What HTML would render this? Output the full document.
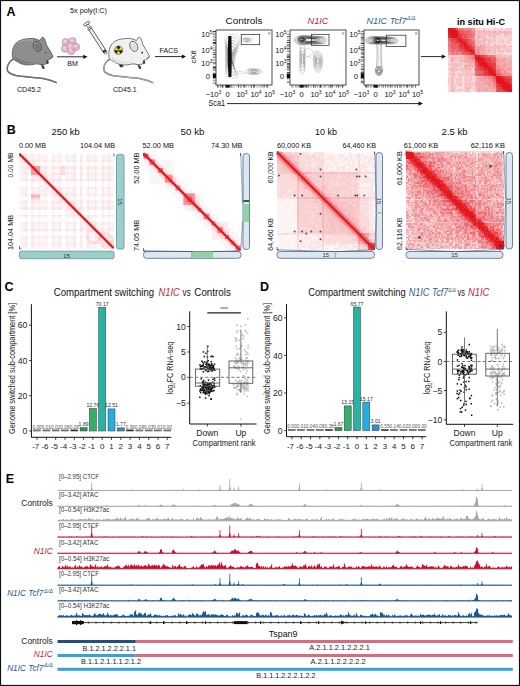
<!DOCTYPE html><html><head><meta charset="utf-8"><style>html,body{margin:0;padding:0;background:#fff;overflow:hidden;}svg{display:block;}text{font-family:"Liberation Sans", sans-serif;}</style></head><body>
<svg width="520" height="686" viewBox="0 0 520 686">
<rect x="0" y="0" width="520" height="686" fill="#fff"/>
<text x="6.5" y="15.8" font-size="12.5" text-anchor="start" fill="#000" font-weight="bold" >A</text>
<g transform="translate(0,0)"><path d="M13.5 59 C9 61 6.8 66 7.3 70 C8 73 11 74.3 16 75.6 C24 77.2 36 77.4 44 78.8 C50 80 54 81.5 56.8 82.9" fill="none" stroke="#505050" stroke-width="1.5"/><path d="M13.5 59 C9 61 6.8 66 7.3 70 C8 73 11 74.3 16 75.6 C24 77.2 36 77.4 44 78.8 C50 80 54 81.5 56.8 82.9" fill="none" stroke="#8e8e8e" stroke-width="0.6"/><path d="M12.9 58.6 C11.5 54 12.5 46 16.6 42.7 C19.5 40 24 38.8 30 38.5 C34 38.3 37 39 39.9 40.6 L42 37.4 C43 37.2 44 37.8 44.5 38.8 C45.5 41 46 43.5 46.5 45 C48.5 48.5 51 52 52.6 55.4 C52.4 57 51.5 58 50.5 58.6 C49.5 59.5 48.3 60 47.3 60.7 L46.2 63.8 C45 64.5 43.5 64.5 42 64.9 C40 64.5 38.5 64 36.7 63.8 C33 64.6 29 65.2 26.2 64.9 C22.5 64.4 19.5 63.4 17.7 61.7 C15.5 61 14 60 12.9 58.6 Z" fill="#8e8e8e" stroke="#505050" stroke-width="0.8"/><path d="M15 56 C20 61 28 62.5 36 61.5 C32 64 24 64.5 18 62.5 C16 61.5 15 59 15 56 Z" fill="#6e6e6e" opacity="0.55"/><path d="M18 43 C22 40 28 39.5 33 40" fill="none" stroke="#fff" stroke-width="0.8" opacity="0.35"/><ellipse cx="37.3" cy="46.4" rx="3.7" ry="5.3" transform="rotate(-25 37.3 46.4)" fill="#8e8e8e" stroke="#505050" stroke-width="0.8"/><ellipse cx="37.6" cy="46.8" rx="2.3" ry="3.7" transform="rotate(-25 37.6 46.8)" fill="#6e6e6e" opacity="0.7"/><circle cx="45.7" cy="52.7" r="0.6" fill="#333"/><path d="M41 64 L42.3 68.6 L44.6 69.2 L44.2 66.2 Z" fill="#333"/><path d="M46.6 60.2 L46.8 64.2 L48.8 63.2 L48.2 60.5 Z" fill="#333"/><path d="M50.5 58.6 L52.6 57.5 L53.3 56.2" fill="none" stroke="#333" stroke-width="0.6"/></g>
<g transform="translate(96.5,0)"><path d="M13.5 59 C9 61 6.8 66 7.3 70 C8 73 11 74.3 16 75.6 C24 77.2 36 77.4 44 78.8 C50 80 54 81.5 56.8 82.9" fill="none" stroke="#555" stroke-width="1.5"/><path d="M13.5 59 C9 61 6.8 66 7.3 70 C8 73 11 74.3 16 75.6 C24 77.2 36 77.4 44 78.8 C50 80 54 81.5 56.8 82.9" fill="none" stroke="#f0f0f0" stroke-width="0.6"/><path d="M12.9 58.6 C11.5 54 12.5 46 16.6 42.7 C19.5 40 24 38.8 30 38.5 C34 38.3 37 39 39.9 40.6 L42 37.4 C43 37.2 44 37.8 44.5 38.8 C45.5 41 46 43.5 46.5 45 C48.5 48.5 51 52 52.6 55.4 C52.4 57 51.5 58 50.5 58.6 C49.5 59.5 48.3 60 47.3 60.7 L46.2 63.8 C45 64.5 43.5 64.5 42 64.9 C40 64.5 38.5 64 36.7 63.8 C33 64.6 29 65.2 26.2 64.9 C22.5 64.4 19.5 63.4 17.7 61.7 C15.5 61 14 60 12.9 58.6 Z" fill="#f0f0f0" stroke="#555" stroke-width="0.8"/><path d="M15 56 C20 61 28 62.5 36 61.5 C32 64 24 64.5 18 62.5 C16 61.5 15 59 15 56 Z" fill="#d4d4d4" opacity="0.55"/><path d="M18 43 C22 40 28 39.5 33 40" fill="none" stroke="#fff" stroke-width="0.8" opacity="0.35"/><ellipse cx="37.3" cy="46.4" rx="3.7" ry="5.3" transform="rotate(-25 37.3 46.4)" fill="#f0f0f0" stroke="#555" stroke-width="0.8"/><ellipse cx="37.6" cy="46.8" rx="2.3" ry="3.7" transform="rotate(-25 37.6 46.8)" fill="#d4d4d4" opacity="0.7"/><circle cx="45.7" cy="52.7" r="0.9" fill="#222"/><path d="M41 64 L42.3 68.6 L44.6 69.2 L44.2 66.2 Z" fill="#333"/><path d="M46.6 60.2 L46.8 64.2 L48.8 63.2 L48.2 60.5 Z" fill="#333"/><path d="M50.5 58.6 L52.6 57.5 L53.3 56.2" fill="none" stroke="#333" stroke-width="0.6"/></g>
<path d="M119 64.5 L120 67.3 L123.5 67 L122.5 64.8 Z" fill="#333"/>
<circle cx="118.5" cy="50.2" r="4.3" fill="#e4d442" stroke="#222" stroke-width="0.4"/>
<path d="M118.5 50.2 L116.46 46.66 A4.085 4.085 0 0 1 120.54 46.66 Z" fill="#222"/>
<path d="M118.5 50.2 L122.58 50.20 A4.085 4.085 0 0 1 120.54 53.74 Z" fill="#222"/>
<path d="M118.5 50.2 L116.46 53.74 A4.085 4.085 0 0 1 114.42 50.20 Z" fill="#222"/>
<circle cx="118.5" cy="50.2" r="0.9" fill="#e8d000"/><circle cx="118.5" cy="50.2" r="0.55" fill="#222"/>
<circle cx="65.8" cy="42.3" r="3.8" fill="#e9b3cb" stroke="#8a8a8a" stroke-width="0.45"/>
<circle cx="72.5" cy="41.2" r="3.8" fill="#e9b3cb" stroke="#8a8a8a" stroke-width="0.45"/>
<circle cx="76" cy="47" r="3.8" fill="#e9b3cb" stroke="#8a8a8a" stroke-width="0.45"/>
<circle cx="71.3" cy="51" r="3.8" fill="#e9b3cb" stroke="#8a8a8a" stroke-width="0.45"/>
<circle cx="65.2" cy="48.6" r="3.8" fill="#e9b3cb" stroke="#8a8a8a" stroke-width="0.45"/>
<circle cx="70.6" cy="46.4" r="3.8" fill="#e9b3cb" stroke="#8a8a8a" stroke-width="0.45"/>
<circle cx="65.0" cy="41.5" r="1.4" fill="#f5d8e6" opacity="0.8"/>
<circle cx="71.7" cy="40.400000000000006" r="1.4" fill="#f5d8e6" opacity="0.8"/>
<circle cx="75.2" cy="46.2" r="1.4" fill="#f5d8e6" opacity="0.8"/>
<circle cx="70.5" cy="50.2" r="1.4" fill="#f5d8e6" opacity="0.8"/>
<circle cx="64.4" cy="47.800000000000004" r="1.4" fill="#f5d8e6" opacity="0.8"/>
<circle cx="69.8" cy="45.6" r="1.4" fill="#f5d8e6" opacity="0.8"/>
<g transform="translate(86.4,23.2) rotate(-33)"><rect x="-3.3" y="-0.6" width="6.6" height="2.3" rx="1.1" fill="#fff" stroke="#333" stroke-width="0.7"/><rect x="-1.1" y="1.7" width="2.2" height="3.8" fill="#fff" stroke="#333" stroke-width="0.6"/><rect x="-2.3" y="5.3" width="4.6" height="1.7" rx="0.8" fill="#fff" stroke="#333" stroke-width="0.6"/><rect x="-1.6" y="7" width="3.2" height="28" fill="#fff" stroke="#333" stroke-width="0.75"/><line x1="-1.5" y1="9.0" x2="1.5" y2="10.2" stroke="#bbb" stroke-width="0.4"/><line x1="-1.5" y1="11.4" x2="1.5" y2="12.6" stroke="#bbb" stroke-width="0.4"/><line x1="-1.5" y1="13.8" x2="1.5" y2="15.0" stroke="#bbb" stroke-width="0.4"/><line x1="-1.5" y1="16.2" x2="1.5" y2="17.4" stroke="#bbb" stroke-width="0.4"/><line x1="-1.5" y1="18.6" x2="1.5" y2="19.8" stroke="#bbb" stroke-width="0.4"/><line x1="-1.5" y1="21.0" x2="1.5" y2="22.2" stroke="#bbb" stroke-width="0.4"/><line x1="-1.5" y1="23.4" x2="1.5" y2="24.6" stroke="#bbb" stroke-width="0.4"/><line x1="-1.5" y1="25.8" x2="1.5" y2="27.0" stroke="#bbb" stroke-width="0.4"/><line x1="-1.5" y1="28.2" x2="1.5" y2="29.4" stroke="#bbb" stroke-width="0.4"/><rect x="-1.6" y="32" width="3.2" height="2.4" fill="#333"/><rect x="-1.3" y="34.4" width="2.6" height="2" rx="0.8" fill="#fff" stroke="#333" stroke-width="0.6"/></g>
<line x1="57" y1="56.8" x2="84.5" y2="56.8" stroke="#111" stroke-width="0.9"/>
<path d="M87.5 56.8 L83.3 54.699999999999996 L83.3 58.9 Z" fill="#111"/>
<line x1="155" y1="56.6" x2="183" y2="56.6" stroke="#111" stroke-width="0.9"/>
<path d="M186 56.6 L181.8 54.5 L181.8 58.7 Z" fill="#111"/>
<line x1="421" y1="56.6" x2="443" y2="56.6" stroke="#111" stroke-width="0.9"/>
<path d="M446 56.6 L441.8 54.5 L441.8 58.7 Z" fill="#111"/>
<text x="88.5" y="13" font-size="7" text-anchor="middle" fill="#111" textLength="37" lengthAdjust="spacingAndGlyphs" >5x poly(I:C)</text>
<text x="72.5" y="65.8" font-size="7" text-anchor="middle" fill="#111" >BM</text>
<text x="29" y="92.3" font-size="7.6" text-anchor="middle" fill="#111" textLength="24" lengthAdjust="spacingAndGlyphs" >CD45.2</text>
<text x="124.8" y="92.2" font-size="7.6" text-anchor="middle" fill="#111" textLength="23.5" lengthAdjust="spacingAndGlyphs" >CD45.1</text>
<text x="168.8" y="53.2" font-size="7" text-anchor="middle" fill="#111" textLength="18.5" lengthAdjust="spacingAndGlyphs" >FACS</text>
<rect x="216" y="30" width="56" height="55" fill="none" stroke="#222" stroke-width="0.8"/>
<text x="212.6" y="37.2" font-size="7.6" text-anchor="end" fill="#111">10<tspan font-size="5" dy="-2.8">5</tspan></text>
<text x="212.6" y="52.6" font-size="7.6" text-anchor="end" fill="#111">10<tspan font-size="5" dy="-2.8">4</tspan></text>
<text x="212.6" y="65.8" font-size="7.6" text-anchor="end" fill="#111">10<tspan font-size="5" dy="-2.8">3</tspan></text>
<text x="210" y="78.6" font-size="7.6" text-anchor="end" fill="#111">0</text>
<rect x="212.8" y="31.0" width="3.2" height="1.0" fill="#333"/>
<rect x="212.8" y="32.6" width="3.2" height="0.7" fill="#888"/>
<rect x="212.8" y="33.6" width="3.2" height="0.5" fill="#888"/>
<rect x="212.8" y="34.4" width="3.2" height="0.7" fill="#555"/>
<rect x="212.8" y="36.6" width="3.2" height="0.7" fill="#333"/>
<rect x="212.8" y="38.8" width="3.2" height="0.7" fill="#555"/>
<rect x="212.8" y="40.1" width="3.2" height="0.5" fill="#111"/>
<rect x="212.8" y="42.1" width="3.2" height="1.0" fill="#111"/>
<rect x="212.8" y="43.4" width="3.2" height="0.7" fill="#111"/>
<rect x="212.8" y="45.1" width="3.2" height="0.7" fill="#aaa"/>
<rect x="212.8" y="47.3" width="3.2" height="0.5" fill="#888"/>
<rect x="212.8" y="48.8" width="3.2" height="0.5" fill="#555"/>
<rect x="212.8" y="49.9" width="3.2" height="0.7" fill="#555"/>
<rect x="212.8" y="52.1" width="3.2" height="1.0" fill="#555"/>
<rect x="212.8" y="54.1" width="3.2" height="1.0" fill="#333"/>
<rect x="212.8" y="56.6" width="3.2" height="1.0" fill="#555"/>
<rect x="212.8" y="59.1" width="3.2" height="0.5" fill="#555"/>
<rect x="212.8" y="60.2" width="3.2" height="0.7" fill="#aaa"/>
<rect x="212.8" y="61.9" width="3.2" height="0.5" fill="#111"/>
<rect x="212.8" y="63.0" width="3.2" height="0.7" fill="#555"/>
<rect x="212.8" y="64.0" width="3.2" height="0.5" fill="#aaa"/>
<rect x="212.8" y="66.0" width="3.2" height="0.7" fill="#555"/>
<rect x="212.8" y="67.3" width="3.2" height="0.7" fill="#111"/>
<rect x="212.8" y="68.3" width="3.2" height="0.7" fill="#555"/>
<rect x="212.8" y="69.6" width="3.2" height="1.0" fill="#555"/>
<rect x="212.8" y="72.1" width="3.2" height="0.5" fill="#aaa"/>
<rect x="212.8" y="73.6" width="3.2" height="0.7" fill="#888"/>
<rect x="212.8" y="75.8" width="3.2" height="1.0" fill="#888"/>
<rect x="212.8" y="78.3" width="3.2" height="1.0" fill="#888"/>
<rect x="212.8" y="80.3" width="3.2" height="1.0" fill="#888"/>
<rect x="212.8" y="82.8" width="3.2" height="0.7" fill="#333"/>
<rect x="212.8" y="73.5" width="3.2" height="4.5" fill="#111"/>
<rect x="217.0" y="85" width="0.7" height="2.6" fill="#333"/>
<rect x="218.3" y="85" width="1.0" height="2.6" fill="#888"/>
<rect x="220.3" y="85" width="0.5" height="2.6" fill="#333"/>
<rect x="221.8" y="85" width="1.0" height="2.6" fill="#111"/>
<rect x="223.4" y="85" width="0.7" height="2.6" fill="#888"/>
<rect x="225.6" y="85" width="0.7" height="2.6" fill="#555"/>
<rect x="227.8" y="85" width="1.0" height="2.6" fill="#111"/>
<rect x="229.4" y="85" width="0.5" height="2.6" fill="#333"/>
<rect x="230.2" y="85" width="0.7" height="2.6" fill="#555"/>
<rect x="231.2" y="85" width="0.5" height="2.6" fill="#333"/>
<rect x="232.3" y="85" width="1.0" height="2.6" fill="#aaa"/>
<rect x="233.6" y="85" width="1.0" height="2.6" fill="#aaa"/>
<rect x="236.1" y="85" width="0.5" height="2.6" fill="#aaa"/>
<rect x="238.1" y="85" width="1.0" height="2.6" fill="#333"/>
<rect x="240.1" y="85" width="1.0" height="2.6" fill="#888"/>
<rect x="241.4" y="85" width="0.5" height="2.6" fill="#555"/>
<rect x="243.4" y="85" width="0.5" height="2.6" fill="#333"/>
<rect x="244.2" y="85" width="1.0" height="2.6" fill="#333"/>
<rect x="246.2" y="85" width="0.7" height="2.6" fill="#aaa"/>
<rect x="247.9" y="85" width="0.5" height="2.6" fill="#888"/>
<rect x="249.4" y="85" width="1.0" height="2.6" fill="#aaa"/>
<rect x="251.0" y="85" width="1.0" height="2.6" fill="#555"/>
<rect x="253.0" y="85" width="0.5" height="2.6" fill="#111"/>
<rect x="253.8" y="85" width="1.0" height="2.6" fill="#333"/>
<rect x="256.3" y="85" width="1.0" height="2.6" fill="#aaa"/>
<rect x="258.3" y="85" width="1.0" height="2.6" fill="#aaa"/>
<rect x="259.9" y="85" width="0.5" height="2.6" fill="#aaa"/>
<rect x="260.7" y="85" width="0.5" height="2.6" fill="#888"/>
<rect x="261.8" y="85" width="0.5" height="2.6" fill="#888"/>
<rect x="262.6" y="85" width="0.7" height="2.6" fill="#555"/>
<rect x="263.9" y="85" width="0.7" height="2.6" fill="#333"/>
<rect x="266.1" y="85" width="0.5" height="2.6" fill="#111"/>
<rect x="267.2" y="85" width="0.5" height="2.6" fill="#111"/>
<rect x="268.3" y="85" width="0.7" height="2.6" fill="#aaa"/>
<rect x="225.5" y="85" width="4" height="2.6" fill="#111"/>
<text x="213.5" y="97.2" font-size="7.6" text-anchor="middle" fill="#111">&#8722;10<tspan font-size="5" dy="-2.8">3</tspan></text>
<text x="227.5" y="97.2" font-size="7.6" text-anchor="middle" fill="#111">0</text>
<text x="242" y="97.2" font-size="7.6" text-anchor="middle" fill="#111">10<tspan font-size="5" dy="-2.8">3</tspan></text>
<text x="256" y="97.2" font-size="7.6" text-anchor="middle" fill="#111">10<tspan font-size="5" dy="-2.8">4</tspan></text>
<text x="269.5" y="97.2" font-size="7.6" text-anchor="middle" fill="#111">10<tspan font-size="5" dy="-2.8">5</tspan></text>
<text x="269" y="35" font-size="4" text-anchor="middle" fill="#333">9</text>
<rect x="290" y="30" width="56" height="55" fill="none" stroke="#222" stroke-width="0.8"/>
<text x="286.6" y="37.2" font-size="7.6" text-anchor="end" fill="#111">10<tspan font-size="5" dy="-2.8">5</tspan></text>
<text x="286.6" y="52.6" font-size="7.6" text-anchor="end" fill="#111">10<tspan font-size="5" dy="-2.8">4</tspan></text>
<text x="286.6" y="65.8" font-size="7.6" text-anchor="end" fill="#111">10<tspan font-size="5" dy="-2.8">3</tspan></text>
<text x="284" y="78.6" font-size="7.6" text-anchor="end" fill="#111">0</text>
<rect x="286.8" y="31.0" width="3.2" height="0.7" fill="#aaa"/>
<rect x="286.8" y="33.2" width="3.2" height="0.5" fill="#aaa"/>
<rect x="286.8" y="34.3" width="3.2" height="0.5" fill="#333"/>
<rect x="286.8" y="36.3" width="3.2" height="0.5" fill="#111"/>
<rect x="286.8" y="37.1" width="3.2" height="0.7" fill="#aaa"/>
<rect x="286.8" y="38.8" width="3.2" height="0.5" fill="#888"/>
<rect x="286.8" y="40.3" width="3.2" height="0.7" fill="#333"/>
<rect x="286.8" y="42.0" width="3.2" height="1.0" fill="#333"/>
<rect x="286.8" y="44.5" width="3.2" height="1.0" fill="#333"/>
<rect x="286.8" y="46.5" width="3.2" height="0.7" fill="#555"/>
<rect x="286.8" y="48.2" width="3.2" height="0.7" fill="#333"/>
<rect x="286.8" y="49.2" width="3.2" height="0.7" fill="#aaa"/>
<rect x="286.8" y="50.5" width="3.2" height="0.7" fill="#aaa"/>
<rect x="286.8" y="51.5" width="3.2" height="0.5" fill="#333"/>
<rect x="286.8" y="53.5" width="3.2" height="0.5" fill="#aaa"/>
<rect x="286.8" y="54.3" width="3.2" height="0.7" fill="#888"/>
<rect x="286.8" y="55.6" width="3.2" height="1.0" fill="#111"/>
<rect x="286.8" y="56.9" width="3.2" height="1.0" fill="#555"/>
<rect x="286.8" y="58.9" width="3.2" height="0.7" fill="#111"/>
<rect x="286.8" y="60.2" width="3.2" height="0.5" fill="#555"/>
<rect x="286.8" y="61.7" width="3.2" height="0.5" fill="#555"/>
<rect x="286.8" y="63.2" width="3.2" height="1.0" fill="#333"/>
<rect x="286.8" y="64.5" width="3.2" height="0.7" fill="#111"/>
<rect x="286.8" y="65.8" width="3.2" height="1.0" fill="#555"/>
<rect x="286.8" y="67.4" width="3.2" height="1.0" fill="#333"/>
<rect x="286.8" y="69.0" width="3.2" height="0.5" fill="#333"/>
<rect x="286.8" y="70.1" width="3.2" height="0.7" fill="#888"/>
<rect x="286.8" y="72.3" width="3.2" height="0.7" fill="#111"/>
<rect x="286.8" y="74.5" width="3.2" height="0.7" fill="#111"/>
<rect x="286.8" y="76.2" width="3.2" height="0.7" fill="#333"/>
<rect x="286.8" y="77.2" width="3.2" height="0.5" fill="#111"/>
<rect x="286.8" y="78.0" width="3.2" height="1.0" fill="#888"/>
<rect x="286.8" y="79.6" width="3.2" height="0.5" fill="#aaa"/>
<rect x="286.8" y="81.6" width="3.2" height="1.0" fill="#555"/>
<rect x="286.8" y="73.5" width="3.2" height="4.5" fill="#111"/>
<rect x="291.0" y="85" width="0.5" height="2.6" fill="#555"/>
<rect x="292.5" y="85" width="1.0" height="2.6" fill="#888"/>
<rect x="295.0" y="85" width="0.7" height="2.6" fill="#888"/>
<rect x="296.7" y="85" width="0.7" height="2.6" fill="#555"/>
<rect x="298.4" y="85" width="0.7" height="2.6" fill="#888"/>
<rect x="300.6" y="85" width="0.7" height="2.6" fill="#555"/>
<rect x="302.3" y="85" width="0.5" height="2.6" fill="#aaa"/>
<rect x="303.1" y="85" width="0.5" height="2.6" fill="#111"/>
<rect x="304.6" y="85" width="1.0" height="2.6" fill="#111"/>
<rect x="306.2" y="85" width="0.7" height="2.6" fill="#111"/>
<rect x="307.2" y="85" width="0.5" height="2.6" fill="#555"/>
<rect x="308.3" y="85" width="0.7" height="2.6" fill="#333"/>
<rect x="310.5" y="85" width="1.0" height="2.6" fill="#888"/>
<rect x="313.0" y="85" width="0.7" height="2.6" fill="#111"/>
<rect x="314.3" y="85" width="0.5" height="2.6" fill="#888"/>
<rect x="315.1" y="85" width="0.7" height="2.6" fill="#555"/>
<rect x="316.8" y="85" width="1.0" height="2.6" fill="#888"/>
<rect x="318.8" y="85" width="1.0" height="2.6" fill="#888"/>
<rect x="320.1" y="85" width="1.0" height="2.6" fill="#111"/>
<rect x="321.4" y="85" width="1.0" height="2.6" fill="#aaa"/>
<rect x="323.0" y="85" width="0.5" height="2.6" fill="#aaa"/>
<rect x="324.5" y="85" width="0.7" height="2.6" fill="#555"/>
<rect x="325.8" y="85" width="0.5" height="2.6" fill="#888"/>
<rect x="327.8" y="85" width="0.5" height="2.6" fill="#888"/>
<rect x="328.6" y="85" width="1.0" height="2.6" fill="#888"/>
<rect x="330.2" y="85" width="0.7" height="2.6" fill="#333"/>
<rect x="331.5" y="85" width="1.0" height="2.6" fill="#111"/>
<rect x="334.0" y="85" width="0.7" height="2.6" fill="#aaa"/>
<rect x="336.2" y="85" width="0.5" height="2.6" fill="#333"/>
<rect x="337.7" y="85" width="1.0" height="2.6" fill="#333"/>
<rect x="339.7" y="85" width="0.7" height="2.6" fill="#555"/>
<rect x="340.7" y="85" width="0.5" height="2.6" fill="#aaa"/>
<rect x="342.2" y="85" width="1.0" height="2.6" fill="#111"/>
<rect x="299.5" y="85" width="4" height="2.6" fill="#111"/>
<text x="287.5" y="97.2" font-size="7.6" text-anchor="middle" fill="#111">&#8722;10<tspan font-size="5" dy="-2.8">3</tspan></text>
<text x="301.5" y="97.2" font-size="7.6" text-anchor="middle" fill="#111">0</text>
<text x="316" y="97.2" font-size="7.6" text-anchor="middle" fill="#111">10<tspan font-size="5" dy="-2.8">3</tspan></text>
<text x="330" y="97.2" font-size="7.6" text-anchor="middle" fill="#111">10<tspan font-size="5" dy="-2.8">4</tspan></text>
<text x="343.5" y="97.2" font-size="7.6" text-anchor="middle" fill="#111">10<tspan font-size="5" dy="-2.8">5</tspan></text>
<text x="343" y="35" font-size="4" text-anchor="middle" fill="#333">9</text>
<rect x="364" y="30" width="55" height="55" fill="none" stroke="#222" stroke-width="0.8"/>
<text x="360.6" y="37.2" font-size="7.6" text-anchor="end" fill="#111">10<tspan font-size="5" dy="-2.8">5</tspan></text>
<text x="360.6" y="52.6" font-size="7.6" text-anchor="end" fill="#111">10<tspan font-size="5" dy="-2.8">4</tspan></text>
<text x="360.6" y="65.8" font-size="7.6" text-anchor="end" fill="#111">10<tspan font-size="5" dy="-2.8">3</tspan></text>
<text x="358" y="78.6" font-size="7.6" text-anchor="end" fill="#111">0</text>
<rect x="360.8" y="31.0" width="3.2" height="0.5" fill="#111"/>
<rect x="360.8" y="33.0" width="3.2" height="0.5" fill="#111"/>
<rect x="360.8" y="34.1" width="3.2" height="0.5" fill="#555"/>
<rect x="360.8" y="35.2" width="3.2" height="1.0" fill="#aaa"/>
<rect x="360.8" y="36.8" width="3.2" height="1.0" fill="#333"/>
<rect x="360.8" y="38.1" width="3.2" height="0.5" fill="#555"/>
<rect x="360.8" y="38.9" width="3.2" height="0.5" fill="#333"/>
<rect x="360.8" y="40.0" width="3.2" height="0.7" fill="#888"/>
<rect x="360.8" y="41.7" width="3.2" height="0.5" fill="#888"/>
<rect x="360.8" y="42.8" width="3.2" height="1.0" fill="#111"/>
<rect x="360.8" y="44.8" width="3.2" height="1.0" fill="#888"/>
<rect x="360.8" y="47.3" width="3.2" height="1.0" fill="#333"/>
<rect x="360.8" y="49.3" width="3.2" height="1.0" fill="#111"/>
<rect x="360.8" y="50.9" width="3.2" height="0.7" fill="#aaa"/>
<rect x="360.8" y="52.6" width="3.2" height="1.0" fill="#333"/>
<rect x="360.8" y="54.2" width="3.2" height="0.5" fill="#333"/>
<rect x="360.8" y="56.2" width="3.2" height="0.5" fill="#333"/>
<rect x="360.8" y="57.0" width="3.2" height="1.0" fill="#555"/>
<rect x="360.8" y="59.0" width="3.2" height="0.5" fill="#555"/>
<rect x="360.8" y="60.5" width="3.2" height="0.7" fill="#555"/>
<rect x="360.8" y="61.5" width="3.2" height="0.5" fill="#888"/>
<rect x="360.8" y="63.0" width="3.2" height="0.5" fill="#aaa"/>
<rect x="360.8" y="64.5" width="3.2" height="0.7" fill="#333"/>
<rect x="360.8" y="66.2" width="3.2" height="0.5" fill="#333"/>
<rect x="360.8" y="67.7" width="3.2" height="0.7" fill="#888"/>
<rect x="360.8" y="68.7" width="3.2" height="1.0" fill="#333"/>
<rect x="360.8" y="70.7" width="3.2" height="0.5" fill="#888"/>
<rect x="360.8" y="71.8" width="3.2" height="1.0" fill="#333"/>
<rect x="360.8" y="73.1" width="3.2" height="1.0" fill="#555"/>
<rect x="360.8" y="75.1" width="3.2" height="0.5" fill="#333"/>
<rect x="360.8" y="77.1" width="3.2" height="1.0" fill="#333"/>
<rect x="360.8" y="78.4" width="3.2" height="0.7" fill="#333"/>
<rect x="360.8" y="80.1" width="3.2" height="0.7" fill="#aaa"/>
<rect x="360.8" y="81.1" width="3.2" height="0.5" fill="#111"/>
<rect x="360.8" y="81.9" width="3.2" height="0.5" fill="#333"/>
<rect x="360.8" y="82.7" width="3.2" height="0.5" fill="#333"/>
<rect x="360.8" y="73.5" width="3.2" height="4.5" fill="#111"/>
<rect x="365.0" y="85" width="0.5" height="2.6" fill="#111"/>
<rect x="366.1" y="85" width="1.0" height="2.6" fill="#555"/>
<rect x="367.7" y="85" width="0.7" height="2.6" fill="#333"/>
<rect x="369.9" y="85" width="1.0" height="2.6" fill="#888"/>
<rect x="371.2" y="85" width="1.0" height="2.6" fill="#aaa"/>
<rect x="373.2" y="85" width="1.0" height="2.6" fill="#aaa"/>
<rect x="375.7" y="85" width="1.0" height="2.6" fill="#111"/>
<rect x="377.0" y="85" width="1.0" height="2.6" fill="#555"/>
<rect x="378.3" y="85" width="0.7" height="2.6" fill="#aaa"/>
<rect x="379.3" y="85" width="0.5" height="2.6" fill="#555"/>
<rect x="381.3" y="85" width="1.0" height="2.6" fill="#888"/>
<rect x="382.9" y="85" width="0.7" height="2.6" fill="#333"/>
<rect x="385.1" y="85" width="0.7" height="2.6" fill="#333"/>
<rect x="386.8" y="85" width="0.7" height="2.6" fill="#888"/>
<rect x="387.8" y="85" width="0.5" height="2.6" fill="#111"/>
<rect x="389.3" y="85" width="0.5" height="2.6" fill="#888"/>
<rect x="390.4" y="85" width="0.5" height="2.6" fill="#111"/>
<rect x="391.5" y="85" width="1.0" height="2.6" fill="#555"/>
<rect x="394.0" y="85" width="0.7" height="2.6" fill="#888"/>
<rect x="395.3" y="85" width="0.7" height="2.6" fill="#555"/>
<rect x="397.0" y="85" width="1.0" height="2.6" fill="#555"/>
<rect x="399.5" y="85" width="1.0" height="2.6" fill="#333"/>
<rect x="401.1" y="85" width="1.0" height="2.6" fill="#888"/>
<rect x="403.6" y="85" width="0.7" height="2.6" fill="#555"/>
<rect x="405.8" y="85" width="0.7" height="2.6" fill="#555"/>
<rect x="406.8" y="85" width="1.0" height="2.6" fill="#333"/>
<rect x="408.8" y="85" width="0.7" height="2.6" fill="#555"/>
<rect x="411.0" y="85" width="0.5" height="2.6" fill="#333"/>
<rect x="411.8" y="85" width="0.7" height="2.6" fill="#333"/>
<rect x="412.8" y="85" width="1.0" height="2.6" fill="#aaa"/>
<rect x="415.3" y="85" width="0.7" height="2.6" fill="#333"/>
<rect x="373.5" y="85" width="4" height="2.6" fill="#111"/>
<text x="361.5" y="97.2" font-size="7.6" text-anchor="middle" fill="#111">&#8722;10<tspan font-size="5" dy="-2.8">3</tspan></text>
<text x="375.5" y="97.2" font-size="7.6" text-anchor="middle" fill="#111">0</text>
<text x="390" y="97.2" font-size="7.6" text-anchor="middle" fill="#111">10<tspan font-size="5" dy="-2.8">3</tspan></text>
<text x="404" y="97.2" font-size="7.6" text-anchor="middle" fill="#111">10<tspan font-size="5" dy="-2.8">4</tspan></text>
<text x="417.5" y="97.2" font-size="7.6" text-anchor="middle" fill="#111">10<tspan font-size="5" dy="-2.8">5</tspan></text>
<text x="416" y="35" font-size="4" text-anchor="middle" fill="#333">9</text>
<text x="244" y="24.2" font-size="9.6" text-anchor="middle" fill="#111" textLength="37" lengthAdjust="spacingAndGlyphs" >Controls</text>
<text x="318" y="24.2" font-size="9.6" text-anchor="middle" fill="#c41e3a" font-style="italic" textLength="21" lengthAdjust="spacingAndGlyphs" >N1IC</text>
<text x="366.5" y="24.2" font-size="9.6" fill="#2b5e8c" font-style="italic" textLength="40" lengthAdjust="spacingAndGlyphs">N1IC Tcf7</text>
<text x="407" y="20.3" font-size="5.4" fill="#2b5e8c" font-style="italic">&#916;/&#916;</text>
<text transform="translate(196.3,57) rotate(-90)" font-size="7.8" text-anchor="middle" fill="#111">cKit</text>
<text x="208.5" y="105.8" font-size="8.2" text-anchor="start" fill="#111" textLength="16.5" lengthAdjust="spacingAndGlyphs" >Sca1</text>
<line x1="227" y1="103.6" x2="419" y2="103.6" stroke="#111" stroke-width="0.9"/>
<path d="M423 103.6 L418.5 101.5 L418.5 105.7 Z" fill="#111"/>
<path d="M-2 -21 C2 -23 10 -20 10 -15 C9 -8 5 0 4 10 C4 16 9 19 8 21 C4 23 -3 22 -4 20 C-5 10 -4 -10 -5 -16 C-5 -19 -4 -20 -2 -21 Z" transform="translate(229.9,56) scale(1.000)" fill="none" stroke="#b0b0b0" stroke-width="0.45"/>
<path d="M-2 -21 C2 -23 10 -20 10 -15 C9 -8 5 0 4 10 C4 16 9 19 8 21 C4 23 -3 22 -4 20 C-5 10 -4 -10 -5 -16 C-5 -19 -4 -20 -2 -21 Z" transform="translate(229.9,56) scale(0.867)" fill="none" stroke="#999" stroke-width="0.52"/>
<path d="M-2 -21 C2 -23 10 -20 10 -15 C9 -8 5 0 4 10 C4 16 9 19 8 21 C4 23 -3 22 -4 20 C-5 10 -4 -10 -5 -16 C-5 -19 -4 -20 -2 -21 Z" transform="translate(229.9,56) scale(0.733)" fill="none" stroke="#808080" stroke-width="0.61"/>
<path d="M-2 -21 C2 -23 10 -20 10 -15 C9 -8 5 0 4 10 C4 16 9 19 8 21 C4 23 -3 22 -4 20 C-5 10 -4 -10 -5 -16 C-5 -19 -4 -20 -2 -21 Z" transform="translate(229.9,56) scale(0.600)" fill="none" stroke="#666" stroke-width="0.75"/>
<path d="M-2 -21 C2 -23 10 -20 10 -15 C9 -8 5 0 4 10 C4 16 9 19 8 21 C4 23 -3 22 -4 20 C-5 10 -4 -10 -5 -16 C-5 -19 -4 -20 -2 -21 Z" transform="translate(229.9,56) scale(0.467)" fill="none" stroke="#4a4a4a" stroke-width="0.96"/>
<path d="M-2 -21 C2 -23 10 -20 10 -15 C9 -8 5 0 4 10 C4 16 9 19 8 21 C4 23 -3 22 -4 20 C-5 10 -4 -10 -5 -16 C-5 -19 -4 -20 -2 -21 Z" transform="translate(229.9,56) scale(0.333)" fill="none" stroke="#333" stroke-width="1.35"/>
<path d="M-2 -21 C2 -23 10 -20 10 -15 C9 -8 5 0 4 10 C4 16 9 19 8 21 C4 23 -3 22 -4 20 C-5 10 -4 -10 -5 -16 C-5 -19 -4 -20 -2 -21 Z" transform="translate(229.9,56) scale(0.200)" fill="none" stroke="#222" stroke-width="2.25"/>
<path d="M228.3 36 C227.6 50 227.8 66 228.5 77 L231.4 77 C231.8 66 231.8 50 231.4 36 Z" fill="#111"/>
<path d="M-7 -2.5 C-3 -3.5 5 -3.5 7.5 -1.5 C8.5 0 7 2.5 3 2.8 C-2 3 -6 2.5 -7.5 1 Z" transform="translate(254,71.8) scale(1.000)" fill="none" stroke="#999" stroke-width="0.45"/>
<path d="M-7 -2.5 C-3 -3.5 5 -3.5 7.5 -1.5 C8.5 0 7 2.5 3 2.8 C-2 3 -6 2.5 -7.5 1 Z" transform="translate(254,71.8) scale(0.767)" fill="none" stroke="#777" stroke-width="0.59"/>
<path d="M-7 -2.5 C-3 -3.5 5 -3.5 7.5 -1.5 C8.5 0 7 2.5 3 2.8 C-2 3 -6 2.5 -7.5 1 Z" transform="translate(254,71.8) scale(0.533)" fill="none" stroke="#555" stroke-width="0.84"/>
<path d="M-7 -2.5 C-3 -3.5 5 -3.5 7.5 -1.5 C8.5 0 7 2.5 3 2.8 C-2 3 -6 2.5 -7.5 1 Z" transform="translate(254,71.8) scale(0.300)" fill="none" stroke="#444" stroke-width="1.50"/>
<path d="M234 74 C238 70 242 72 246.5 72.5" fill="none" stroke="#aaa" stroke-width="0.4"/>
<path d="M233 76 C238 73 243 74 246.5 73.5" fill="none" stroke="#bbb" stroke-width="0.4"/>
<path d="M-5.5 -1.6 C-2 -2.6 4 -2.4 5.5 -0.5 C6 1 3 2.2 0 2.2 C-3 2.2 -6 1.2 -5.5 -1.6 Z" transform="translate(247,40) scale(1.000)" fill="none" stroke="#999" stroke-width="0.45"/>
<path d="M-5.5 -1.6 C-2 -2.6 4 -2.4 5.5 -0.5 C6 1 3 2.2 0 2.2 C-3 2.2 -6 1.2 -5.5 -1.6 Z" transform="translate(247,40) scale(0.675)" fill="none" stroke="#777" stroke-width="0.67"/>
<path d="M-5.5 -1.6 C-2 -2.6 4 -2.4 5.5 -0.5 C6 1 3 2.2 0 2.2 C-3 2.2 -6 1.2 -5.5 -1.6 Z" transform="translate(247,40) scale(0.350)" fill="none" stroke="#555" stroke-width="1.29"/>
<rect x="241.2" y="34.6" width="18.5" height="10.1" fill="none" stroke="#222" stroke-width="0.7"/>
<path d="M-16 0 C-15 -3.5 -10 -5 -6 -4.6 C0 -4 8 -4 14 -3 C17 -2 17 2.5 14 3.5 C8 4.5 0 4 -6 4.6 C-11 5 -16 3.5 -16 0 Z" transform="translate(310,40) scale(1.000)" fill="none" stroke="#888" stroke-width="0.50"/>
<path d="M-16 0 C-15 -3.5 -10 -5 -6 -4.6 C0 -4 8 -4 14 -3 C17 -2 17 2.5 14 3.5 C8 4.5 0 4 -6 4.6 C-11 5 -16 3.5 -16 0 Z" transform="translate(310,40) scale(0.900)" fill="none" stroke="#666" stroke-width="0.56"/>
<path d="M-16 0 C-15 -3.5 -10 -5 -6 -4.6 C0 -4 8 -4 14 -3 C17 -2 17 2.5 14 3.5 C8 4.5 0 4 -6 4.6 C-11 5 -16 3.5 -16 0 Z" transform="translate(310,40) scale(0.800)" fill="none" stroke="#555" stroke-width="0.62"/>
<path d="M-16 0 C-15 -3.5 -10 -5 -6 -4.6 C0 -4 8 -4 14 -3 C17 -2 17 2.5 14 3.5 C8 4.5 0 4 -6 4.6 C-11 5 -16 3.5 -16 0 Z" transform="translate(310,40) scale(0.700)" fill="none" stroke="#444" stroke-width="0.71"/>
<path d="M-16 0 C-15 -3.5 -10 -5 -6 -4.6 C0 -4 8 -4 14 -3 C17 -2 17 2.5 14 3.5 C8 4.5 0 4 -6 4.6 C-11 5 -16 3.5 -16 0 Z" transform="translate(310,40) scale(0.600)" fill="none" stroke="#333" stroke-width="0.83"/>
<path d="M-16 0 C-15 -3.5 -10 -5 -6 -4.6 C0 -4 8 -4 14 -3 C17 -2 17 2.5 14 3.5 C8 4.5 0 4 -6 4.6 C-11 5 -16 3.5 -16 0 Z" transform="translate(310,40) scale(0.500)" fill="none" stroke="#222" stroke-width="1.00"/>
<path d="M-16 0 C-15 -3.5 -10 -5 -6 -4.6 C0 -4 8 -4 14 -3 C17 -2 17 2.5 14 3.5 C8 4.5 0 4 -6 4.6 C-11 5 -16 3.5 -16 0 Z" transform="translate(310,40) scale(0.400)" fill="none" stroke="#222" stroke-width="1.25"/>
<path d="M-16 0 C-15 -3.5 -10 -5 -6 -4.6 C0 -4 8 -4 14 -3 C17 -2 17 2.5 14 3.5 C8 4.5 0 4 -6 4.6 C-11 5 -16 3.5 -16 0 Z" transform="translate(310,40) scale(0.300)" fill="none" stroke="#111" stroke-width="1.67"/>
<path d="M-3 -2.5 C0 -3 3 -2 3 0 C3 2 0 2.8 -3 2.4 C-4.5 2 -4.5 -2 -3 -2.5 Z" transform="translate(302.4,39.6) scale(1.000)" fill="none" stroke="#222" stroke-width="0.70"/>
<path d="M-3 -2.5 C0 -3 3 -2 3 0 C3 2 0 2.8 -3 2.4 C-4.5 2 -4.5 -2 -3 -2.5 Z" transform="translate(302.4,39.6) scale(0.700)" fill="none" stroke="#111" stroke-width="1.00"/>
<path d="M-3 -2.5 C0 -3 3 -2 3 0 C3 2 0 2.8 -3 2.4 C-4.5 2 -4.5 -2 -3 -2.5 Z" transform="translate(302.4,39.6) scale(0.400)" fill="none" stroke="#000" stroke-width="1.75"/>
<path d="M-2.5 -14 C1 -15 3 -14 2.5 -8 C2 0 3 8 2 13 C1 15 -2 15 -2.6 12 C-3.2 6 -3 -4 -2.5 -14 Z" transform="translate(302.6,59) scale(1.000)" fill="none" stroke="#999" stroke-width="0.45"/>
<path d="M-2.5 -14 C1 -15 3 -14 2.5 -8 C2 0 3 8 2 13 C1 15 -2 15 -2.6 12 C-3.2 6 -3 -4 -2.5 -14 Z" transform="translate(302.6,59) scale(0.783)" fill="none" stroke="#888" stroke-width="0.57"/>
<path d="M-2.5 -14 C1 -15 3 -14 2.5 -8 C2 0 3 8 2 13 C1 15 -2 15 -2.6 12 C-3.2 6 -3 -4 -2.5 -14 Z" transform="translate(302.6,59) scale(0.567)" fill="none" stroke="#777" stroke-width="0.79"/>
<path d="M-2.5 -14 C1 -15 3 -14 2.5 -8 C2 0 3 8 2 13 C1 15 -2 15 -2.6 12 C-3.2 6 -3 -4 -2.5 -14 Z" transform="translate(302.6,59) scale(0.350)" fill="none" stroke="#666" stroke-width="1.29"/>
<path d="M-3.5 -10 C0 -12 4.5 -9 4.8 -2 C5 5 3 10.5 0 11 C-3 11 -4.8 6 -4.6 -1 C-4.5 -5 -4.5 -8.5 -3.5 -10 Z" transform="translate(318,61.5) scale(1.000)" fill="none" stroke="#aaa" stroke-width="0.45"/>
<path d="M-3.5 -10 C0 -12 4.5 -9 4.8 -2 C5 5 3 10.5 0 11 C-3 11 -4.8 6 -4.6 -1 C-4.5 -5 -4.5 -8.5 -3.5 -10 Z" transform="translate(318,61.5) scale(0.850)" fill="none" stroke="#999" stroke-width="0.53"/>
<path d="M-3.5 -10 C0 -12 4.5 -9 4.8 -2 C5 5 3 10.5 0 11 C-3 11 -4.8 6 -4.6 -1 C-4.5 -5 -4.5 -8.5 -3.5 -10 Z" transform="translate(318,61.5) scale(0.700)" fill="none" stroke="#888" stroke-width="0.64"/>
<path d="M-3.5 -10 C0 -12 4.5 -9 4.8 -2 C5 5 3 10.5 0 11 C-3 11 -4.8 6 -4.6 -1 C-4.5 -5 -4.5 -8.5 -3.5 -10 Z" transform="translate(318,61.5) scale(0.550)" fill="none" stroke="#777" stroke-width="0.82"/>
<path d="M-3.5 -10 C0 -12 4.5 -9 4.8 -2 C5 5 3 10.5 0 11 C-3 11 -4.8 6 -4.6 -1 C-4.5 -5 -4.5 -8.5 -3.5 -10 Z" transform="translate(318,61.5) scale(0.400)" fill="none" stroke="#666" stroke-width="1.12"/>
<path d="M-3.5 -10 C0 -12 4.5 -9 4.8 -2 C5 5 3 10.5 0 11 C-3 11 -4.8 6 -4.6 -1 C-4.5 -5 -4.5 -8.5 -3.5 -10 Z" transform="translate(318,61.5) scale(0.250)" fill="none" stroke="#555" stroke-width="1.80"/>
<path d="M305 50 C308 47 312 49 313 52 C311 56 307 58 305 55" fill="none" stroke="#aaa" stroke-width="0.4"/>
<path d="M305 58 C308 55 311 57 313.5 60" fill="none" stroke="#aaa" stroke-width="0.4"/>
<rect x="311.6" y="34.3" width="17.4" height="11" fill="none" stroke="#222" stroke-width="0.7"/>
<path d="M-16 0 C-15 -3 -10 -4 -5 -3.8 C2 -3.5 10 -3.5 15 -2.2 C18 -1 18 2 15 3 C9 4 2 3.6 -5 3.9 C-11 4.2 -16 3 -16 0 Z" transform="translate(381,40.2) scale(1.000)" fill="none" stroke="#888" stroke-width="0.50"/>
<path d="M-16 0 C-15 -3 -10 -4 -5 -3.8 C2 -3.5 10 -3.5 15 -2.2 C18 -1 18 2 15 3 C9 4 2 3.6 -5 3.9 C-11 4.2 -16 3 -16 0 Z" transform="translate(381,40.2) scale(0.900)" fill="none" stroke="#666" stroke-width="0.56"/>
<path d="M-16 0 C-15 -3 -10 -4 -5 -3.8 C2 -3.5 10 -3.5 15 -2.2 C18 -1 18 2 15 3 C9 4 2 3.6 -5 3.9 C-11 4.2 -16 3 -16 0 Z" transform="translate(381,40.2) scale(0.800)" fill="none" stroke="#555" stroke-width="0.62"/>
<path d="M-16 0 C-15 -3 -10 -4 -5 -3.8 C2 -3.5 10 -3.5 15 -2.2 C18 -1 18 2 15 3 C9 4 2 3.6 -5 3.9 C-11 4.2 -16 3 -16 0 Z" transform="translate(381,40.2) scale(0.700)" fill="none" stroke="#444" stroke-width="0.71"/>
<path d="M-16 0 C-15 -3 -10 -4 -5 -3.8 C2 -3.5 10 -3.5 15 -2.2 C18 -1 18 2 15 3 C9 4 2 3.6 -5 3.9 C-11 4.2 -16 3 -16 0 Z" transform="translate(381,40.2) scale(0.600)" fill="none" stroke="#333" stroke-width="0.83"/>
<path d="M-16 0 C-15 -3 -10 -4 -5 -3.8 C2 -3.5 10 -3.5 15 -2.2 C18 -1 18 2 15 3 C9 4 2 3.6 -5 3.9 C-11 4.2 -16 3 -16 0 Z" transform="translate(381,40.2) scale(0.500)" fill="none" stroke="#222" stroke-width="1.00"/>
<path d="M-16 0 C-15 -3 -10 -4 -5 -3.8 C2 -3.5 10 -3.5 15 -2.2 C18 -1 18 2 15 3 C9 4 2 3.6 -5 3.9 C-11 4.2 -16 3 -16 0 Z" transform="translate(381,40.2) scale(0.400)" fill="none" stroke="#222" stroke-width="1.25"/>
<path d="M-16 0 C-15 -3 -10 -4 -5 -3.8 C2 -3.5 10 -3.5 15 -2.2 C18 -1 18 2 15 3 C9 4 2 3.6 -5 3.9 C-11 4.2 -16 3 -16 0 Z" transform="translate(381,40.2) scale(0.300)" fill="none" stroke="#111" stroke-width="1.67"/>
<path d="M-3 -2.6 C0 -3.2 3 -2 3 0 C3 2 0 2.8 -3 2.4 C-4.5 2 -4.5 -2 -3 -2.6 Z" transform="translate(378,40.5) scale(1.000)" fill="none" stroke="#222" stroke-width="0.70"/>
<path d="M-3 -2.6 C0 -3.2 3 -2 3 0 C3 2 0 2.8 -3 2.4 C-4.5 2 -4.5 -2 -3 -2.6 Z" transform="translate(378,40.5) scale(0.700)" fill="none" stroke="#111" stroke-width="1.00"/>
<path d="M-3 -2.6 C0 -3.2 3 -2 3 0 C3 2 0 2.8 -3 2.4 C-4.5 2 -4.5 -2 -3 -2.6 Z" transform="translate(378,40.5) scale(0.400)" fill="none" stroke="#000" stroke-width="1.75"/>
<path d="M376.8 44 C377.3 52 377.2 60 376.5 67 L382 67 C381.2 60 381 52 381.5 44 Z" fill="none" stroke="#666" stroke-width="0.45"/>
<path d="M378 45 C378.3 52 378.3 60 378 67 M380.3 45 C380 52 380 60 380.5 67" fill="none" stroke="#999" stroke-width="0.4"/>
<path d="M-3.5 -3 C-2 -5 2 -5 3.5 -3 C4 0 3 4 0 4.3 C-3 4.3 -4 1 -3.5 -3 Z" transform="translate(379,71.3) scale(1.000)" fill="none" stroke="#555" stroke-width="0.50"/>
<path d="M-3.5 -3 C-2 -5 2 -5 3.5 -3 C4 0 3 4 0 4.3 C-3 4.3 -4 1 -3.5 -3 Z" transform="translate(379,71.3) scale(0.783)" fill="none" stroke="#444" stroke-width="0.64"/>
<path d="M-3.5 -3 C-2 -5 2 -5 3.5 -3 C4 0 3 4 0 4.3 C-3 4.3 -4 1 -3.5 -3 Z" transform="translate(379,71.3) scale(0.567)" fill="none" stroke="#333" stroke-width="0.88"/>
<path d="M-3.5 -3 C-2 -5 2 -5 3.5 -3 C4 0 3 4 0 4.3 C-3 4.3 -4 1 -3.5 -3 Z" transform="translate(379,71.3) scale(0.350)" fill="none" stroke="#222" stroke-width="1.43"/>
<rect x="386.2" y="35.2" width="19.7" height="11.3" fill="none" stroke="#222" stroke-width="0.7"/>
<text x="481" y="24.6" font-size="9.6" text-anchor="middle" fill="#000" font-weight="bold" textLength="48" lengthAdjust="spacingAndGlyphs" >in situ Hi-C</text>
<rect x="448" y="28" width="64" height="64" fill="rgb(248,204,206)"/>
<g shape-rendering="crispEdges">
<path fill="rgb(250,221,222)" d="M480.0 28.0h3.2v1.7h-3.2zM484.8 28.0h9.7v1.7h-9.7zM496.0 28.0h1.7v1.7h-1.7zM499.2 28.0h1.7v1.7h-1.7zM502.4 28.0h3.2v1.7h-3.2zM481.6 29.6h1.7v1.7h-1.7zM486.4 29.6h1.7v1.7h-1.7zM491.2 29.6h1.7v1.7h-1.7zM502.4 29.6h1.7v1.7h-1.7zM505.6 29.6h1.7v1.7h-1.7zM510.4 29.6h1.7v1.7h-1.7zM486.4 34.4h1.7v1.7h-1.7zM502.4 34.4h1.7v1.7h-1.7zM505.6 34.4h1.7v1.7h-1.7zM510.4 34.4h1.7v1.7h-1.7zM486.4 36.0h1.7v1.7h-1.7zM496.0 36.0h1.7v1.7h-1.7zM500.8 36.0h1.7v1.7h-1.7zM475.2 37.6h1.7v1.7h-1.7zM488.0 37.6h1.7v1.7h-1.7zM491.2 37.6h4.9v1.7h-4.9zM497.6 37.6h4.9v1.7h-4.9zM504.0 37.6h1.7v1.7h-1.7zM508.8 37.6h1.7v1.7h-1.7zM496.0 39.2h1.7v1.7h-1.7zM504.0 39.2h1.7v1.7h-1.7zM507.2 39.2h1.7v1.7h-1.7zM510.4 39.2h1.7v1.7h-1.7zM486.4 40.8h1.7v1.7h-1.7zM500.8 40.8h1.7v1.7h-1.7zM505.6 40.8h1.7v1.7h-1.7zM510.4 40.8h1.7v1.7h-1.7zM489.6 42.4h1.7v1.7h-1.7zM492.8 42.4h1.7v1.7h-1.7zM496.0 42.4h3.2v1.7h-3.2zM500.8 42.4h4.9v1.7h-4.9zM507.2 42.4h3.2v1.7h-3.2zM491.2 44.0h1.7v1.7h-1.7zM505.6 44.0h6.5v1.7h-6.5zM508.8 47.2h1.7v1.7h-1.7zM496.0 48.8h1.7v1.7h-1.7zM500.8 48.8h1.7v1.7h-1.7zM505.6 48.8h1.7v1.7h-1.7zM505.6 50.4h1.7v1.7h-1.7zM496.0 52.0h3.2v1.7h-3.2zM504.0 52.0h4.9v1.7h-4.9zM510.4 52.0h1.7v1.7h-1.7zM494.4 53.6h1.7v1.7h-1.7zM504.0 53.6h8.1v1.7h-8.1zM448.0 58.4h1.7v1.7h-1.7zM448.0 60.0h1.7v1.7h-1.7zM448.0 61.6h3.2v1.7h-3.2zM457.6 63.2h1.7v1.7h-1.7zM448.0 66.4h1.7v1.7h-1.7zM456.0 66.4h1.7v1.7h-1.7zM459.2 66.4h4.9v1.7h-4.9zM448.0 69.6h1.7v1.7h-1.7zM457.6 69.6h1.7v1.7h-1.7zM448.0 71.2h1.7v1.7h-1.7zM454.4 71.2h3.2v1.7h-3.2zM459.2 71.2h1.7v1.7h-1.7zM473.6 71.2h1.7v1.7h-1.7zM448.0 74.4h1.7v1.7h-1.7zM456.0 74.4h1.7v1.7h-1.7zM448.0 76.0h3.2v1.7h-3.2zM456.0 76.0h1.7v1.7h-1.7zM462.4 76.0h1.7v1.7h-1.7zM468.8 76.0h1.7v1.7h-1.7zM472.0 76.0h3.2v1.7h-3.2zM457.6 77.6h1.7v1.7h-1.7zM462.4 77.6h1.7v1.7h-1.7zM449.6 79.2h1.7v1.7h-1.7zM454.4 79.2h1.7v1.7h-1.7zM457.6 79.2h1.7v1.7h-1.7zM462.4 79.2h1.7v1.7h-1.7zM472.0 79.2h3.2v1.7h-3.2zM449.6 80.8h1.7v1.7h-1.7zM454.4 80.8h1.7v1.7h-1.7zM462.4 80.8h1.7v1.7h-1.7zM468.8 80.8h3.2v1.7h-3.2zM473.6 80.8h1.7v1.7h-1.7zM454.4 82.4h1.7v1.7h-1.7zM448.0 84.0h1.7v1.7h-1.7zM462.4 84.0h1.7v1.7h-1.7zM448.0 85.6h1.7v1.7h-1.7zM454.4 85.6h3.2v1.7h-3.2zM459.2 85.6h1.7v1.7h-1.7zM462.4 85.6h1.7v1.7h-1.7zM473.6 85.6h1.7v1.7h-1.7zM448.0 87.2h3.2v1.7h-3.2zM456.0 87.2h4.9v1.7h-4.9zM462.4 87.2h1.7v1.7h-1.7zM472.0 87.2h1.7v1.7h-1.7zM448.0 88.8h3.2v1.7h-3.2zM454.4 88.8h1.7v1.7h-1.7zM457.6 88.8h1.7v1.7h-1.7zM470.4 88.8h1.7v1.7h-1.7zM459.2 90.4h1.7v1.7h-1.7zM462.4 90.4h1.7v1.7h-1.7zM468.8 90.4h1.7v1.7h-1.7zM472.0 90.4h3.2v1.7h-3.2z"/>
<path fill="rgb(246,187,190)" d="M483.2 29.6h3.2v1.7h-3.2zM492.8 29.6h1.7v1.7h-1.7zM475.2 31.2h1.7v1.7h-1.7zM480.0 31.2h3.2v1.7h-3.2zM484.8 31.2h3.2v1.7h-3.2zM489.6 31.2h1.7v1.7h-1.7zM497.6 31.2h1.7v1.7h-1.7zM500.8 31.2h3.2v1.7h-3.2zM505.6 31.2h4.9v1.7h-4.9zM478.4 32.8h3.2v1.7h-3.2zM486.4 32.8h1.7v1.7h-1.7zM491.2 32.8h8.1v1.7h-8.1zM504.0 32.8h4.9v1.7h-4.9zM510.4 32.8h1.7v1.7h-1.7zM475.2 34.4h6.5v1.7h-6.5zM483.2 34.4h3.2v1.7h-3.2zM488.0 34.4h3.2v1.7h-3.2zM492.8 34.4h1.7v1.7h-1.7zM504.0 34.4h1.7v1.7h-1.7zM476.8 36.0h1.7v1.7h-1.7zM480.0 36.0h1.7v1.7h-1.7zM483.2 36.0h1.7v1.7h-1.7zM489.6 36.0h1.7v1.7h-1.7zM492.8 36.0h3.2v1.7h-3.2zM476.8 37.6h1.7v1.7h-1.7zM484.8 37.6h1.7v1.7h-1.7zM475.2 39.2h4.9v1.7h-4.9zM481.6 39.2h1.7v1.7h-1.7zM484.8 39.2h1.7v1.7h-1.7zM488.0 39.2h1.7v1.7h-1.7zM492.8 39.2h1.7v1.7h-1.7zM508.8 39.2h1.7v1.7h-1.7zM475.2 40.8h6.5v1.7h-6.5zM483.2 40.8h3.2v1.7h-3.2zM488.0 40.8h3.2v1.7h-3.2zM502.4 40.8h1.7v1.7h-1.7zM507.2 40.8h1.7v1.7h-1.7zM483.2 42.4h1.7v1.7h-1.7zM476.8 44.0h3.2v1.7h-3.2zM488.0 44.0h1.7v1.7h-1.7zM492.8 44.0h3.2v1.7h-3.2zM504.0 44.0h1.7v1.7h-1.7zM483.2 45.6h1.7v1.7h-1.7zM486.4 45.6h4.9v1.7h-4.9zM492.8 45.6h1.7v1.7h-1.7zM496.0 45.6h1.7v1.7h-1.7zM499.2 45.6h6.5v1.7h-6.5zM507.2 45.6h1.7v1.7h-1.7zM510.4 45.6h1.7v1.7h-1.7zM484.8 47.2h16.1v1.7h-16.1zM504.0 47.2h1.7v1.7h-1.7zM481.6 48.8h1.7v1.7h-1.7zM484.8 48.8h6.5v1.7h-6.5zM492.8 48.8h3.2v1.7h-3.2zM497.6 48.8h1.7v1.7h-1.7zM507.2 48.8h1.7v1.7h-1.7zM481.6 50.4h1.7v1.7h-1.7zM484.8 50.4h3.2v1.7h-3.2zM489.6 50.4h1.7v1.7h-1.7zM492.8 50.4h3.2v1.7h-3.2zM497.6 50.4h3.2v1.7h-3.2zM502.4 50.4h1.7v1.7h-1.7zM507.2 50.4h3.2v1.7h-3.2zM486.4 52.0h3.2v1.7h-3.2zM492.8 52.0h3.2v1.7h-3.2zM459.2 55.2h1.7v1.7h-1.7zM462.4 55.2h1.7v1.7h-1.7zM496.0 55.2h1.7v1.7h-1.7zM499.2 55.2h3.2v1.7h-3.2zM504.0 55.2h3.2v1.7h-3.2zM510.4 55.2h1.7v1.7h-1.7zM451.2 56.8h6.5v1.7h-6.5zM459.2 56.8h4.9v1.7h-4.9zM496.0 56.8h1.7v1.7h-1.7zM499.2 56.8h1.7v1.7h-1.7zM502.4 56.8h6.5v1.7h-6.5zM459.2 58.4h4.9v1.7h-4.9zM505.6 58.4h6.5v1.7h-6.5zM449.6 60.0h1.7v1.7h-1.7zM452.8 60.0h1.7v1.7h-1.7zM459.2 60.0h1.7v1.7h-1.7zM462.4 60.0h1.7v1.7h-1.7zM500.8 60.0h1.7v1.7h-1.7zM505.6 60.0h1.7v1.7h-1.7zM508.8 60.0h1.7v1.7h-1.7zM464.0 61.6h1.7v1.7h-1.7zM470.4 61.6h1.7v1.7h-1.7zM500.8 61.6h1.7v1.7h-1.7zM504.0 61.6h1.7v1.7h-1.7zM507.2 61.6h1.7v1.7h-1.7zM510.4 61.6h1.7v1.7h-1.7zM451.2 63.2h1.7v1.7h-1.7zM454.4 63.2h3.2v1.7h-3.2zM459.2 63.2h3.2v1.7h-3.2zM467.2 63.2h3.2v1.7h-3.2zM472.0 63.2h1.7v1.7h-1.7zM505.6 63.2h1.7v1.7h-1.7zM451.2 64.8h6.5v1.7h-6.5zM459.2 64.8h1.7v1.7h-1.7zM470.4 64.8h1.7v1.7h-1.7zM508.8 64.8h1.7v1.7h-1.7zM452.8 66.4h1.7v1.7h-1.7zM464.0 66.4h1.7v1.7h-1.7zM467.2 66.4h1.7v1.7h-1.7zM470.4 66.4h3.2v1.7h-3.2zM449.6 68.0h8.1v1.7h-8.1zM460.8 68.0h4.9v1.7h-4.9zM467.2 68.0h1.7v1.7h-1.7zM470.4 68.0h1.7v1.7h-1.7zM473.6 68.0h1.7v1.7h-1.7zM449.6 69.6h4.9v1.7h-4.9zM456.0 69.6h1.7v1.7h-1.7zM459.2 69.6h1.7v1.7h-1.7zM464.0 69.6h3.2v1.7h-3.2zM468.8 69.6h3.2v1.7h-3.2zM473.6 69.6h1.7v1.7h-1.7zM452.8 71.2h1.7v1.7h-1.7zM467.2 71.2h3.2v1.7h-3.2zM510.4 71.2h1.7v1.7h-1.7zM451.2 72.8h3.2v1.7h-3.2zM467.2 72.8h1.7v1.7h-1.7zM470.4 72.8h3.2v1.7h-3.2zM451.2 74.4h3.2v1.7h-3.2zM459.2 74.4h1.7v1.7h-1.7zM465.6 74.4h1.7v1.7h-1.7zM468.8 74.4h3.2v1.7h-3.2zM465.6 76.0h1.7v1.7h-1.7zM470.4 76.0h1.7v1.7h-1.7zM478.4 76.0h3.2v1.7h-3.2zM456.0 77.6h1.7v1.7h-1.7zM459.2 77.6h1.7v1.7h-1.7zM465.6 77.6h1.7v1.7h-1.7zM475.2 77.6h1.7v1.7h-1.7zM451.2 79.2h1.7v1.7h-1.7zM456.0 79.2h1.7v1.7h-1.7zM459.2 79.2h1.7v1.7h-1.7zM465.6 79.2h1.7v1.7h-1.7zM470.4 79.2h1.7v1.7h-1.7zM475.2 79.2h1.7v1.7h-1.7zM451.2 80.8h3.2v1.7h-3.2zM476.8 80.8h4.9v1.7h-4.9zM483.2 80.8h1.7v1.7h-1.7zM451.2 82.4h1.7v1.7h-1.7zM465.6 82.4h1.7v1.7h-1.7zM468.8 82.4h1.7v1.7h-1.7zM451.2 84.0h3.2v1.7h-3.2zM459.2 84.0h3.2v1.7h-3.2zM468.8 84.0h3.2v1.7h-3.2zM476.8 84.0h1.7v1.7h-1.7zM451.2 85.6h1.7v1.7h-1.7zM478.4 85.6h1.7v1.7h-1.7zM483.2 85.6h3.2v1.7h-3.2zM451.2 87.2h4.9v1.7h-4.9zM465.6 87.2h4.9v1.7h-4.9zM475.2 87.2h1.7v1.7h-1.7zM481.6 87.2h1.7v1.7h-1.7zM486.4 87.2h1.7v1.7h-1.7zM459.2 88.8h1.7v1.7h-1.7zM465.6 88.8h3.2v1.7h-3.2zM475.2 88.8h3.2v1.7h-3.2zM491.2 88.8h1.7v1.7h-1.7zM452.8 90.4h1.7v1.7h-1.7zM467.2 90.4h1.7v1.7h-1.7zM476.8 90.4h1.7v1.7h-1.7zM480.0 90.4h6.5v1.7h-6.5zM488.0 90.4h3.2v1.7h-3.2z"/>
<path fill="rgb(244,171,173)" d="M478.4 31.2h1.7v1.7h-1.7zM483.2 31.2h1.7v1.7h-1.7zM488.0 31.2h1.7v1.7h-1.7zM492.8 31.2h3.2v1.7h-3.2zM499.2 31.2h1.7v1.7h-1.7zM504.0 31.2h1.7v1.7h-1.7zM478.4 36.0h1.7v1.7h-1.7zM483.2 39.2h1.7v1.7h-1.7zM476.8 42.4h1.7v1.7h-1.7zM475.2 44.0h1.7v1.7h-1.7zM480.0 44.0h1.7v1.7h-1.7zM483.2 44.0h1.7v1.7h-1.7zM478.4 45.6h1.7v1.7h-1.7zM481.6 45.6h1.7v1.7h-1.7zM484.8 45.6h1.7v1.7h-1.7zM497.6 45.6h1.7v1.7h-1.7zM508.8 45.6h1.7v1.7h-1.7zM475.2 47.2h1.7v1.7h-1.7zM480.0 47.2h1.7v1.7h-1.7zM483.2 47.2h1.7v1.7h-1.7zM476.8 48.8h1.7v1.7h-1.7zM480.0 50.4h1.7v1.7h-1.7zM483.2 50.4h1.7v1.7h-1.7zM488.0 50.4h1.7v1.7h-1.7zM480.0 52.0h1.7v1.7h-1.7zM483.2 52.0h3.2v1.7h-3.2zM480.0 53.6h6.5v1.7h-6.5zM464.0 55.2h1.7v1.7h-1.7zM497.6 55.2h1.7v1.7h-1.7zM464.0 56.8h3.2v1.7h-3.2zM497.6 56.8h1.7v1.7h-1.7zM500.8 56.8h1.7v1.7h-1.7zM508.8 56.8h1.7v1.7h-1.7zM451.2 58.4h3.2v1.7h-3.2zM464.0 58.4h4.9v1.7h-4.9zM497.6 58.4h6.5v1.7h-6.5zM451.2 60.0h1.7v1.7h-1.7zM460.8 60.0h1.7v1.7h-1.7zM464.0 60.0h1.7v1.7h-1.7zM467.2 60.0h1.7v1.7h-1.7zM470.4 60.0h1.7v1.7h-1.7zM473.6 60.0h1.7v1.7h-1.7zM504.0 60.0h1.7v1.7h-1.7zM507.2 60.0h1.7v1.7h-1.7zM510.4 60.0h1.7v1.7h-1.7zM465.6 61.6h4.9v1.7h-4.9zM472.0 61.6h3.2v1.7h-3.2zM496.0 61.6h1.7v1.7h-1.7zM499.2 61.6h1.7v1.7h-1.7zM502.4 61.6h1.7v1.7h-1.7zM505.6 61.6h1.7v1.7h-1.7zM508.8 61.6h1.7v1.7h-1.7zM465.6 63.2h1.7v1.7h-1.7zM470.4 63.2h1.7v1.7h-1.7zM499.2 63.2h4.9v1.7h-4.9zM507.2 63.2h4.9v1.7h-4.9zM464.0 64.8h6.5v1.7h-6.5zM472.0 64.8h3.2v1.7h-3.2zM500.8 64.8h1.7v1.7h-1.7zM505.6 64.8h3.2v1.7h-3.2zM510.4 64.8h1.7v1.7h-1.7zM465.6 66.4h1.7v1.7h-1.7zM497.6 66.4h1.7v1.7h-1.7zM500.8 66.4h1.7v1.7h-1.7zM504.0 66.4h8.1v1.7h-8.1zM465.6 68.0h1.7v1.7h-1.7zM468.8 68.0h1.7v1.7h-1.7zM504.0 68.0h1.7v1.7h-1.7zM510.4 68.0h1.7v1.7h-1.7zM505.6 69.6h3.2v1.7h-3.2zM510.4 69.6h1.7v1.7h-1.7zM502.4 71.2h1.7v1.7h-1.7zM505.6 71.2h4.9v1.7h-4.9zM465.6 72.8h1.7v1.7h-1.7zM476.8 76.0h1.7v1.7h-1.7zM451.2 77.6h1.7v1.7h-1.7zM476.8 77.6h1.7v1.7h-1.7zM481.6 77.6h1.7v1.7h-1.7zM476.8 79.2h3.2v1.7h-3.2zM481.6 79.2h1.7v1.7h-1.7zM486.4 79.2h1.7v1.7h-1.7zM481.6 80.8h1.7v1.7h-1.7zM486.4 80.8h3.2v1.7h-3.2zM475.2 82.4h9.7v1.7h-9.7zM491.2 82.4h1.7v1.7h-1.7zM465.6 84.0h1.7v1.7h-1.7zM475.2 84.0h1.7v1.7h-1.7zM478.4 84.0h9.7v1.7h-9.7zM491.2 84.0h1.7v1.7h-1.7zM476.8 85.6h1.7v1.7h-1.7zM480.0 85.6h3.2v1.7h-3.2zM486.4 85.6h6.5v1.7h-6.5zM476.8 87.2h4.9v1.7h-4.9zM484.8 87.2h1.7v1.7h-1.7zM488.0 87.2h1.7v1.7h-1.7zM491.2 87.2h1.7v1.7h-1.7zM451.2 88.8h1.7v1.7h-1.7zM480.0 88.8h4.9v1.7h-4.9zM486.4 88.8h4.9v1.7h-4.9zM492.8 88.8h3.2v1.7h-3.2zM478.4 90.4h1.7v1.7h-1.7zM486.4 90.4h1.7v1.7h-1.7zM491.2 90.4h4.9v1.7h-4.9z"/>
<path fill="rgb(242,154,157)" d="M472.0 28.0h3.2v1.7h-3.2zM472.0 29.6h3.2v1.7h-3.2zM473.6 36.0h1.7v1.7h-1.7zM473.6 37.6h1.7v1.7h-1.7zM475.2 45.6h3.2v1.7h-3.2zM480.0 45.6h1.7v1.7h-1.7zM476.8 47.2h3.2v1.7h-3.2zM481.6 47.2h1.7v1.7h-1.7zM475.2 48.8h1.7v1.7h-1.7zM478.4 48.8h3.2v1.7h-3.2zM483.2 48.8h1.7v1.7h-1.7zM475.2 50.4h1.7v1.7h-1.7zM478.4 50.4h1.7v1.7h-1.7zM448.0 52.0h3.2v1.7h-3.2zM475.2 52.0h1.7v1.7h-1.7zM478.4 52.0h1.7v1.7h-1.7zM481.6 52.0h1.7v1.7h-1.7zM448.0 53.6h1.7v1.7h-1.7zM457.6 53.6h1.7v1.7h-1.7zM465.6 55.2h6.5v1.7h-6.5zM467.2 56.8h3.2v1.7h-3.2zM468.8 58.4h3.2v1.7h-3.2zM496.0 58.4h1.7v1.7h-1.7zM504.0 58.4h1.7v1.7h-1.7zM465.6 60.0h1.7v1.7h-1.7zM468.8 60.0h1.7v1.7h-1.7zM472.0 60.0h1.7v1.7h-1.7zM496.0 60.0h4.9v1.7h-4.9zM502.4 60.0h1.7v1.7h-1.7zM497.6 61.6h1.7v1.7h-1.7zM473.6 63.2h1.7v1.7h-1.7zM496.0 63.2h3.2v1.7h-3.2zM504.0 63.2h1.7v1.7h-1.7zM496.0 64.8h1.7v1.7h-1.7zM499.2 64.8h1.7v1.7h-1.7zM502.4 64.8h3.2v1.7h-3.2zM499.2 66.4h1.7v1.7h-1.7zM502.4 66.4h1.7v1.7h-1.7zM500.8 68.0h3.2v1.7h-3.2zM505.6 68.0h4.9v1.7h-4.9zM500.8 69.6h1.7v1.7h-1.7zM504.0 69.6h1.7v1.7h-1.7zM508.8 69.6h1.7v1.7h-1.7zM504.0 72.8h3.2v1.7h-3.2zM508.8 72.8h3.2v1.7h-3.2zM505.6 74.4h1.7v1.7h-1.7zM510.4 74.4h1.7v1.7h-1.7zM481.6 76.0h3.2v1.7h-3.2zM486.4 76.0h1.7v1.7h-1.7zM478.4 77.6h3.2v1.7h-3.2zM483.2 77.6h4.9v1.7h-4.9zM480.0 79.2h1.7v1.7h-1.7zM483.2 79.2h3.2v1.7h-3.2zM488.0 79.2h1.7v1.7h-1.7zM484.8 80.8h1.7v1.7h-1.7zM489.6 80.8h3.2v1.7h-3.2zM484.8 82.4h4.9v1.7h-4.9zM488.0 84.0h3.2v1.7h-3.2zM492.8 85.6h1.7v1.7h-1.7zM483.2 87.2h1.7v1.7h-1.7zM489.6 87.2h1.7v1.7h-1.7zM492.8 87.2h3.2v1.7h-3.2zM478.4 88.8h1.7v1.7h-1.7zM484.8 88.8h1.7v1.7h-1.7z"/>
<path fill="rgb(240,137,141)" d="M464.0 28.0h8.1v1.7h-8.1zM464.0 29.6h1.7v1.7h-1.7zM472.0 31.2h3.2v1.7h-3.2zM473.6 34.4h1.7v1.7h-1.7zM468.8 37.6h1.7v1.7h-1.7zM472.0 37.6h1.7v1.7h-1.7zM472.0 39.2h1.7v1.7h-1.7zM449.6 42.4h1.7v1.7h-1.7zM448.0 47.2h1.7v1.7h-1.7zM448.0 48.8h3.2v1.7h-3.2zM448.0 50.4h3.2v1.7h-3.2zM454.4 50.4h1.7v1.7h-1.7zM476.8 50.4h1.7v1.7h-1.7zM454.4 52.0h1.7v1.7h-1.7zM459.2 52.0h1.7v1.7h-1.7zM476.8 52.0h1.7v1.7h-1.7zM449.6 53.6h6.5v1.7h-6.5zM459.2 53.6h3.2v1.7h-3.2zM476.8 53.6h3.2v1.7h-3.2zM472.0 55.2h1.7v1.7h-1.7zM494.4 55.2h1.7v1.7h-1.7zM470.4 56.8h1.7v1.7h-1.7zM472.0 58.4h3.2v1.7h-3.2zM497.6 64.8h1.7v1.7h-1.7zM496.0 66.4h1.7v1.7h-1.7zM496.0 68.0h4.9v1.7h-4.9zM496.0 69.6h1.7v1.7h-1.7zM502.4 69.6h1.7v1.7h-1.7zM499.2 71.2h3.2v1.7h-3.2zM504.0 71.2h1.7v1.7h-1.7zM500.8 72.8h3.2v1.7h-3.2zM507.2 72.8h1.7v1.7h-1.7zM502.4 74.4h3.2v1.7h-3.2zM507.2 74.4h3.2v1.7h-3.2zM484.8 76.0h1.7v1.7h-1.7zM488.0 76.0h1.7v1.7h-1.7zM488.0 77.6h4.9v1.7h-4.9zM489.6 79.2h3.2v1.7h-3.2zM492.8 80.8h1.7v1.7h-1.7zM489.6 82.4h1.7v1.7h-1.7zM492.8 82.4h1.7v1.7h-1.7zM492.8 84.0h3.2v1.7h-3.2zM494.4 85.6h1.7v1.7h-1.7z"/>
<path fill="rgb(238,120,125)" d="M457.6 28.0h6.5v1.7h-6.5zM462.4 29.6h1.7v1.7h-1.7zM465.6 29.6h1.7v1.7h-1.7zM468.8 29.6h3.2v1.7h-3.2zM470.4 31.2h1.7v1.7h-1.7zM470.4 32.8h4.9v1.7h-4.9zM467.2 34.4h1.7v1.7h-1.7zM472.0 34.4h1.7v1.7h-1.7zM470.4 36.0h3.2v1.7h-3.2zM470.4 37.6h1.7v1.7h-1.7zM473.6 39.2h1.7v1.7h-1.7zM448.0 40.8h1.7v1.7h-1.7zM473.6 40.8h1.7v1.7h-1.7zM448.0 42.4h1.7v1.7h-1.7zM473.6 42.4h1.7v1.7h-1.7zM448.0 44.0h3.2v1.7h-3.2zM473.6 44.0h1.7v1.7h-1.7zM448.0 45.6h1.7v1.7h-1.7zM451.2 48.8h1.7v1.7h-1.7zM454.4 48.8h1.7v1.7h-1.7zM457.6 50.4h1.7v1.7h-1.7zM451.2 52.0h3.2v1.7h-3.2zM456.0 52.0h3.2v1.7h-3.2zM460.8 52.0h1.7v1.7h-1.7zM456.0 53.6h1.7v1.7h-1.7zM462.4 53.6h3.2v1.7h-3.2zM475.2 53.6h1.7v1.7h-1.7zM488.0 55.2h1.7v1.7h-1.7zM491.2 55.2h3.2v1.7h-3.2zM472.0 56.8h3.2v1.7h-3.2zM494.4 56.8h1.7v1.7h-1.7zM499.2 69.6h1.7v1.7h-1.7zM475.2 71.2h1.7v1.7h-1.7zM497.6 71.2h1.7v1.7h-1.7zM476.8 74.4h1.7v1.7h-1.7zM499.2 74.4h3.2v1.7h-3.2zM489.6 76.0h3.2v1.7h-3.2zM492.8 79.2h1.7v1.7h-1.7zM494.4 80.8h1.7v1.7h-1.7zM494.4 82.4h1.7v1.7h-1.7z"/>
<path fill="rgb(236,103,109)" d="M459.2 29.6h1.7v1.7h-1.7zM467.2 29.6h1.7v1.7h-1.7zM464.0 31.2h1.7v1.7h-1.7zM467.2 31.2h3.2v1.7h-3.2zM464.0 32.8h6.5v1.7h-6.5zM468.8 34.4h3.2v1.7h-3.2zM462.4 36.0h1.7v1.7h-1.7zM467.2 36.0h3.2v1.7h-3.2zM449.6 37.6h1.7v1.7h-1.7zM464.0 37.6h4.9v1.7h-4.9zM448.0 39.2h3.2v1.7h-3.2zM468.8 39.2h3.2v1.7h-3.2zM449.6 40.8h1.7v1.7h-1.7zM470.4 40.8h3.2v1.7h-3.2zM451.2 42.4h1.7v1.7h-1.7zM470.4 42.4h3.2v1.7h-3.2zM452.8 44.0h1.7v1.7h-1.7zM456.0 44.0h1.7v1.7h-1.7zM472.0 44.0h1.7v1.7h-1.7zM449.6 45.6h1.7v1.7h-1.7zM452.8 45.6h3.2v1.7h-3.2zM449.6 47.2h3.2v1.7h-3.2zM454.4 47.2h3.2v1.7h-3.2zM473.6 47.2h1.7v1.7h-1.7zM452.8 48.8h1.7v1.7h-1.7zM456.0 48.8h3.2v1.7h-3.2zM451.2 50.4h3.2v1.7h-3.2zM456.0 50.4h1.7v1.7h-1.7zM459.2 50.4h1.7v1.7h-1.7zM462.4 50.4h1.7v1.7h-1.7zM465.6 53.6h1.7v1.7h-1.7zM473.6 55.2h1.7v1.7h-1.7zM486.4 55.2h1.7v1.7h-1.7zM489.6 55.2h1.7v1.7h-1.7zM488.0 56.8h1.7v1.7h-1.7zM492.8 56.8h1.7v1.7h-1.7zM491.2 58.4h3.2v1.7h-3.2zM494.4 60.0h1.7v1.7h-1.7zM492.8 61.6h3.2v1.7h-3.2zM475.2 64.8h1.7v1.7h-1.7zM475.2 66.4h1.7v1.7h-1.7zM475.2 69.6h3.2v1.7h-3.2zM497.6 69.6h1.7v1.7h-1.7zM476.8 71.2h4.9v1.7h-4.9zM496.0 71.2h1.7v1.7h-1.7zM475.2 72.8h4.9v1.7h-4.9zM497.6 72.8h3.2v1.7h-3.2zM475.2 74.4h1.7v1.7h-1.7zM481.6 74.4h1.7v1.7h-1.7zM492.8 76.0h1.7v1.7h-1.7zM492.8 77.6h1.7v1.7h-1.7zM494.4 79.2h1.7v1.7h-1.7z"/>
<path fill="rgb(234,87,92)" d="M457.6 29.6h1.7v1.7h-1.7zM460.8 29.6h1.7v1.7h-1.7zM460.8 31.2h3.2v1.7h-3.2zM465.6 31.2h1.7v1.7h-1.7zM459.2 32.8h4.9v1.7h-4.9zM462.4 34.4h4.9v1.7h-4.9zM465.6 36.0h1.7v1.7h-1.7zM448.0 37.6h1.7v1.7h-1.7zM451.2 37.6h1.7v1.7h-1.7zM451.2 40.8h3.2v1.7h-3.2zM467.2 40.8h3.2v1.7h-3.2zM452.8 42.4h3.2v1.7h-3.2zM457.6 42.4h1.7v1.7h-1.7zM468.8 42.4h1.7v1.7h-1.7zM451.2 44.0h1.7v1.7h-1.7zM454.4 44.0h1.7v1.7h-1.7zM457.6 44.0h1.7v1.7h-1.7zM451.2 45.6h1.7v1.7h-1.7zM456.0 45.6h3.2v1.7h-3.2zM472.0 45.6h3.2v1.7h-3.2zM452.8 47.2h1.7v1.7h-1.7zM457.6 47.2h1.7v1.7h-1.7zM459.2 48.8h1.7v1.7h-1.7zM462.4 48.8h1.7v1.7h-1.7zM473.6 48.8h1.7v1.7h-1.7zM460.8 50.4h1.7v1.7h-1.7zM462.4 52.0h3.2v1.7h-3.2zM467.2 52.0h1.7v1.7h-1.7zM467.2 53.6h3.2v1.7h-3.2zM484.8 55.2h1.7v1.7h-1.7zM484.8 56.8h3.2v1.7h-3.2zM489.6 56.8h3.2v1.7h-3.2zM489.6 58.4h1.7v1.7h-1.7zM494.4 58.4h1.7v1.7h-1.7zM491.2 60.0h1.7v1.7h-1.7zM475.2 61.6h1.7v1.7h-1.7zM489.6 61.6h3.2v1.7h-3.2zM475.2 63.2h1.7v1.7h-1.7zM476.8 64.8h1.7v1.7h-1.7zM478.4 66.4h1.7v1.7h-1.7zM494.4 66.4h1.7v1.7h-1.7zM475.2 68.0h3.2v1.7h-3.2zM478.4 69.6h1.7v1.7h-1.7zM481.6 69.6h1.7v1.7h-1.7zM481.6 71.2h1.7v1.7h-1.7zM480.0 72.8h3.2v1.7h-3.2zM496.0 72.8h1.7v1.7h-1.7zM478.4 74.4h3.2v1.7h-3.2zM484.8 74.4h3.2v1.7h-3.2zM496.0 74.4h3.2v1.7h-3.2zM507.2 76.0h4.9v1.7h-4.9zM494.4 77.6h1.7v1.7h-1.7zM510.4 77.6h1.7v1.7h-1.7zM496.0 87.2h1.7v1.7h-1.7zM496.0 88.8h1.7v1.7h-1.7zM496.0 90.4h3.2v1.7h-3.2zM500.8 90.4h1.7v1.7h-1.7z"/>
<path fill="rgb(232,70,76)" d="M456.0 28.0h1.7v1.7h-1.7zM457.6 31.2h3.2v1.7h-3.2zM460.8 34.4h1.7v1.7h-1.7zM460.8 36.0h1.7v1.7h-1.7zM464.0 36.0h1.7v1.7h-1.7zM452.8 37.6h1.7v1.7h-1.7zM460.8 37.6h3.2v1.7h-3.2zM452.8 39.2h3.2v1.7h-3.2zM467.2 39.2h1.7v1.7h-1.7zM454.4 40.8h1.7v1.7h-1.7zM465.6 40.8h1.7v1.7h-1.7zM456.0 42.4h1.7v1.7h-1.7zM459.2 42.4h1.7v1.7h-1.7zM467.2 42.4h1.7v1.7h-1.7zM470.4 44.0h1.7v1.7h-1.7zM462.4 45.6h1.7v1.7h-1.7zM459.2 47.2h3.2v1.7h-3.2zM472.0 47.2h1.7v1.7h-1.7zM460.8 48.8h1.7v1.7h-1.7zM464.0 50.4h1.7v1.7h-1.7zM473.6 50.4h1.7v1.7h-1.7zM465.6 52.0h1.7v1.7h-1.7zM468.8 52.0h1.7v1.7h-1.7zM472.0 53.6h1.7v1.7h-1.7zM481.6 55.2h3.2v1.7h-3.2zM486.4 58.4h1.7v1.7h-1.7zM486.4 60.0h3.2v1.7h-3.2zM492.8 60.0h1.7v1.7h-1.7zM488.0 61.6h1.7v1.7h-1.7zM476.8 63.2h1.7v1.7h-1.7zM491.2 63.2h1.7v1.7h-1.7zM494.4 63.2h1.7v1.7h-1.7zM492.8 64.8h3.2v1.7h-3.2zM476.8 66.4h1.7v1.7h-1.7zM480.0 66.4h1.7v1.7h-1.7zM492.8 66.4h1.7v1.7h-1.7zM478.4 68.0h1.7v1.7h-1.7zM481.6 68.0h1.7v1.7h-1.7zM480.0 69.6h1.7v1.7h-1.7zM483.2 69.6h1.7v1.7h-1.7zM483.2 71.2h1.7v1.7h-1.7zM483.2 72.8h1.7v1.7h-1.7zM483.2 74.4h1.7v1.7h-1.7zM494.4 76.0h1.7v1.7h-1.7zM502.4 76.0h4.9v1.7h-4.9zM507.2 77.6h1.7v1.7h-1.7zM505.6 79.2h1.7v1.7h-1.7zM510.4 79.2h1.7v1.7h-1.7zM508.8 80.8h3.2v1.7h-3.2zM510.4 82.4h1.7v1.7h-1.7zM496.0 84.0h1.7v1.7h-1.7zM497.6 85.6h1.7v1.7h-1.7zM497.6 87.2h1.7v1.7h-1.7zM500.8 87.2h1.7v1.7h-1.7zM499.2 88.8h3.2v1.7h-3.2zM499.2 90.4h1.7v1.7h-1.7zM502.4 90.4h3.2v1.7h-3.2z"/>
<path fill="rgb(230,53,60)" d="M454.4 28.0h1.7v1.7h-1.7zM456.0 29.6h1.7v1.7h-1.7zM457.6 32.8h1.7v1.7h-1.7zM448.0 34.4h1.7v1.7h-1.7zM457.6 34.4h3.2v1.7h-3.2zM448.0 36.0h1.7v1.7h-1.7zM457.6 36.0h3.2v1.7h-3.2zM454.4 37.6h3.2v1.7h-3.2zM451.2 39.2h1.7v1.7h-1.7zM456.0 39.2h1.7v1.7h-1.7zM462.4 39.2h4.9v1.7h-4.9zM456.0 40.8h3.2v1.7h-3.2zM462.4 40.8h1.7v1.7h-1.7zM460.8 42.4h1.7v1.7h-1.7zM459.2 44.0h1.7v1.7h-1.7zM462.4 44.0h1.7v1.7h-1.7zM467.2 44.0h3.2v1.7h-3.2zM459.2 45.6h1.7v1.7h-1.7zM470.4 45.6h1.7v1.7h-1.7zM462.4 47.2h1.7v1.7h-1.7zM468.8 47.2h3.2v1.7h-3.2zM464.0 48.8h3.2v1.7h-3.2zM470.4 48.8h3.2v1.7h-3.2zM467.2 50.4h1.7v1.7h-1.7zM470.4 52.0h1.7v1.7h-1.7zM473.6 52.0h1.7v1.7h-1.7zM470.4 53.6h1.7v1.7h-1.7zM476.8 55.2h1.7v1.7h-1.7zM480.0 55.2h1.7v1.7h-1.7zM481.6 56.8h3.2v1.7h-3.2zM484.8 58.4h1.7v1.7h-1.7zM488.0 58.4h1.7v1.7h-1.7zM475.2 60.0h1.7v1.7h-1.7zM484.8 60.0h1.7v1.7h-1.7zM489.6 60.0h1.7v1.7h-1.7zM476.8 61.6h1.7v1.7h-1.7zM484.8 61.6h3.2v1.7h-3.2zM488.0 63.2h3.2v1.7h-3.2zM492.8 63.2h1.7v1.7h-1.7zM478.4 64.8h1.7v1.7h-1.7zM489.6 64.8h3.2v1.7h-3.2zM481.6 66.4h3.2v1.7h-3.2zM491.2 66.4h1.7v1.7h-1.7zM480.0 68.0h1.7v1.7h-1.7zM492.8 68.0h3.2v1.7h-3.2zM486.4 69.6h1.7v1.7h-1.7zM494.4 69.6h1.7v1.7h-1.7zM484.8 71.2h3.2v1.7h-3.2zM494.4 71.2h1.7v1.7h-1.7zM484.8 72.8h3.2v1.7h-3.2zM488.0 74.4h4.9v1.7h-4.9zM504.0 77.6h3.2v1.7h-3.2zM508.8 77.6h1.7v1.7h-1.7zM507.2 79.2h3.2v1.7h-3.2zM505.6 80.8h3.2v1.7h-3.2zM496.0 82.4h1.7v1.7h-1.7zM508.8 82.4h1.7v1.7h-1.7zM497.6 84.0h1.7v1.7h-1.7zM510.4 84.0h1.7v1.7h-1.7zM496.0 85.6h1.7v1.7h-1.7zM499.2 85.6h1.7v1.7h-1.7zM499.2 87.2h1.7v1.7h-1.7zM497.6 88.8h1.7v1.7h-1.7zM502.4 88.8h1.7v1.7h-1.7zM505.6 90.4h1.7v1.7h-1.7z"/>
<path fill="rgb(228,36,44)" d="M448.0 32.8h1.7v1.7h-1.7zM449.6 36.0h1.7v1.7h-1.7zM459.2 37.6h1.7v1.7h-1.7zM457.6 39.2h1.7v1.7h-1.7zM460.8 39.2h1.7v1.7h-1.7zM459.2 40.8h1.7v1.7h-1.7zM464.0 40.8h1.7v1.7h-1.7zM462.4 42.4h4.9v1.7h-4.9zM460.8 44.0h1.7v1.7h-1.7zM460.8 45.6h1.7v1.7h-1.7zM464.0 45.6h1.7v1.7h-1.7zM467.2 45.6h3.2v1.7h-3.2zM464.0 47.2h3.2v1.7h-3.2zM467.2 48.8h1.7v1.7h-1.7zM465.6 50.4h1.7v1.7h-1.7zM468.8 50.4h1.7v1.7h-1.7zM472.0 50.4h1.7v1.7h-1.7zM472.0 52.0h1.7v1.7h-1.7zM478.4 55.2h1.7v1.7h-1.7zM480.0 56.8h1.7v1.7h-1.7zM475.2 58.4h1.7v1.7h-1.7zM481.6 58.4h3.2v1.7h-3.2zM476.8 60.0h1.7v1.7h-1.7zM481.6 60.0h1.7v1.7h-1.7zM478.4 61.6h3.2v1.7h-3.2zM478.4 63.2h1.7v1.7h-1.7zM486.4 63.2h1.7v1.7h-1.7zM480.0 64.8h3.2v1.7h-3.2zM488.0 64.8h1.7v1.7h-1.7zM488.0 66.4h3.2v1.7h-3.2zM483.2 68.0h4.9v1.7h-4.9zM491.2 68.0h1.7v1.7h-1.7zM484.8 69.6h1.7v1.7h-1.7zM492.8 69.6h1.7v1.7h-1.7zM488.0 71.2h1.7v1.7h-1.7zM492.8 71.2h1.7v1.7h-1.7zM488.0 72.8h1.7v1.7h-1.7zM500.8 76.0h1.7v1.7h-1.7zM500.8 77.6h3.2v1.7h-3.2zM504.0 79.2h1.7v1.7h-1.7zM496.0 80.8h1.7v1.7h-1.7zM504.0 80.8h1.7v1.7h-1.7zM497.6 82.4h1.7v1.7h-1.7zM507.2 82.4h1.7v1.7h-1.7zM499.2 84.0h3.2v1.7h-3.2zM500.8 85.6h1.7v1.7h-1.7zM508.8 85.6h3.2v1.7h-3.2zM510.4 87.2h1.7v1.7h-1.7zM504.0 88.8h1.7v1.7h-1.7zM507.2 90.4h1.7v1.7h-1.7z"/>
<path fill="rgb(226,20,28)" d="M448.0 28.0h6.5v1.7h-6.5zM448.0 29.6h8.1v1.7h-8.1zM448.0 31.2h9.7v1.7h-9.7zM449.6 32.8h8.1v1.7h-8.1zM449.6 34.4h8.1v1.7h-8.1zM451.2 36.0h6.5v1.7h-6.5zM457.6 37.6h1.7v1.7h-1.7zM459.2 39.2h1.7v1.7h-1.7zM460.8 40.8h1.7v1.7h-1.7zM464.0 44.0h3.2v1.7h-3.2zM465.6 45.6h1.7v1.7h-1.7zM467.2 47.2h1.7v1.7h-1.7zM468.8 48.8h1.7v1.7h-1.7zM470.4 50.4h1.7v1.7h-1.7zM473.6 53.6h1.7v1.7h-1.7zM475.2 55.2h1.7v1.7h-1.7zM475.2 56.8h4.9v1.7h-4.9zM476.8 58.4h4.9v1.7h-4.9zM478.4 60.0h3.2v1.7h-3.2zM483.2 60.0h1.7v1.7h-1.7zM481.6 61.6h3.2v1.7h-3.2zM480.0 63.2h6.5v1.7h-6.5zM483.2 64.8h4.9v1.7h-4.9zM484.8 66.4h3.2v1.7h-3.2zM488.0 68.0h3.2v1.7h-3.2zM488.0 69.6h4.9v1.7h-4.9zM489.6 71.2h3.2v1.7h-3.2zM489.6 72.8h6.5v1.7h-6.5zM492.8 74.4h3.2v1.7h-3.2zM496.0 76.0h4.9v1.7h-4.9zM496.0 77.6h4.9v1.7h-4.9zM496.0 79.2h8.1v1.7h-8.1zM497.6 80.8h6.5v1.7h-6.5zM499.2 82.4h8.1v1.7h-8.1zM502.4 84.0h8.1v1.7h-8.1zM502.4 85.6h6.5v1.7h-6.5zM502.4 87.2h8.1v1.7h-8.1zM505.6 88.8h6.5v1.7h-6.5zM508.8 90.4h3.2v1.7h-3.2z"/>
</g>
<text x="6.8" y="134.3" font-size="12.5" text-anchor="start" fill="#000" font-weight="bold" >B</text>
<text x="65.65" y="134.7" font-size="9.4" text-anchor="middle" fill="#111" textLength="28.3" lengthAdjust="spacingAndGlyphs" >250 kb</text>
<text x="192.5" y="134.7" font-size="9.4" text-anchor="middle" fill="#111" textLength="24" lengthAdjust="spacingAndGlyphs" >50 kb</text>
<text x="326" y="134.7" font-size="9.4" text-anchor="middle" fill="#111" textLength="22" lengthAdjust="spacingAndGlyphs" >10 kb</text>
<text x="454.6" y="134.7" font-size="9.4" text-anchor="middle" fill="#111" textLength="26" lengthAdjust="spacingAndGlyphs" >2.5 kb</text>
<text x="19" y="147.5" font-size="7" text-anchor="start" fill="#111" textLength="27" lengthAdjust="spacingAndGlyphs" >0.00 MB</text>
<text x="80" y="147.5" font-size="7" text-anchor="start" fill="#111" textLength="35" lengthAdjust="spacingAndGlyphs" >104.04 MB</text>
<text transform="translate(12.8,177.5) rotate(-90)" font-size="7" fill="#111" textLength="25.0" lengthAdjust="spacingAndGlyphs">0.00 MB</text>
<text transform="translate(12.8,250) rotate(-90)" font-size="7" fill="#111" textLength="35" lengthAdjust="spacingAndGlyphs">104.04 MB</text>
<text x="142.5" y="147.5" font-size="7" text-anchor="start" fill="#111" textLength="31.5" lengthAdjust="spacingAndGlyphs" >52.00 MB</text>
<text x="211" y="147.5" font-size="7" text-anchor="start" fill="#111" textLength="31.5" lengthAdjust="spacingAndGlyphs" >74.30 MB</text>
<text transform="translate(138.8,183.8) rotate(-90)" font-size="7" fill="#111" textLength="31.30000000000001" lengthAdjust="spacingAndGlyphs">52.00 MB</text>
<text transform="translate(138.8,251) rotate(-90)" font-size="7" fill="#111" textLength="31" lengthAdjust="spacingAndGlyphs">74.05 MB</text>
<text x="277" y="147.5" font-size="7" text-anchor="start" fill="#111" textLength="34" lengthAdjust="spacingAndGlyphs" >60,000 KB</text>
<text x="342.5" y="147.5" font-size="7" text-anchor="start" fill="#111" textLength="33.5" lengthAdjust="spacingAndGlyphs" >64,460 KB</text>
<text transform="translate(273.3,183.3) rotate(-90)" font-size="7" fill="#111" textLength="32.0" lengthAdjust="spacingAndGlyphs">60,000 KB</text>
<text transform="translate(273.3,250.7) rotate(-90)" font-size="7" fill="#111" textLength="32.69999999999999" lengthAdjust="spacingAndGlyphs">64,460 KB</text>
<text x="403.7" y="147.5" font-size="7" text-anchor="start" fill="#111" textLength="34.5" lengthAdjust="spacingAndGlyphs" >61,000 KB</text>
<text x="470.7" y="147.5" font-size="7" text-anchor="start" fill="#111" textLength="34.3" lengthAdjust="spacingAndGlyphs" >62,116 KB</text>
<text transform="translate(401.8,185) rotate(-90)" font-size="7" fill="#111" textLength="33.69999999999999" lengthAdjust="spacingAndGlyphs">61,000 KB</text>
<text transform="translate(401.8,250) rotate(-90)" font-size="7" fill="#111" textLength="32.5" lengthAdjust="spacingAndGlyphs">62,116 KB</text>
<rect x="19.5" y="154" width="94.5" height="94.5" fill="rgb(253,245,245)"/>
<g shape-rendering="crispEdges">
<path fill="rgb(255,255,255)" d="M47.6 154.0h4.5v1.5h-4.5zM62.3 154.0h3.0v1.5h-3.0zM75.6 154.0h4.5v1.5h-4.5zM83.0 154.0h4.5v1.5h-4.5zM97.8 154.0h3.0v1.5h-3.0zM47.6 155.5h4.5v1.5h-4.5zM62.3 155.5h3.0v1.5h-3.0zM75.6 155.5h4.5v1.5h-4.5zM83.0 155.5h4.5v1.5h-4.5zM97.8 155.5h3.0v1.5h-3.0zM47.6 157.0h4.5v1.5h-4.5zM62.3 157.0h3.0v1.5h-3.0zM75.6 157.0h4.5v1.5h-4.5zM83.0 157.0h4.5v1.5h-4.5zM97.8 157.0h3.0v1.5h-3.0zM47.6 158.4h4.5v1.5h-4.5zM62.3 158.4h3.0v1.5h-3.0zM75.6 158.4h4.5v1.5h-4.5zM83.0 158.4h4.5v1.5h-4.5zM97.8 158.4h3.0v1.5h-3.0zM47.6 161.4h4.5v1.5h-4.5zM62.3 161.4h3.0v1.5h-3.0zM75.6 161.4h4.5v1.5h-4.5zM83.0 161.4h4.5v1.5h-4.5zM97.8 161.4h3.0v1.5h-3.0zM40.2 162.9h4.5v1.5h-4.5zM46.1 162.9h6.0v1.5h-6.0zM53.5 162.9h6.0v1.5h-6.0zM60.8 162.9h6.0v1.5h-6.0zM68.2 162.9h4.5v1.5h-4.5zM75.6 162.9h4.5v1.5h-4.5zM81.5 162.9h6.0v1.5h-6.0zM88.9 162.9h6.0v1.5h-6.0zM96.3 162.9h6.0v1.5h-6.0zM103.7 162.9h4.5v1.5h-4.5zM109.6 162.9h4.5v1.5h-4.5zM41.6 164.3h3.0v1.5h-3.0zM46.1 164.3h6.0v1.5h-6.0zM53.5 164.3h6.0v1.5h-6.0zM60.8 164.3h6.0v1.5h-6.0zM68.2 164.3h4.5v1.5h-4.5zM75.6 164.3h4.5v1.5h-4.5zM81.5 164.3h6.0v1.5h-6.0zM88.9 164.3h6.0v1.5h-6.0zM96.3 164.3h6.0v1.5h-6.0zM103.7 164.3h4.5v1.5h-4.5zM109.6 164.3h4.5v1.5h-4.5zM47.6 168.8h4.5v1.5h-4.5zM75.6 168.8h4.5v1.5h-4.5zM83.0 168.8h4.5v1.5h-4.5zM97.8 168.8h3.0v1.5h-3.0zM47.6 170.2h4.5v1.5h-4.5zM75.6 170.2h4.5v1.5h-4.5zM83.0 170.2h4.5v1.5h-4.5zM97.8 170.2h3.0v1.5h-3.0zM49.0 171.7h3.0v1.5h-3.0zM75.6 171.7h4.5v1.5h-4.5zM83.0 171.7h4.5v1.5h-4.5zM97.8 171.7h3.0v1.5h-3.0zM28.4 174.7h1.5v1.5h-1.5zM62.3 174.7h3.0v1.5h-3.0zM75.6 174.7h4.5v1.5h-4.5zM83.0 174.7h4.5v1.5h-4.5zM97.8 174.7h3.0v1.5h-3.0zM28.4 176.1h3.0v1.5h-3.0zM62.3 176.1h3.0v1.5h-3.0zM75.6 176.1h4.5v1.5h-4.5zM83.0 176.1h4.5v1.5h-4.5zM97.8 176.1h3.0v1.5h-3.0zM28.4 177.6h3.0v1.5h-3.0zM62.3 177.6h3.0v1.5h-3.0zM75.6 177.6h4.5v1.5h-4.5zM83.0 177.6h4.5v1.5h-4.5zM97.8 177.6h3.0v1.5h-3.0zM28.4 180.6h3.0v1.5h-3.0zM62.3 180.6h3.0v1.5h-3.0zM75.6 180.6h4.5v1.5h-4.5zM83.0 180.6h4.5v1.5h-4.5zM97.8 180.6h3.0v1.5h-3.0zM19.5 182.1h6.0v1.5h-6.0zM26.9 182.1h4.5v1.5h-4.5zM34.3 182.1h3.0v1.5h-3.0zM60.8 182.1h6.0v1.5h-6.0zM68.2 182.1h4.5v1.5h-4.5zM75.6 182.1h4.5v1.5h-4.5zM81.5 182.1h6.0v1.5h-6.0zM88.9 182.1h6.0v1.5h-6.0zM96.3 182.1h6.0v1.5h-6.0zM103.7 182.1h4.5v1.5h-4.5zM109.6 182.1h4.5v1.5h-4.5zM19.5 183.5h6.0v1.5h-6.0zM26.9 183.5h4.5v1.5h-4.5zM34.3 183.5h4.5v1.5h-4.5zM60.8 183.5h6.0v1.5h-6.0zM68.2 183.5h4.5v1.5h-4.5zM75.6 183.5h4.5v1.5h-4.5zM81.5 183.5h6.0v1.5h-6.0zM88.9 183.5h6.0v1.5h-6.0zM96.3 183.5h6.0v1.5h-6.0zM103.7 183.5h4.5v1.5h-4.5zM109.6 183.5h4.5v1.5h-4.5zM19.5 185.0h6.0v1.5h-6.0zM26.9 185.0h4.5v1.5h-4.5zM34.3 185.0h4.5v1.5h-4.5zM62.3 185.0h4.5v1.5h-4.5zM68.2 185.0h4.5v1.5h-4.5zM75.6 185.0h4.5v1.5h-4.5zM81.5 185.0h6.0v1.5h-6.0zM88.9 185.0h6.0v1.5h-6.0zM96.3 185.0h6.0v1.5h-6.0zM103.7 185.0h4.5v1.5h-4.5zM109.6 185.0h4.5v1.5h-4.5zM28.4 188.0h3.0v1.5h-3.0zM75.6 188.0h4.5v1.5h-4.5zM83.0 188.0h4.5v1.5h-4.5zM97.8 188.0h3.0v1.5h-3.0zM28.4 189.4h3.0v1.5h-3.0zM75.6 189.4h4.5v1.5h-4.5zM83.0 189.4h4.5v1.5h-4.5zM97.8 189.4h3.0v1.5h-3.0zM28.4 190.9h3.0v1.5h-3.0zM75.6 190.9h4.5v1.5h-4.5zM83.0 190.9h4.5v1.5h-4.5zM97.8 190.9h3.0v1.5h-3.0zM28.4 192.4h3.0v1.5h-3.0zM75.6 192.4h4.5v1.5h-4.5zM83.0 192.4h4.5v1.5h-4.5zM97.8 192.4h3.0v1.5h-3.0zM28.4 195.3h3.0v1.5h-3.0zM47.6 195.3h3.0v1.5h-3.0zM75.6 195.3h4.5v1.5h-4.5zM83.0 195.3h4.5v1.5h-4.5zM97.8 195.3h3.0v1.5h-3.0zM19.5 196.8h6.0v1.5h-6.0zM26.9 196.8h4.5v1.5h-4.5zM40.2 196.8h4.5v1.5h-4.5zM46.1 196.8h6.0v1.5h-6.0zM75.6 196.8h4.5v1.5h-4.5zM81.5 196.8h6.0v1.5h-6.0zM88.9 196.8h6.0v1.5h-6.0zM96.3 196.8h6.0v1.5h-6.0zM103.7 196.8h4.5v1.5h-4.5zM109.6 196.8h4.5v1.5h-4.5zM19.5 198.3h6.0v1.5h-6.0zM26.9 198.3h4.5v1.5h-4.5zM40.2 198.3h4.5v1.5h-4.5zM46.1 198.3h6.0v1.5h-6.0zM75.6 198.3h4.5v1.5h-4.5zM81.5 198.3h6.0v1.5h-6.0zM88.9 198.3h6.0v1.5h-6.0zM96.3 198.3h6.0v1.5h-6.0zM103.7 198.3h4.5v1.5h-4.5zM109.6 198.3h4.5v1.5h-4.5zM28.4 199.8h3.0v1.5h-3.0zM47.6 199.8h4.5v1.5h-4.5zM77.1 199.8h3.0v1.5h-3.0zM83.0 199.8h4.5v1.5h-4.5zM97.8 199.8h3.0v1.5h-3.0zM28.4 202.7h3.0v1.5h-3.0zM47.6 202.7h4.5v1.5h-4.5zM83.0 202.7h4.5v1.5h-4.5zM97.8 202.7h3.0v1.5h-3.0zM28.4 204.2h3.0v1.5h-3.0zM47.6 204.2h4.5v1.5h-4.5zM83.0 204.2h4.5v1.5h-4.5zM97.8 204.2h3.0v1.5h-3.0zM28.4 205.7h3.0v1.5h-3.0zM47.6 205.7h4.5v1.5h-4.5zM83.0 205.7h4.5v1.5h-4.5zM97.8 205.7h3.0v1.5h-3.0zM19.5 210.1h6.0v1.5h-6.0zM26.9 210.1h4.5v1.5h-4.5zM34.3 210.1h4.5v1.5h-4.5zM40.2 210.1h4.5v1.5h-4.5zM46.1 210.1h6.0v1.5h-6.0zM53.5 210.1h6.0v1.5h-6.0zM60.8 210.1h4.5v1.5h-4.5zM83.0 210.1h4.5v1.5h-4.5zM88.9 210.1h6.0v1.5h-6.0zM96.3 210.1h6.0v1.5h-6.0zM103.7 210.1h4.5v1.5h-4.5zM109.6 210.1h4.5v1.5h-4.5zM19.5 211.6h6.0v1.5h-6.0zM26.9 211.6h4.5v1.5h-4.5zM34.3 211.6h4.5v1.5h-4.5zM40.2 211.6h4.5v1.5h-4.5zM46.1 211.6h6.0v1.5h-6.0zM53.5 211.6h6.0v1.5h-6.0zM60.8 211.6h6.0v1.5h-6.0zM83.0 211.6h4.5v1.5h-4.5zM88.9 211.6h6.0v1.5h-6.0zM96.3 211.6h6.0v1.5h-6.0zM103.7 211.6h4.5v1.5h-4.5zM109.6 211.6h4.5v1.5h-4.5zM19.5 213.1h6.0v1.5h-6.0zM26.9 213.1h4.5v1.5h-4.5zM34.3 213.1h4.5v1.5h-4.5zM40.2 213.1h4.5v1.5h-4.5zM46.1 213.1h6.0v1.5h-6.0zM53.5 213.1h6.0v1.5h-6.0zM60.8 213.1h6.0v1.5h-6.0zM83.0 213.1h4.5v1.5h-4.5zM90.4 213.1h4.5v1.5h-4.5zM96.3 213.1h6.0v1.5h-6.0zM103.7 213.1h4.5v1.5h-4.5zM109.6 213.1h4.5v1.5h-4.5zM28.4 216.0h3.0v1.5h-3.0zM47.6 216.0h4.5v1.5h-4.5zM62.3 216.0h3.0v1.5h-3.0zM97.8 216.0h3.0v1.5h-3.0zM19.5 217.5h6.0v1.5h-6.0zM26.9 217.5h4.5v1.5h-4.5zM34.3 217.5h4.5v1.5h-4.5zM40.2 217.5h4.5v1.5h-4.5zM46.1 217.5h6.0v1.5h-6.0zM53.5 217.5h6.0v1.5h-6.0zM60.8 217.5h6.0v1.5h-6.0zM68.2 217.5h4.5v1.5h-4.5zM75.6 217.5h4.5v1.5h-4.5zM96.3 217.5h6.0v1.5h-6.0zM103.7 217.5h4.5v1.5h-4.5zM109.6 217.5h4.5v1.5h-4.5zM19.5 219.0h6.0v1.5h-6.0zM26.9 219.0h4.5v1.5h-4.5zM34.3 219.0h4.5v1.5h-4.5zM40.2 219.0h4.5v1.5h-4.5zM46.1 219.0h6.0v1.5h-6.0zM53.5 219.0h6.0v1.5h-6.0zM60.8 219.0h6.0v1.5h-6.0zM68.2 219.0h4.5v1.5h-4.5zM75.6 219.0h4.5v1.5h-4.5zM96.3 219.0h6.0v1.5h-6.0zM103.7 219.0h4.5v1.5h-4.5zM109.6 219.0h4.5v1.5h-4.5zM19.5 220.4h6.0v1.5h-6.0zM26.9 220.4h4.5v1.5h-4.5zM34.3 220.4h4.5v1.5h-4.5zM40.2 220.4h4.5v1.5h-4.5zM46.1 220.4h6.0v1.5h-6.0zM53.5 220.4h6.0v1.5h-6.0zM60.8 220.4h6.0v1.5h-6.0zM68.2 220.4h4.5v1.5h-4.5zM75.6 220.4h4.5v1.5h-4.5zM97.8 220.4h4.5v1.5h-4.5zM103.7 220.4h4.5v1.5h-4.5zM109.6 220.4h4.5v1.5h-4.5zM28.4 223.4h3.0v1.5h-3.0zM47.6 223.4h4.5v1.5h-4.5zM62.3 223.4h3.0v1.5h-3.0zM75.6 223.4h3.0v1.5h-3.0zM28.4 224.9h3.0v1.5h-3.0zM47.6 224.9h4.5v1.5h-4.5zM62.3 224.9h3.0v1.5h-3.0zM75.6 224.9h4.5v1.5h-4.5zM28.4 226.4h3.0v1.5h-3.0zM47.6 226.4h4.5v1.5h-4.5zM62.3 226.4h3.0v1.5h-3.0zM75.6 226.4h4.5v1.5h-4.5zM28.4 227.8h3.0v1.5h-3.0zM47.6 227.8h4.5v1.5h-4.5zM62.3 227.8h3.0v1.5h-3.0zM75.6 227.8h4.5v1.5h-4.5zM28.4 230.8h3.0v1.5h-3.0zM47.6 230.8h4.5v1.5h-4.5zM62.3 230.8h3.0v1.5h-3.0zM75.6 230.8h4.5v1.5h-4.5zM83.0 230.8h3.0v1.5h-3.0zM19.5 232.3h6.0v1.5h-6.0zM26.9 232.3h4.5v1.5h-4.5zM34.3 232.3h4.5v1.5h-4.5zM40.2 232.3h4.5v1.5h-4.5zM46.1 232.3h6.0v1.5h-6.0zM53.5 232.3h6.0v1.5h-6.0zM60.8 232.3h6.0v1.5h-6.0zM68.2 232.3h4.5v1.5h-4.5zM75.6 232.3h4.5v1.5h-4.5zM81.5 232.3h4.5v1.5h-4.5zM109.6 232.3h4.5v1.5h-4.5zM19.5 233.7h6.0v1.5h-6.0zM26.9 233.7h4.5v1.5h-4.5zM34.3 233.7h4.5v1.5h-4.5zM40.2 233.7h4.5v1.5h-4.5zM46.1 233.7h6.0v1.5h-6.0zM53.5 233.7h6.0v1.5h-6.0zM60.8 233.7h6.0v1.5h-6.0zM68.2 233.7h4.5v1.5h-4.5zM75.6 233.7h4.5v1.5h-4.5zM81.5 233.7h4.5v1.5h-4.5zM111.0 233.7h3.0v1.5h-3.0zM28.4 235.2h3.0v1.5h-3.0zM47.6 235.2h4.5v1.5h-4.5zM62.3 235.2h3.0v1.5h-3.0zM75.6 235.2h4.5v1.5h-4.5zM83.0 235.2h3.0v1.5h-3.0zM28.4 238.2h3.0v1.5h-3.0zM47.6 238.2h4.5v1.5h-4.5zM62.3 238.2h3.0v1.5h-3.0zM75.6 238.2h4.5v1.5h-4.5zM83.0 238.2h3.0v1.5h-3.0zM28.4 239.6h3.0v1.5h-3.0zM47.6 239.6h4.5v1.5h-4.5zM62.3 239.6h3.0v1.5h-3.0zM75.6 239.6h4.5v1.5h-4.5zM83.0 239.6h4.5v1.5h-4.5zM28.4 241.1h3.0v1.5h-3.0zM47.6 241.1h4.5v1.5h-4.5zM62.3 241.1h3.0v1.5h-3.0zM75.6 241.1h4.5v1.5h-4.5zM83.0 241.1h4.5v1.5h-4.5zM28.4 244.1h3.0v1.5h-3.0zM47.6 244.1h4.5v1.5h-4.5zM62.3 244.1h3.0v1.5h-3.0zM75.6 244.1h4.5v1.5h-4.5zM83.0 244.1h4.5v1.5h-4.5zM97.8 244.1h1.5v1.5h-1.5zM28.4 245.5h3.0v1.5h-3.0zM47.6 245.5h4.5v1.5h-4.5zM62.3 245.5h3.0v1.5h-3.0zM75.6 245.5h4.5v1.5h-4.5zM83.0 245.5h4.5v1.5h-4.5zM97.8 245.5h3.0v1.5h-3.0zM28.4 247.0h3.0v1.5h-3.0zM47.6 247.0h4.5v1.5h-4.5zM62.3 247.0h3.0v1.5h-3.0zM75.6 247.0h4.5v1.5h-4.5zM83.0 247.0h4.5v1.5h-4.5zM97.8 247.0h3.0v1.5h-3.0z"/>
<path fill="rgb(252,235,236)" d="M23.9 154.0h1.5v1.5h-1.5zM26.9 154.0h1.5v1.5h-1.5zM31.3 154.0h3.0v1.5h-3.0zM38.7 154.0h1.5v1.5h-1.5zM44.6 154.0h1.5v1.5h-1.5zM52.0 154.0h1.5v1.5h-1.5zM59.4 154.0h1.5v1.5h-1.5zM66.8 154.0h1.5v1.5h-1.5zM72.7 154.0h3.0v1.5h-3.0zM80.0 154.0h1.5v1.5h-1.5zM87.4 154.0h1.5v1.5h-1.5zM94.8 154.0h1.5v1.5h-1.5zM102.2 154.0h1.5v1.5h-1.5zM108.1 154.0h1.5v1.5h-1.5zM26.9 155.5h1.5v1.5h-1.5zM31.3 155.5h3.0v1.5h-3.0zM38.7 155.5h1.5v1.5h-1.5zM44.6 155.5h1.5v1.5h-1.5zM52.0 155.5h1.5v1.5h-1.5zM59.4 155.5h1.5v1.5h-1.5zM66.8 155.5h1.5v1.5h-1.5zM72.7 155.5h3.0v1.5h-3.0zM80.0 155.5h1.5v1.5h-1.5zM87.4 155.5h1.5v1.5h-1.5zM94.8 155.5h1.5v1.5h-1.5zM102.2 155.5h1.5v1.5h-1.5zM108.1 155.5h1.5v1.5h-1.5zM26.9 157.0h1.5v1.5h-1.5zM31.3 157.0h3.0v1.5h-3.0zM38.7 157.0h1.5v1.5h-1.5zM44.6 157.0h1.5v1.5h-1.5zM52.0 157.0h1.5v1.5h-1.5zM59.4 157.0h1.5v1.5h-1.5zM66.8 157.0h1.5v1.5h-1.5zM72.7 157.0h3.0v1.5h-3.0zM80.0 157.0h1.5v1.5h-1.5zM87.4 157.0h1.5v1.5h-1.5zM94.8 157.0h1.5v1.5h-1.5zM102.2 157.0h1.5v1.5h-1.5zM108.1 157.0h1.5v1.5h-1.5zM19.5 158.4h1.5v1.5h-1.5zM31.3 158.4h3.0v1.5h-3.0zM38.7 158.4h1.5v1.5h-1.5zM44.6 158.4h1.5v1.5h-1.5zM52.0 158.4h1.5v1.5h-1.5zM59.4 158.4h1.5v1.5h-1.5zM66.8 158.4h1.5v1.5h-1.5zM72.7 158.4h3.0v1.5h-3.0zM80.0 158.4h1.5v1.5h-1.5zM87.4 158.4h1.5v1.5h-1.5zM94.8 158.4h1.5v1.5h-1.5zM102.2 158.4h1.5v1.5h-1.5zM108.1 158.4h1.5v1.5h-1.5zM29.8 159.9h1.5v1.5h-1.5zM34.3 159.9h4.5v1.5h-4.5zM40.2 159.9h4.5v1.5h-4.5zM46.1 159.9h1.5v1.5h-1.5zM53.5 159.9h6.0v1.5h-6.0zM60.8 159.9h1.5v1.5h-1.5zM65.3 159.9h1.5v1.5h-1.5zM68.2 159.9h4.5v1.5h-4.5zM81.5 159.9h1.5v1.5h-1.5zM88.9 159.9h6.0v1.5h-6.0zM96.3 159.9h1.5v1.5h-1.5zM100.7 159.9h1.5v1.5h-1.5zM103.7 159.9h4.5v1.5h-4.5zM109.6 159.9h4.5v1.5h-4.5zM19.5 161.4h4.5v1.5h-4.5zM29.8 161.4h1.5v1.5h-1.5zM34.3 161.4h1.5v1.5h-1.5zM38.7 161.4h1.5v1.5h-1.5zM44.6 161.4h1.5v1.5h-1.5zM52.0 161.4h1.5v1.5h-1.5zM59.4 161.4h1.5v1.5h-1.5zM66.8 161.4h1.5v1.5h-1.5zM72.7 161.4h3.0v1.5h-3.0zM80.0 161.4h1.5v1.5h-1.5zM87.4 161.4h1.5v1.5h-1.5zM94.8 161.4h1.5v1.5h-1.5zM102.2 161.4h1.5v1.5h-1.5zM108.1 161.4h1.5v1.5h-1.5zM32.8 162.9h1.5v1.5h-1.5zM25.4 164.3h3.0v1.5h-3.0zM19.5 165.8h6.0v1.5h-6.0zM40.2 165.8h4.5v1.5h-4.5zM46.1 165.8h1.5v1.5h-1.5zM53.5 165.8h6.0v1.5h-6.0zM65.3 165.8h1.5v1.5h-1.5zM68.2 165.8h4.5v1.5h-4.5zM81.5 165.8h1.5v1.5h-1.5zM88.9 165.8h6.0v1.5h-6.0zM96.3 165.8h1.5v1.5h-1.5zM100.7 165.8h1.5v1.5h-1.5zM103.7 165.8h4.5v1.5h-4.5zM109.6 165.8h4.5v1.5h-4.5zM19.5 167.3h6.0v1.5h-6.0zM28.4 167.3h1.5v1.5h-1.5zM40.2 167.3h4.5v1.5h-4.5zM46.1 167.3h1.5v1.5h-1.5zM53.5 167.3h6.0v1.5h-6.0zM65.3 167.3h1.5v1.5h-1.5zM68.2 167.3h4.5v1.5h-4.5zM81.5 167.3h1.5v1.5h-1.5zM88.9 167.3h6.0v1.5h-6.0zM96.3 167.3h1.5v1.5h-1.5zM100.7 167.3h1.5v1.5h-1.5zM103.7 167.3h4.5v1.5h-4.5zM109.6 167.3h4.5v1.5h-4.5zM25.4 168.8h3.0v1.5h-3.0zM40.2 168.8h3.0v1.5h-3.0zM44.6 168.8h1.5v1.5h-1.5zM52.0 168.8h1.5v1.5h-1.5zM59.4 168.8h1.5v1.5h-1.5zM66.8 168.8h1.5v1.5h-1.5zM72.7 168.8h3.0v1.5h-3.0zM80.0 168.8h1.5v1.5h-1.5zM87.4 168.8h1.5v1.5h-1.5zM94.8 168.8h1.5v1.5h-1.5zM102.2 168.8h1.5v1.5h-1.5zM108.1 168.8h1.5v1.5h-1.5zM25.4 170.2h1.5v1.5h-1.5zM40.2 170.2h6.0v1.5h-6.0zM52.0 170.2h1.5v1.5h-1.5zM59.4 170.2h1.5v1.5h-1.5zM66.8 170.2h1.5v1.5h-1.5zM72.7 170.2h3.0v1.5h-3.0zM80.0 170.2h1.5v1.5h-1.5zM87.4 170.2h1.5v1.5h-1.5zM94.8 170.2h1.5v1.5h-1.5zM102.2 170.2h1.5v1.5h-1.5zM108.1 170.2h1.5v1.5h-1.5zM25.4 171.7h1.5v1.5h-1.5zM41.6 171.7h4.5v1.5h-4.5zM52.0 171.7h1.5v1.5h-1.5zM59.4 171.7h1.5v1.5h-1.5zM66.8 171.7h1.5v1.5h-1.5zM72.7 171.7h3.0v1.5h-3.0zM80.0 171.7h1.5v1.5h-1.5zM87.4 171.7h1.5v1.5h-1.5zM94.8 171.7h1.5v1.5h-1.5zM102.2 171.7h1.5v1.5h-1.5zM108.1 171.7h1.5v1.5h-1.5zM19.5 173.2h6.0v1.5h-6.0zM26.9 173.2h1.5v1.5h-1.5zM46.1 173.2h1.5v1.5h-1.5zM53.5 173.2h6.0v1.5h-6.0zM65.3 173.2h1.5v1.5h-1.5zM68.2 173.2h4.5v1.5h-4.5zM81.5 173.2h1.5v1.5h-1.5zM88.9 173.2h6.0v1.5h-6.0zM96.3 173.2h1.5v1.5h-1.5zM100.7 173.2h1.5v1.5h-1.5zM103.7 173.2h4.5v1.5h-4.5zM109.6 173.2h4.5v1.5h-4.5zM25.4 174.7h1.5v1.5h-1.5zM31.3 174.7h6.0v1.5h-6.0zM46.1 174.7h1.5v1.5h-1.5zM52.0 174.7h1.5v1.5h-1.5zM59.4 174.7h1.5v1.5h-1.5zM66.8 174.7h1.5v1.5h-1.5zM72.7 174.7h3.0v1.5h-3.0zM80.0 174.7h1.5v1.5h-1.5zM87.4 174.7h1.5v1.5h-1.5zM94.8 174.7h1.5v1.5h-1.5zM102.2 174.7h1.5v1.5h-1.5zM108.1 174.7h1.5v1.5h-1.5zM25.4 176.1h1.5v1.5h-1.5zM31.3 176.1h7.4v1.5h-7.4zM46.1 176.1h1.5v1.5h-1.5zM52.0 176.1h1.5v1.5h-1.5zM59.4 176.1h1.5v1.5h-1.5zM66.8 176.1h1.5v1.5h-1.5zM72.7 176.1h3.0v1.5h-3.0zM80.0 176.1h1.5v1.5h-1.5zM87.4 176.1h1.5v1.5h-1.5zM94.8 176.1h1.5v1.5h-1.5zM102.2 176.1h1.5v1.5h-1.5zM108.1 176.1h1.5v1.5h-1.5zM25.4 177.6h1.5v1.5h-1.5zM31.3 177.6h3.0v1.5h-3.0zM35.7 177.6h3.0v1.5h-3.0zM52.0 177.6h1.5v1.5h-1.5zM59.4 177.6h1.5v1.5h-1.5zM66.8 177.6h1.5v1.5h-1.5zM72.7 177.6h3.0v1.5h-3.0zM80.0 177.6h1.5v1.5h-1.5zM87.4 177.6h1.5v1.5h-1.5zM94.8 177.6h1.5v1.5h-1.5zM102.2 177.6h1.5v1.5h-1.5zM108.1 177.6h1.5v1.5h-1.5zM19.5 179.1h6.0v1.5h-6.0zM26.9 179.1h1.5v1.5h-1.5zM34.3 179.1h4.5v1.5h-4.5zM49.0 179.1h3.0v1.5h-3.0zM53.5 179.1h6.0v1.5h-6.0zM60.8 179.1h1.5v1.5h-1.5zM65.3 179.1h1.5v1.5h-1.5zM68.2 179.1h4.5v1.5h-4.5zM81.5 179.1h1.5v1.5h-1.5zM88.9 179.1h6.0v1.5h-6.0zM96.3 179.1h1.5v1.5h-1.5zM100.7 179.1h1.5v1.5h-1.5zM103.7 179.1h4.5v1.5h-4.5zM109.6 179.1h4.5v1.5h-4.5zM25.4 180.6h1.5v1.5h-1.5zM31.3 180.6h3.0v1.5h-3.0zM38.7 180.6h4.5v1.5h-4.5zM49.0 180.6h1.5v1.5h-1.5zM53.5 180.6h1.5v1.5h-1.5zM59.4 180.6h1.5v1.5h-1.5zM66.8 180.6h1.5v1.5h-1.5zM72.7 180.6h3.0v1.5h-3.0zM80.0 180.6h1.5v1.5h-1.5zM87.4 180.6h1.5v1.5h-1.5zM94.8 180.6h1.5v1.5h-1.5zM102.2 180.6h1.5v1.5h-1.5zM108.1 180.6h1.5v1.5h-1.5zM50.5 182.1h3.0v1.5h-3.0zM44.6 183.5h3.0v1.5h-3.0zM44.6 185.0h1.5v1.5h-1.5zM47.6 185.0h1.5v1.5h-1.5zM53.5 185.0h1.5v1.5h-1.5zM19.5 186.5h6.0v1.5h-6.0zM26.9 186.5h1.5v1.5h-1.5zM34.3 186.5h4.5v1.5h-4.5zM40.2 186.5h4.5v1.5h-4.5zM47.6 186.5h1.5v1.5h-1.5zM60.8 186.5h1.5v1.5h-1.5zM65.3 186.5h1.5v1.5h-1.5zM68.2 186.5h4.5v1.5h-4.5zM81.5 186.5h1.5v1.5h-1.5zM88.9 186.5h6.0v1.5h-6.0zM96.3 186.5h1.5v1.5h-1.5zM100.7 186.5h1.5v1.5h-1.5zM103.7 186.5h4.5v1.5h-4.5zM109.6 186.5h4.5v1.5h-4.5zM25.4 188.0h1.5v1.5h-1.5zM31.3 188.0h3.0v1.5h-3.0zM38.7 188.0h1.5v1.5h-1.5zM44.6 188.0h3.0v1.5h-3.0zM50.5 188.0h1.5v1.5h-1.5zM57.9 188.0h1.5v1.5h-1.5zM60.8 188.0h1.5v1.5h-1.5zM66.8 188.0h1.5v1.5h-1.5zM72.7 188.0h3.0v1.5h-3.0zM80.0 188.0h1.5v1.5h-1.5zM87.4 188.0h1.5v1.5h-1.5zM94.8 188.0h1.5v1.5h-1.5zM102.2 188.0h1.5v1.5h-1.5zM108.1 188.0h1.5v1.5h-1.5zM25.4 189.4h1.5v1.5h-1.5zM31.3 189.4h3.0v1.5h-3.0zM38.7 189.4h1.5v1.5h-1.5zM44.6 189.4h1.5v1.5h-1.5zM60.8 189.4h1.5v1.5h-1.5zM66.8 189.4h1.5v1.5h-1.5zM72.7 189.4h3.0v1.5h-3.0zM80.0 189.4h1.5v1.5h-1.5zM87.4 189.4h1.5v1.5h-1.5zM94.8 189.4h1.5v1.5h-1.5zM102.2 189.4h1.5v1.5h-1.5zM108.1 189.4h1.5v1.5h-1.5zM25.4 190.9h1.5v1.5h-1.5zM31.3 190.9h3.0v1.5h-3.0zM38.7 190.9h1.5v1.5h-1.5zM44.6 190.9h1.5v1.5h-1.5zM60.8 190.9h1.5v1.5h-1.5zM66.8 190.9h1.5v1.5h-1.5zM72.7 190.9h3.0v1.5h-3.0zM80.0 190.9h1.5v1.5h-1.5zM87.4 190.9h1.5v1.5h-1.5zM94.8 190.9h1.5v1.5h-1.5zM102.2 190.9h1.5v1.5h-1.5zM108.1 190.9h1.5v1.5h-1.5zM25.4 192.4h1.5v1.5h-1.5zM31.3 192.4h3.0v1.5h-3.0zM38.7 192.4h1.5v1.5h-1.5zM44.6 192.4h1.5v1.5h-1.5zM53.5 192.4h1.5v1.5h-1.5zM65.3 192.4h3.0v1.5h-3.0zM72.7 192.4h3.0v1.5h-3.0zM80.0 192.4h1.5v1.5h-1.5zM87.4 192.4h1.5v1.5h-1.5zM94.8 192.4h1.5v1.5h-1.5zM102.2 192.4h1.5v1.5h-1.5zM108.1 192.4h1.5v1.5h-1.5zM19.5 193.9h6.0v1.5h-6.0zM26.9 193.9h1.5v1.5h-1.5zM40.2 193.9h4.5v1.5h-4.5zM46.1 193.9h1.5v1.5h-1.5zM63.8 193.9h1.5v1.5h-1.5zM68.2 193.9h4.5v1.5h-4.5zM81.5 193.9h1.5v1.5h-1.5zM88.9 193.9h6.0v1.5h-6.0zM96.3 193.9h1.5v1.5h-1.5zM100.7 193.9h1.5v1.5h-1.5zM103.7 193.9h4.5v1.5h-4.5zM109.6 193.9h4.5v1.5h-4.5zM25.4 195.3h1.5v1.5h-1.5zM44.6 195.3h1.5v1.5h-1.5zM52.0 195.3h6.0v1.5h-6.0zM63.8 195.3h3.0v1.5h-3.0zM68.2 195.3h1.5v1.5h-1.5zM72.7 195.3h3.0v1.5h-3.0zM80.0 195.3h1.5v1.5h-1.5zM87.4 195.3h1.5v1.5h-1.5zM94.8 195.3h1.5v1.5h-1.5zM102.2 195.3h1.5v1.5h-1.5zM108.1 195.3h1.5v1.5h-1.5zM65.3 196.8h3.0v1.5h-3.0zM59.4 198.3h3.0v1.5h-3.0zM25.4 199.8h1.5v1.5h-1.5zM31.3 199.8h3.0v1.5h-3.0zM38.7 199.8h1.5v1.5h-1.5zM44.6 199.8h1.5v1.5h-1.5zM52.0 199.8h1.5v1.5h-1.5zM57.9 199.8h1.5v1.5h-1.5zM60.8 199.8h3.0v1.5h-3.0zM69.7 199.8h6.0v1.5h-6.0zM80.0 199.8h1.5v1.5h-1.5zM87.4 199.8h1.5v1.5h-1.5zM94.8 199.8h1.5v1.5h-1.5zM102.2 199.8h1.5v1.5h-1.5zM108.1 199.8h1.5v1.5h-1.5zM19.5 201.2h6.0v1.5h-6.0zM26.9 201.2h1.5v1.5h-1.5zM34.3 201.2h4.5v1.5h-4.5zM40.2 201.2h4.5v1.5h-4.5zM46.1 201.2h1.5v1.5h-1.5zM53.5 201.2h6.0v1.5h-6.0zM62.3 201.2h1.5v1.5h-1.5zM81.5 201.2h1.5v1.5h-1.5zM88.9 201.2h6.0v1.5h-6.0zM96.3 201.2h1.5v1.5h-1.5zM100.7 201.2h1.5v1.5h-1.5zM103.7 201.2h4.5v1.5h-4.5zM109.6 201.2h4.5v1.5h-4.5zM25.4 202.7h1.5v1.5h-1.5zM31.3 202.7h3.0v1.5h-3.0zM38.7 202.7h1.5v1.5h-1.5zM44.6 202.7h1.5v1.5h-1.5zM52.0 202.7h1.5v1.5h-1.5zM59.4 202.7h3.0v1.5h-3.0zM80.0 202.7h1.5v1.5h-1.5zM87.4 202.7h1.5v1.5h-1.5zM94.8 202.7h1.5v1.5h-1.5zM102.2 202.7h1.5v1.5h-1.5zM108.1 202.7h1.5v1.5h-1.5zM25.4 204.2h1.5v1.5h-1.5zM31.3 204.2h3.0v1.5h-3.0zM38.7 204.2h1.5v1.5h-1.5zM44.6 204.2h1.5v1.5h-1.5zM52.0 204.2h1.5v1.5h-1.5zM59.4 204.2h1.5v1.5h-1.5zM65.3 204.2h1.5v1.5h-1.5zM80.0 204.2h1.5v1.5h-1.5zM87.4 204.2h1.5v1.5h-1.5zM94.8 204.2h1.5v1.5h-1.5zM102.2 204.2h1.5v1.5h-1.5zM108.1 204.2h1.5v1.5h-1.5zM25.4 205.7h1.5v1.5h-1.5zM31.3 205.7h3.0v1.5h-3.0zM38.7 205.7h1.5v1.5h-1.5zM44.6 205.7h1.5v1.5h-1.5zM52.0 205.7h1.5v1.5h-1.5zM59.4 205.7h1.5v1.5h-1.5zM65.3 205.7h1.5v1.5h-1.5zM80.0 205.7h1.5v1.5h-1.5zM87.4 205.7h1.5v1.5h-1.5zM94.8 205.7h1.5v1.5h-1.5zM102.2 205.7h1.5v1.5h-1.5zM108.1 205.7h1.5v1.5h-1.5zM19.5 207.2h6.0v1.5h-6.0zM26.9 207.2h1.5v1.5h-1.5zM34.3 207.2h4.5v1.5h-4.5zM40.2 207.2h4.5v1.5h-4.5zM46.1 207.2h1.5v1.5h-1.5zM53.5 207.2h6.0v1.5h-6.0zM60.8 207.2h1.5v1.5h-1.5zM65.3 207.2h1.5v1.5h-1.5zM77.1 207.2h3.0v1.5h-3.0zM81.5 207.2h1.5v1.5h-1.5zM88.9 207.2h6.0v1.5h-6.0zM96.3 207.2h1.5v1.5h-1.5zM100.7 207.2h1.5v1.5h-1.5zM103.7 207.2h4.5v1.5h-4.5zM109.6 207.2h4.5v1.5h-4.5zM19.5 208.6h6.0v1.5h-6.0zM26.9 208.6h1.5v1.5h-1.5zM34.3 208.6h4.5v1.5h-4.5zM40.2 208.6h4.5v1.5h-4.5zM46.1 208.6h1.5v1.5h-1.5zM53.5 208.6h6.0v1.5h-6.0zM60.8 208.6h1.5v1.5h-1.5zM65.3 208.6h1.5v1.5h-1.5zM78.6 208.6h1.5v1.5h-1.5zM81.5 208.6h1.5v1.5h-1.5zM88.9 208.6h6.0v1.5h-6.0zM96.3 208.6h1.5v1.5h-1.5zM100.7 208.6h1.5v1.5h-1.5zM103.7 208.6h4.5v1.5h-4.5zM109.6 208.6h4.5v1.5h-4.5zM78.6 210.1h3.0v1.5h-3.0zM72.7 211.6h1.5v1.5h-1.5zM72.7 213.1h4.5v1.5h-4.5zM81.5 213.1h1.5v1.5h-1.5zM19.5 214.5h6.0v1.5h-6.0zM26.9 214.5h1.5v1.5h-1.5zM34.3 214.5h4.5v1.5h-4.5zM40.2 214.5h4.5v1.5h-4.5zM46.1 214.5h1.5v1.5h-1.5zM53.5 214.5h6.0v1.5h-6.0zM60.8 214.5h1.5v1.5h-1.5zM65.3 214.5h1.5v1.5h-1.5zM68.2 214.5h4.5v1.5h-4.5zM75.6 214.5h1.5v1.5h-1.5zM84.5 214.5h3.0v1.5h-3.0zM88.9 214.5h6.0v1.5h-6.0zM96.3 214.5h1.5v1.5h-1.5zM100.7 214.5h1.5v1.5h-1.5zM103.7 214.5h4.5v1.5h-4.5zM109.6 214.5h4.5v1.5h-4.5zM25.4 216.0h1.5v1.5h-1.5zM31.3 216.0h3.0v1.5h-3.0zM38.7 216.0h1.5v1.5h-1.5zM44.6 216.0h1.5v1.5h-1.5zM52.0 216.0h1.5v1.5h-1.5zM59.4 216.0h1.5v1.5h-1.5zM66.8 216.0h1.5v1.5h-1.5zM72.7 216.0h3.0v1.5h-3.0zM78.6 216.0h1.5v1.5h-1.5zM84.5 216.0h1.5v1.5h-1.5zM88.9 216.0h1.5v1.5h-1.5zM94.8 216.0h1.5v1.5h-1.5zM102.2 216.0h1.5v1.5h-1.5zM108.1 216.0h1.5v1.5h-1.5zM85.9 217.5h3.0v1.5h-3.0zM80.0 219.0h3.0v1.5h-3.0zM80.0 220.4h1.5v1.5h-1.5zM83.0 220.4h1.5v1.5h-1.5zM88.9 220.4h1.5v1.5h-1.5zM19.5 221.9h6.0v1.5h-6.0zM26.9 221.9h1.5v1.5h-1.5zM34.3 221.9h4.5v1.5h-4.5zM40.2 221.9h4.5v1.5h-4.5zM46.1 221.9h1.5v1.5h-1.5zM53.5 221.9h6.0v1.5h-6.0zM60.8 221.9h1.5v1.5h-1.5zM65.3 221.9h1.5v1.5h-1.5zM68.2 221.9h4.5v1.5h-4.5zM83.0 221.9h1.5v1.5h-1.5zM96.3 221.9h1.5v1.5h-1.5zM100.7 221.9h1.5v1.5h-1.5zM103.7 221.9h4.5v1.5h-4.5zM109.6 221.9h4.5v1.5h-4.5zM25.4 223.4h1.5v1.5h-1.5zM31.3 223.4h3.0v1.5h-3.0zM38.7 223.4h1.5v1.5h-1.5zM44.6 223.4h1.5v1.5h-1.5zM52.0 223.4h1.5v1.5h-1.5zM59.4 223.4h1.5v1.5h-1.5zM66.8 223.4h1.5v1.5h-1.5zM72.7 223.4h3.0v1.5h-3.0zM80.0 223.4h3.0v1.5h-3.0zM85.9 223.4h1.5v1.5h-1.5zM93.3 223.4h1.5v1.5h-1.5zM96.3 223.4h1.5v1.5h-1.5zM102.2 223.4h1.5v1.5h-1.5zM108.1 223.4h1.5v1.5h-1.5zM25.4 224.9h1.5v1.5h-1.5zM31.3 224.9h3.0v1.5h-3.0zM38.7 224.9h1.5v1.5h-1.5zM44.6 224.9h1.5v1.5h-1.5zM52.0 224.9h1.5v1.5h-1.5zM59.4 224.9h1.5v1.5h-1.5zM66.8 224.9h1.5v1.5h-1.5zM72.7 224.9h3.0v1.5h-3.0zM80.0 224.9h1.5v1.5h-1.5zM96.3 224.9h1.5v1.5h-1.5zM102.2 224.9h1.5v1.5h-1.5zM108.1 224.9h1.5v1.5h-1.5zM25.4 226.4h1.5v1.5h-1.5zM31.3 226.4h3.0v1.5h-3.0zM38.7 226.4h1.5v1.5h-1.5zM44.6 226.4h1.5v1.5h-1.5zM52.0 226.4h1.5v1.5h-1.5zM59.4 226.4h1.5v1.5h-1.5zM66.8 226.4h1.5v1.5h-1.5zM72.7 226.4h3.0v1.5h-3.0zM80.0 226.4h1.5v1.5h-1.5zM96.3 226.4h1.5v1.5h-1.5zM102.2 226.4h1.5v1.5h-1.5zM108.1 226.4h1.5v1.5h-1.5zM25.4 227.8h1.5v1.5h-1.5zM31.3 227.8h3.0v1.5h-3.0zM38.7 227.8h1.5v1.5h-1.5zM44.6 227.8h1.5v1.5h-1.5zM52.0 227.8h1.5v1.5h-1.5zM59.4 227.8h1.5v1.5h-1.5zM66.8 227.8h1.5v1.5h-1.5zM72.7 227.8h3.0v1.5h-3.0zM80.0 227.8h1.5v1.5h-1.5zM88.9 227.8h1.5v1.5h-1.5zM102.2 227.8h1.5v1.5h-1.5zM108.1 227.8h1.5v1.5h-1.5zM19.5 229.3h6.0v1.5h-6.0zM26.9 229.3h1.5v1.5h-1.5zM34.3 229.3h4.5v1.5h-4.5zM40.2 229.3h4.5v1.5h-4.5zM46.1 229.3h1.5v1.5h-1.5zM53.5 229.3h6.0v1.5h-6.0zM60.8 229.3h1.5v1.5h-1.5zM65.3 229.3h1.5v1.5h-1.5zM68.2 229.3h4.5v1.5h-4.5zM81.5 229.3h1.5v1.5h-1.5zM99.2 229.3h3.0v1.5h-3.0zM103.7 229.3h4.5v1.5h-4.5zM109.6 229.3h4.5v1.5h-4.5zM25.4 230.8h1.5v1.5h-1.5zM31.3 230.8h3.0v1.5h-3.0zM38.7 230.8h1.5v1.5h-1.5zM44.6 230.8h1.5v1.5h-1.5zM52.0 230.8h1.5v1.5h-1.5zM59.4 230.8h1.5v1.5h-1.5zM66.8 230.8h1.5v1.5h-1.5zM72.7 230.8h3.0v1.5h-3.0zM80.0 230.8h1.5v1.5h-1.5zM91.9 230.8h1.5v1.5h-1.5zM100.7 230.8h1.5v1.5h-1.5zM103.7 230.8h1.5v1.5h-1.5zM108.1 230.8h1.5v1.5h-1.5zM88.9 232.3h1.5v1.5h-1.5zM106.6 232.3h1.5v1.5h-1.5zM94.8 233.7h3.0v1.5h-3.0zM109.6 233.7h1.5v1.5h-1.5zM25.4 235.2h1.5v1.5h-1.5zM31.3 235.2h3.0v1.5h-3.0zM38.7 235.2h1.5v1.5h-1.5zM44.6 235.2h1.5v1.5h-1.5zM52.0 235.2h1.5v1.5h-1.5zM59.4 235.2h1.5v1.5h-1.5zM66.8 235.2h1.5v1.5h-1.5zM72.7 235.2h3.0v1.5h-3.0zM80.0 235.2h1.5v1.5h-1.5zM85.9 235.2h1.5v1.5h-1.5zM94.8 235.2h3.0v1.5h-3.0zM105.1 235.2h3.0v1.5h-3.0zM19.5 236.7h6.0v1.5h-6.0zM26.9 236.7h1.5v1.5h-1.5zM34.3 236.7h4.5v1.5h-4.5zM40.2 236.7h4.5v1.5h-4.5zM46.1 236.7h1.5v1.5h-1.5zM53.5 236.7h6.0v1.5h-6.0zM60.8 236.7h1.5v1.5h-1.5zM65.3 236.7h1.5v1.5h-1.5zM68.2 236.7h4.5v1.5h-4.5zM81.5 236.7h1.5v1.5h-1.5zM88.9 236.7h6.0v1.5h-6.0zM112.5 236.7h1.5v1.5h-1.5zM25.4 238.2h1.5v1.5h-1.5zM31.3 238.2h3.0v1.5h-3.0zM38.7 238.2h1.5v1.5h-1.5zM44.6 238.2h1.5v1.5h-1.5zM52.0 238.2h1.5v1.5h-1.5zM59.4 238.2h1.5v1.5h-1.5zM66.8 238.2h1.5v1.5h-1.5zM72.7 238.2h3.0v1.5h-3.0zM80.0 238.2h1.5v1.5h-1.5zM85.9 238.2h1.5v1.5h-1.5zM94.8 238.2h3.0v1.5h-3.0zM109.6 238.2h1.5v1.5h-1.5zM25.4 239.6h1.5v1.5h-1.5zM31.3 239.6h3.0v1.5h-3.0zM38.7 239.6h1.5v1.5h-1.5zM44.6 239.6h1.5v1.5h-1.5zM52.0 239.6h1.5v1.5h-1.5zM59.4 239.6h1.5v1.5h-1.5zM66.8 239.6h1.5v1.5h-1.5zM72.7 239.6h3.0v1.5h-3.0zM80.0 239.6h1.5v1.5h-1.5zM94.8 239.6h1.5v1.5h-1.5zM100.7 239.6h1.5v1.5h-1.5zM109.6 239.6h1.5v1.5h-1.5zM25.4 241.1h1.5v1.5h-1.5zM31.3 241.1h3.0v1.5h-3.0zM38.7 241.1h1.5v1.5h-1.5zM44.6 241.1h1.5v1.5h-1.5zM52.0 241.1h1.5v1.5h-1.5zM59.4 241.1h1.5v1.5h-1.5zM66.8 241.1h1.5v1.5h-1.5zM72.7 241.1h3.0v1.5h-3.0zM80.0 241.1h1.5v1.5h-1.5zM87.4 241.1h1.5v1.5h-1.5zM100.7 241.1h1.5v1.5h-1.5zM112.5 241.1h1.5v1.5h-1.5zM19.5 242.6h6.0v1.5h-6.0zM26.9 242.6h1.5v1.5h-1.5zM34.3 242.6h4.5v1.5h-4.5zM40.2 242.6h4.5v1.5h-4.5zM46.1 242.6h1.5v1.5h-1.5zM53.5 242.6h6.0v1.5h-6.0zM60.8 242.6h1.5v1.5h-1.5zM65.3 242.6h1.5v1.5h-1.5zM68.2 242.6h4.5v1.5h-4.5zM81.5 242.6h1.5v1.5h-1.5zM88.9 242.6h1.5v1.5h-1.5zM25.4 244.1h1.5v1.5h-1.5zM31.3 244.1h3.0v1.5h-3.0zM38.7 244.1h1.5v1.5h-1.5zM44.6 244.1h1.5v1.5h-1.5zM52.0 244.1h1.5v1.5h-1.5zM59.4 244.1h1.5v1.5h-1.5zM66.8 244.1h1.5v1.5h-1.5zM72.7 244.1h3.0v1.5h-3.0zM80.0 244.1h1.5v1.5h-1.5zM87.4 244.1h1.5v1.5h-1.5zM94.8 244.1h1.5v1.5h-1.5zM99.2 244.1h1.5v1.5h-1.5zM103.7 244.1h3.0v1.5h-3.0zM25.4 245.5h1.5v1.5h-1.5zM31.3 245.5h3.0v1.5h-3.0zM38.7 245.5h1.5v1.5h-1.5zM44.6 245.5h1.5v1.5h-1.5zM52.0 245.5h1.5v1.5h-1.5zM59.4 245.5h1.5v1.5h-1.5zM66.8 245.5h1.5v1.5h-1.5zM72.7 245.5h3.0v1.5h-3.0zM80.0 245.5h1.5v1.5h-1.5zM87.4 245.5h1.5v1.5h-1.5zM94.8 245.5h1.5v1.5h-1.5zM25.4 247.0h1.5v1.5h-1.5zM31.3 247.0h3.0v1.5h-3.0zM38.7 247.0h1.5v1.5h-1.5zM44.6 247.0h1.5v1.5h-1.5zM52.0 247.0h1.5v1.5h-1.5zM59.4 247.0h1.5v1.5h-1.5zM66.8 247.0h1.5v1.5h-1.5zM72.7 247.0h3.0v1.5h-3.0zM80.0 247.0h1.5v1.5h-1.5zM87.4 247.0h1.5v1.5h-1.5zM94.8 247.0h1.5v1.5h-1.5zM102.2 247.0h1.5v1.5h-1.5zM106.6 247.0h1.5v1.5h-1.5z"/>
<path fill="rgb(251,225,226)" d="M22.5 154.0h1.5v1.5h-1.5zM25.4 154.0h1.5v1.5h-1.5zM23.9 155.5h3.0v1.5h-3.0zM19.5 157.0h1.5v1.5h-1.5zM21.0 158.4h1.5v1.5h-1.5zM26.9 158.4h1.5v1.5h-1.5zM19.5 159.9h3.0v1.5h-3.0zM28.4 159.9h1.5v1.5h-1.5zM31.3 159.9h3.0v1.5h-3.0zM38.7 159.9h1.5v1.5h-1.5zM44.6 159.9h1.5v1.5h-1.5zM52.0 159.9h1.5v1.5h-1.5zM59.4 159.9h1.5v1.5h-1.5zM66.8 159.9h1.5v1.5h-1.5zM72.7 159.9h3.0v1.5h-3.0zM80.0 159.9h1.5v1.5h-1.5zM87.4 159.9h1.5v1.5h-1.5zM94.8 159.9h1.5v1.5h-1.5zM102.2 159.9h1.5v1.5h-1.5zM108.1 159.9h1.5v1.5h-1.5zM23.9 161.4h1.5v1.5h-1.5zM28.4 161.4h1.5v1.5h-1.5zM31.3 161.4h3.0v1.5h-3.0zM25.4 162.9h3.0v1.5h-3.0zM29.8 162.9h3.0v1.5h-3.0zM28.4 164.3h1.5v1.5h-1.5zM32.8 164.3h1.5v1.5h-1.5zM25.4 165.8h4.5v1.5h-4.5zM44.6 165.8h1.5v1.5h-1.5zM52.0 165.8h1.5v1.5h-1.5zM59.4 165.8h1.5v1.5h-1.5zM66.8 165.8h1.5v1.5h-1.5zM72.7 165.8h3.0v1.5h-3.0zM80.0 165.8h1.5v1.5h-1.5zM87.4 165.8h1.5v1.5h-1.5zM94.8 165.8h1.5v1.5h-1.5zM102.2 165.8h1.5v1.5h-1.5zM108.1 165.8h1.5v1.5h-1.5zM25.4 167.3h3.0v1.5h-3.0zM29.8 167.3h1.5v1.5h-1.5zM44.6 167.3h1.5v1.5h-1.5zM52.0 167.3h1.5v1.5h-1.5zM59.4 167.3h1.5v1.5h-1.5zM66.8 167.3h1.5v1.5h-1.5zM72.7 167.3h3.0v1.5h-3.0zM80.0 167.3h1.5v1.5h-1.5zM87.4 167.3h1.5v1.5h-1.5zM94.8 167.3h1.5v1.5h-1.5zM102.2 167.3h1.5v1.5h-1.5zM108.1 167.3h1.5v1.5h-1.5zM62.3 168.8h3.0v1.5h-3.0zM62.3 170.2h3.0v1.5h-3.0zM40.2 171.7h1.5v1.5h-1.5zM62.3 171.7h3.0v1.5h-3.0zM25.4 173.2h1.5v1.5h-1.5zM43.1 173.2h3.0v1.5h-3.0zM52.0 173.2h1.5v1.5h-1.5zM59.4 173.2h1.5v1.5h-1.5zM66.8 173.2h1.5v1.5h-1.5zM72.7 173.2h3.0v1.5h-3.0zM80.0 173.2h1.5v1.5h-1.5zM87.4 173.2h1.5v1.5h-1.5zM94.8 173.2h1.5v1.5h-1.5zM102.2 173.2h1.5v1.5h-1.5zM108.1 173.2h1.5v1.5h-1.5zM37.2 174.7h1.5v1.5h-1.5zM43.1 174.7h3.0v1.5h-3.0zM38.7 177.6h3.0v1.5h-3.0zM46.1 177.6h1.5v1.5h-1.5zM25.4 179.1h1.5v1.5h-1.5zM31.3 179.1h3.0v1.5h-3.0zM38.7 179.1h3.0v1.5h-3.0zM47.6 179.1h1.5v1.5h-1.5zM52.0 179.1h1.5v1.5h-1.5zM59.4 179.1h1.5v1.5h-1.5zM66.8 179.1h1.5v1.5h-1.5zM72.7 179.1h3.0v1.5h-3.0zM80.0 179.1h1.5v1.5h-1.5zM87.4 179.1h1.5v1.5h-1.5zM94.8 179.1h1.5v1.5h-1.5zM102.2 179.1h1.5v1.5h-1.5zM108.1 179.1h1.5v1.5h-1.5zM43.1 180.6h1.5v1.5h-1.5zM47.6 180.6h1.5v1.5h-1.5zM52.0 180.6h1.5v1.5h-1.5zM44.6 182.1h3.0v1.5h-3.0zM49.0 182.1h1.5v1.5h-1.5zM47.6 183.5h1.5v1.5h-1.5zM50.5 183.5h3.0v1.5h-3.0zM49.0 185.0h1.5v1.5h-1.5zM25.4 186.5h1.5v1.5h-1.5zM31.3 186.5h3.0v1.5h-3.0zM38.7 186.5h1.5v1.5h-1.5zM44.6 186.5h3.0v1.5h-3.0zM49.0 186.5h1.5v1.5h-1.5zM56.4 186.5h4.5v1.5h-4.5zM66.8 186.5h1.5v1.5h-1.5zM72.7 186.5h3.0v1.5h-3.0zM80.0 186.5h1.5v1.5h-1.5zM87.4 186.5h1.5v1.5h-1.5zM94.8 186.5h1.5v1.5h-1.5zM102.2 186.5h1.5v1.5h-1.5zM108.1 186.5h1.5v1.5h-1.5zM56.4 188.0h1.5v1.5h-1.5zM59.4 188.0h1.5v1.5h-1.5zM57.9 189.4h3.0v1.5h-3.0zM52.0 190.9h3.0v1.5h-3.0zM52.0 192.4h1.5v1.5h-1.5zM54.9 192.4h1.5v1.5h-1.5zM60.8 192.4h1.5v1.5h-1.5zM25.4 193.9h1.5v1.5h-1.5zM44.6 193.9h1.5v1.5h-1.5zM52.0 193.9h4.5v1.5h-4.5zM62.3 193.9h1.5v1.5h-1.5zM65.3 193.9h3.0v1.5h-3.0zM72.7 193.9h3.0v1.5h-3.0zM80.0 193.9h1.5v1.5h-1.5zM87.4 193.9h1.5v1.5h-1.5zM94.8 193.9h1.5v1.5h-1.5zM102.2 193.9h1.5v1.5h-1.5zM108.1 193.9h1.5v1.5h-1.5zM57.9 195.3h1.5v1.5h-1.5zM62.3 195.3h1.5v1.5h-1.5zM66.8 195.3h1.5v1.5h-1.5zM59.4 196.8h3.0v1.5h-3.0zM63.8 196.8h1.5v1.5h-1.5zM34.3 198.3h4.5v1.5h-4.5zM62.3 198.3h1.5v1.5h-1.5zM65.3 198.3h3.0v1.5h-3.0zM59.4 199.8h1.5v1.5h-1.5zM63.8 199.8h1.5v1.5h-1.5zM68.2 199.8h1.5v1.5h-1.5zM25.4 201.2h1.5v1.5h-1.5zM31.3 201.2h3.0v1.5h-3.0zM38.7 201.2h1.5v1.5h-1.5zM44.6 201.2h1.5v1.5h-1.5zM52.0 201.2h1.5v1.5h-1.5zM59.4 201.2h3.0v1.5h-3.0zM63.8 201.2h1.5v1.5h-1.5zM71.2 201.2h4.5v1.5h-4.5zM80.0 201.2h1.5v1.5h-1.5zM87.4 201.2h1.5v1.5h-1.5zM94.8 201.2h1.5v1.5h-1.5zM102.2 201.2h1.5v1.5h-1.5zM108.1 201.2h1.5v1.5h-1.5zM65.3 202.7h1.5v1.5h-1.5zM71.2 202.7h4.5v1.5h-4.5zM74.1 204.2h1.5v1.5h-1.5zM66.8 205.7h3.0v1.5h-3.0zM25.4 207.2h1.5v1.5h-1.5zM31.3 207.2h3.0v1.5h-3.0zM38.7 207.2h1.5v1.5h-1.5zM44.6 207.2h1.5v1.5h-1.5zM52.0 207.2h1.5v1.5h-1.5zM59.4 207.2h1.5v1.5h-1.5zM66.8 207.2h3.0v1.5h-3.0zM75.6 207.2h1.5v1.5h-1.5zM80.0 207.2h1.5v1.5h-1.5zM87.4 207.2h1.5v1.5h-1.5zM94.8 207.2h1.5v1.5h-1.5zM102.2 207.2h1.5v1.5h-1.5zM108.1 207.2h1.5v1.5h-1.5zM25.4 208.6h1.5v1.5h-1.5zM31.3 208.6h3.0v1.5h-3.0zM38.7 208.6h1.5v1.5h-1.5zM44.6 208.6h1.5v1.5h-1.5zM52.0 208.6h1.5v1.5h-1.5zM59.4 208.6h1.5v1.5h-1.5zM66.8 208.6h4.5v1.5h-4.5zM77.1 208.6h1.5v1.5h-1.5zM80.0 208.6h1.5v1.5h-1.5zM87.4 208.6h1.5v1.5h-1.5zM94.8 208.6h1.5v1.5h-1.5zM102.2 208.6h1.5v1.5h-1.5zM108.1 208.6h1.5v1.5h-1.5zM72.7 210.1h1.5v1.5h-1.5zM77.1 210.1h1.5v1.5h-1.5zM74.1 211.6h3.0v1.5h-3.0zM78.6 211.6h3.0v1.5h-3.0zM77.1 213.1h1.5v1.5h-1.5zM25.4 214.5h1.5v1.5h-1.5zM31.3 214.5h3.0v1.5h-3.0zM38.7 214.5h1.5v1.5h-1.5zM44.6 214.5h1.5v1.5h-1.5zM52.0 214.5h1.5v1.5h-1.5zM59.4 214.5h1.5v1.5h-1.5zM66.8 214.5h1.5v1.5h-1.5zM72.7 214.5h3.0v1.5h-3.0zM77.1 214.5h1.5v1.5h-1.5zM83.0 214.5h1.5v1.5h-1.5zM87.4 214.5h1.5v1.5h-1.5zM94.8 214.5h1.5v1.5h-1.5zM102.2 214.5h1.5v1.5h-1.5zM108.1 214.5h1.5v1.5h-1.5zM83.0 216.0h1.5v1.5h-1.5zM87.4 216.0h1.5v1.5h-1.5zM80.0 217.5h3.0v1.5h-3.0zM84.5 217.5h1.5v1.5h-1.5zM83.0 219.0h1.5v1.5h-1.5zM85.9 219.0h3.0v1.5h-3.0zM84.5 220.4h1.5v1.5h-1.5zM25.4 221.9h1.5v1.5h-1.5zM31.3 221.9h3.0v1.5h-3.0zM38.7 221.9h1.5v1.5h-1.5zM44.6 221.9h1.5v1.5h-1.5zM52.0 221.9h1.5v1.5h-1.5zM59.4 221.9h1.5v1.5h-1.5zM66.8 221.9h1.5v1.5h-1.5zM72.7 221.9h3.0v1.5h-3.0zM80.0 221.9h3.0v1.5h-3.0zM84.5 221.9h1.5v1.5h-1.5zM91.9 221.9h4.5v1.5h-4.5zM102.2 221.9h1.5v1.5h-1.5zM108.1 221.9h1.5v1.5h-1.5zM91.9 223.4h1.5v1.5h-1.5zM94.8 223.4h1.5v1.5h-1.5zM93.3 224.9h3.0v1.5h-3.0zM87.4 226.4h3.0v1.5h-3.0zM87.4 227.8h1.5v1.5h-1.5zM90.4 227.8h1.5v1.5h-1.5zM96.3 227.8h1.5v1.5h-1.5zM25.4 229.3h1.5v1.5h-1.5zM31.3 229.3h3.0v1.5h-3.0zM38.7 229.3h1.5v1.5h-1.5zM44.6 229.3h1.5v1.5h-1.5zM52.0 229.3h1.5v1.5h-1.5zM59.4 229.3h1.5v1.5h-1.5zM66.8 229.3h1.5v1.5h-1.5zM72.7 229.3h3.0v1.5h-3.0zM80.0 229.3h1.5v1.5h-1.5zM87.4 229.3h4.5v1.5h-4.5zM97.8 229.3h1.5v1.5h-1.5zM102.2 229.3h1.5v1.5h-1.5zM108.1 229.3h1.5v1.5h-1.5zM88.9 230.8h1.5v1.5h-1.5zM93.3 230.8h1.5v1.5h-1.5zM102.2 230.8h1.5v1.5h-1.5zM87.4 232.3h1.5v1.5h-1.5zM94.8 232.3h3.0v1.5h-3.0zM103.7 232.3h3.0v1.5h-3.0zM108.1 232.3h1.5v1.5h-1.5zM87.4 233.7h1.5v1.5h-1.5zM97.8 233.7h1.5v1.5h-1.5zM103.7 233.7h6.0v1.5h-6.0zM103.7 235.2h1.5v1.5h-1.5zM109.6 235.2h3.0v1.5h-3.0zM25.4 236.7h1.5v1.5h-1.5zM31.3 236.7h3.0v1.5h-3.0zM38.7 236.7h1.5v1.5h-1.5zM44.6 236.7h1.5v1.5h-1.5zM52.0 236.7h1.5v1.5h-1.5zM59.4 236.7h1.5v1.5h-1.5zM66.8 236.7h1.5v1.5h-1.5zM72.7 236.7h3.0v1.5h-3.0zM80.0 236.7h1.5v1.5h-1.5zM85.9 236.7h1.5v1.5h-1.5zM94.8 236.7h3.0v1.5h-3.0zM106.6 236.7h3.0v1.5h-3.0zM100.7 238.2h1.5v1.5h-1.5zM106.6 238.2h3.0v1.5h-3.0zM111.0 238.2h3.0v1.5h-3.0zM88.9 239.6h3.0v1.5h-3.0zM96.3 239.6h1.5v1.5h-1.5zM112.5 239.6h1.5v1.5h-1.5zM88.9 241.1h6.0v1.5h-6.0zM96.3 241.1h1.5v1.5h-1.5zM99.2 241.1h1.5v1.5h-1.5zM102.2 241.1h3.0v1.5h-3.0zM25.4 242.6h1.5v1.5h-1.5zM31.3 242.6h3.0v1.5h-3.0zM38.7 242.6h1.5v1.5h-1.5zM44.6 242.6h1.5v1.5h-1.5zM52.0 242.6h1.5v1.5h-1.5zM59.4 242.6h1.5v1.5h-1.5zM66.8 242.6h1.5v1.5h-1.5zM72.7 242.6h3.0v1.5h-3.0zM80.0 242.6h1.5v1.5h-1.5zM87.4 242.6h1.5v1.5h-1.5zM97.8 242.6h3.0v1.5h-3.0zM102.2 242.6h3.0v1.5h-3.0zM112.5 242.6h1.5v1.5h-1.5zM100.7 244.1h1.5v1.5h-1.5zM112.5 244.1h1.5v1.5h-1.5zM100.7 245.5h1.5v1.5h-1.5zM103.7 245.5h1.5v1.5h-1.5zM103.7 247.0h3.0v1.5h-3.0zM108.1 247.0h3.0v1.5h-3.0z"/>
<path fill="rgb(250,215,217)" d="M21.0 154.0h1.5v1.5h-1.5zM19.5 155.5h1.5v1.5h-1.5zM22.5 155.5h1.5v1.5h-1.5zM21.0 157.0h1.5v1.5h-1.5zM23.9 157.0h3.0v1.5h-3.0zM22.5 158.4h1.5v1.5h-1.5zM22.5 159.9h1.5v1.5h-1.5zM31.3 164.3h1.5v1.5h-1.5zM29.8 165.8h1.5v1.5h-1.5zM62.3 165.8h3.0v1.5h-3.0zM62.3 167.3h3.0v1.5h-3.0zM60.8 168.8h1.5v1.5h-1.5zM60.8 170.2h1.5v1.5h-1.5zM60.8 171.7h1.5v1.5h-1.5zM41.6 173.2h1.5v1.5h-1.5zM62.3 173.2h3.0v1.5h-3.0zM41.6 174.7h1.5v1.5h-1.5zM38.7 176.1h3.0v1.5h-3.0zM43.1 176.1h3.0v1.5h-3.0zM41.6 177.6h1.5v1.5h-1.5zM41.6 179.1h1.5v1.5h-1.5zM52.0 185.0h1.5v1.5h-1.5zM50.5 186.5h1.5v1.5h-1.5zM54.9 186.5h1.5v1.5h-1.5zM54.9 188.0h1.5v1.5h-1.5zM52.0 189.4h3.0v1.5h-3.0zM56.4 189.4h1.5v1.5h-1.5zM54.9 190.9h1.5v1.5h-1.5zM57.9 190.9h3.0v1.5h-3.0zM56.4 192.4h1.5v1.5h-1.5zM56.4 193.9h1.5v1.5h-1.5zM31.3 198.3h3.0v1.5h-3.0zM38.7 198.3h1.5v1.5h-1.5zM69.7 201.2h1.5v1.5h-1.5zM69.7 202.7h1.5v1.5h-1.5zM66.8 204.2h3.0v1.5h-3.0zM71.2 204.2h3.0v1.5h-3.0zM69.7 205.7h1.5v1.5h-1.5zM74.1 205.7h1.5v1.5h-1.5zM69.7 207.2h1.5v1.5h-1.5zM71.2 208.6h1.5v1.5h-1.5zM75.6 208.6h1.5v1.5h-1.5zM74.1 210.1h1.5v1.5h-1.5zM80.0 213.1h1.5v1.5h-1.5zM78.6 214.5h1.5v1.5h-1.5zM87.4 220.4h1.5v1.5h-1.5zM85.9 221.9h1.5v1.5h-1.5zM90.4 221.9h1.5v1.5h-1.5zM90.4 223.4h1.5v1.5h-1.5zM87.4 224.9h3.0v1.5h-3.0zM91.9 224.9h1.5v1.5h-1.5zM90.4 226.4h1.5v1.5h-1.5zM93.3 226.4h3.0v1.5h-3.0zM91.9 227.8h1.5v1.5h-1.5zM91.9 229.3h1.5v1.5h-1.5zM87.4 230.8h1.5v1.5h-1.5zM90.4 230.8h1.5v1.5h-1.5zM99.2 230.8h1.5v1.5h-1.5zM100.7 232.3h3.0v1.5h-3.0zM102.2 233.7h1.5v1.5h-1.5zM87.4 235.2h1.5v1.5h-1.5zM97.8 235.2h1.5v1.5h-1.5zM102.2 235.2h1.5v1.5h-1.5zM108.1 235.2h1.5v1.5h-1.5zM97.8 236.7h1.5v1.5h-1.5zM105.1 236.7h1.5v1.5h-1.5zM109.6 236.7h3.0v1.5h-3.0zM87.4 238.2h1.5v1.5h-1.5zM105.1 238.2h1.5v1.5h-1.5zM87.4 239.6h1.5v1.5h-1.5zM97.8 239.6h1.5v1.5h-1.5zM102.2 239.6h3.0v1.5h-3.0zM106.6 239.6h3.0v1.5h-3.0zM111.0 239.6h1.5v1.5h-1.5zM94.8 241.1h1.5v1.5h-1.5zM97.8 241.1h1.5v1.5h-1.5zM105.1 241.1h1.5v1.5h-1.5zM111.0 241.1h1.5v1.5h-1.5zM90.4 242.6h4.5v1.5h-4.5zM96.3 242.6h1.5v1.5h-1.5zM100.7 242.6h1.5v1.5h-1.5zM105.1 242.6h1.5v1.5h-1.5zM102.2 244.1h1.5v1.5h-1.5zM111.0 244.1h1.5v1.5h-1.5zM102.2 245.5h1.5v1.5h-1.5zM105.1 245.5h3.0v1.5h-3.0zM109.6 245.5h1.5v1.5h-1.5zM112.5 245.5h1.5v1.5h-1.5zM111.0 247.0h1.5v1.5h-1.5z"/>
<path fill="rgb(248,206,207)" d="M25.4 158.4h1.5v1.5h-1.5zM23.9 159.9h1.5v1.5h-1.5zM26.9 159.9h1.5v1.5h-1.5zM25.4 161.4h1.5v1.5h-1.5zM60.8 165.8h1.5v1.5h-1.5zM60.8 167.3h1.5v1.5h-1.5zM40.2 173.2h1.5v1.5h-1.5zM60.8 173.2h1.5v1.5h-1.5zM38.7 174.7h1.5v1.5h-1.5zM44.6 177.6h1.5v1.5h-1.5zM43.1 179.1h1.5v1.5h-1.5zM46.1 179.1h1.5v1.5h-1.5zM44.6 180.6h1.5v1.5h-1.5zM53.5 186.5h1.5v1.5h-1.5zM52.0 188.0h1.5v1.5h-1.5zM59.4 192.4h1.5v1.5h-1.5zM34.3 193.9h4.5v1.5h-4.5zM57.9 193.9h1.5v1.5h-1.5zM60.8 193.9h1.5v1.5h-1.5zM59.4 195.3h1.5v1.5h-1.5zM66.8 199.8h1.5v1.5h-1.5zM65.3 201.2h1.5v1.5h-1.5zM68.2 201.2h1.5v1.5h-1.5zM66.8 202.7h1.5v1.5h-1.5zM72.7 205.7h1.5v1.5h-1.5zM71.2 207.2h1.5v1.5h-1.5zM74.1 207.2h1.5v1.5h-1.5zM72.7 208.6h1.5v1.5h-1.5zM81.5 214.5h1.5v1.5h-1.5zM80.0 216.0h1.5v1.5h-1.5zM88.9 221.9h1.5v1.5h-1.5zM87.4 223.4h1.5v1.5h-1.5zM94.8 227.8h1.5v1.5h-1.5zM93.3 229.3h1.5v1.5h-1.5zM96.3 229.3h1.5v1.5h-1.5zM94.8 230.8h1.5v1.5h-1.5zM97.8 230.8h1.5v1.5h-1.5zM99.2 232.3h1.5v1.5h-1.5zM87.4 236.7h1.5v1.5h-1.5zM103.7 236.7h1.5v1.5h-1.5zM97.8 238.2h3.0v1.5h-3.0zM102.2 238.2h1.5v1.5h-1.5zM99.2 239.6h1.5v1.5h-1.5zM108.1 241.1h3.0v1.5h-3.0zM94.8 242.6h1.5v1.5h-1.5zM106.6 242.6h1.5v1.5h-1.5zM111.0 242.6h1.5v1.5h-1.5zM106.6 244.1h1.5v1.5h-1.5zM108.1 245.5h1.5v1.5h-1.5z"/>
<path fill="rgb(247,196,198)" d="M28.4 162.9h1.5v1.5h-1.5zM29.8 164.3h1.5v1.5h-1.5zM47.6 182.1h1.5v1.5h-1.5zM49.0 183.5h1.5v1.5h-1.5zM50.5 185.0h1.5v1.5h-1.5zM31.3 193.9h3.0v1.5h-3.0zM38.7 193.9h1.5v1.5h-1.5zM34.3 196.8h4.5v1.5h-4.5zM62.3 196.8h1.5v1.5h-1.5zM63.8 198.3h1.5v1.5h-1.5zM75.6 210.1h1.5v1.5h-1.5zM77.1 211.6h1.5v1.5h-1.5zM78.6 213.1h1.5v1.5h-1.5zM83.0 217.5h1.5v1.5h-1.5zM84.5 219.0h1.5v1.5h-1.5zM85.9 220.4h1.5v1.5h-1.5zM99.2 236.7h3.0v1.5h-3.0z"/>
<path fill="rgb(246,186,188)" d="M19.5 154.0h1.5v1.5h-1.5zM21.0 155.5h1.5v1.5h-1.5zM22.5 157.0h1.5v1.5h-1.5zM23.9 158.4h1.5v1.5h-1.5zM26.9 161.4h1.5v1.5h-1.5zM40.2 174.7h1.5v1.5h-1.5zM41.6 176.1h1.5v1.5h-1.5zM43.1 177.6h1.5v1.5h-1.5zM46.1 180.6h1.5v1.5h-1.5zM53.5 188.0h1.5v1.5h-1.5zM54.9 189.4h1.5v1.5h-1.5zM56.4 190.9h1.5v1.5h-1.5zM57.9 192.4h1.5v1.5h-1.5zM34.3 195.3h4.5v1.5h-4.5zM60.8 195.3h1.5v1.5h-1.5zM31.3 196.8h3.0v1.5h-3.0zM38.7 196.8h1.5v1.5h-1.5zM65.3 199.8h1.5v1.5h-1.5zM68.2 202.7h1.5v1.5h-1.5zM69.7 204.2h1.5v1.5h-1.5zM71.2 205.7h1.5v1.5h-1.5zM81.5 216.0h1.5v1.5h-1.5zM88.9 223.4h1.5v1.5h-1.5zM90.4 224.9h1.5v1.5h-1.5zM91.9 226.4h1.5v1.5h-1.5zM93.3 227.8h1.5v1.5h-1.5zM103.7 238.2h1.5v1.5h-1.5zM105.1 239.6h1.5v1.5h-1.5zM106.6 241.1h1.5v1.5h-1.5zM109.6 242.6h1.5v1.5h-1.5zM108.1 244.1h1.5v1.5h-1.5zM111.0 245.5h1.5v1.5h-1.5zM112.5 247.0h1.5v1.5h-1.5z"/>
<path fill="rgb(245,176,179)" d="M25.4 159.9h1.5v1.5h-1.5zM44.6 179.1h1.5v1.5h-1.5zM52.0 186.5h1.5v1.5h-1.5zM59.4 193.9h1.5v1.5h-1.5zM31.3 195.3h3.0v1.5h-3.0zM38.7 195.3h1.5v1.5h-1.5zM66.8 201.2h1.5v1.5h-1.5zM72.7 207.2h1.5v1.5h-1.5zM74.1 208.6h1.5v1.5h-1.5zM80.0 214.5h1.5v1.5h-1.5zM87.4 221.9h1.5v1.5h-1.5zM94.8 229.3h1.5v1.5h-1.5zM97.8 232.3h1.5v1.5h-1.5zM100.7 233.7h1.5v1.5h-1.5zM99.2 235.2h1.5v1.5h-1.5zM102.2 236.7h1.5v1.5h-1.5zM108.1 242.6h1.5v1.5h-1.5z"/>
<path fill="rgb(244,166,169)" d="M96.3 230.8h1.5v1.5h-1.5zM109.6 244.1h1.5v1.5h-1.5z"/>
<path fill="rgb(242,157,160)" d="M35.7 165.8h4.5v1.5h-4.5zM37.2 167.3h1.5v1.5h-1.5zM37.2 168.8h3.0v1.5h-3.0zM31.3 170.2h1.5v1.5h-1.5zM31.3 171.7h4.5v1.5h-4.5zM31.3 173.2h1.5v1.5h-1.5zM34.3 173.2h1.5v1.5h-1.5zM99.2 233.7h1.5v1.5h-1.5z"/>
<path fill="rgb(241,147,150)" d="M34.3 165.8h1.5v1.5h-1.5zM35.7 167.3h1.5v1.5h-1.5zM38.7 167.3h1.5v1.5h-1.5zM31.3 168.8h1.5v1.5h-1.5zM35.7 168.8h1.5v1.5h-1.5zM32.8 170.2h3.0v1.5h-3.0zM37.2 170.2h3.0v1.5h-3.0zM35.7 171.7h1.5v1.5h-1.5zM32.8 173.2h1.5v1.5h-1.5zM35.7 173.2h1.5v1.5h-1.5zM100.7 235.2h1.5v1.5h-1.5z"/>
<path fill="rgb(240,137,141)" d="M32.8 165.8h1.5v1.5h-1.5zM31.3 167.3h1.5v1.5h-1.5zM34.3 167.3h1.5v1.5h-1.5zM32.8 168.8h1.5v1.5h-1.5zM38.7 171.7h1.5v1.5h-1.5zM37.2 173.2h1.5v1.5h-1.5z"/>
<path fill="rgb(236,108,113)" d="M31.3 165.8h1.5v1.5h-1.5zM32.8 167.3h1.5v1.5h-1.5zM34.3 168.8h1.5v1.5h-1.5zM35.7 170.2h1.5v1.5h-1.5zM37.2 171.7h1.5v1.5h-1.5zM38.7 173.2h1.5v1.5h-1.5z"/>
</g>
<rect x="143.5" y="153.5" width="97" height="97" fill="rgb(255,255,255)"/>
<g shape-rendering="crispEdges">
<path fill="rgb(253,245,245)" d="M149.6 153.5h6.1v2.1h-6.1zM151.6 155.5h6.1v2.1h-6.1zM153.6 157.5h6.1v2.1h-6.1zM143.5 159.6h2.1v2.1h-2.1zM157.6 159.6h16.2v2.1h-16.2zM143.5 161.6h4.1v2.1h-4.1zM159.7 161.6h14.2v2.1h-14.2zM143.5 163.6h6.1v2.1h-6.1zM161.7 163.6h12.2v2.1h-12.2zM145.5 165.6h4.1v2.1h-4.1zM163.7 165.6h10.2v2.1h-10.2zM147.5 167.6h4.1v2.1h-4.1zM165.7 167.6h8.1v2.1h-8.1zM149.6 169.7h4.1v2.1h-4.1zM167.8 169.7h6.1v2.1h-6.1zM149.6 171.7h6.1v2.1h-6.1zM169.8 171.7h4.1v2.1h-4.1zM149.6 173.7h8.1v2.1h-8.1zM171.8 173.7h4.1v2.1h-4.1zM149.6 175.7h10.2v2.1h-10.2zM175.8 175.7h2.1v2.1h-2.1zM149.6 177.8h12.2v2.1h-12.2zM175.8 177.8h4.1v2.1h-4.1zM149.6 179.8h14.2v2.1h-14.2zM175.8 179.8h6.1v2.1h-6.1zM149.6 181.8h16.2v2.1h-16.2zM177.9 181.8h6.1v2.1h-6.1zM163.7 183.8h2.1v2.1h-2.1zM179.9 183.8h6.1v2.1h-6.1zM165.7 185.8h6.1v2.1h-6.1zM181.9 185.8h6.1v2.1h-6.1zM167.8 187.9h6.1v2.1h-6.1zM183.9 187.9h6.1v2.1h-6.1zM169.8 189.9h6.1v2.1h-6.1zM185.9 189.9h6.1v2.1h-6.1zM171.8 191.9h6.1v2.1h-6.1zM188.0 191.9h6.1v2.1h-6.1zM173.8 193.9h6.1v2.1h-6.1zM198.1 193.9h2.1v2.1h-2.1zM175.8 195.9h6.1v2.1h-6.1zM177.9 198.0h6.1v2.1h-6.1zM179.9 200.0h4.1v2.1h-4.1zM200.1 200.0h2.1v2.1h-2.1zM181.9 202.0h2.1v2.1h-2.1zM200.1 202.0h4.1v2.1h-4.1zM200.1 204.0h6.1v2.1h-6.1zM202.1 206.0h6.1v2.1h-6.1zM183.9 208.1h2.1v2.1h-2.1zM204.1 208.1h6.1v2.1h-6.1zM190.0 210.1h6.1v2.1h-6.1zM206.1 210.1h6.1v2.1h-6.1zM192.0 212.1h6.1v2.1h-6.1zM208.2 212.1h6.1v2.1h-6.1zM194.0 214.1h6.1v2.1h-6.1zM210.2 214.1h6.1v2.1h-6.1zM196.0 216.1h6.1v2.1h-6.1zM212.2 216.1h6.1v2.1h-6.1zM198.1 218.2h6.1v2.1h-6.1zM214.2 218.2h6.1v2.1h-6.1zM200.1 220.2h6.1v2.1h-6.1zM216.2 220.2h6.1v2.1h-6.1zM202.1 222.2h6.1v2.1h-6.1zM204.1 224.2h6.1v2.1h-6.1zM206.1 226.2h6.1v2.1h-6.1zM208.2 228.3h4.1v2.1h-4.1zM228.4 228.3h2.1v2.1h-2.1zM210.2 230.3h2.1v2.1h-2.1zM228.4 230.3h4.1v2.1h-4.1zM228.4 232.3h6.1v2.1h-6.1zM230.4 234.3h6.1v2.1h-6.1zM232.4 236.4h6.1v2.1h-6.1zM218.3 238.4h6.1v2.1h-6.1zM234.4 238.4h6.1v2.1h-6.1zM220.3 240.4h6.1v2.1h-6.1zM236.5 240.4h4.1v2.1h-4.1zM222.3 242.4h6.1v2.1h-6.1zM238.5 242.4h2.1v2.1h-2.1zM224.3 244.4h6.1v2.1h-6.1zM226.4 246.5h6.1v2.1h-6.1zM228.4 248.5h6.1v2.1h-6.1z"/>
<path fill="rgb(252,235,236)" d="M147.5 153.5h2.1v2.1h-2.1zM149.6 155.5h2.1v2.1h-2.1zM143.5 157.5h2.1v2.1h-2.1zM151.6 157.5h2.1v2.1h-2.1zM145.5 159.6h2.1v2.1h-2.1zM155.6 159.6h2.1v2.1h-2.1zM147.5 161.6h2.1v2.1h-2.1zM157.6 161.6h2.1v2.1h-2.1zM159.7 163.6h2.1v2.1h-2.1zM149.6 165.6h2.1v2.1h-2.1zM161.7 165.6h2.1v2.1h-2.1zM151.6 167.6h2.1v2.1h-2.1zM163.7 167.6h2.1v2.1h-2.1zM153.6 169.7h2.1v2.1h-2.1zM165.7 169.7h2.1v2.1h-2.1zM155.6 171.7h2.1v2.1h-2.1zM167.8 171.7h2.1v2.1h-2.1zM157.6 173.7h2.1v2.1h-2.1zM169.8 173.7h2.1v2.1h-2.1zM159.7 175.7h2.1v2.1h-2.1zM173.8 175.7h2.1v2.1h-2.1zM161.7 177.8h2.1v2.1h-2.1zM163.7 179.8h2.1v2.1h-2.1zM175.8 181.8h2.1v2.1h-2.1zM165.7 183.8h2.1v2.1h-2.1zM177.9 183.8h2.1v2.1h-2.1zM171.8 185.8h2.1v2.1h-2.1zM179.9 185.8h2.1v2.1h-2.1zM173.8 187.9h2.1v2.1h-2.1zM181.9 187.9h2.1v2.1h-2.1zM175.8 189.9h2.1v2.1h-2.1zM183.9 189.9h2.1v2.1h-2.1zM177.9 191.9h2.1v2.1h-2.1zM185.9 191.9h2.1v2.1h-2.1zM179.9 193.9h2.1v2.1h-2.1zM192.0 193.9h6.1v2.1h-6.1zM181.9 195.9h2.1v2.1h-2.1zM194.0 195.9h6.1v2.1h-6.1zM196.0 198.0h4.1v2.1h-4.1zM198.1 200.0h2.1v2.1h-2.1zM183.9 202.0h2.1v2.1h-2.1zM183.9 204.0h4.1v2.1h-4.1zM183.9 206.0h6.1v2.1h-6.1zM200.1 206.0h2.1v2.1h-2.1zM185.9 208.1h6.1v2.1h-6.1zM202.1 208.1h2.1v2.1h-2.1zM196.0 210.1h2.1v2.1h-2.1zM204.1 210.1h2.1v2.1h-2.1zM198.1 212.1h2.1v2.1h-2.1zM206.1 212.1h2.1v2.1h-2.1zM200.1 214.1h2.1v2.1h-2.1zM208.2 214.1h2.1v2.1h-2.1zM202.1 216.1h2.1v2.1h-2.1zM210.2 216.1h2.1v2.1h-2.1zM204.1 218.2h2.1v2.1h-2.1zM212.2 218.2h2.1v2.1h-2.1zM206.1 220.2h2.1v2.1h-2.1zM214.2 220.2h2.1v2.1h-2.1zM208.2 222.2h2.1v2.1h-2.1zM220.3 222.2h8.1v2.1h-8.1zM210.2 224.2h2.1v2.1h-2.1zM222.3 224.2h6.1v2.1h-6.1zM224.3 226.2h4.1v2.1h-4.1zM226.4 228.3h2.1v2.1h-2.1zM212.2 230.3h2.1v2.1h-2.1zM212.2 232.3h4.1v2.1h-4.1zM212.2 234.3h6.1v2.1h-6.1zM228.4 234.3h2.1v2.1h-2.1zM212.2 236.4h8.1v2.1h-8.1zM230.4 236.4h2.1v2.1h-2.1zM224.3 238.4h2.1v2.1h-2.1zM232.4 238.4h2.1v2.1h-2.1zM226.4 240.4h2.1v2.1h-2.1zM234.4 240.4h2.1v2.1h-2.1zM228.4 242.4h2.1v2.1h-2.1zM236.5 242.4h2.1v2.1h-2.1zM230.4 244.4h2.1v2.1h-2.1zM238.5 244.4h2.1v2.1h-2.1zM232.4 246.5h2.1v2.1h-2.1zM234.4 248.5h2.1v2.1h-2.1z"/>
<path fill="rgb(251,225,226)" d="M153.6 159.6h2.1v2.1h-2.1zM155.6 161.6h2.1v2.1h-2.1zM149.6 163.6h2.1v2.1h-2.1zM157.6 163.6h2.1v2.1h-2.1zM151.6 165.6h2.1v2.1h-2.1zM159.7 165.6h2.1v2.1h-2.1zM153.6 167.6h2.1v2.1h-2.1zM161.7 167.6h2.1v2.1h-2.1zM155.6 169.7h2.1v2.1h-2.1zM163.7 169.7h2.1v2.1h-2.1zM157.6 171.7h2.1v2.1h-2.1zM165.7 171.7h2.1v2.1h-2.1zM159.7 173.7h2.1v2.1h-2.1zM167.8 173.7h2.1v2.1h-2.1zM161.7 175.7h2.1v2.1h-2.1zM171.8 175.7h2.1v2.1h-2.1zM163.7 177.8h2.1v2.1h-2.1zM173.8 177.8h2.1v2.1h-2.1zM165.7 181.8h2.1v2.1h-2.1zM167.8 183.8h2.1v2.1h-2.1zM190.0 193.9h2.1v2.1h-2.1zM192.0 195.9h2.1v2.1h-2.1zM194.0 198.0h2.1v2.1h-2.1zM183.9 200.0h2.1v2.1h-2.1zM196.0 200.0h2.1v2.1h-2.1zM185.9 202.0h2.1v2.1h-2.1zM198.1 202.0h2.1v2.1h-2.1zM188.0 204.0h2.1v2.1h-2.1zM190.0 206.0h2.1v2.1h-2.1zM192.0 208.1h2.1v2.1h-2.1zM218.3 222.2h2.1v2.1h-2.1zM220.3 224.2h2.1v2.1h-2.1zM222.3 226.2h2.1v2.1h-2.1zM212.2 228.3h2.1v2.1h-2.1zM224.3 228.3h2.1v2.1h-2.1zM214.2 230.3h2.1v2.1h-2.1zM226.4 230.3h2.1v2.1h-2.1zM216.2 232.3h2.1v2.1h-2.1zM218.3 234.3h2.1v2.1h-2.1zM220.3 236.4h2.1v2.1h-2.1z"/>
<path fill="rgb(250,215,217)" d="M145.5 153.5h2.1v2.1h-2.1zM143.5 155.5h2.1v2.1h-2.1zM147.5 155.5h2.1v2.1h-2.1zM145.5 157.5h2.1v2.1h-2.1zM149.6 157.5h2.1v2.1h-2.1zM147.5 159.6h2.1v2.1h-2.1zM169.8 175.7h2.1v2.1h-2.1zM171.8 177.8h2.1v2.1h-2.1zM165.7 179.8h2.1v2.1h-2.1zM173.8 179.8h2.1v2.1h-2.1zM167.8 181.8h2.1v2.1h-2.1zM169.8 183.8h2.1v2.1h-2.1zM175.8 183.8h2.1v2.1h-2.1zM173.8 185.8h2.1v2.1h-2.1zM177.9 185.8h2.1v2.1h-2.1zM175.8 187.9h2.1v2.1h-2.1zM179.9 187.9h2.1v2.1h-2.1zM177.9 189.9h2.1v2.1h-2.1zM181.9 189.9h2.1v2.1h-2.1zM179.9 191.9h2.1v2.1h-2.1zM183.9 191.9h2.1v2.1h-2.1zM181.9 193.9h2.1v2.1h-2.1zM200.1 208.1h2.1v2.1h-2.1zM198.1 210.1h2.1v2.1h-2.1zM202.1 210.1h2.1v2.1h-2.1zM200.1 212.1h2.1v2.1h-2.1zM204.1 212.1h2.1v2.1h-2.1zM202.1 214.1h2.1v2.1h-2.1zM206.1 214.1h2.1v2.1h-2.1zM204.1 216.1h2.1v2.1h-2.1zM208.2 216.1h2.1v2.1h-2.1zM206.1 218.2h2.1v2.1h-2.1zM210.2 218.2h2.1v2.1h-2.1zM208.2 220.2h2.1v2.1h-2.1zM212.2 220.2h2.1v2.1h-2.1zM210.2 222.2h2.1v2.1h-2.1zM216.2 222.2h2.1v2.1h-2.1zM218.3 224.2h2.1v2.1h-2.1zM212.2 226.2h2.1v2.1h-2.1zM220.3 226.2h2.1v2.1h-2.1zM214.2 228.3h2.1v2.1h-2.1zM222.3 228.3h2.1v2.1h-2.1zM216.2 230.3h2.1v2.1h-2.1zM224.3 230.3h2.1v2.1h-2.1zM218.3 232.3h2.1v2.1h-2.1zM226.4 232.3h2.1v2.1h-2.1zM220.3 234.3h2.1v2.1h-2.1zM222.3 236.4h2.1v2.1h-2.1zM228.4 236.4h2.1v2.1h-2.1zM226.4 238.4h2.1v2.1h-2.1zM230.4 238.4h2.1v2.1h-2.1zM228.4 240.4h2.1v2.1h-2.1zM232.4 240.4h2.1v2.1h-2.1zM230.4 242.4h2.1v2.1h-2.1zM234.4 242.4h2.1v2.1h-2.1zM232.4 244.4h2.1v2.1h-2.1zM236.5 244.4h2.1v2.1h-2.1zM234.4 246.5h2.1v2.1h-2.1zM238.5 246.5h2.1v2.1h-2.1zM236.5 248.5h2.1v2.1h-2.1z"/>
<path fill="rgb(248,206,207)" d="M151.6 159.6h2.1v2.1h-2.1zM149.6 161.6h2.1v2.1h-2.1zM153.6 161.6h2.1v2.1h-2.1zM151.6 163.6h2.1v2.1h-2.1zM155.6 163.6h2.1v2.1h-2.1zM153.6 165.6h2.1v2.1h-2.1zM157.6 165.6h2.1v2.1h-2.1zM155.6 167.6h2.1v2.1h-2.1zM159.7 167.6h2.1v2.1h-2.1zM157.6 169.7h2.1v2.1h-2.1zM161.7 169.7h2.1v2.1h-2.1zM159.7 171.7h2.1v2.1h-2.1zM163.7 171.7h2.1v2.1h-2.1zM161.7 173.7h2.1v2.1h-2.1zM165.7 173.7h2.1v2.1h-2.1zM163.7 175.7h2.1v2.1h-2.1zM173.8 181.8h2.1v2.1h-2.1zM171.8 183.8h2.1v2.1h-2.1zM188.0 193.9h2.1v2.1h-2.1zM190.0 195.9h2.1v2.1h-2.1zM183.9 198.0h2.1v2.1h-2.1zM192.0 198.0h2.1v2.1h-2.1zM185.9 200.0h2.1v2.1h-2.1zM194.0 200.0h2.1v2.1h-2.1zM188.0 202.0h2.1v2.1h-2.1zM196.0 202.0h2.1v2.1h-2.1zM190.0 204.0h2.1v2.1h-2.1zM198.1 204.0h2.1v2.1h-2.1zM192.0 206.0h2.1v2.1h-2.1zM194.0 208.1h2.1v2.1h-2.1zM214.2 222.2h2.1v2.1h-2.1zM212.2 224.2h2.1v2.1h-2.1zM216.2 224.2h2.1v2.1h-2.1zM214.2 226.2h2.1v2.1h-2.1zM218.3 226.2h2.1v2.1h-2.1zM216.2 228.3h2.1v2.1h-2.1zM220.3 228.3h2.1v2.1h-2.1zM218.3 230.3h2.1v2.1h-2.1zM222.3 230.3h2.1v2.1h-2.1zM220.3 232.3h2.1v2.1h-2.1zM224.3 232.3h2.1v2.1h-2.1zM222.3 234.3h2.1v2.1h-2.1zM226.4 234.3h2.1v2.1h-2.1zM224.3 236.4h2.1v2.1h-2.1z"/>
<path fill="rgb(247,196,198)" d="M167.8 175.7h2.1v2.1h-2.1zM165.7 177.8h2.1v2.1h-2.1zM169.8 177.8h2.1v2.1h-2.1zM167.8 179.8h2.1v2.1h-2.1zM171.8 179.8h2.1v2.1h-2.1zM169.8 181.8h2.1v2.1h-2.1z"/>
<path fill="rgb(246,186,188)" d="M143.5 153.5h2.1v2.1h-2.1zM145.5 155.5h2.1v2.1h-2.1zM147.5 157.5h2.1v2.1h-2.1zM175.8 185.8h2.1v2.1h-2.1zM177.9 187.9h2.1v2.1h-2.1zM179.9 189.9h2.1v2.1h-2.1zM181.9 191.9h2.1v2.1h-2.1zM185.9 193.9h2.1v2.1h-2.1zM183.9 195.9h2.1v2.1h-2.1zM188.0 195.9h2.1v2.1h-2.1zM185.9 198.0h2.1v2.1h-2.1zM190.0 198.0h2.1v2.1h-2.1zM188.0 200.0h2.1v2.1h-2.1zM192.0 200.0h2.1v2.1h-2.1zM190.0 202.0h2.1v2.1h-2.1zM194.0 202.0h2.1v2.1h-2.1zM192.0 204.0h2.1v2.1h-2.1zM196.0 204.0h2.1v2.1h-2.1zM194.0 206.0h2.1v2.1h-2.1zM198.1 206.0h2.1v2.1h-2.1zM196.0 208.1h2.1v2.1h-2.1zM200.1 210.1h2.1v2.1h-2.1zM202.1 212.1h2.1v2.1h-2.1zM204.1 214.1h2.1v2.1h-2.1zM206.1 216.1h2.1v2.1h-2.1zM208.2 218.2h2.1v2.1h-2.1zM210.2 220.2h2.1v2.1h-2.1zM228.4 238.4h2.1v2.1h-2.1zM230.4 240.4h2.1v2.1h-2.1zM232.4 242.4h2.1v2.1h-2.1zM234.4 244.4h2.1v2.1h-2.1zM236.5 246.5h2.1v2.1h-2.1zM238.5 248.5h2.1v2.1h-2.1z"/>
<path fill="rgb(245,176,179)" d="M149.6 159.6h2.1v2.1h-2.1zM151.6 161.6h2.1v2.1h-2.1zM153.6 163.6h2.1v2.1h-2.1zM155.6 165.6h2.1v2.1h-2.1zM157.6 167.6h2.1v2.1h-2.1zM159.7 169.7h2.1v2.1h-2.1zM161.7 171.7h2.1v2.1h-2.1zM163.7 173.7h2.1v2.1h-2.1z"/>
<path fill="rgb(244,166,169)" d="M165.7 175.7h2.1v2.1h-2.1zM167.8 177.8h2.1v2.1h-2.1zM169.8 179.8h2.1v2.1h-2.1zM171.8 181.8h2.1v2.1h-2.1zM173.8 183.8h2.1v2.1h-2.1zM212.2 222.2h2.1v2.1h-2.1zM214.2 224.2h2.1v2.1h-2.1zM216.2 226.2h2.1v2.1h-2.1zM218.3 228.3h2.1v2.1h-2.1zM220.3 230.3h2.1v2.1h-2.1zM222.3 232.3h2.1v2.1h-2.1zM224.3 234.3h2.1v2.1h-2.1zM226.4 236.4h2.1v2.1h-2.1z"/>
<path fill="rgb(242,157,160)" d="M183.9 193.9h2.1v2.1h-2.1zM185.9 195.9h2.1v2.1h-2.1zM188.0 198.0h2.1v2.1h-2.1zM190.0 200.0h2.1v2.1h-2.1zM192.0 202.0h2.1v2.1h-2.1zM194.0 204.0h2.1v2.1h-2.1zM196.0 206.0h2.1v2.1h-2.1zM198.1 208.1h2.1v2.1h-2.1z"/>
</g>
<rect x="277" y="152" width="97.5" height="97.5" fill="rgb(253,243,243)"/>
<g shape-rendering="crispEdges">
<path fill="rgb(255,255,255)" d="M325.8 152.0h4.1v2.1h-4.1zM333.9 152.0h10.2v2.1h-10.2zM346.1 152.0h2.1v2.1h-2.1zM352.2 152.0h6.1v2.1h-6.1zM360.3 152.0h2.1v2.1h-2.1zM364.3 152.0h2.1v2.1h-2.1zM368.4 152.0h2.1v2.1h-2.1zM287.2 198.7h2.1v2.1h-2.1zM283.1 200.8h2.1v2.1h-2.1zM287.2 200.8h2.1v2.1h-2.1zM291.2 202.8h2.1v2.1h-2.1zM281.1 204.8h2.1v2.1h-2.1zM287.2 208.9h4.1v2.1h-4.1zM281.1 210.9h2.1v2.1h-2.1zM291.2 212.9h2.1v2.1h-2.1zM287.2 217.0h2.1v2.1h-2.1zM293.2 217.0h2.1v2.1h-2.1zM277.0 221.1h2.1v2.1h-2.1zM295.3 221.1h2.1v2.1h-2.1zM279.0 223.1h2.1v2.1h-2.1zM285.1 223.1h2.1v2.1h-2.1zM279.0 225.1h2.1v2.1h-2.1zM295.3 225.1h2.1v2.1h-2.1zM283.1 227.2h2.1v2.1h-2.1zM279.0 229.2h2.1v2.1h-2.1zM295.3 229.2h2.1v2.1h-2.1zM287.2 235.3h2.1v2.1h-2.1zM293.2 235.3h2.1v2.1h-2.1zM285.1 237.3h4.1v2.1h-4.1zM285.1 239.3h2.1v2.1h-2.1zM277.0 241.4h2.1v2.1h-2.1zM283.1 241.4h2.1v2.1h-2.1zM291.2 243.4h2.1v2.1h-2.1zM285.1 247.5h2.1v2.1h-2.1z"/>
<path fill="rgb(252,231,232)" d="M299.3 152.0h8.2v2.1h-8.2zM313.6 152.0h10.2v2.1h-10.2zM299.3 154.0h2.1v2.1h-2.1zM303.4 154.0h2.1v2.1h-2.1zM309.5 154.0h2.1v2.1h-2.1zM315.6 154.0h4.1v2.1h-4.1zM325.8 154.0h4.1v2.1h-4.1zM331.8 154.0h2.1v2.1h-2.1zM337.9 154.0h6.1v2.1h-6.1zM348.1 154.0h4.1v2.1h-4.1zM356.2 154.0h2.1v2.1h-2.1zM362.3 154.0h2.1v2.1h-2.1zM315.6 156.1h2.1v2.1h-2.1zM319.7 156.1h6.1v2.1h-6.1zM327.8 156.1h6.1v2.1h-6.1zM342.0 156.1h4.1v2.1h-4.1zM350.1 156.1h2.1v2.1h-2.1zM356.2 156.1h2.1v2.1h-2.1zM364.3 156.1h4.1v2.1h-4.1zM370.4 156.1h2.1v2.1h-2.1zM301.4 158.1h4.1v2.1h-4.1zM311.5 158.1h2.1v2.1h-2.1zM321.7 158.1h14.3v2.1h-14.3zM337.9 158.1h4.1v2.1h-4.1zM344.0 158.1h4.1v2.1h-4.1zM350.1 158.1h2.1v2.1h-2.1zM356.2 158.1h6.1v2.1h-6.1zM364.3 158.1h2.1v2.1h-2.1zM368.4 158.1h6.1v2.1h-6.1zM305.4 160.1h2.1v2.1h-2.1zM313.6 160.1h2.1v2.1h-2.1zM323.7 160.1h2.1v2.1h-2.1zM331.8 160.1h2.1v2.1h-2.1zM342.0 160.1h4.1v2.1h-4.1zM348.1 160.1h2.1v2.1h-2.1zM352.2 160.1h2.1v2.1h-2.1zM356.2 160.1h2.1v2.1h-2.1zM362.3 160.1h2.1v2.1h-2.1zM368.4 160.1h2.1v2.1h-2.1zM311.5 162.2h2.1v2.1h-2.1zM315.6 162.2h2.1v2.1h-2.1zM323.7 162.2h2.1v2.1h-2.1zM333.9 162.2h4.1v2.1h-4.1zM348.1 162.2h2.1v2.1h-2.1zM352.2 162.2h4.1v2.1h-4.1zM364.3 162.2h8.2v2.1h-8.2zM305.4 164.2h2.1v2.1h-2.1zM309.5 164.2h8.2v2.1h-8.2zM325.8 164.2h4.1v2.1h-4.1zM331.8 164.2h2.1v2.1h-2.1zM344.0 164.2h6.1v2.1h-6.1zM352.2 164.2h2.1v2.1h-2.1zM360.3 164.2h6.1v2.1h-6.1zM372.5 164.2h2.1v2.1h-2.1zM311.5 166.2h2.1v2.1h-2.1zM323.7 166.2h4.1v2.1h-4.1zM329.8 166.2h2.1v2.1h-2.1zM335.9 166.2h10.2v2.1h-10.2zM350.1 166.2h6.1v2.1h-6.1zM360.3 166.2h8.2v2.1h-8.2zM372.5 166.2h2.1v2.1h-2.1zM325.8 168.2h2.1v2.1h-2.1zM335.9 168.2h4.1v2.1h-4.1zM342.0 168.2h4.1v2.1h-4.1zM348.1 168.2h4.1v2.1h-4.1zM358.2 168.2h4.1v2.1h-4.1zM364.3 168.2h2.1v2.1h-2.1zM317.6 170.3h2.1v2.1h-2.1zM323.7 170.3h2.1v2.1h-2.1zM327.8 170.3h6.1v2.1h-6.1zM335.9 170.3h4.1v2.1h-4.1zM342.0 170.3h4.1v2.1h-4.1zM348.1 170.3h2.1v2.1h-2.1zM356.2 170.3h2.1v2.1h-2.1zM360.3 170.3h2.1v2.1h-2.1zM364.3 170.3h6.1v2.1h-6.1zM277.0 174.3h2.1v2.1h-2.1zM360.3 174.3h6.1v2.1h-6.1zM372.5 174.3h2.1v2.1h-2.1zM279.0 176.4h2.1v2.1h-2.1zM360.3 176.4h4.1v2.1h-4.1zM366.4 176.4h4.1v2.1h-4.1zM283.1 178.4h4.1v2.1h-4.1zM360.3 178.4h8.2v2.1h-8.2zM370.4 178.4h4.1v2.1h-4.1zM358.2 180.4h16.3v2.1h-16.3zM277.0 182.5h2.1v2.1h-2.1zM287.2 182.5h2.1v2.1h-2.1zM370.4 182.5h4.1v2.1h-4.1zM277.0 184.5h2.1v2.1h-2.1zM358.2 184.5h2.1v2.1h-2.1zM370.4 184.5h2.1v2.1h-2.1zM360.3 186.5h8.2v2.1h-8.2zM370.4 186.5h2.1v2.1h-2.1zM277.0 188.6h4.1v2.1h-4.1zM289.2 188.6h2.1v2.1h-2.1zM358.2 188.6h2.1v2.1h-2.1zM362.3 188.6h2.1v2.1h-2.1zM366.4 188.6h2.1v2.1h-2.1zM370.4 188.6h2.1v2.1h-2.1zM287.2 190.6h6.1v2.1h-6.1zM358.2 190.6h6.1v2.1h-6.1zM368.4 190.6h6.1v2.1h-6.1zM277.0 192.6h2.1v2.1h-2.1zM285.1 192.6h2.1v2.1h-2.1zM360.3 192.6h2.1v2.1h-2.1zM364.3 192.6h10.2v2.1h-10.2zM283.1 194.7h2.1v2.1h-2.1zM291.2 194.7h2.1v2.1h-2.1zM360.3 194.7h4.1v2.1h-4.1zM368.4 194.7h2.1v2.1h-2.1zM372.5 194.7h2.1v2.1h-2.1zM277.0 196.7h6.1v2.1h-6.1zM285.1 196.7h4.1v2.1h-4.1zM291.2 196.7h2.1v2.1h-2.1zM295.3 196.7h2.1v2.1h-2.1zM368.4 198.7h6.1v2.1h-6.1zM360.3 200.8h2.1v2.1h-2.1zM368.4 200.8h4.1v2.1h-4.1zM368.4 202.8h4.1v2.1h-4.1zM360.3 204.8h14.3v2.1h-14.3zM362.3 206.8h2.1v2.1h-2.1zM368.4 206.8h2.1v2.1h-2.1zM370.4 208.9h2.1v2.1h-2.1zM362.3 210.9h2.1v2.1h-2.1zM366.4 210.9h2.1v2.1h-2.1zM370.4 210.9h4.1v2.1h-4.1zM366.4 212.9h2.1v2.1h-2.1zM370.4 212.9h2.1v2.1h-2.1zM364.3 215.0h2.1v2.1h-2.1zM370.4 215.0h2.1v2.1h-2.1zM370.4 217.0h4.1v2.1h-4.1zM368.4 219.0h4.1v2.1h-4.1zM368.4 221.1h2.1v2.1h-2.1zM372.5 221.1h2.1v2.1h-2.1zM368.4 223.1h4.1v2.1h-4.1zM368.4 225.1h4.1v2.1h-4.1zM368.4 227.2h4.1v2.1h-4.1zM368.4 229.2h6.1v2.1h-6.1zM368.4 231.2h6.1v2.1h-6.1zM277.0 233.2h2.1v2.1h-2.1zM281.1 233.2h2.1v2.1h-2.1zM289.2 233.2h4.1v2.1h-4.1zM295.3 233.2h2.1v2.1h-2.1zM305.4 235.3h2.1v2.1h-2.1zM315.6 235.3h4.1v2.1h-4.1zM325.8 235.3h4.1v2.1h-4.1zM303.4 237.3h8.2v2.1h-8.2zM317.6 237.3h4.1v2.1h-4.1zM325.8 237.3h2.1v2.1h-2.1zM329.8 237.3h2.1v2.1h-2.1zM333.9 237.3h2.1v2.1h-2.1zM299.3 239.3h4.1v2.1h-4.1zM305.4 239.3h2.1v2.1h-2.1zM313.6 239.3h2.1v2.1h-2.1zM317.6 239.3h4.1v2.1h-4.1zM337.9 239.3h2.1v2.1h-2.1zM346.1 239.3h2.1v2.1h-2.1zM301.4 241.4h2.1v2.1h-2.1zM309.5 241.4h10.2v2.1h-10.2zM323.7 241.4h2.1v2.1h-2.1zM331.8 241.4h2.1v2.1h-2.1zM335.9 241.4h4.1v2.1h-4.1zM301.4 243.4h4.1v2.1h-4.1zM307.5 243.4h4.1v2.1h-4.1zM313.6 243.4h2.1v2.1h-2.1zM317.6 243.4h4.1v2.1h-4.1zM323.7 243.4h6.1v2.1h-6.1zM331.8 243.4h4.1v2.1h-4.1zM337.9 243.4h2.1v2.1h-2.1zM342.0 243.4h4.1v2.1h-4.1zM348.1 243.4h2.1v2.1h-2.1zM352.2 243.4h2.1v2.1h-2.1zM356.2 243.4h2.1v2.1h-2.1zM301.4 245.4h4.1v2.1h-4.1zM307.5 245.4h4.1v2.1h-4.1zM313.6 245.4h6.1v2.1h-6.1zM337.9 245.4h4.1v2.1h-4.1zM344.0 245.4h4.1v2.1h-4.1zM352.2 245.4h6.1v2.1h-6.1zM299.3 247.5h2.1v2.1h-2.1zM309.5 247.5h8.2v2.1h-8.2zM325.8 247.5h2.1v2.1h-2.1zM333.9 247.5h6.1v2.1h-6.1zM346.1 247.5h2.1v2.1h-2.1zM350.1 247.5h4.1v2.1h-4.1zM356.2 247.5h2.1v2.1h-2.1z"/>
<path fill="rgb(250,219,220)" d="M291.2 152.0h8.2v2.1h-8.2zM301.4 154.0h2.1v2.1h-2.1zM305.4 154.0h4.1v2.1h-4.1zM311.5 154.0h4.1v2.1h-4.1zM319.7 154.0h4.1v2.1h-4.1zM358.2 154.0h2.1v2.1h-2.1zM299.3 156.1h16.3v2.1h-16.3zM317.6 156.1h2.1v2.1h-2.1zM358.2 156.1h2.1v2.1h-2.1zM299.3 158.1h2.1v2.1h-2.1zM305.4 158.1h6.1v2.1h-6.1zM313.6 158.1h8.2v2.1h-8.2zM299.3 160.1h6.1v2.1h-6.1zM307.5 160.1h6.1v2.1h-6.1zM315.6 160.1h8.2v2.1h-8.2zM358.2 160.1h2.1v2.1h-2.1zM299.3 162.2h12.2v2.1h-12.2zM313.6 162.2h2.1v2.1h-2.1zM317.6 162.2h6.1v2.1h-6.1zM358.2 162.2h2.1v2.1h-2.1zM299.3 164.2h6.1v2.1h-6.1zM307.5 164.2h2.1v2.1h-2.1zM317.6 164.2h6.1v2.1h-6.1zM358.2 164.2h2.1v2.1h-2.1zM299.3 166.2h12.2v2.1h-12.2zM313.6 166.2h10.2v2.1h-10.2zM358.2 166.2h2.1v2.1h-2.1zM303.4 168.2h20.4v2.1h-20.4zM303.4 170.3h4.1v2.1h-4.1zM309.5 170.3h8.2v2.1h-8.2zM319.7 170.3h4.1v2.1h-4.1zM358.2 170.3h2.1v2.1h-2.1zM360.3 172.3h14.3v2.1h-14.3zM279.0 174.3h10.2v2.1h-10.2zM319.7 174.3h2.1v2.1h-2.1zM337.9 174.3h2.1v2.1h-2.1zM358.2 174.3h2.1v2.1h-2.1zM277.0 176.4h2.1v2.1h-2.1zM281.1 176.4h10.2v2.1h-10.2zM317.6 176.4h2.1v2.1h-2.1zM337.9 176.4h4.1v2.1h-4.1zM344.0 176.4h2.1v2.1h-2.1zM350.1 176.4h4.1v2.1h-4.1zM356.2 176.4h4.1v2.1h-4.1zM277.0 178.4h6.1v2.1h-6.1zM287.2 178.4h8.2v2.1h-8.2zM319.7 178.4h2.1v2.1h-2.1zM323.7 178.4h2.1v2.1h-2.1zM329.8 178.4h4.1v2.1h-4.1zM335.9 178.4h2.1v2.1h-2.1zM348.1 178.4h2.1v2.1h-2.1zM352.2 178.4h2.1v2.1h-2.1zM356.2 178.4h4.1v2.1h-4.1zM277.0 180.4h20.4v2.1h-20.4zM329.8 180.4h8.2v2.1h-8.2zM340.0 180.4h2.1v2.1h-2.1zM344.0 180.4h2.1v2.1h-2.1zM352.2 180.4h2.1v2.1h-2.1zM356.2 180.4h2.1v2.1h-2.1zM279.0 182.5h8.2v2.1h-8.2zM289.2 182.5h8.2v2.1h-8.2zM331.8 182.5h2.1v2.1h-2.1zM335.9 182.5h4.1v2.1h-4.1zM342.0 182.5h4.1v2.1h-4.1zM352.2 182.5h2.1v2.1h-2.1zM358.2 182.5h2.1v2.1h-2.1zM279.0 184.5h18.3v2.1h-18.3zM329.8 184.5h2.1v2.1h-2.1zM333.9 184.5h4.1v2.1h-4.1zM277.0 186.5h20.4v2.1h-20.4zM329.8 186.5h2.1v2.1h-2.1zM348.1 186.5h8.2v2.1h-8.2zM358.2 186.5h2.1v2.1h-2.1zM281.1 188.6h8.2v2.1h-8.2zM291.2 188.6h6.1v2.1h-6.1zM344.0 188.6h2.1v2.1h-2.1zM352.2 188.6h2.1v2.1h-2.1zM356.2 188.6h2.1v2.1h-2.1zM277.0 190.6h10.2v2.1h-10.2zM293.2 190.6h4.1v2.1h-4.1zM299.3 190.6h2.1v2.1h-2.1zM333.9 190.6h2.1v2.1h-2.1zM340.0 190.6h2.1v2.1h-2.1zM346.1 190.6h2.1v2.1h-2.1zM352.2 190.6h2.1v2.1h-2.1zM279.0 192.6h6.1v2.1h-6.1zM287.2 192.6h10.2v2.1h-10.2zM299.3 192.6h2.1v2.1h-2.1zM342.0 192.6h2.1v2.1h-2.1zM348.1 192.6h2.1v2.1h-2.1zM358.2 192.6h2.1v2.1h-2.1zM277.0 194.7h6.1v2.1h-6.1zM285.1 194.7h6.1v2.1h-6.1zM293.2 194.7h4.1v2.1h-4.1zM299.3 194.7h2.1v2.1h-2.1zM340.0 194.7h2.1v2.1h-2.1zM346.1 194.7h2.1v2.1h-2.1zM358.2 194.7h2.1v2.1h-2.1zM283.1 196.7h2.1v2.1h-2.1zM289.2 196.7h2.1v2.1h-2.1zM293.2 196.7h2.1v2.1h-2.1zM368.4 196.7h6.1v2.1h-6.1zM360.3 198.7h8.2v2.1h-8.2zM362.3 200.8h6.1v2.1h-6.1zM303.4 202.8h2.1v2.1h-2.1zM360.3 202.8h8.2v2.1h-8.2zM299.3 204.8h2.1v2.1h-2.1zM303.4 204.8h2.1v2.1h-2.1zM307.5 204.8h4.1v2.1h-4.1zM360.3 206.8h2.1v2.1h-2.1zM364.3 206.8h4.1v2.1h-4.1zM307.5 208.9h2.1v2.1h-2.1zM360.3 208.9h8.2v2.1h-8.2zM303.4 210.9h4.1v2.1h-4.1zM309.5 210.9h4.1v2.1h-4.1zM315.6 210.9h2.1v2.1h-2.1zM360.3 210.9h2.1v2.1h-2.1zM364.3 210.9h2.1v2.1h-2.1zM303.4 212.9h2.1v2.1h-2.1zM311.5 212.9h2.1v2.1h-2.1zM360.3 212.9h6.1v2.1h-6.1zM309.5 215.0h6.1v2.1h-6.1zM360.3 215.0h4.1v2.1h-4.1zM366.4 215.0h2.1v2.1h-2.1zM301.4 217.0h2.1v2.1h-2.1zM311.5 217.0h2.1v2.1h-2.1zM360.3 217.0h8.2v2.1h-8.2zM299.3 219.0h2.1v2.1h-2.1zM307.5 219.0h4.1v2.1h-4.1zM313.6 219.0h2.1v2.1h-2.1zM317.6 219.0h2.1v2.1h-2.1zM360.3 219.0h8.2v2.1h-8.2zM307.5 221.1h2.1v2.1h-2.1zM360.3 221.1h8.2v2.1h-8.2zM301.4 223.1h2.1v2.1h-2.1zM311.5 223.1h2.1v2.1h-2.1zM360.3 223.1h8.2v2.1h-8.2zM315.6 225.1h2.1v2.1h-2.1zM319.7 225.1h2.1v2.1h-2.1zM360.3 225.1h8.2v2.1h-8.2zM299.3 227.2h8.2v2.1h-8.2zM309.5 227.2h2.1v2.1h-2.1zM315.6 227.2h2.1v2.1h-2.1zM366.4 227.2h2.1v2.1h-2.1zM301.4 229.2h2.1v2.1h-2.1zM307.5 229.2h2.1v2.1h-2.1zM311.5 229.2h2.1v2.1h-2.1zM317.6 229.2h4.1v2.1h-4.1zM366.4 229.2h2.1v2.1h-2.1zM366.4 231.2h2.1v2.1h-2.1zM279.0 233.2h2.1v2.1h-2.1zM283.1 233.2h6.1v2.1h-6.1zM293.2 233.2h2.1v2.1h-2.1zM299.3 233.2h22.4v2.1h-22.4zM297.3 235.3h2.1v2.1h-2.1zM323.7 235.3h2.1v2.1h-2.1zM329.8 235.3h20.4v2.1h-20.4zM370.4 235.3h4.1v2.1h-4.1zM297.3 237.3h2.1v2.1h-2.1zM323.7 237.3h2.1v2.1h-2.1zM327.8 237.3h2.1v2.1h-2.1zM331.8 237.3h2.1v2.1h-2.1zM335.9 237.3h20.4v2.1h-20.4zM370.4 237.3h4.1v2.1h-4.1zM297.3 239.3h2.1v2.1h-2.1zM323.7 239.3h14.3v2.1h-14.3zM340.0 239.3h6.1v2.1h-6.1zM348.1 239.3h4.1v2.1h-4.1zM297.3 241.4h2.1v2.1h-2.1zM325.8 241.4h6.1v2.1h-6.1zM333.9 241.4h2.1v2.1h-2.1zM340.0 241.4h18.3v2.1h-18.3zM297.3 243.4h2.1v2.1h-2.1zM321.7 243.4h2.1v2.1h-2.1zM297.3 245.4h2.1v2.1h-2.1zM321.7 245.4h2.1v2.1h-2.1zM360.3 245.4h2.1v2.1h-2.1zM297.3 247.5h2.1v2.1h-2.1zM321.7 247.5h2.1v2.1h-2.1zM360.3 247.5h2.1v2.1h-2.1z"/>
<path fill="rgb(249,208,209)" d="M285.1 152.0h6.1v2.1h-6.1zM293.2 154.0h6.1v2.1h-6.1zM295.3 156.1h2.1v2.1h-2.1zM295.3 158.1h2.1v2.1h-2.1zM295.3 160.1h4.1v2.1h-4.1zM277.0 164.2h2.1v2.1h-2.1zM277.0 166.2h4.1v2.1h-4.1zM277.0 168.2h4.1v2.1h-4.1zM299.3 168.2h4.1v2.1h-4.1zM277.0 170.3h6.1v2.1h-6.1zM301.4 170.3h2.1v2.1h-2.1zM307.5 170.3h2.1v2.1h-2.1zM277.0 172.3h4.1v2.1h-4.1zM283.1 172.3h2.1v2.1h-2.1zM358.2 172.3h2.1v2.1h-2.1zM289.2 174.3h6.1v2.1h-6.1zM307.5 174.3h12.2v2.1h-12.2zM323.7 174.3h14.3v2.1h-14.3zM340.0 174.3h18.3v2.1h-18.3zM291.2 176.4h6.1v2.1h-6.1zM311.5 176.4h6.1v2.1h-6.1zM319.7 176.4h2.1v2.1h-2.1zM323.7 176.4h14.3v2.1h-14.3zM342.0 176.4h2.1v2.1h-2.1zM346.1 176.4h4.1v2.1h-4.1zM354.2 176.4h2.1v2.1h-2.1zM295.3 178.4h2.1v2.1h-2.1zM313.6 178.4h6.1v2.1h-6.1zM325.8 178.4h4.1v2.1h-4.1zM333.9 178.4h2.1v2.1h-2.1zM337.9 178.4h10.2v2.1h-10.2zM350.1 178.4h2.1v2.1h-2.1zM354.2 178.4h2.1v2.1h-2.1zM313.6 180.4h2.1v2.1h-2.1zM317.6 180.4h4.1v2.1h-4.1zM323.7 180.4h6.1v2.1h-6.1zM337.9 180.4h2.1v2.1h-2.1zM342.0 180.4h2.1v2.1h-2.1zM346.1 180.4h6.1v2.1h-6.1zM354.2 180.4h2.1v2.1h-2.1zM299.3 182.5h2.1v2.1h-2.1zM315.6 182.5h6.1v2.1h-6.1zM323.7 182.5h8.2v2.1h-8.2zM333.9 182.5h2.1v2.1h-2.1zM340.0 182.5h2.1v2.1h-2.1zM346.1 182.5h6.1v2.1h-6.1zM354.2 182.5h4.1v2.1h-4.1zM299.3 184.5h4.1v2.1h-4.1zM317.6 184.5h4.1v2.1h-4.1zM323.7 184.5h6.1v2.1h-6.1zM331.8 184.5h2.1v2.1h-2.1zM337.9 184.5h20.4v2.1h-20.4zM299.3 186.5h4.1v2.1h-4.1zM319.7 186.5h2.1v2.1h-2.1zM325.8 186.5h4.1v2.1h-4.1zM331.8 186.5h16.3v2.1h-16.3zM356.2 186.5h2.1v2.1h-2.1zM299.3 188.6h8.2v2.1h-8.2zM323.7 188.6h2.1v2.1h-2.1zM327.8 188.6h16.3v2.1h-16.3zM346.1 188.6h6.1v2.1h-6.1zM354.2 188.6h2.1v2.1h-2.1zM301.4 190.6h8.2v2.1h-8.2zM325.8 190.6h8.2v2.1h-8.2zM335.9 190.6h4.1v2.1h-4.1zM342.0 190.6h4.1v2.1h-4.1zM348.1 190.6h4.1v2.1h-4.1zM354.2 190.6h4.1v2.1h-4.1zM301.4 192.6h6.1v2.1h-6.1zM309.5 192.6h2.1v2.1h-2.1zM329.8 192.6h12.2v2.1h-12.2zM344.0 192.6h4.1v2.1h-4.1zM350.1 192.6h8.2v2.1h-8.2zM301.4 194.7h10.2v2.1h-10.2zM329.8 194.7h10.2v2.1h-10.2zM342.0 194.7h4.1v2.1h-4.1zM348.1 194.7h10.2v2.1h-10.2zM360.3 196.7h8.2v2.1h-8.2zM299.3 198.7h14.3v2.1h-14.3zM340.0 198.7h6.1v2.1h-6.1zM348.1 198.7h2.1v2.1h-2.1zM352.2 198.7h6.1v2.1h-6.1zM299.3 200.8h14.3v2.1h-14.3zM346.1 200.8h6.1v2.1h-6.1zM358.2 200.8h2.1v2.1h-2.1zM299.3 202.8h4.1v2.1h-4.1zM305.4 202.8h14.3v2.1h-14.3zM350.1 202.8h2.1v2.1h-2.1zM354.2 202.8h2.1v2.1h-2.1zM358.2 202.8h2.1v2.1h-2.1zM301.4 204.8h2.1v2.1h-2.1zM305.4 204.8h2.1v2.1h-2.1zM311.5 204.8h6.1v2.1h-6.1zM319.7 204.8h2.1v2.1h-2.1zM344.0 204.8h2.1v2.1h-2.1zM352.2 204.8h4.1v2.1h-4.1zM358.2 204.8h2.1v2.1h-2.1zM299.3 206.8h22.4v2.1h-22.4zM354.2 206.8h2.1v2.1h-2.1zM358.2 206.8h2.1v2.1h-2.1zM299.3 208.9h8.2v2.1h-8.2zM309.5 208.9h12.2v2.1h-12.2zM356.2 208.9h4.1v2.1h-4.1zM299.3 210.9h4.1v2.1h-4.1zM307.5 210.9h2.1v2.1h-2.1zM313.6 210.9h2.1v2.1h-2.1zM317.6 210.9h4.1v2.1h-4.1zM354.2 210.9h2.1v2.1h-2.1zM358.2 210.9h2.1v2.1h-2.1zM299.3 212.9h4.1v2.1h-4.1zM305.4 212.9h6.1v2.1h-6.1zM313.6 212.9h8.2v2.1h-8.2zM354.2 212.9h6.1v2.1h-6.1zM299.3 215.0h10.2v2.1h-10.2zM315.6 215.0h6.1v2.1h-6.1zM323.7 215.0h2.1v2.1h-2.1zM356.2 215.0h4.1v2.1h-4.1zM299.3 217.0h2.1v2.1h-2.1zM303.4 217.0h8.2v2.1h-8.2zM313.6 217.0h8.2v2.1h-8.2zM358.2 217.0h2.1v2.1h-2.1zM301.4 219.0h6.1v2.1h-6.1zM311.5 219.0h2.1v2.1h-2.1zM315.6 219.0h2.1v2.1h-2.1zM319.7 219.0h2.1v2.1h-2.1zM323.7 219.0h4.1v2.1h-4.1zM358.2 219.0h2.1v2.1h-2.1zM299.3 221.1h8.2v2.1h-8.2zM309.5 221.1h12.2v2.1h-12.2zM325.8 221.1h2.1v2.1h-2.1zM299.3 223.1h2.1v2.1h-2.1zM303.4 223.1h8.2v2.1h-8.2zM313.6 223.1h8.2v2.1h-8.2zM323.7 223.1h2.1v2.1h-2.1zM327.8 223.1h2.1v2.1h-2.1zM358.2 223.1h2.1v2.1h-2.1zM299.3 225.1h16.3v2.1h-16.3zM317.6 225.1h2.1v2.1h-2.1zM327.8 225.1h2.1v2.1h-2.1zM307.5 227.2h2.1v2.1h-2.1zM311.5 227.2h4.1v2.1h-4.1zM317.6 227.2h4.1v2.1h-4.1zM323.7 227.2h2.1v2.1h-2.1zM327.8 227.2h2.1v2.1h-2.1zM335.9 227.2h2.1v2.1h-2.1zM360.3 227.2h6.1v2.1h-6.1zM299.3 229.2h2.1v2.1h-2.1zM303.4 229.2h4.1v2.1h-4.1zM309.5 229.2h2.1v2.1h-2.1zM313.6 229.2h4.1v2.1h-4.1zM325.8 229.2h2.1v2.1h-2.1zM329.8 229.2h2.1v2.1h-2.1zM337.9 229.2h2.1v2.1h-2.1zM362.3 229.2h4.1v2.1h-4.1zM299.3 231.2h22.4v2.1h-22.4zM335.9 231.2h2.1v2.1h-2.1zM362.3 231.2h4.1v2.1h-4.1zM297.3 233.2h2.1v2.1h-2.1zM323.7 233.2h24.4v2.1h-24.4zM370.4 233.2h4.1v2.1h-4.1zM321.7 235.3h2.1v2.1h-2.1zM350.1 235.3h4.1v2.1h-4.1zM368.4 235.3h2.1v2.1h-2.1zM321.7 237.3h2.1v2.1h-2.1zM368.4 237.3h2.1v2.1h-2.1zM321.7 239.3h2.1v2.1h-2.1zM352.2 239.3h6.1v2.1h-6.1zM370.4 239.3h4.1v2.1h-4.1zM321.7 241.4h2.1v2.1h-2.1zM372.5 241.4h2.1v2.1h-2.1zM360.3 243.4h2.1v2.1h-2.1zM358.2 245.4h2.1v2.1h-2.1zM362.3 245.4h4.1v2.1h-4.1zM362.3 247.5h6.1v2.1h-6.1z"/>
<path fill="rgb(247,196,198)" d="M283.1 152.0h2.1v2.1h-2.1zM287.2 154.0h6.1v2.1h-6.1zM291.2 156.1h4.1v2.1h-4.1zM297.3 156.1h2.1v2.1h-2.1zM291.2 158.1h4.1v2.1h-4.1zM297.3 158.1h2.1v2.1h-2.1zM293.2 160.1h2.1v2.1h-2.1zM277.0 162.2h4.1v2.1h-4.1zM297.3 162.2h2.1v2.1h-2.1zM279.0 164.2h4.1v2.1h-4.1zM297.3 164.2h2.1v2.1h-2.1zM281.1 166.2h4.1v2.1h-4.1zM281.1 168.2h6.1v2.1h-6.1zM283.1 170.3h6.1v2.1h-6.1zM281.1 172.3h2.1v2.1h-2.1zM285.1 172.3h6.1v2.1h-6.1zM311.5 172.3h10.2v2.1h-10.2zM323.7 172.3h8.2v2.1h-8.2zM333.9 172.3h24.4v2.1h-24.4zM295.3 174.3h2.1v2.1h-2.1zM305.4 174.3h2.1v2.1h-2.1zM321.7 174.3h2.1v2.1h-2.1zM307.5 176.4h4.1v2.1h-4.1zM321.7 176.4h2.1v2.1h-2.1zM309.5 178.4h4.1v2.1h-4.1zM321.7 178.4h2.1v2.1h-2.1zM299.3 180.4h2.1v2.1h-2.1zM311.5 180.4h2.1v2.1h-2.1zM315.6 180.4h2.1v2.1h-2.1zM321.7 180.4h2.1v2.1h-2.1zM301.4 182.5h2.1v2.1h-2.1zM313.6 182.5h2.1v2.1h-2.1zM321.7 182.5h2.1v2.1h-2.1zM297.3 184.5h2.1v2.1h-2.1zM303.4 184.5h2.1v2.1h-2.1zM315.6 184.5h2.1v2.1h-2.1zM297.3 186.5h2.1v2.1h-2.1zM303.4 186.5h2.1v2.1h-2.1zM317.6 186.5h2.1v2.1h-2.1zM323.7 186.5h2.1v2.1h-2.1zM297.3 188.6h2.1v2.1h-2.1zM307.5 188.6h2.1v2.1h-2.1zM319.7 188.6h2.1v2.1h-2.1zM325.8 188.6h2.1v2.1h-2.1zM297.3 190.6h2.1v2.1h-2.1zM309.5 190.6h2.1v2.1h-2.1zM323.7 190.6h2.1v2.1h-2.1zM297.3 192.6h2.1v2.1h-2.1zM307.5 192.6h2.1v2.1h-2.1zM325.8 192.6h4.1v2.1h-4.1zM297.3 194.7h2.1v2.1h-2.1zM311.5 194.7h4.1v2.1h-4.1zM325.8 194.7h4.1v2.1h-4.1zM299.3 196.7h4.1v2.1h-4.1zM307.5 196.7h2.1v2.1h-2.1zM297.3 198.7h2.1v2.1h-2.1zM313.6 198.7h6.1v2.1h-6.1zM333.9 198.7h6.1v2.1h-6.1zM346.1 198.7h2.1v2.1h-2.1zM350.1 198.7h2.1v2.1h-2.1zM358.2 198.7h2.1v2.1h-2.1zM297.3 200.8h2.1v2.1h-2.1zM313.6 200.8h8.2v2.1h-8.2zM335.9 200.8h10.2v2.1h-10.2zM352.2 200.8h6.1v2.1h-6.1zM297.3 202.8h2.1v2.1h-2.1zM319.7 202.8h2.1v2.1h-2.1zM337.9 202.8h12.2v2.1h-12.2zM352.2 202.8h2.1v2.1h-2.1zM356.2 202.8h2.1v2.1h-2.1zM297.3 204.8h2.1v2.1h-2.1zM317.6 204.8h2.1v2.1h-2.1zM337.9 204.8h6.1v2.1h-6.1zM346.1 204.8h6.1v2.1h-6.1zM356.2 204.8h2.1v2.1h-2.1zM342.0 206.8h12.2v2.1h-12.2zM356.2 206.8h2.1v2.1h-2.1zM297.3 208.9h2.1v2.1h-2.1zM323.7 208.9h2.1v2.1h-2.1zM346.1 208.9h10.2v2.1h-10.2zM297.3 210.9h2.1v2.1h-2.1zM323.7 210.9h4.1v2.1h-4.1zM346.1 210.9h8.2v2.1h-8.2zM356.2 210.9h2.1v2.1h-2.1zM297.3 212.9h2.1v2.1h-2.1zM323.7 212.9h6.1v2.1h-6.1zM346.1 212.9h2.1v2.1h-2.1zM350.1 212.9h4.1v2.1h-4.1zM297.3 215.0h2.1v2.1h-2.1zM325.8 215.0h6.1v2.1h-6.1zM350.1 215.0h6.1v2.1h-6.1zM297.3 217.0h2.1v2.1h-2.1zM323.7 217.0h10.2v2.1h-10.2zM350.1 217.0h2.1v2.1h-2.1zM354.2 217.0h4.1v2.1h-4.1zM297.3 219.0h2.1v2.1h-2.1zM327.8 219.0h10.2v2.1h-10.2zM354.2 219.0h4.1v2.1h-4.1zM297.3 221.1h2.1v2.1h-2.1zM323.7 221.1h2.1v2.1h-2.1zM327.8 221.1h10.2v2.1h-10.2zM356.2 221.1h4.1v2.1h-4.1zM297.3 223.1h2.1v2.1h-2.1zM325.8 223.1h2.1v2.1h-2.1zM329.8 223.1h12.2v2.1h-12.2zM297.3 225.1h2.1v2.1h-2.1zM323.7 225.1h4.1v2.1h-4.1zM329.8 225.1h12.2v2.1h-12.2zM358.2 225.1h2.1v2.1h-2.1zM297.3 227.2h2.1v2.1h-2.1zM325.8 227.2h2.1v2.1h-2.1zM329.8 227.2h6.1v2.1h-6.1zM337.9 227.2h8.2v2.1h-8.2zM358.2 227.2h2.1v2.1h-2.1zM297.3 229.2h2.1v2.1h-2.1zM321.7 229.2h4.1v2.1h-4.1zM327.8 229.2h2.1v2.1h-2.1zM331.8 229.2h6.1v2.1h-6.1zM340.0 229.2h8.2v2.1h-8.2zM360.3 229.2h2.1v2.1h-2.1zM297.3 231.2h2.1v2.1h-2.1zM323.7 231.2h12.2v2.1h-12.2zM337.9 231.2h10.2v2.1h-10.2zM360.3 231.2h2.1v2.1h-2.1zM348.1 233.2h4.1v2.1h-4.1zM368.4 233.2h2.1v2.1h-2.1zM354.2 235.3h4.1v2.1h-4.1zM356.2 237.3h2.1v2.1h-2.1zM368.4 239.3h2.1v2.1h-2.1zM370.4 241.4h2.1v2.1h-2.1zM358.2 243.4h2.1v2.1h-2.1zM362.3 243.4h4.1v2.1h-4.1zM366.4 245.4h2.1v2.1h-2.1zM358.2 247.5h2.1v2.1h-2.1z"/>
<path fill="rgb(246,184,186)" d="M281.1 152.0h2.1v2.1h-2.1zM285.1 154.0h2.1v2.1h-2.1zM287.2 156.1h4.1v2.1h-4.1zM277.0 158.1h2.1v2.1h-2.1zM289.2 158.1h2.1v2.1h-2.1zM277.0 160.1h4.1v2.1h-4.1zM291.2 160.1h2.1v2.1h-2.1zM281.1 162.2h2.1v2.1h-2.1zM293.2 162.2h4.1v2.1h-4.1zM283.1 164.2h2.1v2.1h-2.1zM295.3 164.2h2.1v2.1h-2.1zM285.1 166.2h2.1v2.1h-2.1zM297.3 166.2h2.1v2.1h-2.1zM287.2 168.2h2.1v2.1h-2.1zM289.2 170.3h2.1v2.1h-2.1zM299.3 170.3h2.1v2.1h-2.1zM291.2 172.3h2.1v2.1h-2.1zM307.5 172.3h4.1v2.1h-4.1zM331.8 172.3h2.1v2.1h-2.1zM303.4 174.3h2.1v2.1h-2.1zM305.4 176.4h2.1v2.1h-2.1zM307.5 178.4h2.1v2.1h-2.1zM297.3 180.4h2.1v2.1h-2.1zM301.4 180.4h2.1v2.1h-2.1zM309.5 180.4h2.1v2.1h-2.1zM297.3 182.5h2.1v2.1h-2.1zM303.4 182.5h2.1v2.1h-2.1zM311.5 182.5h2.1v2.1h-2.1zM305.4 184.5h2.1v2.1h-2.1zM313.6 184.5h2.1v2.1h-2.1zM321.7 184.5h2.1v2.1h-2.1zM305.4 186.5h4.1v2.1h-4.1zM315.6 186.5h2.1v2.1h-2.1zM321.7 186.5h2.1v2.1h-2.1zM309.5 188.6h2.1v2.1h-2.1zM317.6 188.6h2.1v2.1h-2.1zM321.7 188.6h2.1v2.1h-2.1zM311.5 190.6h2.1v2.1h-2.1zM319.7 190.6h2.1v2.1h-2.1zM311.5 192.6h4.1v2.1h-4.1zM323.7 192.6h2.1v2.1h-2.1zM323.7 194.7h2.1v2.1h-2.1zM303.4 196.7h4.1v2.1h-4.1zM309.5 196.7h6.1v2.1h-6.1zM331.8 196.7h28.5v2.1h-28.5zM319.7 198.7h2.1v2.1h-2.1zM329.8 198.7h4.1v2.1h-4.1zM331.8 200.8h4.1v2.1h-4.1zM333.9 202.8h4.1v2.1h-4.1zM323.7 204.8h2.1v2.1h-2.1zM297.3 206.8h2.1v2.1h-2.1zM323.7 206.8h4.1v2.1h-4.1zM337.9 206.8h4.1v2.1h-4.1zM321.7 208.9h2.1v2.1h-2.1zM325.8 208.9h4.1v2.1h-4.1zM340.0 208.9h6.1v2.1h-6.1zM321.7 210.9h2.1v2.1h-2.1zM327.8 210.9h4.1v2.1h-4.1zM342.0 210.9h4.1v2.1h-4.1zM321.7 212.9h2.1v2.1h-2.1zM329.8 212.9h4.1v2.1h-4.1zM344.0 212.9h2.1v2.1h-2.1zM348.1 212.9h2.1v2.1h-2.1zM321.7 215.0h2.1v2.1h-2.1zM331.8 215.0h2.1v2.1h-2.1zM346.1 215.0h4.1v2.1h-4.1zM321.7 217.0h2.1v2.1h-2.1zM333.9 217.0h4.1v2.1h-4.1zM352.2 217.0h2.1v2.1h-2.1zM321.7 219.0h2.1v2.1h-2.1zM337.9 219.0h2.1v2.1h-2.1zM350.1 219.0h4.1v2.1h-4.1zM321.7 221.1h2.1v2.1h-2.1zM337.9 221.1h4.1v2.1h-4.1zM352.2 221.1h4.1v2.1h-4.1zM321.7 223.1h2.1v2.1h-2.1zM342.0 223.1h2.1v2.1h-2.1zM354.2 223.1h4.1v2.1h-4.1zM321.7 225.1h2.1v2.1h-2.1zM342.0 225.1h4.1v2.1h-4.1zM356.2 225.1h2.1v2.1h-2.1zM321.7 227.2h2.1v2.1h-2.1zM346.1 227.2h2.1v2.1h-2.1zM348.1 229.2h2.1v2.1h-2.1zM321.7 231.2h2.1v2.1h-2.1zM348.1 231.2h4.1v2.1h-4.1zM321.7 233.2h2.1v2.1h-2.1zM352.2 233.2h4.1v2.1h-4.1z"/>
<path fill="rgb(244,172,175)" d="M283.1 154.0h2.1v2.1h-2.1zM277.0 156.1h2.1v2.1h-2.1zM285.1 156.1h2.1v2.1h-2.1zM279.0 158.1h2.1v2.1h-2.1zM287.2 158.1h2.1v2.1h-2.1zM281.1 160.1h2.1v2.1h-2.1zM289.2 160.1h2.1v2.1h-2.1zM291.2 162.2h2.1v2.1h-2.1zM285.1 164.2h2.1v2.1h-2.1zM293.2 164.2h2.1v2.1h-2.1zM287.2 166.2h2.1v2.1h-2.1zM295.3 166.2h2.1v2.1h-2.1zM289.2 168.2h2.1v2.1h-2.1zM297.3 168.2h2.1v2.1h-2.1zM291.2 170.3h2.1v2.1h-2.1zM293.2 172.3h2.1v2.1h-2.1zM301.4 172.3h6.1v2.1h-6.1zM321.7 172.3h2.1v2.1h-2.1zM297.3 176.4h4.1v2.1h-4.1zM297.3 178.4h4.1v2.1h-4.1zM303.4 180.4h2.1v2.1h-2.1zM305.4 182.5h2.1v2.1h-2.1zM307.5 184.5h2.1v2.1h-2.1zM311.5 184.5h2.1v2.1h-2.1zM309.5 186.5h2.1v2.1h-2.1zM311.5 188.6h2.1v2.1h-2.1zM315.6 188.6h2.1v2.1h-2.1zM321.7 190.6h2.1v2.1h-2.1zM315.6 192.6h2.1v2.1h-2.1zM319.7 192.6h4.1v2.1h-4.1zM315.6 194.7h4.1v2.1h-4.1zM297.3 196.7h2.1v2.1h-2.1zM315.6 196.7h2.1v2.1h-2.1zM329.8 196.7h2.1v2.1h-2.1zM327.8 198.7h2.1v2.1h-2.1zM321.7 202.8h4.1v2.1h-4.1zM331.8 202.8h2.1v2.1h-2.1zM321.7 204.8h2.1v2.1h-2.1zM325.8 204.8h2.1v2.1h-2.1zM333.9 204.8h4.1v2.1h-4.1zM321.7 206.8h2.1v2.1h-2.1zM327.8 206.8h2.1v2.1h-2.1zM335.9 206.8h2.1v2.1h-2.1zM329.8 208.9h2.1v2.1h-2.1zM337.9 208.9h2.1v2.1h-2.1zM331.8 210.9h2.1v2.1h-2.1zM340.0 210.9h2.1v2.1h-2.1zM333.9 212.9h2.1v2.1h-2.1zM342.0 212.9h2.1v2.1h-2.1zM333.9 215.0h4.1v2.1h-4.1zM344.0 215.0h2.1v2.1h-2.1zM337.9 217.0h2.1v2.1h-2.1zM346.1 217.0h4.1v2.1h-4.1zM340.0 219.0h2.1v2.1h-2.1zM348.1 219.0h2.1v2.1h-2.1zM342.0 221.1h2.1v2.1h-2.1zM350.1 221.1h2.1v2.1h-2.1zM352.2 223.1h2.1v2.1h-2.1zM346.1 225.1h2.1v2.1h-2.1zM354.2 225.1h2.1v2.1h-2.1zM348.1 227.2h2.1v2.1h-2.1zM356.2 227.2h2.1v2.1h-2.1zM350.1 229.2h2.1v2.1h-2.1zM358.2 229.2h2.1v2.1h-2.1zM352.2 231.2h2.1v2.1h-2.1zM366.4 235.3h2.1v2.1h-2.1zM360.3 241.4h2.1v2.1h-2.1zM368.4 241.4h2.1v2.1h-2.1zM366.4 243.4h2.1v2.1h-2.1z"/>
<path fill="rgb(243,161,164)" d="M279.0 152.0h2.1v2.1h-2.1zM277.0 154.0h2.1v2.1h-2.1zM281.1 154.0h2.1v2.1h-2.1zM285.1 158.1h2.1v2.1h-2.1zM283.1 162.2h2.1v2.1h-2.1zM289.2 162.2h2.1v2.1h-2.1zM293.2 166.2h2.1v2.1h-2.1zM297.3 170.3h2.1v2.1h-2.1zM295.3 172.3h2.1v2.1h-2.1zM301.4 174.3h2.1v2.1h-2.1zM303.4 176.4h2.1v2.1h-2.1zM301.4 178.4h2.1v2.1h-2.1zM305.4 178.4h2.1v2.1h-2.1zM307.5 180.4h2.1v2.1h-2.1zM309.5 182.5h2.1v2.1h-2.1zM313.6 186.5h2.1v2.1h-2.1zM313.6 190.6h2.1v2.1h-2.1zM317.6 190.6h2.1v2.1h-2.1zM317.6 196.7h2.1v2.1h-2.1zM327.8 196.7h2.1v2.1h-2.1zM325.8 198.7h2.1v2.1h-2.1zM321.7 200.8h2.1v2.1h-2.1zM327.8 200.8h4.1v2.1h-4.1zM325.8 202.8h2.1v2.1h-2.1zM333.9 206.8h2.1v2.1h-2.1zM335.9 208.9h2.1v2.1h-2.1zM337.9 210.9h2.1v2.1h-2.1zM335.9 212.9h2.1v2.1h-2.1zM340.0 212.9h2.1v2.1h-2.1zM340.0 217.0h2.1v2.1h-2.1zM344.0 217.0h2.1v2.1h-2.1zM344.0 221.1h2.1v2.1h-2.1zM348.1 221.1h2.1v2.1h-2.1zM344.0 223.1h4.1v2.1h-4.1zM350.1 223.1h2.1v2.1h-2.1zM348.1 225.1h2.1v2.1h-2.1zM350.1 227.2h2.1v2.1h-2.1zM352.2 229.2h2.1v2.1h-2.1zM354.2 231.2h2.1v2.1h-2.1zM358.2 231.2h2.1v2.1h-2.1zM356.2 233.2h2.1v2.1h-2.1zM366.4 233.2h2.1v2.1h-2.1zM364.3 235.3h2.1v2.1h-2.1zM358.2 241.4h2.1v2.1h-2.1zM362.3 241.4h2.1v2.1h-2.1z"/>
<path fill="rgb(241,149,152)" d="M279.0 156.1h2.1v2.1h-2.1zM283.1 156.1h2.1v2.1h-2.1zM281.1 158.1h2.1v2.1h-2.1zM283.1 160.1h2.1v2.1h-2.1zM287.2 160.1h2.1v2.1h-2.1zM285.1 162.2h2.1v2.1h-2.1zM287.2 164.2h2.1v2.1h-2.1zM291.2 164.2h2.1v2.1h-2.1zM289.2 166.2h2.1v2.1h-2.1zM291.2 168.2h2.1v2.1h-2.1zM295.3 168.2h2.1v2.1h-2.1zM293.2 170.3h2.1v2.1h-2.1zM299.3 172.3h2.1v2.1h-2.1zM297.3 174.3h2.1v2.1h-2.1zM301.4 176.4h2.1v2.1h-2.1zM303.4 178.4h2.1v2.1h-2.1zM307.5 182.5h2.1v2.1h-2.1zM311.5 186.5h2.1v2.1h-2.1zM315.6 190.6h2.1v2.1h-2.1zM319.7 194.7h4.1v2.1h-4.1zM319.7 196.7h2.1v2.1h-2.1zM325.8 196.7h2.1v2.1h-2.1zM323.7 200.8h2.1v2.1h-2.1zM329.8 202.8h2.1v2.1h-2.1zM327.8 204.8h2.1v2.1h-2.1zM331.8 204.8h2.1v2.1h-2.1zM329.8 206.8h2.1v2.1h-2.1zM331.8 208.9h2.1v2.1h-2.1zM333.9 210.9h2.1v2.1h-2.1zM337.9 215.0h2.1v2.1h-2.1zM342.0 215.0h2.1v2.1h-2.1zM342.0 219.0h2.1v2.1h-2.1zM346.1 219.0h2.1v2.1h-2.1zM352.2 225.1h2.1v2.1h-2.1zM354.2 227.2h2.1v2.1h-2.1zM356.2 229.2h2.1v2.1h-2.1zM364.3 233.2h2.1v2.1h-2.1zM362.3 235.3h2.1v2.1h-2.1zM358.2 237.3h2.1v2.1h-2.1zM364.3 237.3h4.1v2.1h-4.1zM358.2 239.3h4.1v2.1h-4.1zM366.4 239.3h2.1v2.1h-2.1zM364.3 241.4h2.1v2.1h-2.1z"/>
<path fill="rgb(240,137,141)" d="M277.0 152.0h2.1v2.1h-2.1zM297.3 172.3h2.1v2.1h-2.1zM299.3 174.3h2.1v2.1h-2.1zM305.4 180.4h2.1v2.1h-2.1zM309.5 184.5h2.1v2.1h-2.1zM313.6 188.6h2.1v2.1h-2.1zM317.6 192.6h2.1v2.1h-2.1zM323.7 196.7h2.1v2.1h-2.1zM321.7 198.7h4.1v2.1h-4.1zM325.8 200.8h2.1v2.1h-2.1zM342.0 217.0h2.1v2.1h-2.1zM344.0 219.0h2.1v2.1h-2.1zM346.1 221.1h2.1v2.1h-2.1zM356.2 231.2h2.1v2.1h-2.1zM362.3 233.2h2.1v2.1h-2.1zM360.3 237.3h2.1v2.1h-2.1zM362.3 239.3h2.1v2.1h-2.1z"/>
<path fill="rgb(239,125,130)" d="M279.0 154.0h2.1v2.1h-2.1zM281.1 156.1h2.1v2.1h-2.1zM283.1 158.1h2.1v2.1h-2.1zM285.1 160.1h2.1v2.1h-2.1zM287.2 162.2h2.1v2.1h-2.1zM289.2 164.2h2.1v2.1h-2.1zM291.2 166.2h2.1v2.1h-2.1zM293.2 168.2h2.1v2.1h-2.1zM295.3 170.3h2.1v2.1h-2.1zM327.8 202.8h2.1v2.1h-2.1zM329.8 204.8h2.1v2.1h-2.1zM331.8 206.8h2.1v2.1h-2.1zM333.9 208.9h2.1v2.1h-2.1zM335.9 210.9h2.1v2.1h-2.1zM337.9 212.9h2.1v2.1h-2.1zM340.0 215.0h2.1v2.1h-2.1zM348.1 223.1h2.1v2.1h-2.1zM350.1 225.1h2.1v2.1h-2.1zM352.2 227.2h2.1v2.1h-2.1zM354.2 229.2h2.1v2.1h-2.1zM360.3 233.2h2.1v2.1h-2.1zM358.2 235.3h2.1v2.1h-2.1zM364.3 239.3h2.1v2.1h-2.1z"/>
<path fill="rgb(237,114,118)" d="M321.7 196.7h2.1v2.1h-2.1zM360.3 235.3h2.1v2.1h-2.1zM362.3 237.3h2.1v2.1h-2.1zM366.4 241.4h2.1v2.1h-2.1z"/>
<path fill="rgb(236,102,107)" d="M358.2 233.2h2.1v2.1h-2.1z"/>
<path fill="rgb(234,90,96)" d="M368.4 247.5h2.1v2.1h-2.1z"/>
<path fill="rgb(233,78,84)" d="M370.4 243.4h4.1v2.1h-4.1zM368.4 245.4h2.1v2.1h-2.1zM370.4 247.5h2.1v2.1h-2.1z"/>
<path fill="rgb(231,67,73)" d="M372.5 245.4h2.1v2.1h-2.1z"/>
<path fill="rgb(230,55,62)" d="M370.4 245.4h2.1v2.1h-2.1z"/>
<path fill="rgb(228,43,50)" d="M368.4 243.4h2.1v2.1h-2.1zM372.5 247.5h2.1v2.1h-2.1z"/>
</g>
<rect x="406" y="151.5" width="97.5" height="97.5" fill="rgb(244,171,173)"/>
<g shape-rendering="crispEdges">
<path fill="rgb(255,255,255)" d="M476.1 151.5h1.6v1.6h-1.6zM410.6 198.7h1.6v1.6h-1.6z"/>
<path fill="rgb(252,238,238)" d="M453.2 151.5h1.6v1.6h-1.6zM459.3 151.5h1.6v1.6h-1.6zM470.0 151.5h1.6v1.6h-1.6zM474.6 151.5h1.6v1.6h-1.6zM485.2 151.5h1.6v1.6h-1.6zM491.3 151.5h1.6v1.6h-1.6zM494.4 151.5h1.6v1.6h-1.6zM476.1 156.1h1.6v1.6h-1.6zM476.1 159.1h1.6v1.6h-1.6zM476.1 165.2h1.6v1.6h-1.6zM476.1 169.8h1.6v1.6h-1.6zM406.0 198.7h3.1v1.6h-3.1zM412.1 198.7h1.6v1.6h-1.6zM416.7 198.7h1.6v1.6h-1.6zM488.3 198.7h3.1v1.6h-3.1zM494.4 198.7h1.6v1.6h-1.6zM497.4 198.7h3.1v1.6h-3.1zM406.0 221.6h1.6v1.6h-1.6zM422.8 221.6h1.6v1.6h-1.6zM425.8 221.6h3.1v1.6h-3.1zM412.1 224.6h1.6v1.6h-1.6zM406.0 235.3h1.6v1.6h-1.6zM453.2 241.4h1.6v1.6h-1.6z"/>
<path fill="rgb(250,221,222)" d="M430.4 151.5h1.6v1.6h-1.6zM433.4 151.5h1.6v1.6h-1.6zM445.6 151.5h1.6v1.6h-1.6zM454.8 151.5h1.6v1.6h-1.6zM457.8 151.5h1.6v1.6h-1.6zM479.1 151.5h1.6v1.6h-1.6zM483.7 151.5h1.6v1.6h-1.6zM488.3 151.5h3.1v1.6h-3.1zM492.8 151.5h1.6v1.6h-1.6zM498.9 151.5h1.6v1.6h-1.6zM463.9 153.0h1.6v1.6h-1.6zM476.1 153.0h1.6v1.6h-1.6zM479.1 153.0h1.6v1.6h-1.6zM491.3 153.0h1.6v1.6h-1.6zM466.9 154.5h1.6v1.6h-1.6zM476.1 154.5h1.6v1.6h-1.6zM498.9 156.1h1.6v1.6h-1.6zM502.0 159.1h1.6v1.6h-1.6zM488.3 160.6h1.6v1.6h-1.6zM502.0 160.6h1.6v1.6h-1.6zM465.4 162.2h1.6v1.6h-1.6zM483.7 162.2h1.6v1.6h-1.6zM489.8 162.2h3.1v1.6h-3.1zM489.8 165.2h1.6v1.6h-1.6zM497.4 165.2h1.6v1.6h-1.6zM453.2 166.7h1.6v1.6h-1.6zM453.2 168.3h1.6v1.6h-1.6zM495.9 169.8h1.6v1.6h-1.6zM485.2 172.8h1.6v1.6h-1.6zM495.9 172.8h1.6v1.6h-1.6zM502.0 174.4h1.6v1.6h-1.6zM476.1 175.9h1.6v1.6h-1.6zM476.1 178.9h1.6v1.6h-1.6zM494.4 178.9h1.6v1.6h-1.6zM498.9 182.0h1.6v1.6h-1.6zM476.1 183.5h1.6v1.6h-1.6zM502.0 191.1h1.6v1.6h-1.6zM476.1 192.6h1.6v1.6h-1.6zM406.0 194.2h1.6v1.6h-1.6zM409.0 195.7h1.6v1.6h-1.6zM413.6 195.7h1.6v1.6h-1.6zM418.2 198.7h1.6v1.6h-1.6zM428.9 198.7h1.6v1.6h-1.6zM500.5 198.7h1.6v1.6h-1.6zM410.6 200.2h1.6v1.6h-1.6zM498.9 200.2h1.6v1.6h-1.6zM410.6 201.8h1.6v1.6h-1.6zM406.0 204.8h1.6v1.6h-1.6zM406.0 206.3h3.1v1.6h-3.1zM407.5 207.9h1.6v1.6h-1.6zM410.6 207.9h1.6v1.6h-1.6zM406.0 209.4h1.6v1.6h-1.6zM410.6 209.4h1.6v1.6h-1.6zM409.0 210.9h1.6v1.6h-1.6zM407.5 212.4h1.6v1.6h-1.6zM409.0 214.0h1.6v1.6h-1.6zM421.2 215.5h1.6v1.6h-1.6zM410.6 217.0h3.1v1.6h-3.1zM406.0 218.5h4.6v1.6h-4.6zM413.6 218.5h1.6v1.6h-1.6zM413.6 220.1h1.6v1.6h-1.6zM409.0 221.6h4.6v1.6h-4.6zM415.1 221.6h1.6v1.6h-1.6zM421.2 221.6h1.6v1.6h-1.6zM436.5 221.6h1.6v1.6h-1.6zM500.5 221.6h1.6v1.6h-1.6zM427.3 224.6h3.1v1.6h-3.1zM406.0 226.1h1.6v1.6h-1.6zM415.1 226.1h1.6v1.6h-1.6zM453.2 226.1h1.6v1.6h-1.6zM406.0 227.7h1.6v1.6h-1.6zM409.0 227.7h1.6v1.6h-1.6zM409.0 230.7h1.6v1.6h-1.6zM413.6 230.7h1.6v1.6h-1.6zM421.2 230.7h1.6v1.6h-1.6zM433.4 230.7h1.6v1.6h-1.6zM409.0 232.2h1.6v1.6h-1.6zM413.6 232.2h1.6v1.6h-1.6zM410.6 233.8h1.6v1.6h-1.6zM418.2 233.8h1.6v1.6h-1.6zM453.2 233.8h1.6v1.6h-1.6zM412.1 235.3h1.6v1.6h-1.6zM409.0 236.8h3.1v1.6h-3.1zM424.3 236.8h1.6v1.6h-1.6zM406.0 238.3h1.6v1.6h-1.6zM409.0 238.3h1.6v1.6h-1.6zM425.8 238.3h1.6v1.6h-1.6zM416.7 239.9h1.6v1.6h-1.6zM422.8 239.9h1.6v1.6h-1.6zM438.0 239.9h3.1v1.6h-3.1zM444.1 239.9h1.6v1.6h-1.6zM450.2 239.9h1.6v1.6h-1.6zM407.5 241.4h1.6v1.6h-1.6zM412.1 241.4h1.6v1.6h-1.6zM416.7 241.4h3.1v1.6h-3.1zM427.3 241.4h1.6v1.6h-1.6zM407.5 242.9h1.6v1.6h-1.6zM415.1 242.9h1.6v1.6h-1.6zM421.2 242.9h1.6v1.6h-1.6zM442.6 242.9h3.1v1.6h-3.1zM447.1 242.9h1.6v1.6h-1.6zM453.2 242.9h1.6v1.6h-1.6zM422.8 244.4h1.6v1.6h-1.6zM430.4 244.4h1.6v1.6h-1.6zM453.2 244.4h1.6v1.6h-1.6zM462.4 244.4h1.6v1.6h-1.6zM470.0 244.4h1.6v1.6h-1.6zM476.1 244.4h1.6v1.6h-1.6zM406.0 246.0h1.6v1.6h-1.6zM418.2 246.0h1.6v1.6h-1.6zM424.3 246.0h1.6v1.6h-1.6zM433.4 246.0h1.6v1.6h-1.6zM448.7 246.0h1.6v1.6h-1.6zM462.4 246.0h1.6v1.6h-1.6zM407.5 247.5h1.6v1.6h-1.6zM425.8 247.5h1.6v1.6h-1.6zM439.5 247.5h1.6v1.6h-1.6zM447.1 247.5h1.6v1.6h-1.6zM450.2 247.5h1.6v1.6h-1.6zM456.3 247.5h1.6v1.6h-1.6z"/>
<path fill="rgb(248,204,206)" d="M431.9 151.5h1.6v1.6h-1.6zM448.7 151.5h1.6v1.6h-1.6zM451.7 151.5h1.6v1.6h-1.6zM456.3 151.5h1.6v1.6h-1.6zM466.9 151.5h1.6v1.6h-1.6zM473.0 151.5h1.6v1.6h-1.6zM477.6 151.5h1.6v1.6h-1.6zM480.6 151.5h3.1v1.6h-3.1zM486.7 151.5h1.6v1.6h-1.6zM445.6 153.0h1.6v1.6h-1.6zM448.7 153.0h1.6v1.6h-1.6zM451.7 153.0h1.6v1.6h-1.6zM457.8 153.0h1.6v1.6h-1.6zM462.4 153.0h1.6v1.6h-1.6zM466.9 153.0h1.6v1.6h-1.6zM470.0 153.0h1.6v1.6h-1.6zM473.0 153.0h1.6v1.6h-1.6zM497.4 153.0h1.6v1.6h-1.6zM502.0 153.0h1.6v1.6h-1.6zM445.6 154.5h3.1v1.6h-3.1zM454.8 154.5h1.6v1.6h-1.6zM457.8 154.5h1.6v1.6h-1.6zM465.4 154.5h1.6v1.6h-1.6zM468.5 154.5h1.6v1.6h-1.6zM471.5 154.5h1.6v1.6h-1.6zM479.1 154.5h1.6v1.6h-1.6zM495.9 154.5h3.1v1.6h-3.1zM444.1 156.1h3.1v1.6h-3.1zM468.5 156.1h1.6v1.6h-1.6zM473.0 156.1h1.6v1.6h-1.6zM479.1 156.1h3.1v1.6h-3.1zM491.3 156.1h1.6v1.6h-1.6zM502.0 156.1h1.6v1.6h-1.6zM451.7 157.6h1.6v1.6h-1.6zM456.3 157.6h1.6v1.6h-1.6zM485.2 157.6h1.6v1.6h-1.6zM500.5 157.6h3.1v1.6h-3.1zM448.7 159.1h1.6v1.6h-1.6zM453.2 159.1h1.6v1.6h-1.6zM456.3 159.1h1.6v1.6h-1.6zM473.0 159.1h1.6v1.6h-1.6zM480.6 159.1h1.6v1.6h-1.6zM483.7 159.1h1.6v1.6h-1.6zM486.7 159.1h1.6v1.6h-1.6zM489.8 159.1h1.6v1.6h-1.6zM497.4 159.1h1.6v1.6h-1.6zM451.7 160.6h1.6v1.6h-1.6zM480.6 160.6h3.1v1.6h-3.1zM495.9 160.6h1.6v1.6h-1.6zM451.7 162.2h1.6v1.6h-1.6zM460.8 162.2h1.6v1.6h-1.6zM476.1 162.2h3.1v1.6h-3.1zM480.6 162.2h1.6v1.6h-1.6zM486.7 162.2h1.6v1.6h-1.6zM500.5 162.2h1.6v1.6h-1.6zM451.7 163.7h1.6v1.6h-1.6zM463.9 163.7h1.6v1.6h-1.6zM468.5 163.7h1.6v1.6h-1.6zM471.5 163.7h1.6v1.6h-1.6zM479.1 163.7h1.6v1.6h-1.6zM444.1 165.2h1.6v1.6h-1.6zM447.1 165.2h1.6v1.6h-1.6zM459.3 165.2h1.6v1.6h-1.6zM462.4 165.2h3.1v1.6h-3.1zM474.6 165.2h1.6v1.6h-1.6zM479.1 165.2h3.1v1.6h-3.1zM492.8 165.2h1.6v1.6h-1.6zM500.5 165.2h3.1v1.6h-3.1zM471.5 166.7h3.1v1.6h-3.1zM480.6 166.7h1.6v1.6h-1.6zM483.7 166.7h1.6v1.6h-1.6zM491.3 166.7h1.6v1.6h-1.6zM500.5 166.7h3.1v1.6h-3.1zM450.2 168.3h1.6v1.6h-1.6zM465.4 168.3h1.6v1.6h-1.6zM479.1 168.3h1.6v1.6h-1.6zM454.8 169.8h1.6v1.6h-1.6zM459.3 169.8h3.1v1.6h-3.1zM488.3 169.8h3.1v1.6h-3.1zM498.9 169.8h1.6v1.6h-1.6zM453.2 171.3h1.6v1.6h-1.6zM465.4 171.3h1.6v1.6h-1.6zM468.5 171.3h1.6v1.6h-1.6zM474.6 171.3h3.1v1.6h-3.1zM485.2 171.3h1.6v1.6h-1.6zM492.8 171.3h1.6v1.6h-1.6zM502.0 171.3h1.6v1.6h-1.6zM406.0 172.8h1.6v1.6h-1.6zM465.4 172.8h1.6v1.6h-1.6zM488.3 172.8h1.6v1.6h-1.6zM494.4 172.8h1.6v1.6h-1.6zM407.5 174.4h1.6v1.6h-1.6zM457.8 174.4h1.6v1.6h-1.6zM465.4 174.4h3.1v1.6h-3.1zM470.0 174.4h1.6v1.6h-1.6zM473.0 174.4h1.6v1.6h-1.6zM485.2 174.4h1.6v1.6h-1.6zM407.5 175.9h3.1v1.6h-3.1zM453.2 175.9h1.6v1.6h-1.6zM474.6 175.9h1.6v1.6h-1.6zM479.1 175.9h1.6v1.6h-1.6zM483.7 175.9h1.6v1.6h-1.6zM486.7 175.9h1.6v1.6h-1.6zM492.8 175.9h1.6v1.6h-1.6zM500.5 175.9h3.1v1.6h-3.1zM406.0 177.4h1.6v1.6h-1.6zM466.9 177.4h1.6v1.6h-1.6zM489.8 177.4h1.6v1.6h-1.6zM453.2 178.9h1.6v1.6h-1.6zM465.4 178.9h1.6v1.6h-1.6zM474.6 178.9h1.6v1.6h-1.6zM483.7 178.9h1.6v1.6h-1.6zM497.4 178.9h1.6v1.6h-1.6zM502.0 178.9h1.6v1.6h-1.6zM406.0 180.4h1.6v1.6h-1.6zM453.2 180.4h1.6v1.6h-1.6zM477.6 180.4h1.6v1.6h-1.6zM491.3 180.4h3.1v1.6h-3.1zM409.0 182.0h1.6v1.6h-1.6zM473.0 182.0h1.6v1.6h-1.6zM476.1 182.0h1.6v1.6h-1.6zM480.6 182.0h3.1v1.6h-3.1zM488.3 182.0h1.6v1.6h-1.6zM491.3 182.0h1.6v1.6h-1.6zM497.4 182.0h1.6v1.6h-1.6zM406.0 183.5h3.1v1.6h-3.1zM466.9 183.5h1.6v1.6h-1.6zM479.1 183.5h1.6v1.6h-1.6zM482.2 183.5h1.6v1.6h-1.6zM489.8 183.5h1.6v1.6h-1.6zM494.4 183.5h1.6v1.6h-1.6zM409.0 185.0h1.6v1.6h-1.6zM479.1 185.0h1.6v1.6h-1.6zM497.4 185.0h1.6v1.6h-1.6zM500.5 185.0h1.6v1.6h-1.6zM470.0 186.5h1.6v1.6h-1.6zM476.1 186.5h1.6v1.6h-1.6zM482.2 186.5h1.6v1.6h-1.6zM485.2 186.5h1.6v1.6h-1.6zM492.8 186.5h1.6v1.6h-1.6zM498.9 186.5h1.6v1.6h-1.6zM409.0 188.1h1.6v1.6h-1.6zM479.1 188.1h1.6v1.6h-1.6zM492.8 188.1h1.6v1.6h-1.6zM495.9 188.1h1.6v1.6h-1.6zM406.0 189.6h1.6v1.6h-1.6zM412.1 189.6h3.1v1.6h-3.1zM480.6 189.6h3.1v1.6h-3.1zM495.9 189.6h1.6v1.6h-1.6zM407.5 191.1h1.6v1.6h-1.6zM474.6 191.1h1.6v1.6h-1.6zM488.3 191.1h1.6v1.6h-1.6zM491.3 191.1h3.1v1.6h-3.1zM498.9 191.1h1.6v1.6h-1.6zM406.0 192.6h1.6v1.6h-1.6zM409.0 192.6h1.6v1.6h-1.6zM480.6 192.6h1.6v1.6h-1.6zM489.8 192.6h3.1v1.6h-3.1zM498.9 192.6h1.6v1.6h-1.6zM494.4 194.2h1.6v1.6h-1.6zM500.5 194.2h3.1v1.6h-3.1zM407.5 195.7h1.6v1.6h-1.6zM416.7 195.7h1.6v1.6h-1.6zM476.1 195.7h1.6v1.6h-1.6zM410.6 197.2h1.6v1.6h-1.6zM413.6 197.2h1.6v1.6h-1.6zM422.8 197.2h1.6v1.6h-1.6zM480.6 197.2h1.6v1.6h-1.6zM491.3 197.2h1.6v1.6h-1.6zM500.5 197.2h1.6v1.6h-1.6zM413.6 198.7h1.6v1.6h-1.6zM421.2 198.7h1.6v1.6h-1.6zM424.3 198.7h3.1v1.6h-3.1zM431.9 198.7h1.6v1.6h-1.6zM470.0 198.7h1.6v1.6h-1.6zM473.0 198.7h3.1v1.6h-3.1zM479.1 198.7h1.6v1.6h-1.6zM483.7 198.7h1.6v1.6h-1.6zM409.0 200.2h1.6v1.6h-1.6zM412.1 200.2h3.1v1.6h-3.1zM422.8 200.2h1.6v1.6h-1.6zM485.2 200.2h1.6v1.6h-1.6zM489.8 201.8h1.6v1.6h-1.6zM494.4 201.8h3.1v1.6h-3.1zM502.0 201.8h1.6v1.6h-1.6zM406.0 203.3h1.6v1.6h-1.6zM409.0 203.3h1.6v1.6h-1.6zM413.6 203.3h1.6v1.6h-1.6zM421.2 203.3h1.6v1.6h-1.6zM427.3 203.3h1.6v1.6h-1.6zM488.3 203.3h1.6v1.6h-1.6zM491.3 203.3h1.6v1.6h-1.6zM412.1 204.8h1.6v1.6h-1.6zM430.4 204.8h1.6v1.6h-1.6zM489.8 204.8h1.6v1.6h-1.6zM495.9 204.8h1.6v1.6h-1.6zM409.0 206.3h1.6v1.6h-1.6zM476.1 206.3h1.6v1.6h-1.6zM489.8 206.3h1.6v1.6h-1.6zM502.0 206.3h1.6v1.6h-1.6zM406.0 207.9h1.6v1.6h-1.6zM409.0 207.9h1.6v1.6h-1.6zM413.6 207.9h1.6v1.6h-1.6zM418.2 207.9h1.6v1.6h-1.6zM424.3 207.9h1.6v1.6h-1.6zM497.4 207.9h1.6v1.6h-1.6zM500.5 207.9h1.6v1.6h-1.6zM409.0 209.4h1.6v1.6h-1.6zM416.7 209.4h1.6v1.6h-1.6zM422.8 209.4h3.1v1.6h-3.1zM436.5 209.4h1.6v1.6h-1.6zM495.9 209.4h1.6v1.6h-1.6zM407.5 210.9h1.6v1.6h-1.6zM410.6 210.9h1.6v1.6h-1.6zM416.7 210.9h1.6v1.6h-1.6zM425.8 210.9h1.6v1.6h-1.6zM410.6 212.4h3.1v1.6h-3.1zM419.7 212.4h1.6v1.6h-1.6zM422.8 212.4h6.1v1.6h-6.1zM430.4 212.4h1.6v1.6h-1.6zM428.9 214.0h1.6v1.6h-1.6zM431.9 214.0h1.6v1.6h-1.6zM438.0 214.0h1.6v1.6h-1.6zM498.9 214.0h3.1v1.6h-3.1zM407.5 215.5h1.6v1.6h-1.6zM410.6 215.5h3.1v1.6h-3.1zM419.7 215.5h1.6v1.6h-1.6zM422.8 215.5h1.6v1.6h-1.6zM433.4 215.5h1.6v1.6h-1.6zM436.5 215.5h1.6v1.6h-1.6zM409.0 217.0h1.6v1.6h-1.6zM434.9 217.0h1.6v1.6h-1.6zM416.7 218.5h3.1v1.6h-3.1zM422.8 218.5h1.6v1.6h-1.6zM430.4 218.5h1.6v1.6h-1.6zM434.9 218.5h1.6v1.6h-1.6zM442.6 218.5h1.6v1.6h-1.6zM410.6 220.1h3.1v1.6h-3.1zM419.7 220.1h1.6v1.6h-1.6zM430.4 220.1h4.6v1.6h-4.6zM407.5 221.6h1.6v1.6h-1.6zM424.3 221.6h1.6v1.6h-1.6zM439.5 221.6h3.1v1.6h-3.1zM444.1 221.6h1.6v1.6h-1.6zM450.2 221.6h1.6v1.6h-1.6zM453.2 221.6h1.6v1.6h-1.6zM457.8 221.6h1.6v1.6h-1.6zM495.9 221.6h3.1v1.6h-3.1zM502.0 221.6h1.6v1.6h-1.6zM410.6 223.1h1.6v1.6h-1.6zM418.2 223.1h1.6v1.6h-1.6zM427.3 223.1h1.6v1.6h-1.6zM430.4 223.1h1.6v1.6h-1.6zM433.4 223.1h1.6v1.6h-1.6zM406.0 224.6h1.6v1.6h-1.6zM413.6 224.6h1.6v1.6h-1.6zM422.8 224.6h1.6v1.6h-1.6zM434.9 224.6h1.6v1.6h-1.6zM442.6 224.6h1.6v1.6h-1.6zM453.2 224.6h1.6v1.6h-1.6zM430.4 226.1h3.1v1.6h-3.1zM444.1 226.1h1.6v1.6h-1.6zM407.5 227.7h1.6v1.6h-1.6zM412.1 227.7h1.6v1.6h-1.6zM422.8 227.7h1.6v1.6h-1.6zM428.9 227.7h1.6v1.6h-1.6zM431.9 227.7h3.1v1.6h-3.1zM407.5 229.2h1.6v1.6h-1.6zM413.6 229.2h3.1v1.6h-3.1zM421.2 229.2h1.6v1.6h-1.6zM425.8 229.2h1.6v1.6h-1.6zM433.4 229.2h1.6v1.6h-1.6zM436.5 229.2h3.1v1.6h-3.1zM444.1 229.2h1.6v1.6h-1.6zM410.6 230.7h1.6v1.6h-1.6zM416.7 230.7h1.6v1.6h-1.6zM419.7 230.7h1.6v1.6h-1.6zM422.8 230.7h1.6v1.6h-1.6zM439.5 230.7h4.6v1.6h-4.6zM451.7 230.7h1.6v1.6h-1.6zM430.4 232.2h1.6v1.6h-1.6zM441.0 232.2h1.6v1.6h-1.6zM447.1 232.2h1.6v1.6h-1.6zM451.7 232.2h1.6v1.6h-1.6zM459.3 232.2h1.6v1.6h-1.6zM407.5 233.8h3.1v1.6h-3.1zM436.5 233.8h1.6v1.6h-1.6zM442.6 233.8h1.6v1.6h-1.6zM454.8 233.8h1.6v1.6h-1.6zM410.6 235.3h1.6v1.6h-1.6zM413.6 235.3h3.1v1.6h-3.1zM433.4 235.3h1.6v1.6h-1.6zM436.5 235.3h1.6v1.6h-1.6zM439.5 235.3h1.6v1.6h-1.6zM442.6 235.3h1.6v1.6h-1.6zM445.6 235.3h1.6v1.6h-1.6zM448.7 235.3h1.6v1.6h-1.6zM453.2 235.3h1.6v1.6h-1.6zM418.2 236.8h1.6v1.6h-1.6zM436.5 236.8h1.6v1.6h-1.6zM439.5 236.8h1.6v1.6h-1.6zM447.1 236.8h1.6v1.6h-1.6zM453.2 236.8h1.6v1.6h-1.6zM476.1 236.8h1.6v1.6h-1.6zM410.6 238.3h3.1v1.6h-3.1zM418.2 238.3h1.6v1.6h-1.6zM422.8 238.3h1.6v1.6h-1.6zM438.0 238.3h1.6v1.6h-1.6zM444.1 238.3h1.6v1.6h-1.6zM463.9 238.3h1.6v1.6h-1.6zM406.0 239.9h3.1v1.6h-3.1zM419.7 239.9h1.6v1.6h-1.6zM430.4 239.9h1.6v1.6h-1.6zM448.7 239.9h1.6v1.6h-1.6zM453.2 239.9h1.6v1.6h-1.6zM456.3 239.9h1.6v1.6h-1.6zM462.4 239.9h1.6v1.6h-1.6zM470.0 239.9h3.1v1.6h-3.1zM410.6 241.4h1.6v1.6h-1.6zM422.8 241.4h4.6v1.6h-4.6zM431.9 241.4h1.6v1.6h-1.6zM436.5 241.4h1.6v1.6h-1.6zM439.5 241.4h3.1v1.6h-3.1zM448.7 241.4h1.6v1.6h-1.6zM462.4 241.4h1.6v1.6h-1.6zM470.0 241.4h1.6v1.6h-1.6zM473.0 241.4h1.6v1.6h-1.6zM476.1 241.4h1.6v1.6h-1.6zM410.6 242.9h1.6v1.6h-1.6zM418.2 242.9h3.1v1.6h-3.1zM422.8 242.9h3.1v1.6h-3.1zM428.9 242.9h1.6v1.6h-1.6zM434.9 242.9h1.6v1.6h-1.6zM438.0 242.9h1.6v1.6h-1.6zM454.8 242.9h1.6v1.6h-1.6zM460.8 242.9h1.6v1.6h-1.6zM471.5 242.9h3.1v1.6h-3.1zM476.1 242.9h1.6v1.6h-1.6zM406.0 244.4h1.6v1.6h-1.6zM409.0 244.4h1.6v1.6h-1.6zM413.6 244.4h1.6v1.6h-1.6zM421.2 244.4h1.6v1.6h-1.6zM433.4 244.4h1.6v1.6h-1.6zM441.0 244.4h1.6v1.6h-1.6zM445.6 244.4h3.1v1.6h-3.1zM451.7 244.4h1.6v1.6h-1.6zM457.8 244.4h1.6v1.6h-1.6zM460.8 244.4h1.6v1.6h-1.6zM410.6 246.0h1.6v1.6h-1.6zM413.6 246.0h3.1v1.6h-3.1zM422.8 246.0h1.6v1.6h-1.6zM430.4 246.0h3.1v1.6h-3.1zM438.0 246.0h1.6v1.6h-1.6zM450.2 246.0h1.6v1.6h-1.6zM466.9 246.0h3.1v1.6h-3.1zM471.5 246.0h1.6v1.6h-1.6zM476.1 246.0h1.6v1.6h-1.6zM412.1 247.5h4.6v1.6h-4.6zM422.8 247.5h3.1v1.6h-3.1zM427.3 247.5h3.1v1.6h-3.1zM436.5 247.5h1.6v1.6h-1.6zM442.6 247.5h3.1v1.6h-3.1zM453.2 247.5h1.6v1.6h-1.6zM462.4 247.5h1.6v1.6h-1.6zM466.9 247.5h1.6v1.6h-1.6zM473.0 247.5h1.6v1.6h-1.6zM479.1 247.5h1.6v1.6h-1.6z"/>
<path fill="rgb(246,187,190)" d="M419.7 151.5h1.6v1.6h-1.6zM422.8 151.5h4.6v1.6h-4.6zM450.2 151.5h1.6v1.6h-1.6zM462.4 151.5h1.6v1.6h-1.6zM465.4 151.5h1.6v1.6h-1.6zM468.5 151.5h1.6v1.6h-1.6zM471.5 151.5h1.6v1.6h-1.6zM495.9 151.5h1.6v1.6h-1.6zM500.5 151.5h1.6v1.6h-1.6zM433.4 153.0h1.6v1.6h-1.6zM442.6 153.0h3.1v1.6h-3.1zM450.2 153.0h1.6v1.6h-1.6zM453.2 153.0h1.6v1.6h-1.6zM459.3 153.0h3.1v1.6h-3.1zM468.5 153.0h1.6v1.6h-1.6zM474.6 153.0h1.6v1.6h-1.6zM480.6 153.0h1.6v1.6h-1.6zM486.7 153.0h1.6v1.6h-1.6zM489.8 153.0h1.6v1.6h-1.6zM434.9 154.5h1.6v1.6h-1.6zM438.0 154.5h1.6v1.6h-1.6zM441.0 154.5h3.1v1.6h-3.1zM448.7 154.5h1.6v1.6h-1.6zM460.8 154.5h1.6v1.6h-1.6zM473.0 154.5h3.1v1.6h-3.1zM488.3 154.5h1.6v1.6h-1.6zM433.4 156.1h1.6v1.6h-1.6zM439.5 156.1h1.6v1.6h-1.6zM447.1 156.1h3.1v1.6h-3.1zM451.7 156.1h1.6v1.6h-1.6zM456.3 156.1h1.6v1.6h-1.6zM462.4 156.1h1.6v1.6h-1.6zM470.0 156.1h3.1v1.6h-3.1zM483.7 156.1h1.6v1.6h-1.6zM495.9 156.1h1.6v1.6h-1.6zM428.9 157.6h1.6v1.6h-1.6zM436.5 157.6h1.6v1.6h-1.6zM450.2 157.6h1.6v1.6h-1.6zM453.2 157.6h1.6v1.6h-1.6zM465.4 157.6h1.6v1.6h-1.6zM471.5 157.6h1.6v1.6h-1.6zM474.6 157.6h1.6v1.6h-1.6zM477.6 157.6h1.6v1.6h-1.6zM483.7 157.6h1.6v1.6h-1.6zM486.7 157.6h3.1v1.6h-3.1zM494.4 157.6h3.1v1.6h-3.1zM430.4 159.1h1.6v1.6h-1.6zM433.4 159.1h1.6v1.6h-1.6zM447.1 159.1h1.6v1.6h-1.6zM459.3 159.1h6.1v1.6h-6.1zM470.0 159.1h1.6v1.6h-1.6zM485.2 159.1h1.6v1.6h-1.6zM488.3 159.1h1.6v1.6h-1.6zM494.4 159.1h1.6v1.6h-1.6zM498.9 159.1h3.1v1.6h-3.1zM454.8 160.6h1.6v1.6h-1.6zM457.8 160.6h1.6v1.6h-1.6zM460.8 160.6h1.6v1.6h-1.6zM468.5 160.6h1.6v1.6h-1.6zM483.7 160.6h1.6v1.6h-1.6zM489.8 160.6h1.6v1.6h-1.6zM492.8 160.6h1.6v1.6h-1.6zM498.9 160.6h1.6v1.6h-1.6zM438.0 162.2h1.6v1.6h-1.6zM442.6 162.2h3.1v1.6h-3.1zM454.8 162.2h1.6v1.6h-1.6zM468.5 162.2h1.6v1.6h-1.6zM479.1 162.2h1.6v1.6h-1.6zM444.1 163.7h3.1v1.6h-3.1zM457.8 163.7h1.6v1.6h-1.6zM462.4 163.7h1.6v1.6h-1.6zM466.9 163.7h1.6v1.6h-1.6zM473.0 163.7h1.6v1.6h-1.6zM476.1 163.7h1.6v1.6h-1.6zM483.7 163.7h1.6v1.6h-1.6zM486.7 163.7h1.6v1.6h-1.6zM491.3 163.7h1.6v1.6h-1.6zM494.4 163.7h1.6v1.6h-1.6zM439.5 165.2h1.6v1.6h-1.6zM448.7 165.2h1.6v1.6h-1.6zM470.0 165.2h1.6v1.6h-1.6zM482.2 165.2h1.6v1.6h-1.6zM447.1 166.7h1.6v1.6h-1.6zM454.8 166.7h1.6v1.6h-1.6zM457.8 166.7h1.6v1.6h-1.6zM463.9 166.7h1.6v1.6h-1.6zM466.9 166.7h1.6v1.6h-1.6zM486.7 166.7h1.6v1.6h-1.6zM495.9 166.7h4.6v1.6h-4.6zM441.0 168.3h1.6v1.6h-1.6zM447.1 168.3h1.6v1.6h-1.6zM454.8 168.3h1.6v1.6h-1.6zM460.8 168.3h1.6v1.6h-1.6zM466.9 168.3h1.6v1.6h-1.6zM470.0 168.3h1.6v1.6h-1.6zM473.0 168.3h3.1v1.6h-3.1zM485.2 168.3h1.6v1.6h-1.6zM489.8 168.3h3.1v1.6h-3.1zM500.5 168.3h3.1v1.6h-3.1zM407.5 169.8h1.6v1.6h-1.6zM442.6 169.8h1.6v1.6h-1.6zM451.7 169.8h3.1v1.6h-3.1zM466.9 169.8h3.1v1.6h-3.1zM477.6 169.8h1.6v1.6h-1.6zM492.8 169.8h1.6v1.6h-1.6zM407.5 171.3h1.6v1.6h-1.6zM412.1 171.3h1.6v1.6h-1.6zM444.1 171.3h1.6v1.6h-1.6zM450.2 171.3h1.6v1.6h-1.6zM457.8 171.3h3.1v1.6h-3.1zM470.0 171.3h1.6v1.6h-1.6zM473.0 171.3h1.6v1.6h-1.6zM483.7 171.3h1.6v1.6h-1.6zM491.3 171.3h1.6v1.6h-1.6zM500.5 171.3h1.6v1.6h-1.6zM453.2 172.8h1.6v1.6h-1.6zM456.3 172.8h1.6v1.6h-1.6zM463.9 172.8h1.6v1.6h-1.6zM473.0 172.8h4.6v1.6h-4.6zM498.9 172.8h4.6v1.6h-4.6zM406.0 174.4h1.6v1.6h-1.6zM410.6 174.4h1.6v1.6h-1.6zM448.7 174.4h1.6v1.6h-1.6zM454.8 174.4h1.6v1.6h-1.6zM468.5 174.4h1.6v1.6h-1.6zM482.2 174.4h1.6v1.6h-1.6zM488.3 174.4h1.6v1.6h-1.6zM491.3 174.4h1.6v1.6h-1.6zM410.6 175.9h1.6v1.6h-1.6zM457.8 175.9h1.6v1.6h-1.6zM471.5 175.9h1.6v1.6h-1.6zM489.8 175.9h1.6v1.6h-1.6zM494.4 175.9h1.6v1.6h-1.6zM497.4 175.9h1.6v1.6h-1.6zM456.3 177.4h1.6v1.6h-1.6zM465.4 177.4h1.6v1.6h-1.6zM468.5 177.4h1.6v1.6h-1.6zM479.1 177.4h1.6v1.6h-1.6zM488.3 177.4h1.6v1.6h-1.6zM492.8 177.4h3.1v1.6h-3.1zM500.5 177.4h1.6v1.6h-1.6zM412.1 178.9h1.6v1.6h-1.6zM415.1 178.9h1.6v1.6h-1.6zM460.8 178.9h3.1v1.6h-3.1zM471.5 178.9h1.6v1.6h-1.6zM477.6 178.9h1.6v1.6h-1.6zM489.8 178.9h3.1v1.6h-3.1zM409.0 180.4h1.6v1.6h-1.6zM415.1 180.4h1.6v1.6h-1.6zM456.3 180.4h3.1v1.6h-3.1zM466.9 180.4h1.6v1.6h-1.6zM476.1 180.4h1.6v1.6h-1.6zM482.2 180.4h1.6v1.6h-1.6zM494.4 180.4h1.6v1.6h-1.6zM502.0 180.4h1.6v1.6h-1.6zM462.4 182.0h6.1v1.6h-6.1zM477.6 182.0h1.6v1.6h-1.6zM486.7 182.0h1.6v1.6h-1.6zM492.8 182.0h3.1v1.6h-3.1zM415.1 183.5h3.1v1.6h-3.1zM459.3 183.5h3.1v1.6h-3.1zM463.9 183.5h1.6v1.6h-1.6zM468.5 183.5h1.6v1.6h-1.6zM486.7 183.5h1.6v1.6h-1.6zM497.4 183.5h1.6v1.6h-1.6zM502.0 183.5h1.6v1.6h-1.6zM406.0 185.0h3.1v1.6h-3.1zM466.9 185.0h1.6v1.6h-1.6zM471.5 185.0h1.6v1.6h-1.6zM483.7 185.0h1.6v1.6h-1.6zM488.3 185.0h1.6v1.6h-1.6zM407.5 186.5h1.6v1.6h-1.6zM413.6 186.5h1.6v1.6h-1.6zM473.0 186.5h1.6v1.6h-1.6zM480.6 186.5h1.6v1.6h-1.6zM494.4 186.5h3.1v1.6h-3.1zM502.0 186.5h1.6v1.6h-1.6zM407.5 188.1h1.6v1.6h-1.6zM413.6 188.1h1.6v1.6h-1.6zM416.7 188.1h1.6v1.6h-1.6zM421.2 188.1h1.6v1.6h-1.6zM474.6 188.1h1.6v1.6h-1.6zM498.9 188.1h4.6v1.6h-4.6zM409.0 189.6h1.6v1.6h-1.6zM421.2 189.6h1.6v1.6h-1.6zM463.9 189.6h1.6v1.6h-1.6zM477.6 189.6h1.6v1.6h-1.6zM492.8 189.6h1.6v1.6h-1.6zM500.5 189.6h1.6v1.6h-1.6zM406.0 191.1h1.6v1.6h-1.6zM421.2 191.1h1.6v1.6h-1.6zM476.1 191.1h1.6v1.6h-1.6zM482.2 191.1h1.6v1.6h-1.6zM495.9 191.1h3.1v1.6h-3.1zM413.6 192.6h1.6v1.6h-1.6zM416.7 192.6h1.6v1.6h-1.6zM422.8 192.6h1.6v1.6h-1.6zM425.8 192.6h1.6v1.6h-1.6zM428.9 192.6h1.6v1.6h-1.6zM470.0 192.6h1.6v1.6h-1.6zM477.6 192.6h1.6v1.6h-1.6zM485.2 192.6h4.6v1.6h-4.6zM407.5 194.2h3.1v1.6h-3.1zM413.6 194.2h1.6v1.6h-1.6zM421.2 194.2h1.6v1.6h-1.6zM424.3 194.2h1.6v1.6h-1.6zM476.1 194.2h1.6v1.6h-1.6zM488.3 194.2h1.6v1.6h-1.6zM492.8 194.2h1.6v1.6h-1.6zM406.0 195.7h1.6v1.6h-1.6zM418.2 195.7h3.1v1.6h-3.1zM425.8 195.7h1.6v1.6h-1.6zM477.6 195.7h1.6v1.6h-1.6zM489.8 195.7h1.6v1.6h-1.6zM495.9 195.7h1.6v1.6h-1.6zM502.0 195.7h1.6v1.6h-1.6zM412.1 197.2h1.6v1.6h-1.6zM424.3 197.2h1.6v1.6h-1.6zM434.9 197.2h1.6v1.6h-1.6zM477.6 197.2h3.1v1.6h-3.1zM492.8 197.2h3.1v1.6h-3.1zM497.4 197.2h1.6v1.6h-1.6zM409.0 198.7h1.6v1.6h-1.6zM419.7 198.7h1.6v1.6h-1.6zM439.5 198.7h1.6v1.6h-1.6zM462.4 198.7h1.6v1.6h-1.6zM468.5 198.7h1.6v1.6h-1.6zM476.1 198.7h1.6v1.6h-1.6zM486.7 198.7h1.6v1.6h-1.6zM491.3 198.7h3.1v1.6h-3.1zM502.0 198.7h1.6v1.6h-1.6zM425.8 200.2h3.1v1.6h-3.1zM430.4 200.2h1.6v1.6h-1.6zM474.6 200.2h1.6v1.6h-1.6zM491.3 200.2h4.6v1.6h-4.6zM497.4 200.2h1.6v1.6h-1.6zM502.0 200.2h1.6v1.6h-1.6zM406.0 201.8h3.1v1.6h-3.1zM418.2 201.8h1.6v1.6h-1.6zM425.8 201.8h1.6v1.6h-1.6zM431.9 201.8h1.6v1.6h-1.6zM482.2 201.8h1.6v1.6h-1.6zM491.3 201.8h1.6v1.6h-1.6zM498.9 201.8h1.6v1.6h-1.6zM410.6 203.3h3.1v1.6h-3.1zM419.7 203.3h1.6v1.6h-1.6zM430.4 203.3h1.6v1.6h-1.6zM480.6 203.3h1.6v1.6h-1.6zM407.5 204.8h1.6v1.6h-1.6zM418.2 204.8h3.1v1.6h-3.1zM434.9 204.8h1.6v1.6h-1.6zM480.6 204.8h1.6v1.6h-1.6zM485.2 204.8h1.6v1.6h-1.6zM491.3 204.8h1.6v1.6h-1.6zM498.9 204.8h1.6v1.6h-1.6zM410.6 206.3h4.6v1.6h-4.6zM421.2 206.3h1.6v1.6h-1.6zM428.9 206.3h1.6v1.6h-1.6zM431.9 206.3h3.1v1.6h-3.1zM442.6 206.3h3.1v1.6h-3.1zM480.6 206.3h3.1v1.6h-3.1zM495.9 206.3h1.6v1.6h-1.6zM419.7 207.9h1.6v1.6h-1.6zM434.9 207.9h1.6v1.6h-1.6zM482.2 207.9h1.6v1.6h-1.6zM486.7 207.9h1.6v1.6h-1.6zM494.4 207.9h1.6v1.6h-1.6zM486.7 209.4h1.6v1.6h-1.6zM489.8 209.4h1.6v1.6h-1.6zM500.5 209.4h1.6v1.6h-1.6zM413.6 210.9h1.6v1.6h-1.6zM418.2 210.9h1.6v1.6h-1.6zM422.8 210.9h3.1v1.6h-3.1zM427.3 210.9h1.6v1.6h-1.6zM430.4 210.9h3.1v1.6h-3.1zM436.5 210.9h1.6v1.6h-1.6zM442.6 210.9h1.6v1.6h-1.6zM492.8 210.9h1.6v1.6h-1.6zM409.0 212.4h1.6v1.6h-1.6zM416.7 212.4h1.6v1.6h-1.6zM428.9 212.4h1.6v1.6h-1.6zM433.4 212.4h1.6v1.6h-1.6zM438.0 212.4h1.6v1.6h-1.6zM453.2 212.4h1.6v1.6h-1.6zM486.7 212.4h1.6v1.6h-1.6zM500.5 212.4h1.6v1.6h-1.6zM413.6 214.0h1.6v1.6h-1.6zM427.3 214.0h1.6v1.6h-1.6zM433.4 214.0h1.6v1.6h-1.6zM439.5 214.0h1.6v1.6h-1.6zM445.6 214.0h1.6v1.6h-1.6zM453.2 214.0h1.6v1.6h-1.6zM486.7 214.0h1.6v1.6h-1.6zM495.9 214.0h1.6v1.6h-1.6zM416.7 215.5h1.6v1.6h-1.6zM424.3 215.5h1.6v1.6h-1.6zM445.6 215.5h1.6v1.6h-1.6zM450.2 215.5h1.6v1.6h-1.6zM416.7 217.0h1.6v1.6h-1.6zM419.7 217.0h1.6v1.6h-1.6zM430.4 217.0h4.6v1.6h-4.6zM436.5 217.0h1.6v1.6h-1.6zM439.5 217.0h6.1v1.6h-6.1zM447.1 217.0h3.1v1.6h-3.1zM498.9 217.0h1.6v1.6h-1.6zM412.1 218.5h1.6v1.6h-1.6zM431.9 218.5h3.1v1.6h-3.1zM439.5 218.5h3.1v1.6h-3.1zM447.1 218.5h1.6v1.6h-1.6zM494.4 218.5h1.6v1.6h-1.6zM407.5 220.1h1.6v1.6h-1.6zM424.3 220.1h1.6v1.6h-1.6zM434.9 220.1h1.6v1.6h-1.6zM413.6 221.6h1.6v1.6h-1.6zM418.2 221.6h1.6v1.6h-1.6zM430.4 221.6h1.6v1.6h-1.6zM434.9 221.6h1.6v1.6h-1.6zM442.6 221.6h1.6v1.6h-1.6zM445.6 221.6h3.1v1.6h-3.1zM451.7 221.6h1.6v1.6h-1.6zM454.8 221.6h3.1v1.6h-3.1zM459.3 221.6h3.1v1.6h-3.1zM465.4 221.6h1.6v1.6h-1.6zM486.7 221.6h4.6v1.6h-4.6zM492.8 221.6h1.6v1.6h-1.6zM413.6 223.1h1.6v1.6h-1.6zM424.3 223.1h3.1v1.6h-3.1zM431.9 223.1h1.6v1.6h-1.6zM436.5 223.1h1.6v1.6h-1.6zM415.1 224.6h3.1v1.6h-3.1zM425.8 224.6h1.6v1.6h-1.6zM431.9 224.6h1.6v1.6h-1.6zM438.0 224.6h3.1v1.6h-3.1zM444.1 224.6h3.1v1.6h-3.1zM448.7 224.6h1.6v1.6h-1.6zM451.7 224.6h1.6v1.6h-1.6zM456.3 224.6h3.1v1.6h-3.1zM460.8 224.6h1.6v1.6h-1.6zM418.2 226.1h1.6v1.6h-1.6zM421.2 226.1h1.6v1.6h-1.6zM425.8 226.1h1.6v1.6h-1.6zM428.9 226.1h1.6v1.6h-1.6zM438.0 226.1h1.6v1.6h-1.6zM451.7 226.1h1.6v1.6h-1.6zM463.9 226.1h1.6v1.6h-1.6zM498.9 226.1h1.6v1.6h-1.6zM415.1 227.7h3.1v1.6h-3.1zM427.3 227.7h1.6v1.6h-1.6zM445.6 227.7h3.1v1.6h-3.1zM457.8 227.7h3.1v1.6h-3.1zM500.5 227.7h1.6v1.6h-1.6zM409.0 229.2h3.1v1.6h-3.1zM419.7 229.2h1.6v1.6h-1.6zM430.4 229.2h3.1v1.6h-3.1zM441.0 229.2h1.6v1.6h-1.6zM445.6 229.2h1.6v1.6h-1.6zM454.8 229.2h1.6v1.6h-1.6zM500.5 229.2h1.6v1.6h-1.6zM406.0 230.7h3.1v1.6h-3.1zM412.1 230.7h1.6v1.6h-1.6zM415.1 230.7h1.6v1.6h-1.6zM418.2 230.7h1.6v1.6h-1.6zM425.8 230.7h3.1v1.6h-3.1zM431.9 230.7h1.6v1.6h-1.6zM436.5 230.7h3.1v1.6h-3.1zM448.7 230.7h1.6v1.6h-1.6zM453.2 230.7h1.6v1.6h-1.6zM460.8 230.7h1.6v1.6h-1.6zM406.0 232.2h3.1v1.6h-3.1zM410.6 232.2h1.6v1.6h-1.6zM415.1 232.2h3.1v1.6h-3.1zM419.7 232.2h1.6v1.6h-1.6zM425.8 232.2h3.1v1.6h-3.1zM433.4 232.2h1.6v1.6h-1.6zM453.2 232.2h1.6v1.6h-1.6zM460.8 232.2h1.6v1.6h-1.6zM406.0 233.8h1.6v1.6h-1.6zM413.6 233.8h1.6v1.6h-1.6zM425.8 233.8h1.6v1.6h-1.6zM431.9 233.8h3.1v1.6h-3.1zM439.5 233.8h1.6v1.6h-1.6zM444.1 233.8h3.1v1.6h-3.1zM456.3 233.8h1.6v1.6h-1.6zM463.9 233.8h1.6v1.6h-1.6zM468.5 233.8h1.6v1.6h-1.6zM476.1 233.8h1.6v1.6h-1.6zM407.5 235.3h1.6v1.6h-1.6zM416.7 235.3h3.1v1.6h-3.1zM424.3 235.3h1.6v1.6h-1.6zM444.1 235.3h1.6v1.6h-1.6zM450.2 235.3h3.1v1.6h-3.1zM454.8 235.3h1.6v1.6h-1.6zM462.4 235.3h1.6v1.6h-1.6zM465.4 235.3h1.6v1.6h-1.6zM468.5 235.3h3.1v1.6h-3.1zM476.1 235.3h1.6v1.6h-1.6zM421.2 236.8h1.6v1.6h-1.6zM428.9 236.8h4.6v1.6h-4.6zM457.8 236.8h1.6v1.6h-1.6zM413.6 238.3h3.1v1.6h-3.1zM419.7 238.3h1.6v1.6h-1.6zM424.3 238.3h1.6v1.6h-1.6zM427.3 238.3h1.6v1.6h-1.6zM431.9 238.3h4.6v1.6h-4.6zM442.6 238.3h1.6v1.6h-1.6zM448.7 238.3h1.6v1.6h-1.6zM453.2 238.3h1.6v1.6h-1.6zM456.3 238.3h1.6v1.6h-1.6zM459.3 238.3h1.6v1.6h-1.6zM465.4 238.3h1.6v1.6h-1.6zM425.8 239.9h1.6v1.6h-1.6zM431.9 239.9h3.1v1.6h-3.1zM442.6 239.9h1.6v1.6h-1.6zM445.6 239.9h1.6v1.6h-1.6zM466.9 239.9h1.6v1.6h-1.6zM406.0 241.4h1.6v1.6h-1.6zM409.0 241.4h1.6v1.6h-1.6zM413.6 241.4h3.1v1.6h-3.1zM419.7 241.4h3.1v1.6h-3.1zM433.4 241.4h1.6v1.6h-1.6zM438.0 241.4h1.6v1.6h-1.6zM456.3 241.4h1.6v1.6h-1.6zM463.9 241.4h1.6v1.6h-1.6zM474.6 241.4h1.6v1.6h-1.6zM406.0 242.9h1.6v1.6h-1.6zM416.7 242.9h1.6v1.6h-1.6zM430.4 242.9h3.1v1.6h-3.1zM439.5 242.9h1.6v1.6h-1.6zM445.6 242.9h1.6v1.6h-1.6zM450.2 242.9h1.6v1.6h-1.6zM456.3 242.9h4.6v1.6h-4.6zM463.9 242.9h1.6v1.6h-1.6zM470.0 242.9h1.6v1.6h-1.6zM474.6 242.9h1.6v1.6h-1.6zM479.1 242.9h1.6v1.6h-1.6zM410.6 244.4h1.6v1.6h-1.6zM416.7 244.4h1.6v1.6h-1.6zM419.7 244.4h1.6v1.6h-1.6zM436.5 244.4h1.6v1.6h-1.6zM463.9 244.4h1.6v1.6h-1.6zM473.0 244.4h1.6v1.6h-1.6zM477.6 244.4h3.1v1.6h-3.1zM409.0 246.0h1.6v1.6h-1.6zM419.7 246.0h1.6v1.6h-1.6zM434.9 246.0h3.1v1.6h-3.1zM442.6 246.0h3.1v1.6h-3.1zM447.1 246.0h1.6v1.6h-1.6zM456.3 246.0h1.6v1.6h-1.6zM459.3 246.0h1.6v1.6h-1.6zM465.4 246.0h1.6v1.6h-1.6zM473.0 246.0h3.1v1.6h-3.1zM477.6 246.0h1.6v1.6h-1.6zM419.7 247.5h3.1v1.6h-3.1zM434.9 247.5h1.6v1.6h-1.6zM471.5 247.5h1.6v1.6h-1.6zM485.2 247.5h3.1v1.6h-3.1z"/>
<path fill="rgb(242,154,157)" d="M427.3 151.5h1.6v1.6h-1.6zM434.9 151.5h1.6v1.6h-1.6zM442.6 151.5h1.6v1.6h-1.6zM421.2 153.0h1.6v1.6h-1.6zM424.3 153.0h1.6v1.6h-1.6zM430.4 153.0h1.6v1.6h-1.6zM434.9 153.0h4.6v1.6h-4.6zM441.0 153.0h1.6v1.6h-1.6zM447.1 153.0h1.6v1.6h-1.6zM477.6 153.0h1.6v1.6h-1.6zM494.4 153.0h3.1v1.6h-3.1zM500.5 153.0h1.6v1.6h-1.6zM418.2 154.5h1.6v1.6h-1.6zM427.3 154.5h1.6v1.6h-1.6zM453.2 154.5h1.6v1.6h-1.6zM459.3 154.5h1.6v1.6h-1.6zM470.0 154.5h1.6v1.6h-1.6zM477.6 154.5h1.6v1.6h-1.6zM480.6 154.5h1.6v1.6h-1.6zM492.8 154.5h3.1v1.6h-3.1zM500.5 154.5h1.6v1.6h-1.6zM459.3 156.1h1.6v1.6h-1.6zM477.6 156.1h1.6v1.6h-1.6zM485.2 156.1h1.6v1.6h-1.6zM489.8 156.1h1.6v1.6h-1.6zM492.8 156.1h1.6v1.6h-1.6zM500.5 156.1h1.6v1.6h-1.6zM421.2 157.6h1.6v1.6h-1.6zM425.8 157.6h3.1v1.6h-3.1zM431.9 157.6h1.6v1.6h-1.6zM444.1 157.6h6.1v1.6h-6.1zM462.4 157.6h3.1v1.6h-3.1zM466.9 157.6h1.6v1.6h-1.6zM489.8 157.6h3.1v1.6h-3.1zM498.9 157.6h1.6v1.6h-1.6zM424.3 159.1h1.6v1.6h-1.6zM427.3 159.1h1.6v1.6h-1.6zM436.5 159.1h1.6v1.6h-1.6zM439.5 159.1h1.6v1.6h-1.6zM442.6 159.1h1.6v1.6h-1.6zM450.2 159.1h1.6v1.6h-1.6zM454.8 159.1h1.6v1.6h-1.6zM457.8 159.1h1.6v1.6h-1.6zM471.5 159.1h1.6v1.6h-1.6zM477.6 159.1h1.6v1.6h-1.6zM482.2 159.1h1.6v1.6h-1.6zM495.9 159.1h1.6v1.6h-1.6zM407.5 160.6h1.6v1.6h-1.6zM425.8 160.6h1.6v1.6h-1.6zM441.0 160.6h1.6v1.6h-1.6zM445.6 160.6h1.6v1.6h-1.6zM448.7 160.6h1.6v1.6h-1.6zM462.4 160.6h1.6v1.6h-1.6zM466.9 160.6h1.6v1.6h-1.6zM471.5 160.6h4.6v1.6h-4.6zM486.7 160.6h1.6v1.6h-1.6zM491.3 160.6h1.6v1.6h-1.6zM494.4 160.6h1.6v1.6h-1.6zM497.4 160.6h1.6v1.6h-1.6zM427.3 162.2h1.6v1.6h-1.6zM434.9 162.2h3.1v1.6h-3.1zM441.0 162.2h1.6v1.6h-1.6zM456.3 162.2h1.6v1.6h-1.6zM462.4 162.2h3.1v1.6h-3.1zM470.0 162.2h1.6v1.6h-1.6zM482.2 162.2h1.6v1.6h-1.6zM494.4 162.2h3.1v1.6h-3.1zM407.5 163.7h3.1v1.6h-3.1zM442.6 163.7h1.6v1.6h-1.6zM447.1 163.7h1.6v1.6h-1.6zM450.2 163.7h1.6v1.6h-1.6zM460.8 163.7h1.6v1.6h-1.6zM482.2 163.7h1.6v1.6h-1.6zM485.2 163.7h1.6v1.6h-1.6zM488.3 163.7h1.6v1.6h-1.6zM492.8 163.7h1.6v1.6h-1.6zM495.9 163.7h6.1v1.6h-6.1zM410.6 165.2h1.6v1.6h-1.6zM454.8 165.2h1.6v1.6h-1.6zM465.4 165.2h4.6v1.6h-4.6zM471.5 165.2h1.6v1.6h-1.6zM483.7 165.2h4.6v1.6h-4.6zM491.3 165.2h1.6v1.6h-1.6zM498.9 165.2h1.6v1.6h-1.6zM407.5 166.7h3.1v1.6h-3.1zM412.1 166.7h1.6v1.6h-1.6zM431.9 166.7h1.6v1.6h-1.6zM439.5 166.7h4.6v1.6h-4.6zM450.2 166.7h1.6v1.6h-1.6zM460.8 166.7h3.1v1.6h-3.1zM477.6 166.7h3.1v1.6h-3.1zM482.2 166.7h1.6v1.6h-1.6zM485.2 166.7h1.6v1.6h-1.6zM494.4 166.7h1.6v1.6h-1.6zM409.0 168.3h4.6v1.6h-4.6zM431.9 168.3h3.1v1.6h-3.1zM438.0 168.3h3.1v1.6h-3.1zM456.3 168.3h1.6v1.6h-1.6zM471.5 168.3h1.6v1.6h-1.6zM486.7 168.3h3.1v1.6h-3.1zM492.8 168.3h3.1v1.6h-3.1zM497.4 168.3h1.6v1.6h-1.6zM413.6 169.8h1.6v1.6h-1.6zM438.0 169.8h1.6v1.6h-1.6zM444.1 169.8h3.1v1.6h-3.1zM470.0 169.8h1.6v1.6h-1.6zM474.6 169.8h1.6v1.6h-1.6zM479.1 169.8h1.6v1.6h-1.6zM483.7 169.8h3.1v1.6h-3.1zM409.0 171.3h1.6v1.6h-1.6zM415.1 171.3h1.6v1.6h-1.6zM434.9 171.3h1.6v1.6h-1.6zM441.0 171.3h1.6v1.6h-1.6zM448.7 171.3h1.6v1.6h-1.6zM466.9 171.3h1.6v1.6h-1.6zM488.3 171.3h1.6v1.6h-1.6zM494.4 171.3h1.6v1.6h-1.6zM498.9 171.3h1.6v1.6h-1.6zM407.5 172.8h1.6v1.6h-1.6zM442.6 172.8h1.6v1.6h-1.6zM447.1 172.8h1.6v1.6h-1.6zM460.8 172.8h3.1v1.6h-3.1zM470.0 172.8h1.6v1.6h-1.6zM409.0 174.4h1.6v1.6h-1.6zM412.1 174.4h1.6v1.6h-1.6zM442.6 174.4h1.6v1.6h-1.6zM474.6 174.4h1.6v1.6h-1.6zM477.6 174.4h1.6v1.6h-1.6zM495.9 174.4h1.6v1.6h-1.6zM413.6 175.9h1.6v1.6h-1.6zM445.6 175.9h1.6v1.6h-1.6zM448.7 175.9h1.6v1.6h-1.6zM459.3 175.9h1.6v1.6h-1.6zM462.4 175.9h1.6v1.6h-1.6zM466.9 175.9h1.6v1.6h-1.6zM470.0 175.9h1.6v1.6h-1.6zM485.2 175.9h1.6v1.6h-1.6zM495.9 175.9h1.6v1.6h-1.6zM498.9 175.9h1.6v1.6h-1.6zM410.6 177.4h1.6v1.6h-1.6zM418.2 177.4h1.6v1.6h-1.6zM453.2 177.4h1.6v1.6h-1.6zM460.8 177.4h1.6v1.6h-1.6zM470.0 177.4h1.6v1.6h-1.6zM473.0 177.4h3.1v1.6h-3.1zM480.6 177.4h1.6v1.6h-1.6zM497.4 177.4h1.6v1.6h-1.6zM409.0 178.9h1.6v1.6h-1.6zM421.2 178.9h3.1v1.6h-3.1zM448.7 178.9h1.6v1.6h-1.6zM456.3 178.9h4.6v1.6h-4.6zM470.0 178.9h1.6v1.6h-1.6zM486.7 178.9h3.1v1.6h-3.1zM492.8 178.9h1.6v1.6h-1.6zM498.9 178.9h1.6v1.6h-1.6zM412.1 180.4h1.6v1.6h-1.6zM418.2 180.4h1.6v1.6h-1.6zM448.7 180.4h3.1v1.6h-3.1zM454.8 180.4h1.6v1.6h-1.6zM462.4 180.4h1.6v1.6h-1.6zM465.4 180.4h1.6v1.6h-1.6zM468.5 180.4h4.6v1.6h-4.6zM479.1 180.4h3.1v1.6h-3.1zM483.7 180.4h1.6v1.6h-1.6zM486.7 180.4h1.6v1.6h-1.6zM489.8 180.4h1.6v1.6h-1.6zM406.0 182.0h1.6v1.6h-1.6zM422.8 182.0h1.6v1.6h-1.6zM454.8 182.0h1.6v1.6h-1.6zM460.8 182.0h1.6v1.6h-1.6zM468.5 182.0h1.6v1.6h-1.6zM479.1 182.0h1.6v1.6h-1.6zM485.2 182.0h1.6v1.6h-1.6zM489.8 182.0h1.6v1.6h-1.6zM500.5 182.0h1.6v1.6h-1.6zM428.9 183.5h1.6v1.6h-1.6zM447.1 183.5h1.6v1.6h-1.6zM451.7 183.5h1.6v1.6h-1.6zM454.8 183.5h1.6v1.6h-1.6zM471.5 183.5h4.6v1.6h-4.6zM483.7 183.5h1.6v1.6h-1.6zM492.8 183.5h1.6v1.6h-1.6zM495.9 183.5h1.6v1.6h-1.6zM498.9 183.5h3.1v1.6h-3.1zM412.1 185.0h1.6v1.6h-1.6zM415.1 185.0h3.1v1.6h-3.1zM456.3 185.0h1.6v1.6h-1.6zM459.3 185.0h1.6v1.6h-1.6zM462.4 185.0h1.6v1.6h-1.6zM468.5 185.0h1.6v1.6h-1.6zM476.1 185.0h1.6v1.6h-1.6zM480.6 185.0h3.1v1.6h-3.1zM485.2 185.0h1.6v1.6h-1.6zM491.3 185.0h1.6v1.6h-1.6zM494.4 185.0h3.1v1.6h-3.1zM498.9 185.0h1.6v1.6h-1.6zM502.0 185.0h1.6v1.6h-1.6zM412.1 186.5h1.6v1.6h-1.6zM419.7 186.5h4.6v1.6h-4.6zM425.8 186.5h1.6v1.6h-1.6zM457.8 186.5h1.6v1.6h-1.6zM460.8 186.5h1.6v1.6h-1.6zM468.5 186.5h1.6v1.6h-1.6zM483.7 186.5h1.6v1.6h-1.6zM491.3 186.5h1.6v1.6h-1.6zM497.4 186.5h1.6v1.6h-1.6zM500.5 186.5h1.6v1.6h-1.6zM410.6 188.1h3.1v1.6h-3.1zM419.7 188.1h1.6v1.6h-1.6zM424.3 188.1h1.6v1.6h-1.6zM427.3 188.1h3.1v1.6h-3.1zM462.4 188.1h3.1v1.6h-3.1zM470.0 188.1h3.1v1.6h-3.1zM477.6 188.1h1.6v1.6h-1.6zM482.2 188.1h1.6v1.6h-1.6zM491.3 188.1h1.6v1.6h-1.6zM407.5 189.6h1.6v1.6h-1.6zM415.1 189.6h1.6v1.6h-1.6zM418.2 189.6h1.6v1.6h-1.6zM456.3 189.6h1.6v1.6h-1.6zM459.3 189.6h1.6v1.6h-1.6zM473.0 189.6h1.6v1.6h-1.6zM488.3 189.6h4.6v1.6h-4.6zM494.4 189.6h1.6v1.6h-1.6zM413.6 191.1h1.6v1.6h-1.6zM424.3 191.1h3.1v1.6h-3.1zM433.4 191.1h1.6v1.6h-1.6zM459.3 191.1h1.6v1.6h-1.6zM477.6 191.1h1.6v1.6h-1.6zM483.7 191.1h4.6v1.6h-4.6zM500.5 191.1h1.6v1.6h-1.6zM415.1 192.6h1.6v1.6h-1.6zM434.9 192.6h1.6v1.6h-1.6zM466.9 192.6h1.6v1.6h-1.6zM474.6 192.6h1.6v1.6h-1.6zM483.7 192.6h1.6v1.6h-1.6zM495.9 192.6h3.1v1.6h-3.1zM500.5 192.6h3.1v1.6h-3.1zM427.3 194.2h1.6v1.6h-1.6zM434.9 194.2h1.6v1.6h-1.6zM459.3 194.2h1.6v1.6h-1.6zM465.4 194.2h1.6v1.6h-1.6zM471.5 194.2h1.6v1.6h-1.6zM474.6 194.2h1.6v1.6h-1.6zM477.6 194.2h1.6v1.6h-1.6zM480.6 194.2h1.6v1.6h-1.6zM489.8 194.2h3.1v1.6h-3.1zM412.1 195.7h1.6v1.6h-1.6zM424.3 195.7h1.6v1.6h-1.6zM427.3 195.7h1.6v1.6h-1.6zM430.4 195.7h1.6v1.6h-1.6zM465.4 195.7h1.6v1.6h-1.6zM479.1 195.7h1.6v1.6h-1.6zM485.2 195.7h3.1v1.6h-3.1zM492.8 195.7h1.6v1.6h-1.6zM498.9 195.7h1.6v1.6h-1.6zM407.5 197.2h3.1v1.6h-3.1zM415.1 197.2h3.1v1.6h-3.1zM421.2 197.2h1.6v1.6h-1.6zM425.8 197.2h6.1v1.6h-6.1zM442.6 197.2h1.6v1.6h-1.6zM466.9 197.2h1.6v1.6h-1.6zM476.1 197.2h1.6v1.6h-1.6zM483.7 197.2h1.6v1.6h-1.6zM486.7 197.2h1.6v1.6h-1.6zM502.0 197.2h1.6v1.6h-1.6zM430.4 198.7h1.6v1.6h-1.6zM433.4 198.7h3.1v1.6h-3.1zM438.0 198.7h1.6v1.6h-1.6zM460.8 198.7h1.6v1.6h-1.6zM471.5 198.7h1.6v1.6h-1.6zM485.2 198.7h1.6v1.6h-1.6zM407.5 200.2h1.6v1.6h-1.6zM438.0 200.2h1.6v1.6h-1.6zM466.9 200.2h1.6v1.6h-1.6zM488.3 200.2h1.6v1.6h-1.6zM495.9 200.2h1.6v1.6h-1.6zM409.0 201.8h1.6v1.6h-1.6zM412.1 201.8h4.6v1.6h-4.6zM424.3 201.8h1.6v1.6h-1.6zM433.4 201.8h1.6v1.6h-1.6zM439.5 201.8h1.6v1.6h-1.6zM444.1 201.8h1.6v1.6h-1.6zM447.1 201.8h1.6v1.6h-1.6zM473.0 201.8h1.6v1.6h-1.6zM476.1 201.8h1.6v1.6h-1.6zM485.2 201.8h1.6v1.6h-1.6zM492.8 201.8h1.6v1.6h-1.6zM500.5 201.8h1.6v1.6h-1.6zM415.1 203.3h1.6v1.6h-1.6zM422.8 203.3h1.6v1.6h-1.6zM441.0 203.3h1.6v1.6h-1.6zM447.1 203.3h1.6v1.6h-1.6zM476.1 203.3h1.6v1.6h-1.6zM489.8 203.3h1.6v1.6h-1.6zM492.8 203.3h1.6v1.6h-1.6zM495.9 203.3h3.1v1.6h-3.1zM500.5 203.3h1.6v1.6h-1.6zM410.6 204.8h1.6v1.6h-1.6zM413.6 204.8h1.6v1.6h-1.6zM422.8 204.8h4.6v1.6h-4.6zM433.4 204.8h1.6v1.6h-1.6zM439.5 204.8h3.1v1.6h-3.1zM473.0 204.8h1.6v1.6h-1.6zM477.6 204.8h1.6v1.6h-1.6zM497.4 204.8h1.6v1.6h-1.6zM416.7 206.3h4.6v1.6h-4.6zM427.3 206.3h1.6v1.6h-1.6zM441.0 206.3h1.6v1.6h-1.6zM445.6 206.3h1.6v1.6h-1.6zM448.7 206.3h3.1v1.6h-3.1zM471.5 206.3h1.6v1.6h-1.6zM491.3 206.3h1.6v1.6h-1.6zM498.9 206.3h1.6v1.6h-1.6zM415.1 207.9h1.6v1.6h-1.6zM422.8 207.9h1.6v1.6h-1.6zM430.4 207.9h3.1v1.6h-3.1zM439.5 207.9h1.6v1.6h-1.6zM450.2 207.9h1.6v1.6h-1.6zM474.6 207.9h1.6v1.6h-1.6zM477.6 207.9h3.1v1.6h-3.1zM485.2 207.9h1.6v1.6h-1.6zM491.3 207.9h1.6v1.6h-1.6zM412.1 209.4h3.1v1.6h-3.1zM431.9 209.4h3.1v1.6h-3.1zM453.2 209.4h1.6v1.6h-1.6zM476.1 209.4h1.6v1.6h-1.6zM479.1 209.4h1.6v1.6h-1.6zM483.7 209.4h1.6v1.6h-1.6zM491.3 209.4h3.1v1.6h-3.1zM502.0 209.4h1.6v1.6h-1.6zM406.0 210.9h1.6v1.6h-1.6zM419.7 210.9h3.1v1.6h-3.1zM444.1 210.9h1.6v1.6h-1.6zM447.1 210.9h1.6v1.6h-1.6zM451.7 210.9h1.6v1.6h-1.6zM454.8 210.9h1.6v1.6h-1.6zM476.1 210.9h1.6v1.6h-1.6zM479.1 210.9h1.6v1.6h-1.6zM483.7 210.9h1.6v1.6h-1.6zM486.7 210.9h1.6v1.6h-1.6zM497.4 210.9h1.6v1.6h-1.6zM500.5 210.9h1.6v1.6h-1.6zM413.6 212.4h1.6v1.6h-1.6zM444.1 212.4h1.6v1.6h-1.6zM454.8 212.4h1.6v1.6h-1.6zM476.1 212.4h1.6v1.6h-1.6zM482.2 212.4h1.6v1.6h-1.6zM489.8 212.4h3.1v1.6h-3.1zM406.0 214.0h3.1v1.6h-3.1zM412.1 214.0h1.6v1.6h-1.6zM418.2 214.0h1.6v1.6h-1.6zM422.8 214.0h1.6v1.6h-1.6zM425.8 214.0h1.6v1.6h-1.6zM441.0 214.0h1.6v1.6h-1.6zM447.1 214.0h1.6v1.6h-1.6zM450.2 214.0h1.6v1.6h-1.6zM459.3 214.0h1.6v1.6h-1.6zM476.1 214.0h1.6v1.6h-1.6zM409.0 215.5h1.6v1.6h-1.6zM413.6 215.5h3.1v1.6h-3.1zM425.8 215.5h1.6v1.6h-1.6zM430.4 215.5h3.1v1.6h-3.1zM434.9 215.5h1.6v1.6h-1.6zM438.0 215.5h1.6v1.6h-1.6zM441.0 215.5h4.6v1.6h-4.6zM456.3 215.5h1.6v1.6h-1.6zM476.1 215.5h1.6v1.6h-1.6zM480.6 215.5h1.6v1.6h-1.6zM406.0 217.0h3.1v1.6h-3.1zM421.2 217.0h1.6v1.6h-1.6zM425.8 217.0h1.6v1.6h-1.6zM445.6 217.0h1.6v1.6h-1.6zM454.8 217.0h6.1v1.6h-6.1zM486.7 217.0h3.1v1.6h-3.1zM492.8 217.0h3.1v1.6h-3.1zM500.5 217.0h3.1v1.6h-3.1zM410.6 218.5h1.6v1.6h-1.6zM419.7 218.5h1.6v1.6h-1.6zM424.3 218.5h3.1v1.6h-3.1zM438.0 218.5h1.6v1.6h-1.6zM454.8 218.5h1.6v1.6h-1.6zM459.3 218.5h3.1v1.6h-3.1zM489.8 218.5h1.6v1.6h-1.6zM492.8 218.5h1.6v1.6h-1.6zM416.7 220.1h1.6v1.6h-1.6zM422.8 220.1h1.6v1.6h-1.6zM438.0 220.1h1.6v1.6h-1.6zM445.6 220.1h1.6v1.6h-1.6zM453.2 220.1h1.6v1.6h-1.6zM459.3 220.1h4.6v1.6h-4.6zM465.4 220.1h1.6v1.6h-1.6zM485.2 220.1h4.6v1.6h-4.6zM491.3 220.1h1.6v1.6h-1.6zM502.0 220.1h1.6v1.6h-1.6zM448.7 221.6h1.6v1.6h-1.6zM466.9 221.6h1.6v1.6h-1.6zM483.7 221.6h1.6v1.6h-1.6zM498.9 221.6h1.6v1.6h-1.6zM407.5 223.1h3.1v1.6h-3.1zM415.1 223.1h1.6v1.6h-1.6zM421.2 223.1h1.6v1.6h-1.6zM434.9 223.1h1.6v1.6h-1.6zM438.0 223.1h3.1v1.6h-3.1zM442.6 223.1h1.6v1.6h-1.6zM451.7 223.1h3.1v1.6h-3.1zM459.3 223.1h1.6v1.6h-1.6zM468.5 223.1h1.6v1.6h-1.6zM494.4 223.1h1.6v1.6h-1.6zM409.0 224.6h3.1v1.6h-3.1zM418.2 224.6h1.6v1.6h-1.6zM430.4 224.6h1.6v1.6h-1.6zM433.4 224.6h1.6v1.6h-1.6zM441.0 224.6h1.6v1.6h-1.6zM462.4 224.6h1.6v1.6h-1.6zM489.8 224.6h1.6v1.6h-1.6zM498.9 224.6h1.6v1.6h-1.6zM407.5 226.1h1.6v1.6h-1.6zM410.6 226.1h3.1v1.6h-3.1zM416.7 226.1h1.6v1.6h-1.6zM427.3 226.1h1.6v1.6h-1.6zM436.5 226.1h1.6v1.6h-1.6zM460.8 226.1h1.6v1.6h-1.6zM466.9 226.1h3.1v1.6h-3.1zM495.9 226.1h1.6v1.6h-1.6zM410.6 227.7h1.6v1.6h-1.6zM413.6 227.7h1.6v1.6h-1.6zM424.3 227.7h3.1v1.6h-3.1zM444.1 227.7h1.6v1.6h-1.6zM448.7 227.7h4.6v1.6h-4.6zM454.8 227.7h1.6v1.6h-1.6zM465.4 227.7h3.1v1.6h-3.1zM470.0 227.7h1.6v1.6h-1.6zM495.9 227.7h1.6v1.6h-1.6zM416.7 229.2h1.6v1.6h-1.6zM422.8 229.2h3.1v1.6h-3.1zM434.9 229.2h1.6v1.6h-1.6zM442.6 229.2h1.6v1.6h-1.6zM447.1 229.2h3.1v1.6h-3.1zM453.2 229.2h1.6v1.6h-1.6zM456.3 229.2h1.6v1.6h-1.6zM460.8 229.2h1.6v1.6h-1.6zM466.9 229.2h6.1v1.6h-6.1zM476.1 229.2h1.6v1.6h-1.6zM424.3 230.7h1.6v1.6h-1.6zM428.9 230.7h1.6v1.6h-1.6zM434.9 230.7h1.6v1.6h-1.6zM445.6 230.7h1.6v1.6h-1.6zM462.4 230.7h3.1v1.6h-3.1zM468.5 230.7h1.6v1.6h-1.6zM495.9 230.7h1.6v1.6h-1.6zM502.0 230.7h1.6v1.6h-1.6zM428.9 232.2h1.6v1.6h-1.6zM445.6 232.2h1.6v1.6h-1.6zM454.8 232.2h1.6v1.6h-1.6zM466.9 232.2h3.1v1.6h-3.1zM416.7 233.8h1.6v1.6h-1.6zM428.9 233.8h1.6v1.6h-1.6zM434.9 233.8h1.6v1.6h-1.6zM438.0 233.8h1.6v1.6h-1.6zM441.0 233.8h1.6v1.6h-1.6zM457.8 233.8h1.6v1.6h-1.6zM460.8 233.8h3.1v1.6h-3.1zM471.5 233.8h1.6v1.6h-1.6zM425.8 235.3h1.6v1.6h-1.6zM428.9 235.3h1.6v1.6h-1.6zM441.0 235.3h1.6v1.6h-1.6zM460.8 235.3h1.6v1.6h-1.6zM474.6 235.3h1.6v1.6h-1.6zM477.6 235.3h1.6v1.6h-1.6zM502.0 235.3h1.6v1.6h-1.6zM406.0 236.8h3.1v1.6h-3.1zM412.1 236.8h4.6v1.6h-4.6zM434.9 236.8h1.6v1.6h-1.6zM445.6 236.8h1.6v1.6h-1.6zM462.4 236.8h3.1v1.6h-3.1zM471.5 236.8h1.6v1.6h-1.6zM477.6 236.8h1.6v1.6h-1.6zM407.5 238.3h1.6v1.6h-1.6zM421.2 238.3h1.6v1.6h-1.6zM436.5 238.3h1.6v1.6h-1.6zM445.6 238.3h1.6v1.6h-1.6zM450.2 238.3h1.6v1.6h-1.6zM454.8 238.3h1.6v1.6h-1.6zM462.4 238.3h1.6v1.6h-1.6zM468.5 238.3h3.1v1.6h-3.1zM473.0 238.3h1.6v1.6h-1.6zM476.1 238.3h3.1v1.6h-3.1zM483.7 238.3h1.6v1.6h-1.6zM502.0 238.3h1.6v1.6h-1.6zM413.6 239.9h1.6v1.6h-1.6zM418.2 239.9h1.6v1.6h-1.6zM424.3 239.9h1.6v1.6h-1.6zM428.9 239.9h1.6v1.6h-1.6zM434.9 239.9h3.1v1.6h-3.1zM441.0 239.9h1.6v1.6h-1.6zM447.1 239.9h1.6v1.6h-1.6zM463.9 239.9h3.1v1.6h-3.1zM468.5 239.9h1.6v1.6h-1.6zM480.6 239.9h3.1v1.6h-3.1zM428.9 241.4h3.1v1.6h-3.1zM442.6 241.4h1.6v1.6h-1.6zM445.6 241.4h1.6v1.6h-1.6zM451.7 241.4h1.6v1.6h-1.6zM460.8 241.4h1.6v1.6h-1.6zM468.5 241.4h1.6v1.6h-1.6zM471.5 241.4h1.6v1.6h-1.6zM409.0 242.9h1.6v1.6h-1.6zM425.8 242.9h3.1v1.6h-3.1zM436.5 242.9h1.6v1.6h-1.6zM448.7 242.9h1.6v1.6h-1.6zM465.4 242.9h1.6v1.6h-1.6zM468.5 242.9h1.6v1.6h-1.6zM477.6 242.9h1.6v1.6h-1.6zM480.6 242.9h1.6v1.6h-1.6zM483.7 242.9h1.6v1.6h-1.6zM407.5 244.4h1.6v1.6h-1.6zM412.1 244.4h1.6v1.6h-1.6zM418.2 244.4h1.6v1.6h-1.6zM425.8 244.4h1.6v1.6h-1.6zM431.9 244.4h1.6v1.6h-1.6zM448.7 244.4h3.1v1.6h-3.1zM454.8 244.4h3.1v1.6h-3.1zM474.6 244.4h1.6v1.6h-1.6zM482.2 244.4h3.1v1.6h-3.1zM488.3 244.4h1.6v1.6h-1.6zM421.2 246.0h1.6v1.6h-1.6zM427.3 246.0h3.1v1.6h-3.1zM441.0 246.0h1.6v1.6h-1.6zM454.8 246.0h1.6v1.6h-1.6zM457.8 246.0h1.6v1.6h-1.6zM463.9 246.0h1.6v1.6h-1.6zM479.1 246.0h1.6v1.6h-1.6zM483.7 246.0h1.6v1.6h-1.6zM409.0 247.5h1.6v1.6h-1.6zM438.0 247.5h1.6v1.6h-1.6zM448.7 247.5h1.6v1.6h-1.6zM463.9 247.5h3.1v1.6h-3.1zM474.6 247.5h1.6v1.6h-1.6zM480.6 247.5h1.6v1.6h-1.6zM488.3 247.5h1.6v1.6h-1.6z"/>
<path fill="rgb(240,137,141)" d="M418.2 151.5h1.6v1.6h-1.6zM425.8 153.0h1.6v1.6h-1.6zM431.9 153.0h1.6v1.6h-1.6zM465.4 153.0h1.6v1.6h-1.6zM483.7 153.0h1.6v1.6h-1.6zM428.9 154.5h1.6v1.6h-1.6zM436.5 154.5h1.6v1.6h-1.6zM439.5 154.5h1.6v1.6h-1.6zM451.7 154.5h1.6v1.6h-1.6zM462.4 154.5h1.6v1.6h-1.6zM483.7 154.5h1.6v1.6h-1.6zM486.7 154.5h1.6v1.6h-1.6zM424.3 156.1h3.1v1.6h-3.1zM428.9 156.1h1.6v1.6h-1.6zM431.9 156.1h1.6v1.6h-1.6zM441.0 156.1h1.6v1.6h-1.6zM450.2 156.1h1.6v1.6h-1.6zM454.8 156.1h1.6v1.6h-1.6zM457.8 156.1h1.6v1.6h-1.6zM465.4 156.1h1.6v1.6h-1.6zM497.4 156.1h1.6v1.6h-1.6zM430.4 157.6h1.6v1.6h-1.6zM434.9 157.6h1.6v1.6h-1.6zM441.0 157.6h3.1v1.6h-3.1zM473.0 157.6h1.6v1.6h-1.6zM480.6 157.6h1.6v1.6h-1.6zM492.8 157.6h1.6v1.6h-1.6zM406.0 159.1h1.6v1.6h-1.6zM421.2 159.1h3.1v1.6h-3.1zM425.8 159.1h1.6v1.6h-1.6zM431.9 159.1h1.6v1.6h-1.6zM441.0 159.1h1.6v1.6h-1.6zM444.1 159.1h3.1v1.6h-3.1zM468.5 159.1h1.6v1.6h-1.6zM479.1 159.1h1.6v1.6h-1.6zM422.8 160.6h1.6v1.6h-1.6zM427.3 160.6h1.6v1.6h-1.6zM434.9 160.6h3.1v1.6h-3.1zM439.5 160.6h1.6v1.6h-1.6zM442.6 160.6h1.6v1.6h-1.6zM447.1 160.6h1.6v1.6h-1.6zM406.0 162.2h1.6v1.6h-1.6zM424.3 162.2h1.6v1.6h-1.6zM431.9 162.2h1.6v1.6h-1.6zM439.5 162.2h1.6v1.6h-1.6zM447.1 162.2h3.1v1.6h-3.1zM459.3 162.2h1.6v1.6h-1.6zM471.5 162.2h1.6v1.6h-1.6zM498.9 162.2h1.6v1.6h-1.6zM406.0 163.7h1.6v1.6h-1.6zM410.6 163.7h1.6v1.6h-1.6zM427.3 163.7h1.6v1.6h-1.6zM433.4 163.7h1.6v1.6h-1.6zM436.5 163.7h1.6v1.6h-1.6zM441.0 163.7h1.6v1.6h-1.6zM448.7 163.7h1.6v1.6h-1.6zM465.4 163.7h1.6v1.6h-1.6zM470.0 163.7h1.6v1.6h-1.6zM477.6 163.7h1.6v1.6h-1.6zM489.8 163.7h1.6v1.6h-1.6zM409.0 165.2h1.6v1.6h-1.6zM433.4 165.2h1.6v1.6h-1.6zM436.5 165.2h1.6v1.6h-1.6zM441.0 165.2h3.1v1.6h-3.1zM451.7 165.2h1.6v1.6h-1.6zM457.8 165.2h1.6v1.6h-1.6zM460.8 165.2h1.6v1.6h-1.6zM477.6 165.2h1.6v1.6h-1.6zM494.4 165.2h3.1v1.6h-3.1zM410.6 166.7h1.6v1.6h-1.6zM433.4 166.7h1.6v1.6h-1.6zM456.3 166.7h1.6v1.6h-1.6zM459.3 166.7h1.6v1.6h-1.6zM470.0 166.7h1.6v1.6h-1.6zM474.6 166.7h1.6v1.6h-1.6zM436.5 168.3h1.6v1.6h-1.6zM448.7 168.3h1.6v1.6h-1.6zM457.8 168.3h3.1v1.6h-3.1zM480.6 168.3h1.6v1.6h-1.6zM410.6 169.8h1.6v1.6h-1.6zM450.2 169.8h1.6v1.6h-1.6zM457.8 169.8h1.6v1.6h-1.6zM462.4 169.8h3.1v1.6h-3.1zM480.6 169.8h1.6v1.6h-1.6zM497.4 169.8h1.6v1.6h-1.6zM445.6 171.3h1.6v1.6h-1.6zM462.4 171.3h3.1v1.6h-3.1zM471.5 171.3h1.6v1.6h-1.6zM480.6 171.3h1.6v1.6h-1.6zM495.9 171.3h1.6v1.6h-1.6zM410.6 172.8h3.1v1.6h-3.1zM415.1 172.8h4.6v1.6h-4.6zM438.0 172.8h1.6v1.6h-1.6zM444.1 172.8h1.6v1.6h-1.6zM448.7 172.8h4.6v1.6h-4.6zM457.8 172.8h3.1v1.6h-3.1zM471.5 172.8h1.6v1.6h-1.6zM477.6 172.8h1.6v1.6h-1.6zM482.2 172.8h3.1v1.6h-3.1zM486.7 172.8h1.6v1.6h-1.6zM492.8 172.8h1.6v1.6h-1.6zM497.4 172.8h1.6v1.6h-1.6zM416.7 174.4h4.6v1.6h-4.6zM441.0 174.4h1.6v1.6h-1.6zM444.1 174.4h1.6v1.6h-1.6zM456.3 174.4h1.6v1.6h-1.6zM459.3 174.4h1.6v1.6h-1.6zM462.4 174.4h3.1v1.6h-3.1zM471.5 174.4h1.6v1.6h-1.6zM479.1 174.4h1.6v1.6h-1.6zM483.7 174.4h1.6v1.6h-1.6zM492.8 174.4h3.1v1.6h-3.1zM498.9 174.4h3.1v1.6h-3.1zM406.0 175.9h1.6v1.6h-1.6zM421.2 175.9h1.6v1.6h-1.6zM441.0 175.9h1.6v1.6h-1.6zM447.1 175.9h1.6v1.6h-1.6zM450.2 175.9h1.6v1.6h-1.6zM454.8 175.9h1.6v1.6h-1.6zM463.9 175.9h3.1v1.6h-3.1zM468.5 175.9h1.6v1.6h-1.6zM473.0 175.9h1.6v1.6h-1.6zM491.3 175.9h1.6v1.6h-1.6zM422.8 177.4h3.1v1.6h-3.1zM445.6 177.4h1.6v1.6h-1.6zM454.8 177.4h1.6v1.6h-1.6zM457.8 177.4h1.6v1.6h-1.6zM462.4 177.4h3.1v1.6h-3.1zM471.5 177.4h1.6v1.6h-1.6zM483.7 177.4h3.1v1.6h-3.1zM407.5 178.9h1.6v1.6h-1.6zM410.6 178.9h1.6v1.6h-1.6zM413.6 178.9h1.6v1.6h-1.6zM425.8 178.9h1.6v1.6h-1.6zM450.2 178.9h3.1v1.6h-3.1zM466.9 178.9h3.1v1.6h-3.1zM407.5 180.4h1.6v1.6h-1.6zM416.7 180.4h1.6v1.6h-1.6zM419.7 180.4h1.6v1.6h-1.6zM424.3 180.4h1.6v1.6h-1.6zM444.1 180.4h3.1v1.6h-3.1zM459.3 180.4h1.6v1.6h-1.6zM463.9 180.4h1.6v1.6h-1.6zM474.6 180.4h1.6v1.6h-1.6zM485.2 180.4h1.6v1.6h-1.6zM413.6 182.0h3.1v1.6h-3.1zM419.7 182.0h1.6v1.6h-1.6zM427.3 182.0h1.6v1.6h-1.6zM445.6 182.0h3.1v1.6h-3.1zM450.2 182.0h4.6v1.6h-4.6zM457.8 182.0h1.6v1.6h-1.6zM474.6 182.0h1.6v1.6h-1.6zM483.7 182.0h1.6v1.6h-1.6zM409.0 183.5h1.6v1.6h-1.6zM413.6 183.5h1.6v1.6h-1.6zM419.7 183.5h1.6v1.6h-1.6zM422.8 183.5h1.6v1.6h-1.6zM425.8 183.5h1.6v1.6h-1.6zM450.2 183.5h1.6v1.6h-1.6zM453.2 183.5h1.6v1.6h-1.6zM462.4 183.5h1.6v1.6h-1.6zM465.4 183.5h1.6v1.6h-1.6zM477.6 183.5h1.6v1.6h-1.6zM488.3 183.5h1.6v1.6h-1.6zM413.6 185.0h1.6v1.6h-1.6zM418.2 185.0h1.6v1.6h-1.6zM421.2 185.0h1.6v1.6h-1.6zM427.3 185.0h1.6v1.6h-1.6zM430.4 185.0h1.6v1.6h-1.6zM448.7 185.0h1.6v1.6h-1.6zM457.8 185.0h1.6v1.6h-1.6zM465.4 185.0h1.6v1.6h-1.6zM473.0 185.0h3.1v1.6h-3.1zM489.8 185.0h1.6v1.6h-1.6zM492.8 185.0h1.6v1.6h-1.6zM410.6 186.5h1.6v1.6h-1.6zM416.7 186.5h1.6v1.6h-1.6zM428.9 186.5h4.6v1.6h-4.6zM448.7 186.5h1.6v1.6h-1.6zM451.7 186.5h1.6v1.6h-1.6zM459.3 186.5h1.6v1.6h-1.6zM462.4 186.5h1.6v1.6h-1.6zM465.4 186.5h3.1v1.6h-3.1zM477.6 186.5h1.6v1.6h-1.6zM489.8 186.5h1.6v1.6h-1.6zM430.4 188.1h3.1v1.6h-3.1zM454.8 188.1h1.6v1.6h-1.6zM460.8 188.1h1.6v1.6h-1.6zM473.0 188.1h1.6v1.6h-1.6zM480.6 188.1h1.6v1.6h-1.6zM483.7 188.1h1.6v1.6h-1.6zM486.7 188.1h1.6v1.6h-1.6zM489.8 188.1h1.6v1.6h-1.6zM494.4 188.1h1.6v1.6h-1.6zM425.8 189.6h1.6v1.6h-1.6zM430.4 189.6h1.6v1.6h-1.6zM451.7 189.6h3.1v1.6h-3.1zM460.8 189.6h3.1v1.6h-3.1zM466.9 189.6h1.6v1.6h-1.6zM471.5 189.6h1.6v1.6h-1.6zM486.7 189.6h1.6v1.6h-1.6zM497.4 189.6h1.6v1.6h-1.6zM410.6 191.1h1.6v1.6h-1.6zM419.7 191.1h1.6v1.6h-1.6zM428.9 191.1h1.6v1.6h-1.6zM431.9 191.1h1.6v1.6h-1.6zM436.5 191.1h1.6v1.6h-1.6zM453.2 191.1h1.6v1.6h-1.6zM457.8 191.1h1.6v1.6h-1.6zM462.4 191.1h1.6v1.6h-1.6zM465.4 191.1h4.6v1.6h-4.6zM480.6 191.1h1.6v1.6h-1.6zM489.8 191.1h1.6v1.6h-1.6zM407.5 192.6h1.6v1.6h-1.6zM418.2 192.6h4.6v1.6h-4.6zM438.0 192.6h1.6v1.6h-1.6zM456.3 192.6h1.6v1.6h-1.6zM460.8 192.6h1.6v1.6h-1.6zM463.9 192.6h1.6v1.6h-1.6zM468.5 192.6h1.6v1.6h-1.6zM473.0 192.6h1.6v1.6h-1.6zM482.2 192.6h1.6v1.6h-1.6zM492.8 192.6h1.6v1.6h-1.6zM415.1 194.2h1.6v1.6h-1.6zM419.7 194.2h1.6v1.6h-1.6zM425.8 194.2h1.6v1.6h-1.6zM428.9 194.2h1.6v1.6h-1.6zM431.9 194.2h3.1v1.6h-3.1zM436.5 194.2h1.6v1.6h-1.6zM456.3 194.2h1.6v1.6h-1.6zM462.4 194.2h3.1v1.6h-3.1zM468.5 194.2h3.1v1.6h-3.1zM482.2 194.2h1.6v1.6h-1.6zM486.7 194.2h1.6v1.6h-1.6zM495.9 194.2h3.1v1.6h-3.1zM415.1 195.7h1.6v1.6h-1.6zM428.9 195.7h1.6v1.6h-1.6zM439.5 195.7h1.6v1.6h-1.6zM459.3 195.7h1.6v1.6h-1.6zM466.9 195.7h1.6v1.6h-1.6zM474.6 195.7h1.6v1.6h-1.6zM483.7 195.7h1.6v1.6h-1.6zM488.3 195.7h1.6v1.6h-1.6zM491.3 195.7h1.6v1.6h-1.6zM500.5 195.7h1.6v1.6h-1.6zM418.2 197.2h1.6v1.6h-1.6zM431.9 197.2h3.1v1.6h-3.1zM462.4 197.2h1.6v1.6h-1.6zM465.4 197.2h1.6v1.6h-1.6zM471.5 197.2h1.6v1.6h-1.6zM482.2 197.2h1.6v1.6h-1.6zM488.3 197.2h1.6v1.6h-1.6zM436.5 198.7h1.6v1.6h-1.6zM447.1 198.7h1.6v1.6h-1.6zM415.1 200.2h1.6v1.6h-1.6zM421.2 200.2h1.6v1.6h-1.6zM436.5 200.2h1.6v1.6h-1.6zM439.5 200.2h1.6v1.6h-1.6zM468.5 200.2h1.6v1.6h-1.6zM477.6 200.2h4.6v1.6h-4.6zM486.7 200.2h1.6v1.6h-1.6zM489.8 200.2h1.6v1.6h-1.6zM419.7 201.8h1.6v1.6h-1.6zM422.8 201.8h1.6v1.6h-1.6zM441.0 201.8h1.6v1.6h-1.6zM477.6 201.8h1.6v1.6h-1.6zM480.6 201.8h1.6v1.6h-1.6zM486.7 201.8h1.6v1.6h-1.6zM497.4 201.8h1.6v1.6h-1.6zM416.7 203.3h1.6v1.6h-1.6zM424.3 203.3h1.6v1.6h-1.6zM428.9 203.3h1.6v1.6h-1.6zM433.4 203.3h3.1v1.6h-3.1zM438.0 203.3h3.1v1.6h-3.1zM477.6 203.3h1.6v1.6h-1.6zM482.2 203.3h1.6v1.6h-1.6zM498.9 203.3h1.6v1.6h-1.6zM502.0 203.3h1.6v1.6h-1.6zM416.7 204.8h1.6v1.6h-1.6zM421.2 204.8h1.6v1.6h-1.6zM427.3 204.8h1.6v1.6h-1.6zM431.9 204.8h1.6v1.6h-1.6zM470.0 204.8h1.6v1.6h-1.6zM476.1 204.8h1.6v1.6h-1.6zM483.7 204.8h1.6v1.6h-1.6zM492.8 204.8h1.6v1.6h-1.6zM502.0 204.8h1.6v1.6h-1.6zM415.1 206.3h1.6v1.6h-1.6zM439.5 206.3h1.6v1.6h-1.6zM451.7 206.3h3.1v1.6h-3.1zM473.0 206.3h1.6v1.6h-1.6zM479.1 206.3h1.6v1.6h-1.6zM485.2 206.3h1.6v1.6h-1.6zM488.3 206.3h1.6v1.6h-1.6zM497.4 206.3h1.6v1.6h-1.6zM500.5 206.3h1.6v1.6h-1.6zM421.2 207.9h1.6v1.6h-1.6zM425.8 207.9h1.6v1.6h-1.6zM428.9 207.9h1.6v1.6h-1.6zM436.5 207.9h1.6v1.6h-1.6zM441.0 207.9h1.6v1.6h-1.6zM471.5 207.9h1.6v1.6h-1.6zM419.7 209.4h1.6v1.6h-1.6zM425.8 209.4h1.6v1.6h-1.6zM441.0 209.4h1.6v1.6h-1.6zM447.1 209.4h1.6v1.6h-1.6zM488.3 209.4h1.6v1.6h-1.6zM498.9 209.4h1.6v1.6h-1.6zM433.4 210.9h1.6v1.6h-1.6zM445.6 210.9h1.6v1.6h-1.6zM450.2 210.9h1.6v1.6h-1.6zM456.3 210.9h3.1v1.6h-3.1zM488.3 210.9h1.6v1.6h-1.6zM491.3 210.9h1.6v1.6h-1.6zM421.2 212.4h1.6v1.6h-1.6zM434.9 212.4h1.6v1.6h-1.6zM447.1 212.4h1.6v1.6h-1.6zM451.7 212.4h1.6v1.6h-1.6zM456.3 212.4h1.6v1.6h-1.6zM497.4 212.4h1.6v1.6h-1.6zM502.0 212.4h1.6v1.6h-1.6zM415.1 214.0h1.6v1.6h-1.6zM430.4 214.0h1.6v1.6h-1.6zM436.5 214.0h1.6v1.6h-1.6zM477.6 214.0h3.1v1.6h-3.1zM482.2 214.0h1.6v1.6h-1.6zM418.2 215.5h1.6v1.6h-1.6zM451.7 215.5h3.1v1.6h-3.1zM488.3 215.5h3.1v1.6h-3.1zM492.8 215.5h1.6v1.6h-1.6zM495.9 215.5h1.6v1.6h-1.6zM500.5 215.5h3.1v1.6h-3.1zM424.3 217.0h1.6v1.6h-1.6zM438.0 217.0h1.6v1.6h-1.6zM450.2 217.0h3.1v1.6h-3.1zM489.8 217.0h1.6v1.6h-1.6zM497.4 217.0h1.6v1.6h-1.6zM415.1 218.5h1.6v1.6h-1.6zM421.2 218.5h1.6v1.6h-1.6zM427.3 218.5h3.1v1.6h-3.1zM436.5 218.5h1.6v1.6h-1.6zM444.1 218.5h3.1v1.6h-3.1zM456.3 218.5h1.6v1.6h-1.6zM482.2 218.5h1.6v1.6h-1.6zM488.3 218.5h1.6v1.6h-1.6zM491.3 218.5h1.6v1.6h-1.6zM497.4 218.5h1.6v1.6h-1.6zM500.5 218.5h1.6v1.6h-1.6zM427.3 220.1h1.6v1.6h-1.6zM439.5 220.1h1.6v1.6h-1.6zM451.7 220.1h1.6v1.6h-1.6zM456.3 220.1h1.6v1.6h-1.6zM463.9 220.1h1.6v1.6h-1.6zM482.2 220.1h3.1v1.6h-3.1zM494.4 220.1h3.1v1.6h-3.1zM500.5 220.1h1.6v1.6h-1.6zM462.4 221.6h3.1v1.6h-3.1zM419.7 223.1h1.6v1.6h-1.6zM456.3 223.1h1.6v1.6h-1.6zM470.0 223.1h1.6v1.6h-1.6zM491.3 223.1h1.6v1.6h-1.6zM495.9 223.1h1.6v1.6h-1.6zM498.9 223.1h1.6v1.6h-1.6zM502.0 223.1h1.6v1.6h-1.6zM419.7 224.6h1.6v1.6h-1.6zM424.3 224.6h1.6v1.6h-1.6zM459.3 224.6h1.6v1.6h-1.6zM463.9 224.6h1.6v1.6h-1.6zM488.3 224.6h1.6v1.6h-1.6zM497.4 224.6h1.6v1.6h-1.6zM433.4 226.1h1.6v1.6h-1.6zM445.6 226.1h1.6v1.6h-1.6zM457.8 226.1h1.6v1.6h-1.6zM462.4 226.1h1.6v1.6h-1.6zM473.0 226.1h1.6v1.6h-1.6zM488.3 226.1h1.6v1.6h-1.6zM494.4 226.1h1.6v1.6h-1.6zM497.4 226.1h1.6v1.6h-1.6zM418.2 227.7h1.6v1.6h-1.6zM421.2 227.7h1.6v1.6h-1.6zM436.5 227.7h3.1v1.6h-3.1zM456.3 227.7h1.6v1.6h-1.6zM468.5 227.7h1.6v1.6h-1.6zM476.1 227.7h1.6v1.6h-1.6zM418.2 229.2h1.6v1.6h-1.6zM427.3 229.2h1.6v1.6h-1.6zM451.7 229.2h1.6v1.6h-1.6zM473.0 229.2h3.1v1.6h-3.1zM494.4 229.2h1.6v1.6h-1.6zM497.4 229.2h1.6v1.6h-1.6zM430.4 230.7h1.6v1.6h-1.6zM444.1 230.7h1.6v1.6h-1.6zM447.1 230.7h1.6v1.6h-1.6zM450.2 230.7h1.6v1.6h-1.6zM456.3 230.7h1.6v1.6h-1.6zM473.0 230.7h3.1v1.6h-3.1zM498.9 230.7h3.1v1.6h-3.1zM421.2 232.2h1.6v1.6h-1.6zM431.9 232.2h1.6v1.6h-1.6zM438.0 232.2h3.1v1.6h-3.1zM450.2 232.2h1.6v1.6h-1.6zM456.3 232.2h3.1v1.6h-3.1zM463.9 232.2h1.6v1.6h-1.6zM477.6 232.2h1.6v1.6h-1.6zM497.4 232.2h1.6v1.6h-1.6zM500.5 232.2h1.6v1.6h-1.6zM419.7 233.8h4.6v1.6h-4.6zM447.1 233.8h6.1v1.6h-6.1zM466.9 233.8h1.6v1.6h-1.6zM480.6 233.8h1.6v1.6h-1.6zM500.5 233.8h1.6v1.6h-1.6zM434.9 235.3h1.6v1.6h-1.6zM447.1 235.3h1.6v1.6h-1.6zM456.3 235.3h1.6v1.6h-1.6zM463.9 235.3h1.6v1.6h-1.6zM466.9 235.3h1.6v1.6h-1.6zM473.0 235.3h1.6v1.6h-1.6zM498.9 235.3h1.6v1.6h-1.6zM425.8 236.8h1.6v1.6h-1.6zM433.4 236.8h1.6v1.6h-1.6zM438.0 236.8h1.6v1.6h-1.6zM442.6 236.8h3.1v1.6h-3.1zM448.7 236.8h1.6v1.6h-1.6zM451.7 236.8h1.6v1.6h-1.6zM454.8 236.8h1.6v1.6h-1.6zM459.3 236.8h1.6v1.6h-1.6zM498.9 236.8h3.1v1.6h-3.1zM428.9 238.3h3.1v1.6h-3.1zM447.1 238.3h1.6v1.6h-1.6zM451.7 238.3h1.6v1.6h-1.6zM457.8 238.3h1.6v1.6h-1.6zM471.5 238.3h1.6v1.6h-1.6zM474.6 238.3h1.6v1.6h-1.6zM480.6 238.3h1.6v1.6h-1.6zM473.0 239.9h1.6v1.6h-1.6zM479.1 239.9h1.6v1.6h-1.6zM485.2 239.9h3.1v1.6h-3.1zM477.6 241.4h1.6v1.6h-1.6zM482.2 241.4h1.6v1.6h-1.6zM482.2 242.9h1.6v1.6h-1.6zM485.2 242.9h4.6v1.6h-4.6zM465.4 244.4h3.1v1.6h-3.1zM471.5 244.4h1.6v1.6h-1.6zM489.8 244.4h1.6v1.6h-1.6zM460.8 246.0h1.6v1.6h-1.6zM480.6 246.0h1.6v1.6h-1.6zM459.3 247.5h1.6v1.6h-1.6zM477.6 247.5h1.6v1.6h-1.6zM489.8 247.5h1.6v1.6h-1.6z"/>
<path fill="rgb(238,120,125)" d="M413.6 153.0h1.6v1.6h-1.6zM428.9 153.0h1.6v1.6h-1.6zM415.1 154.5h1.6v1.6h-1.6zM421.2 154.5h1.6v1.6h-1.6zM424.3 154.5h1.6v1.6h-1.6zM416.7 156.1h1.6v1.6h-1.6zM427.3 156.1h1.6v1.6h-1.6zM436.5 156.1h1.6v1.6h-1.6zM422.8 157.6h1.6v1.6h-1.6zM433.4 157.6h1.6v1.6h-1.6zM438.0 157.6h3.1v1.6h-3.1zM419.7 159.1h1.6v1.6h-1.6zM438.0 159.1h1.6v1.6h-1.6zM409.0 160.6h1.6v1.6h-1.6zM428.9 160.6h3.1v1.6h-3.1zM433.4 160.6h1.6v1.6h-1.6zM438.0 160.6h1.6v1.6h-1.6zM430.4 162.2h1.6v1.6h-1.6zM425.8 163.7h1.6v1.6h-1.6zM428.9 163.7h1.6v1.6h-1.6zM438.0 163.7h1.6v1.6h-1.6zM425.8 165.2h3.1v1.6h-3.1zM430.4 165.2h3.1v1.6h-3.1zM445.6 165.2h1.6v1.6h-1.6zM406.0 166.7h1.6v1.6h-1.6zM413.6 166.7h1.6v1.6h-1.6zM427.3 166.7h1.6v1.6h-1.6zM430.4 166.7h1.6v1.6h-1.6zM436.5 166.7h1.6v1.6h-1.6zM406.0 168.3h3.1v1.6h-3.1zM415.1 168.3h1.6v1.6h-1.6zM434.9 168.3h1.6v1.6h-1.6zM409.0 169.8h1.6v1.6h-1.6zM415.1 169.8h1.6v1.6h-1.6zM418.2 171.3h1.6v1.6h-1.6zM438.0 171.3h1.6v1.6h-1.6zM409.0 172.8h1.6v1.6h-1.6zM413.6 172.8h1.6v1.6h-1.6zM439.5 172.8h1.6v1.6h-1.6zM445.6 172.8h1.6v1.6h-1.6zM436.5 174.4h4.6v1.6h-4.6zM450.2 174.4h1.6v1.6h-1.6zM418.2 175.9h3.1v1.6h-3.1zM436.5 175.9h1.6v1.6h-1.6zM442.6 175.9h1.6v1.6h-1.6zM413.6 177.4h1.6v1.6h-1.6zM441.0 177.4h3.1v1.6h-3.1zM448.7 177.4h1.6v1.6h-1.6zM416.7 178.9h1.6v1.6h-1.6zM419.7 178.9h1.6v1.6h-1.6zM439.5 178.9h7.7v1.6h-7.7zM425.8 180.4h1.6v1.6h-1.6zM418.2 182.0h1.6v1.6h-1.6zM421.2 182.0h1.6v1.6h-1.6zM424.3 182.0h1.6v1.6h-1.6zM456.3 182.0h1.6v1.6h-1.6zM459.3 182.0h1.6v1.6h-1.6zM457.8 183.5h1.6v1.6h-1.6zM419.7 185.0h1.6v1.6h-1.6zM424.3 185.0h1.6v1.6h-1.6zM428.9 185.0h1.6v1.6h-1.6zM451.7 185.0h1.6v1.6h-1.6zM460.8 185.0h1.6v1.6h-1.6zM463.9 185.0h1.6v1.6h-1.6zM415.1 186.5h1.6v1.6h-1.6zM424.3 186.5h1.6v1.6h-1.6zM434.9 186.5h1.6v1.6h-1.6zM453.2 186.5h1.6v1.6h-1.6zM474.6 186.5h1.6v1.6h-1.6zM422.8 188.1h1.6v1.6h-1.6zM434.9 188.1h1.6v1.6h-1.6zM450.2 188.1h1.6v1.6h-1.6zM456.3 188.1h1.6v1.6h-1.6zM459.3 188.1h1.6v1.6h-1.6zM465.4 188.1h1.6v1.6h-1.6zM419.7 189.6h1.6v1.6h-1.6zM424.3 189.6h1.6v1.6h-1.6zM427.3 189.6h1.6v1.6h-1.6zM454.8 189.6h1.6v1.6h-1.6zM465.4 189.6h1.6v1.6h-1.6zM470.0 189.6h1.6v1.6h-1.6zM416.7 191.1h3.1v1.6h-3.1zM422.8 191.1h1.6v1.6h-1.6zM427.3 191.1h1.6v1.6h-1.6zM430.4 191.1h1.6v1.6h-1.6zM456.3 191.1h1.6v1.6h-1.6zM430.4 192.6h1.6v1.6h-1.6zM454.8 192.6h1.6v1.6h-1.6zM479.1 192.6h1.6v1.6h-1.6zM416.7 194.2h1.6v1.6h-1.6zM422.8 194.2h1.6v1.6h-1.6zM453.2 194.2h3.1v1.6h-3.1zM466.9 194.2h1.6v1.6h-1.6zM479.1 194.2h1.6v1.6h-1.6zM433.4 195.7h4.6v1.6h-4.6zM457.8 195.7h1.6v1.6h-1.6zM460.8 195.7h1.6v1.6h-1.6zM470.0 195.7h3.1v1.6h-3.1zM436.5 197.2h1.6v1.6h-1.6zM441.0 197.2h1.6v1.6h-1.6zM460.8 197.2h1.6v1.6h-1.6zM470.0 197.2h1.6v1.6h-1.6zM474.6 197.2h1.6v1.6h-1.6zM444.1 198.7h1.6v1.6h-1.6zM465.4 198.7h1.6v1.6h-1.6zM428.9 200.2h1.6v1.6h-1.6zM433.4 200.2h3.1v1.6h-3.1zM441.0 200.2h1.6v1.6h-1.6zM473.0 200.2h1.6v1.6h-1.6zM438.0 201.8h1.6v1.6h-1.6zM463.9 201.8h1.6v1.6h-1.6zM470.0 201.8h3.1v1.6h-3.1zM474.6 201.8h1.6v1.6h-1.6zM479.1 201.8h1.6v1.6h-1.6zM483.7 201.8h1.6v1.6h-1.6zM425.8 203.3h1.6v1.6h-1.6zM444.1 203.3h1.6v1.6h-1.6zM450.2 203.3h1.6v1.6h-1.6zM468.5 203.3h1.6v1.6h-1.6zM471.5 203.3h1.6v1.6h-1.6zM479.1 203.3h1.6v1.6h-1.6zM483.7 203.3h1.6v1.6h-1.6zM436.5 204.8h3.1v1.6h-3.1zM442.6 204.8h3.1v1.6h-3.1zM447.1 204.8h1.6v1.6h-1.6zM453.2 204.8h1.6v1.6h-1.6zM479.1 204.8h1.6v1.6h-1.6zM436.5 206.3h1.6v1.6h-1.6zM447.1 206.3h1.6v1.6h-1.6zM454.8 206.3h1.6v1.6h-1.6zM477.6 206.3h1.6v1.6h-1.6zM486.7 206.3h1.6v1.6h-1.6zM442.6 207.9h1.6v1.6h-1.6zM445.6 207.9h1.6v1.6h-1.6zM468.5 207.9h1.6v1.6h-1.6zM483.7 207.9h1.6v1.6h-1.6zM488.3 207.9h1.6v1.6h-1.6zM450.2 209.4h1.6v1.6h-1.6zM456.3 209.4h1.6v1.6h-1.6zM470.0 209.4h1.6v1.6h-1.6zM474.6 209.4h1.6v1.6h-1.6zM485.2 209.4h1.6v1.6h-1.6zM439.5 210.9h1.6v1.6h-1.6zM474.6 210.9h1.6v1.6h-1.6zM477.6 210.9h1.6v1.6h-1.6zM480.6 210.9h3.1v1.6h-3.1zM441.0 212.4h3.1v1.6h-3.1zM445.6 212.4h1.6v1.6h-1.6zM448.7 212.4h1.6v1.6h-1.6zM474.6 212.4h1.6v1.6h-1.6zM480.6 212.4h1.6v1.6h-1.6zM485.2 212.4h1.6v1.6h-1.6zM488.3 212.4h1.6v1.6h-1.6zM495.9 212.4h1.6v1.6h-1.6zM442.6 214.0h1.6v1.6h-1.6zM457.8 214.0h1.6v1.6h-1.6zM483.7 214.0h3.1v1.6h-3.1zM488.3 214.0h1.6v1.6h-1.6zM491.3 214.0h1.6v1.6h-1.6zM454.8 215.5h1.6v1.6h-1.6zM457.8 215.5h1.6v1.6h-1.6zM462.4 215.5h1.6v1.6h-1.6zM477.6 215.5h3.1v1.6h-3.1zM482.2 215.5h1.6v1.6h-1.6zM486.7 215.5h1.6v1.6h-1.6zM491.3 215.5h1.6v1.6h-1.6zM460.8 217.0h4.6v1.6h-4.6zM476.1 217.0h4.6v1.6h-4.6zM491.3 217.0h1.6v1.6h-1.6zM462.4 218.5h1.6v1.6h-1.6zM465.4 218.5h1.6v1.6h-1.6zM480.6 218.5h1.6v1.6h-1.6zM483.7 218.5h1.6v1.6h-1.6zM486.7 218.5h1.6v1.6h-1.6zM495.9 218.5h1.6v1.6h-1.6zM502.0 218.5h1.6v1.6h-1.6zM444.1 220.1h1.6v1.6h-1.6zM489.8 220.1h1.6v1.6h-1.6zM492.8 220.1h1.6v1.6h-1.6zM498.9 220.1h1.6v1.6h-1.6zM454.8 223.1h1.6v1.6h-1.6zM460.8 223.1h1.6v1.6h-1.6zM488.3 223.1h3.1v1.6h-3.1zM492.8 223.1h1.6v1.6h-1.6zM497.4 223.1h1.6v1.6h-1.6zM454.8 224.6h1.6v1.6h-1.6zM465.4 224.6h1.6v1.6h-1.6zM468.5 224.6h1.6v1.6h-1.6zM485.2 224.6h1.6v1.6h-1.6zM495.9 224.6h1.6v1.6h-1.6zM448.7 226.1h1.6v1.6h-1.6zM456.3 226.1h1.6v1.6h-1.6zM459.3 226.1h1.6v1.6h-1.6zM500.5 226.1h1.6v1.6h-1.6zM460.8 227.7h1.6v1.6h-1.6zM488.3 227.7h3.1v1.6h-3.1zM497.4 227.7h1.6v1.6h-1.6zM459.3 229.2h1.6v1.6h-1.6zM463.9 229.2h3.1v1.6h-3.1zM477.6 229.2h1.6v1.6h-1.6zM498.9 229.2h1.6v1.6h-1.6zM457.8 230.7h1.6v1.6h-1.6zM465.4 230.7h1.6v1.6h-1.6zM476.1 230.7h1.6v1.6h-1.6zM479.1 230.7h1.6v1.6h-1.6zM497.4 230.7h1.6v1.6h-1.6zM465.4 232.2h1.6v1.6h-1.6zM471.5 232.2h1.6v1.6h-1.6zM480.6 232.2h1.6v1.6h-1.6zM498.9 232.2h1.6v1.6h-1.6zM473.0 233.8h3.1v1.6h-3.1zM482.2 233.8h1.6v1.6h-1.6zM497.4 233.8h1.6v1.6h-1.6zM471.5 235.3h1.6v1.6h-1.6zM466.9 236.8h1.6v1.6h-1.6zM474.6 236.8h1.6v1.6h-1.6zM483.7 236.8h1.6v1.6h-1.6zM502.0 236.8h1.6v1.6h-1.6zM466.9 238.3h1.6v1.6h-1.6zM482.2 238.3h1.6v1.6h-1.6zM477.6 239.9h1.6v1.6h-1.6zM500.5 239.9h1.6v1.6h-1.6zM479.1 241.4h3.1v1.6h-3.1zM485.2 241.4h1.6v1.6h-1.6zM488.3 241.4h1.6v1.6h-1.6zM491.3 242.9h1.6v1.6h-1.6zM486.7 244.4h1.6v1.6h-1.6zM482.2 246.0h1.6v1.6h-1.6zM485.2 246.0h1.6v1.6h-1.6zM491.3 246.0h1.6v1.6h-1.6zM483.7 247.5h1.6v1.6h-1.6zM492.8 247.5h3.1v1.6h-3.1z"/>
<path fill="rgb(236,103,109)" d="M415.1 153.0h1.6v1.6h-1.6zM419.7 153.0h1.6v1.6h-1.6zM422.8 153.0h1.6v1.6h-1.6zM416.7 154.5h1.6v1.6h-1.6zM419.7 154.5h1.6v1.6h-1.6zM422.8 156.1h1.6v1.6h-1.6zM418.2 157.6h3.1v1.6h-3.1zM424.3 157.6h1.6v1.6h-1.6zM407.5 159.1h1.6v1.6h-1.6zM406.0 160.6h1.6v1.6h-1.6zM421.2 160.6h1.6v1.6h-1.6zM407.5 162.2h1.6v1.6h-1.6zM433.4 162.2h1.6v1.6h-1.6zM430.4 163.7h1.6v1.6h-1.6zM406.0 165.2h1.6v1.6h-1.6zM412.1 165.2h1.6v1.6h-1.6zM438.0 166.7h1.6v1.6h-1.6zM413.6 168.3h1.6v1.6h-1.6zM416.7 168.3h1.6v1.6h-1.6zM428.9 168.3h1.6v1.6h-1.6zM428.9 169.8h1.6v1.6h-1.6zM431.9 169.8h1.6v1.6h-1.6zM436.5 169.8h1.6v1.6h-1.6zM439.5 169.8h3.1v1.6h-3.1zM436.5 171.3h1.6v1.6h-1.6zM439.5 171.3h1.6v1.6h-1.6zM442.6 171.3h1.6v1.6h-1.6zM433.4 172.8h4.6v1.6h-4.6zM413.6 174.4h3.1v1.6h-3.1zM422.8 174.4h1.6v1.6h-1.6zM415.1 175.9h1.6v1.6h-1.6zM438.0 175.9h3.1v1.6h-3.1zM419.7 177.4h3.1v1.6h-3.1zM438.0 177.4h3.1v1.6h-3.1zM447.1 177.4h1.6v1.6h-1.6zM428.9 178.9h1.6v1.6h-1.6zM447.1 178.9h1.6v1.6h-1.6zM421.2 180.4h1.6v1.6h-1.6zM451.7 180.4h1.6v1.6h-1.6zM416.7 182.0h1.6v1.6h-1.6zM428.9 182.0h1.6v1.6h-1.6zM444.1 182.0h1.6v1.6h-1.6zM448.7 182.0h1.6v1.6h-1.6zM424.3 183.5h1.6v1.6h-1.6zM427.3 183.5h1.6v1.6h-1.6zM430.4 183.5h1.6v1.6h-1.6zM445.6 183.5h1.6v1.6h-1.6zM448.7 183.5h1.6v1.6h-1.6zM422.8 185.0h1.6v1.6h-1.6zM425.8 185.0h1.6v1.6h-1.6zM431.9 185.0h1.6v1.6h-1.6zM454.8 185.0h1.6v1.6h-1.6zM427.3 186.5h1.6v1.6h-1.6zM456.3 186.5h1.6v1.6h-1.6zM436.5 188.1h1.6v1.6h-1.6zM457.8 188.1h1.6v1.6h-1.6zM431.9 189.6h1.6v1.6h-1.6zM434.9 189.6h1.6v1.6h-1.6zM438.0 189.6h1.6v1.6h-1.6zM457.8 189.6h1.6v1.6h-1.6zM438.0 191.1h4.6v1.6h-4.6zM451.7 191.1h1.6v1.6h-1.6zM454.8 191.1h1.6v1.6h-1.6zM460.8 191.1h1.6v1.6h-1.6zM427.3 192.6h1.6v1.6h-1.6zM431.9 192.6h3.1v1.6h-3.1zM439.5 192.6h1.6v1.6h-1.6zM451.7 192.6h1.6v1.6h-1.6zM462.4 192.6h1.6v1.6h-1.6zM438.0 194.2h1.6v1.6h-1.6zM457.8 194.2h1.6v1.6h-1.6zM460.8 194.2h1.6v1.6h-1.6zM441.0 195.7h1.6v1.6h-1.6zM462.4 195.7h1.6v1.6h-1.6zM457.8 197.2h3.1v1.6h-3.1zM457.8 198.7h1.6v1.6h-1.6zM445.6 200.2h1.6v1.6h-1.6zM462.4 200.2h4.6v1.6h-4.6zM470.0 200.2h3.1v1.6h-3.1zM450.2 201.8h1.6v1.6h-1.6zM462.4 201.8h1.6v1.6h-1.6zM466.9 201.8h3.1v1.6h-3.1zM442.6 203.3h1.6v1.6h-1.6zM448.7 203.3h1.6v1.6h-1.6zM465.4 203.3h1.6v1.6h-1.6zM474.6 203.3h1.6v1.6h-1.6zM445.6 204.8h1.6v1.6h-1.6zM448.7 204.8h1.6v1.6h-1.6zM466.9 204.8h1.6v1.6h-1.6zM468.5 206.3h1.6v1.6h-1.6zM474.6 206.3h1.6v1.6h-1.6zM447.1 207.9h1.6v1.6h-1.6zM453.2 207.9h1.6v1.6h-1.6zM457.8 207.9h1.6v1.6h-1.6zM444.1 209.4h1.6v1.6h-1.6zM448.7 209.4h1.6v1.6h-1.6zM457.8 209.4h1.6v1.6h-1.6zM468.5 209.4h1.6v1.6h-1.6zM450.2 212.4h1.6v1.6h-1.6zM457.8 212.4h1.6v1.6h-1.6zM473.0 212.4h1.6v1.6h-1.6zM477.6 212.4h3.1v1.6h-3.1zM483.7 212.4h1.6v1.6h-1.6zM451.7 214.0h1.6v1.6h-1.6zM459.3 215.5h3.1v1.6h-3.1zM465.4 215.5h1.6v1.6h-1.6zM483.7 215.5h1.6v1.6h-1.6zM480.6 217.0h4.6v1.6h-4.6zM457.8 218.5h1.6v1.6h-1.6zM463.9 218.5h1.6v1.6h-1.6zM476.1 218.5h1.6v1.6h-1.6zM457.8 220.1h1.6v1.6h-1.6zM463.9 223.1h4.6v1.6h-4.6zM471.5 223.1h1.6v1.6h-1.6zM483.7 223.1h1.6v1.6h-1.6zM486.7 223.1h1.6v1.6h-1.6zM466.9 224.6h1.6v1.6h-1.6zM471.5 224.6h1.6v1.6h-1.6zM494.4 224.6h1.6v1.6h-1.6zM465.4 226.1h1.6v1.6h-1.6zM476.1 226.1h1.6v1.6h-1.6zM491.3 226.1h1.6v1.6h-1.6zM462.4 227.7h1.6v1.6h-1.6zM471.5 227.7h1.6v1.6h-1.6zM491.3 227.7h1.6v1.6h-1.6zM488.3 229.2h4.6v1.6h-4.6zM495.9 229.2h1.6v1.6h-1.6zM494.4 230.7h1.6v1.6h-1.6zM470.0 232.2h1.6v1.6h-1.6zM473.0 232.2h1.6v1.6h-1.6zM491.3 232.2h1.6v1.6h-1.6zM477.6 233.8h1.6v1.6h-1.6zM495.9 233.8h1.6v1.6h-1.6zM479.1 235.3h1.6v1.6h-1.6zM485.2 238.3h1.6v1.6h-1.6zM498.9 238.3h1.6v1.6h-1.6zM502.0 239.9h1.6v1.6h-1.6zM489.8 241.4h1.6v1.6h-1.6zM492.8 242.9h1.6v1.6h-1.6zM491.3 244.4h3.1v1.6h-3.1zM491.3 247.5h1.6v1.6h-1.6z"/>
<path fill="rgb(234,87,92)" d="M412.1 151.5h1.6v1.6h-1.6zM416.7 153.0h3.1v1.6h-3.1zM413.6 154.5h1.6v1.6h-1.6zM413.6 156.1h1.6v1.6h-1.6zM418.2 156.1h4.6v1.6h-4.6zM409.0 159.1h1.6v1.6h-1.6zM418.2 160.6h1.6v1.6h-1.6zM424.3 160.6h1.6v1.6h-1.6zM409.0 162.2h6.1v1.6h-6.1zM428.9 162.2h1.6v1.6h-1.6zM412.1 163.7h1.6v1.6h-1.6zM422.8 163.7h1.6v1.6h-1.6zM413.6 165.2h3.1v1.6h-3.1zM425.8 166.7h1.6v1.6h-1.6zM428.9 166.7h1.6v1.6h-1.6zM427.3 168.3h1.6v1.6h-1.6zM430.4 168.3h1.6v1.6h-1.6zM430.4 169.8h1.6v1.6h-1.6zM433.4 169.8h3.1v1.6h-3.1zM416.7 171.3h1.6v1.6h-1.6zM421.2 174.4h1.6v1.6h-1.6zM424.3 174.4h1.6v1.6h-1.6zM444.1 177.4h1.6v1.6h-1.6zM424.3 178.9h1.6v1.6h-1.6zM422.8 180.4h1.6v1.6h-1.6zM427.3 180.4h3.1v1.6h-3.1zM442.6 180.4h1.6v1.6h-1.6zM425.8 182.0h1.6v1.6h-1.6zM430.4 182.0h1.6v1.6h-1.6zM431.9 183.5h1.6v1.6h-1.6zM433.4 185.0h1.6v1.6h-1.6zM445.6 185.0h3.1v1.6h-3.1zM450.2 185.0h1.6v1.6h-1.6zM433.4 186.5h1.6v1.6h-1.6zM436.5 186.5h1.6v1.6h-1.6zM450.2 186.5h1.6v1.6h-1.6zM433.4 188.1h1.6v1.6h-1.6zM438.0 188.1h1.6v1.6h-1.6zM451.7 188.1h1.6v1.6h-1.6zM433.4 189.6h1.6v1.6h-1.6zM450.2 189.6h1.6v1.6h-1.6zM434.9 191.1h1.6v1.6h-1.6zM436.5 192.6h1.6v1.6h-1.6zM453.2 192.6h1.6v1.6h-1.6zM457.8 192.6h3.1v1.6h-3.1zM438.0 195.7h1.6v1.6h-1.6zM442.6 195.7h3.1v1.6h-3.1zM444.1 197.2h3.1v1.6h-3.1zM459.3 198.7h1.6v1.6h-1.6zM442.6 200.2h3.1v1.6h-3.1zM448.7 200.2h1.6v1.6h-1.6zM445.6 201.8h1.6v1.6h-1.6zM448.7 201.8h1.6v1.6h-1.6zM465.4 201.8h1.6v1.6h-1.6zM466.9 203.3h1.6v1.6h-1.6zM451.7 204.8h1.6v1.6h-1.6zM454.8 204.8h1.6v1.6h-1.6zM465.4 204.8h1.6v1.6h-1.6zM468.5 204.8h1.6v1.6h-1.6zM466.9 206.3h1.6v1.6h-1.6zM470.0 206.3h1.6v1.6h-1.6zM451.7 207.9h1.6v1.6h-1.6zM454.8 207.9h1.6v1.6h-1.6zM473.0 207.9h1.6v1.6h-1.6zM454.8 209.4h1.6v1.6h-1.6zM473.0 209.4h1.6v1.6h-1.6zM459.3 212.4h1.6v1.6h-1.6zM460.8 214.0h1.6v1.6h-1.6zM466.9 217.0h1.6v1.6h-1.6zM485.2 218.5h1.6v1.6h-1.6zM466.9 220.1h1.6v1.6h-1.6zM470.0 220.1h1.6v1.6h-1.6zM476.1 220.1h1.6v1.6h-1.6zM482.2 221.6h1.6v1.6h-1.6zM485.2 223.1h1.6v1.6h-1.6zM470.0 224.6h1.6v1.6h-1.6zM486.7 224.6h1.6v1.6h-1.6zM470.0 226.1h3.1v1.6h-3.1zM489.8 226.1h1.6v1.6h-1.6zM492.8 226.1h1.6v1.6h-1.6zM473.0 227.7h1.6v1.6h-1.6zM477.6 227.7h1.6v1.6h-1.6zM492.8 227.7h1.6v1.6h-1.6zM479.1 229.2h1.6v1.6h-1.6zM477.6 230.7h1.6v1.6h-1.6zM489.8 230.7h4.6v1.6h-4.6zM479.1 232.2h1.6v1.6h-1.6zM482.2 232.2h1.6v1.6h-1.6zM492.8 232.2h1.6v1.6h-1.6zM479.1 233.8h1.6v1.6h-1.6zM494.4 233.8h1.6v1.6h-1.6zM498.9 233.8h1.6v1.6h-1.6zM480.6 235.3h1.6v1.6h-1.6zM483.7 235.3h1.6v1.6h-1.6zM495.9 235.3h3.1v1.6h-3.1zM480.6 236.8h3.1v1.6h-3.1zM486.7 236.8h1.6v1.6h-1.6zM488.3 238.3h1.6v1.6h-1.6zM500.5 238.3h1.6v1.6h-1.6zM486.7 241.4h1.6v1.6h-1.6zM491.3 241.4h3.1v1.6h-3.1zM489.8 242.9h1.6v1.6h-1.6zM494.4 246.0h1.6v1.6h-1.6z"/>
<path fill="rgb(232,70,76)" d="M416.7 159.1h1.6v1.6h-1.6zM421.2 162.2h1.6v1.6h-1.6zM425.8 162.2h1.6v1.6h-1.6zM424.3 163.7h1.6v1.6h-1.6zM424.3 165.2h1.6v1.6h-1.6zM428.9 165.2h1.6v1.6h-1.6zM415.1 166.7h1.6v1.6h-1.6zM418.2 166.7h1.6v1.6h-1.6zM418.2 168.3h3.1v1.6h-3.1zM416.7 169.8h1.6v1.6h-1.6zM431.9 171.3h3.1v1.6h-3.1zM419.7 172.8h3.1v1.6h-3.1zM431.9 174.4h1.6v1.6h-1.6zM434.9 174.4h1.6v1.6h-1.6zM422.8 175.9h1.6v1.6h-1.6zM425.8 175.9h1.6v1.6h-1.6zM434.9 175.9h1.6v1.6h-1.6zM434.9 177.4h1.6v1.6h-1.6zM427.3 178.9h1.6v1.6h-1.6zM430.4 178.9h1.6v1.6h-1.6zM433.4 182.0h1.6v1.6h-1.6zM439.5 182.0h1.6v1.6h-1.6zM442.6 182.0h1.6v1.6h-1.6zM434.9 185.0h1.6v1.6h-1.6zM444.1 186.5h1.6v1.6h-1.6zM447.1 188.1h3.1v1.6h-3.1zM436.5 189.6h1.6v1.6h-1.6zM441.0 192.6h3.1v1.6h-3.1zM439.5 194.2h6.1v1.6h-6.1zM445.6 195.7h1.6v1.6h-1.6zM453.2 197.2h1.6v1.6h-1.6zM456.3 197.2h1.6v1.6h-1.6zM448.7 198.7h1.6v1.6h-1.6zM456.3 198.7h1.6v1.6h-1.6zM447.1 200.2h1.6v1.6h-1.6zM450.2 200.2h1.6v1.6h-1.6zM457.8 200.2h1.6v1.6h-1.6zM460.8 200.2h1.6v1.6h-1.6zM460.8 201.8h1.6v1.6h-1.6zM451.7 203.3h3.1v1.6h-3.1zM450.2 204.8h1.6v1.6h-1.6zM463.9 206.3h1.6v1.6h-1.6zM465.4 207.9h3.1v1.6h-3.1zM470.0 207.9h1.6v1.6h-1.6zM471.5 209.4h1.6v1.6h-1.6zM459.3 210.9h3.1v1.6h-3.1zM471.5 210.9h3.1v1.6h-3.1zM460.8 212.4h3.1v1.6h-3.1zM462.4 214.0h1.6v1.6h-1.6zM463.9 215.5h1.6v1.6h-1.6zM468.5 217.0h1.6v1.6h-1.6zM474.6 217.0h1.6v1.6h-1.6zM466.9 218.5h3.1v1.6h-3.1zM480.6 220.1h1.6v1.6h-1.6zM470.0 221.6h1.6v1.6h-1.6zM473.0 221.6h1.6v1.6h-1.6zM480.6 221.6h1.6v1.6h-1.6zM476.1 224.6h1.6v1.6h-1.6zM482.2 224.6h1.6v1.6h-1.6zM474.6 226.1h1.6v1.6h-1.6zM486.7 226.1h1.6v1.6h-1.6zM474.6 227.7h1.6v1.6h-1.6zM485.2 227.7h1.6v1.6h-1.6zM492.8 229.2h1.6v1.6h-1.6zM482.2 230.7h1.6v1.6h-1.6zM494.4 232.2h3.1v1.6h-3.1zM483.7 233.8h1.6v1.6h-1.6zM492.8 233.8h1.6v1.6h-1.6zM482.2 235.3h1.6v1.6h-1.6zM494.4 235.3h1.6v1.6h-1.6zM497.4 236.8h1.6v1.6h-1.6zM488.3 239.9h1.6v1.6h-1.6zM491.3 239.9h1.6v1.6h-1.6zM497.4 239.9h1.6v1.6h-1.6zM492.8 246.0h1.6v1.6h-1.6z"/>
<path fill="rgb(230,53,60)" d="M413.6 157.6h1.6v1.6h-1.6zM416.7 157.6h1.6v1.6h-1.6zM412.1 159.1h1.6v1.6h-1.6zM410.6 160.6h1.6v1.6h-1.6zM416.7 160.6h1.6v1.6h-1.6zM419.7 160.6h1.6v1.6h-1.6zM422.8 162.2h1.6v1.6h-1.6zM413.6 163.7h1.6v1.6h-1.6zM424.3 166.7h1.6v1.6h-1.6zM421.2 168.3h1.6v1.6h-1.6zM418.2 169.8h1.6v1.6h-1.6zM421.2 169.8h1.6v1.6h-1.6zM419.7 171.3h3.1v1.6h-3.1zM427.3 171.3h1.6v1.6h-1.6zM430.4 171.3h1.6v1.6h-1.6zM422.8 172.8h1.6v1.6h-1.6zM431.9 172.8h1.6v1.6h-1.6zM433.4 174.4h1.6v1.6h-1.6zM424.3 175.9h1.6v1.6h-1.6zM425.8 177.4h1.6v1.6h-1.6zM428.9 177.4h1.6v1.6h-1.6zM436.5 177.4h1.6v1.6h-1.6zM436.5 178.9h1.6v1.6h-1.6zM431.9 180.4h3.1v1.6h-3.1zM441.0 180.4h1.6v1.6h-1.6zM431.9 182.0h1.6v1.6h-1.6zM441.0 182.0h1.6v1.6h-1.6zM433.4 183.5h3.1v1.6h-3.1zM442.6 183.5h3.1v1.6h-3.1zM447.1 186.5h1.6v1.6h-1.6zM441.0 188.1h1.6v1.6h-1.6zM444.1 188.1h1.6v1.6h-1.6zM439.5 189.6h1.6v1.6h-1.6zM450.2 191.1h1.6v1.6h-1.6zM444.1 192.6h1.6v1.6h-1.6zM451.7 194.2h1.6v1.6h-1.6zM453.2 195.7h1.6v1.6h-1.6zM456.3 195.7h1.6v1.6h-1.6zM447.1 197.2h1.6v1.6h-1.6zM454.8 197.2h1.6v1.6h-1.6zM450.2 198.7h1.6v1.6h-1.6zM459.3 200.2h1.6v1.6h-1.6zM451.7 201.8h3.1v1.6h-3.1zM462.4 203.3h3.1v1.6h-3.1zM456.3 204.8h1.6v1.6h-1.6zM460.8 204.8h1.6v1.6h-1.6zM456.3 207.9h1.6v1.6h-1.6zM463.9 210.9h1.6v1.6h-1.6zM463.9 212.4h1.6v1.6h-1.6zM468.5 212.4h1.6v1.6h-1.6zM463.9 214.0h1.6v1.6h-1.6zM474.6 214.0h1.6v1.6h-1.6zM474.6 215.5h1.6v1.6h-1.6zM465.4 217.0h1.6v1.6h-1.6zM471.5 218.5h1.6v1.6h-1.6zM477.6 218.5h3.1v1.6h-3.1zM468.5 220.1h1.6v1.6h-1.6zM479.1 220.1h1.6v1.6h-1.6zM471.5 221.6h1.6v1.6h-1.6zM476.1 223.1h1.6v1.6h-1.6zM473.0 224.6h3.1v1.6h-3.1zM480.6 224.6h1.6v1.6h-1.6zM483.7 224.6h1.6v1.6h-1.6zM485.2 226.1h1.6v1.6h-1.6zM480.6 227.7h1.6v1.6h-1.6zM485.2 229.2h1.6v1.6h-1.6zM485.2 232.2h1.6v1.6h-1.6zM486.7 233.8h1.6v1.6h-1.6zM485.2 235.3h3.1v1.6h-3.1zM485.2 236.8h1.6v1.6h-1.6zM488.3 236.8h1.6v1.6h-1.6zM494.4 236.8h3.1v1.6h-3.1zM486.7 238.3h1.6v1.6h-1.6zM494.4 238.3h1.6v1.6h-1.6zM497.4 238.3h1.6v1.6h-1.6zM489.8 239.9h1.6v1.6h-1.6zM495.9 239.9h1.6v1.6h-1.6zM494.4 241.4h1.6v1.6h-1.6z"/>
<path fill="rgb(228,36,44)" d="M406.0 156.1h1.6v1.6h-1.6zM415.1 156.1h1.6v1.6h-1.6zM407.5 157.6h1.6v1.6h-1.6zM415.1 157.6h1.6v1.6h-1.6zM415.1 159.1h1.6v1.6h-1.6zM413.6 160.6h1.6v1.6h-1.6zM419.7 162.2h1.6v1.6h-1.6zM418.2 163.7h1.6v1.6h-1.6zM421.2 163.7h1.6v1.6h-1.6zM421.2 165.2h3.1v1.6h-3.1zM416.7 166.7h1.6v1.6h-1.6zM421.2 166.7h3.1v1.6h-3.1zM419.7 169.8h1.6v1.6h-1.6zM428.9 171.3h1.6v1.6h-1.6zM427.3 172.8h4.6v1.6h-4.6zM430.4 174.4h1.6v1.6h-1.6zM431.9 177.4h1.6v1.6h-1.6zM438.0 178.9h1.6v1.6h-1.6zM430.4 180.4h1.6v1.6h-1.6zM438.0 180.4h1.6v1.6h-1.6zM436.5 182.0h1.6v1.6h-1.6zM441.0 185.0h4.6v1.6h-4.6zM441.0 186.5h1.6v1.6h-1.6zM445.6 186.5h1.6v1.6h-1.6zM442.6 188.1h1.6v1.6h-1.6zM445.6 188.1h1.6v1.6h-1.6zM442.6 189.6h1.6v1.6h-1.6zM445.6 189.6h4.6v1.6h-4.6zM442.6 191.1h1.6v1.6h-1.6zM445.6 191.1h1.6v1.6h-1.6zM448.7 191.1h1.6v1.6h-1.6zM447.1 194.2h1.6v1.6h-1.6zM447.1 195.7h1.6v1.6h-1.6zM454.8 195.7h1.6v1.6h-1.6zM454.8 203.3h1.6v1.6h-1.6zM460.8 203.3h1.6v1.6h-1.6zM462.4 204.8h3.1v1.6h-3.1zM456.3 206.3h3.1v1.6h-3.1zM465.4 206.3h1.6v1.6h-1.6zM459.3 207.9h1.6v1.6h-1.6zM462.4 207.9h1.6v1.6h-1.6zM459.3 209.4h1.6v1.6h-1.6zM462.4 209.4h1.6v1.6h-1.6zM466.9 210.9h4.6v1.6h-4.6zM473.0 214.0h1.6v1.6h-1.6zM466.9 215.5h1.6v1.6h-1.6zM473.0 217.0h1.6v1.6h-1.6zM470.0 218.5h1.6v1.6h-1.6zM471.5 220.1h1.6v1.6h-1.6zM476.1 221.6h4.6v1.6h-4.6zM473.0 223.1h1.6v1.6h-1.6zM477.6 226.1h1.6v1.6h-1.6zM482.2 226.1h3.1v1.6h-3.1zM486.7 227.7h1.6v1.6h-1.6zM480.6 229.2h1.6v1.6h-1.6zM480.6 230.7h1.6v1.6h-1.6zM483.7 230.7h1.6v1.6h-1.6zM488.3 230.7h1.6v1.6h-1.6zM483.7 232.2h1.6v1.6h-1.6zM486.7 232.2h4.6v1.6h-4.6zM489.8 233.8h1.6v1.6h-1.6zM491.3 235.3h1.6v1.6h-1.6zM492.8 236.8h1.6v1.6h-1.6zM489.8 238.3h1.6v1.6h-1.6zM492.8 239.9h1.6v1.6h-1.6zM498.9 239.9h1.6v1.6h-1.6zM494.4 242.9h1.6v1.6h-1.6zM494.4 244.4h1.6v1.6h-1.6zM495.9 247.5h1.6v1.6h-1.6z"/>
<path fill="rgb(226,20,28)" d="M406.0 151.5h6.1v1.6h-6.1zM406.0 153.0h7.7v1.6h-7.7zM406.0 154.5h7.7v1.6h-7.7zM407.5 156.1h6.1v1.6h-6.1zM406.0 157.6h1.6v1.6h-1.6zM409.0 157.6h4.6v1.6h-4.6zM410.6 159.1h1.6v1.6h-1.6zM413.6 159.1h1.6v1.6h-1.6zM418.2 159.1h1.6v1.6h-1.6zM412.1 160.6h1.6v1.6h-1.6zM415.1 160.6h1.6v1.6h-1.6zM415.1 162.2h4.6v1.6h-4.6zM415.1 163.7h3.1v1.6h-3.1zM419.7 163.7h1.6v1.6h-1.6zM416.7 165.2h4.6v1.6h-4.6zM419.7 166.7h1.6v1.6h-1.6zM422.8 168.3h4.6v1.6h-4.6zM422.8 169.8h6.1v1.6h-6.1zM422.8 171.3h4.6v1.6h-4.6zM424.3 172.8h3.1v1.6h-3.1zM425.8 174.4h4.6v1.6h-4.6zM427.3 175.9h7.7v1.6h-7.7zM427.3 177.4h1.6v1.6h-1.6zM430.4 177.4h1.6v1.6h-1.6zM433.4 177.4h1.6v1.6h-1.6zM431.9 178.9h4.6v1.6h-4.6zM434.9 180.4h3.1v1.6h-3.1zM439.5 180.4h1.6v1.6h-1.6zM434.9 182.0h1.6v1.6h-1.6zM438.0 182.0h1.6v1.6h-1.6zM436.5 183.5h6.1v1.6h-6.1zM436.5 185.0h4.6v1.6h-4.6zM438.0 186.5h3.1v1.6h-3.1zM442.6 186.5h1.6v1.6h-1.6zM439.5 188.1h1.6v1.6h-1.6zM441.0 189.6h1.6v1.6h-1.6zM444.1 189.6h1.6v1.6h-1.6zM444.1 191.1h1.6v1.6h-1.6zM447.1 191.1h1.6v1.6h-1.6zM445.6 192.6h6.1v1.6h-6.1zM445.6 194.2h1.6v1.6h-1.6zM448.7 194.2h3.1v1.6h-3.1zM448.7 195.7h4.6v1.6h-4.6zM448.7 197.2h4.6v1.6h-4.6zM451.7 198.7h4.6v1.6h-4.6zM451.7 200.2h6.1v1.6h-6.1zM454.8 201.8h6.1v1.6h-6.1zM456.3 203.3h4.6v1.6h-4.6zM457.8 204.8h3.1v1.6h-3.1zM459.3 206.3h4.6v1.6h-4.6zM460.8 207.9h1.6v1.6h-1.6zM463.9 207.9h1.6v1.6h-1.6zM460.8 209.4h1.6v1.6h-1.6zM463.9 209.4h4.6v1.6h-4.6zM462.4 210.9h1.6v1.6h-1.6zM465.4 210.9h1.6v1.6h-1.6zM465.4 212.4h3.1v1.6h-3.1zM470.0 212.4h3.1v1.6h-3.1zM465.4 214.0h7.7v1.6h-7.7zM468.5 215.5h6.1v1.6h-6.1zM470.0 217.0h3.1v1.6h-3.1zM473.0 218.5h3.1v1.6h-3.1zM473.0 220.1h3.1v1.6h-3.1zM477.6 220.1h1.6v1.6h-1.6zM474.6 221.6h1.6v1.6h-1.6zM474.6 223.1h1.6v1.6h-1.6zM477.6 223.1h6.1v1.6h-6.1zM477.6 224.6h3.1v1.6h-3.1zM479.1 226.1h3.1v1.6h-3.1zM479.1 227.7h1.6v1.6h-1.6zM482.2 227.7h3.1v1.6h-3.1zM482.2 229.2h3.1v1.6h-3.1zM486.7 229.2h1.6v1.6h-1.6zM485.2 230.7h3.1v1.6h-3.1zM485.2 233.8h1.6v1.6h-1.6zM488.3 233.8h1.6v1.6h-1.6zM491.3 233.8h1.6v1.6h-1.6zM488.3 235.3h3.1v1.6h-3.1zM492.8 235.3h1.6v1.6h-1.6zM489.8 236.8h3.1v1.6h-3.1zM491.3 238.3h3.1v1.6h-3.1zM495.9 238.3h1.6v1.6h-1.6zM494.4 239.9h1.6v1.6h-1.6zM495.9 241.4h7.7v1.6h-7.7zM495.9 242.9h7.7v1.6h-7.7zM495.9 244.4h7.7v1.6h-7.7zM495.9 246.0h7.7v1.6h-7.7zM497.4 247.5h6.1v1.6h-6.1z"/>
</g>
<line x1="20.0" y1="154.5" x2="113.5" y2="248.0" stroke="#dc1a22" stroke-width="2.3" opacity="1"/>
<line x1="144.0" y1="154.0" x2="240.0" y2="250.0" stroke="#e0181e" stroke-width="2.4" opacity="1"/>
<rect x="143.5" y="153.5" width="4.9" height="4.9" fill="#e8202a" opacity="0.75"/>
<rect x="149.3" y="159.3" width="5.8" height="5.8" fill="#e8202a" opacity="0.52"/>
<rect x="158.1" y="168.1" width="4.9" height="4.9" fill="#e8202a" opacity="0.60"/>
<rect x="164.8" y="174.8" width="7.8" height="7.8" fill="#e8202a" opacity="0.45"/>
<rect x="175.5" y="185.5" width="4.8" height="4.8" fill="#e8202a" opacity="0.52"/>
<rect x="183.3" y="193.3" width="11.6" height="11.6" fill="#e8202a" opacity="0.42"/>
<rect x="187.2" y="197.2" width="4.8" height="4.8" fill="#e8202a" opacity="0.52"/>
<rect x="197.8" y="207.8" width="3.9" height="3.9" fill="#e8202a" opacity="0.60"/>
<rect x="203.6" y="213.6" width="5.8" height="5.8" fill="#e8202a" opacity="0.52"/>
<rect x="211.4" y="221.4" width="3.9" height="3.9" fill="#e8202a" opacity="0.68"/>
<rect x="217.2" y="227.2" width="5.8" height="5.8" fill="#e8202a" opacity="0.52"/>
<rect x="225.0" y="235.0" width="3.9" height="3.9" fill="#e8202a" opacity="0.60"/>
<rect x="230.8" y="240.8" width="3.9" height="3.9" fill="#e8202a" opacity="0.52"/>
<rect x="235.6" y="245.6" width="4.9" height="4.9" fill="#e8202a" opacity="0.60"/>
<line x1="277.5" y1="152.5" x2="374.0" y2="249.0" stroke="#e3191f" stroke-width="2.2" opacity="1"/>
<line x1="277.5" y1="152.5" x2="374.0" y2="249.0" stroke="#e3191f" stroke-width="6.5" opacity="0.25"/>
<line x1="406.5" y1="152.0" x2="503.0" y2="248.5" stroke="#e41a1c" stroke-width="8" opacity="0.35"/>
<circle cx="300.5" cy="153.9" r="1" fill="#4a2a2a" opacity="0.85"/>
<circle cx="278.9" cy="175.5" r="1" fill="#4a2a2a" opacity="0.85"/>
<circle cx="320.5" cy="169.6" r="1" fill="#4a2a2a" opacity="0.85"/>
<circle cx="356.4" cy="169.6" r="1" fill="#4a2a2a" opacity="0.85"/>
<circle cx="356.9" cy="176.5" r="1" fill="#4a2a2a" opacity="0.85"/>
<circle cx="359.4" cy="176.5" r="1" fill="#4a2a2a" opacity="0.85"/>
<circle cx="365.6" cy="176.5" r="1" fill="#4a2a2a" opacity="0.85"/>
<circle cx="294.6" cy="195.5" r="1" fill="#4a2a2a" opacity="0.85"/>
<circle cx="302.1" cy="195.5" r="1" fill="#4a2a2a" opacity="0.85"/>
<circle cx="338.1" cy="195.5" r="1" fill="#4a2a2a" opacity="0.85"/>
<circle cx="355.4" cy="195.5" r="1" fill="#4a2a2a" opacity="0.85"/>
<circle cx="357.3" cy="195.5" r="1" fill="#4a2a2a" opacity="0.85"/>
<circle cx="364.3" cy="195.5" r="1" fill="#4a2a2a" opacity="0.85"/>
<circle cx="320.5" cy="213.7" r="1" fill="#4a2a2a" opacity="0.85"/>
<circle cx="294.6" cy="231.4" r="1" fill="#4a2a2a" opacity="0.85"/>
<circle cx="302.1" cy="231.4" r="1" fill="#4a2a2a" opacity="0.85"/>
<circle cx="306.3" cy="233.4" r="1" fill="#4a2a2a" opacity="0.85"/>
<circle cx="311.3" cy="231.4" r="1" fill="#4a2a2a" opacity="0.85"/>
<circle cx="320.5" cy="231.4" r="1" fill="#4a2a2a" opacity="0.85"/>
<circle cx="300.5" cy="241.2" r="1" fill="#4a2a2a" opacity="0.85"/>
<circle cx="320.5" cy="239.3" r="1" fill="#4a2a2a" opacity="0.85"/>
<circle cx="320.5" cy="176.5" r="1" fill="#4a2a2a" opacity="0.85"/>
<circle cx="490.6" cy="166.3" r="1.4" fill="#3a2a2a" opacity="0.8"/>
<circle cx="419.4" cy="237.5" r="1.4" fill="#3a2a2a" opacity="0.8"/>
<circle cx="500.6" cy="246.1" r="1.4" fill="#3a2a2a" opacity="0.8"/>
<rect x="116.5" y="154.5" width="7.5" height="94.5" rx="1.8" fill="#9ccfcb" stroke="#5a9694" stroke-width="0.8"/>
<rect x="19.5" y="251.2" width="94.5" height="7.5" rx="1.8" fill="#9ccfcb" stroke="#5a9694" stroke-width="0.8"/>
<text transform="translate(118.3,201.7) rotate(90)" font-size="6" text-anchor="middle" fill="#333">15</text>
<text x="66.7" y="257.6" font-size="6" text-anchor="middle" fill="#333" >15</text>
<rect x="243" y="153.5" width="6.5" height="96" rx="3" fill="#dfe6ee" stroke="#3f6b98" stroke-width="0.8"/>
<rect x="143.5" y="251.5" width="97.5" height="6.8" rx="3" fill="#dfe6ee" stroke="#3f6b98" stroke-width="0.8"/>
<rect x="376" y="152.5" width="6.5" height="97" rx="3" fill="#dfe6ee" stroke="#3f6b98" stroke-width="0.8"/>
<rect x="277" y="251.5" width="97.5" height="6.8" rx="3" fill="#dfe6ee" stroke="#3f6b98" stroke-width="0.8"/>
<rect x="506" y="152.5" width="6.5" height="96.5" rx="3" fill="#dfe6ee" stroke="#3f6b98" stroke-width="0.8"/>
<rect x="406" y="251.5" width="97" height="6.8" rx="3" fill="#dfe6ee" stroke="#3f6b98" stroke-width="0.8"/>
<rect x="243.4" y="204" width="5.7" height="18" fill="#93d3a0"/>
<rect x="192.8" y="251.9" width="20.4" height="6" fill="#93d3a0"/>
<rect x="243.4" y="200" width="5.7" height="2" fill="#3a5a3a"/>
<line x1="192" y1="251.9" x2="192" y2="258" stroke="#3a5a3a" stroke-width="0.6"/>
<rect x="376.8" y="212" width="5" height="1.6" fill="#8fd19e"/>
<rect x="334.5" y="252" width="1.6" height="5.8" fill="#8fd19e"/>
<text transform="translate(377.3,201.0) rotate(90)" font-size="6" text-anchor="middle" fill="#333">15</text>
<text x="325.75" y="257.2" font-size="6" text-anchor="middle" fill="#333" >15</text>
<text transform="translate(507.3,200.75) rotate(90)" font-size="6" text-anchor="middle" fill="#333">15</text>
<text x="454.5" y="257.2" font-size="6" text-anchor="middle" fill="#333" >15</text>
<path d="M143.5 250.8 L192 251.6 M240.5 250.8 L213 251.6" fill="none" stroke="#2d4f73" stroke-width="0.6"/>
<path d="M240.8 153.5 L242.5 203 M240.8 250.5 L242.5 222" fill="none" stroke="#2d4f73" stroke-width="0.5"/>
<path d="M277 249.8 L334.5 251.6 M374.5 249.8 L336 251.6" fill="none" stroke="#2d4f73" stroke-width="0.6"/>
<path d="M374.8 152 L376.5 212 M374.8 249.5 L376.5 213.6" fill="none" stroke="#2d4f73" stroke-width="0.5"/>
<path d="M406 249.3 L454 251.6 M503.5 249.3 L456 251.6" fill="none" stroke="#2d4f73" stroke-width="0.6"/>
<path d="M503.8 151.5 L505.5 199 M503.8 249.0 L505.5 201" fill="none" stroke="#2d4f73" stroke-width="0.5"/>
<path d="M19.5 156.5 V153.5 H21.0 M114.0 156.5 V153.5 M19.5 246.0 V249.0 H21.5" fill="none" stroke="#222" stroke-width="0.6"/>
<path d="M143.5 156.0 V153.0 H145.0 M240.5 156.0 V153.0 M143.5 248.0 V251.0 H145.5" fill="none" stroke="#222" stroke-width="0.6"/>
<path d="M277 154.5 V151.5 H278.5 M374.5 154.5 V151.5 M277 247.0 V250.0 H279" fill="none" stroke="#222" stroke-width="0.6"/>
<path d="M406 154.0 V151.0 H407.5 M503.5 154.0 V151.0 M406 246.5 V249.5 H408" fill="none" stroke="#222" stroke-width="0.6"/>
<line x1="31.4" y1="304.2" x2="31.4" y2="437.3" stroke="#111" stroke-width="1"/>
<line x1="31.4" y1="437.3" x2="171.3" y2="437.3" stroke="#111" stroke-width="1"/>
<line x1="29.0" y1="431.0" x2="31.4" y2="431.0" stroke="#111" stroke-width="0.8"/>
<text x="27.4" y="434.1" font-size="8.6" text-anchor="end" fill="#222" >0</text>
<line x1="29.0" y1="395.7" x2="31.4" y2="395.7" stroke="#111" stroke-width="0.8"/>
<text x="27.4" y="398.8" font-size="8.6" text-anchor="end" fill="#222" >20</text>
<line x1="29.0" y1="360.5" x2="31.4" y2="360.5" stroke="#111" stroke-width="0.8"/>
<text x="27.4" y="363.6" font-size="8.6" text-anchor="end" fill="#222" >40</text>
<line x1="29.0" y1="325.2" x2="31.4" y2="325.2" stroke="#111" stroke-width="0.8"/>
<text x="27.4" y="328.3" font-size="8.6" text-anchor="end" fill="#222" >60</text>
<line x1="37.1" y1="437.3" x2="37.1" y2="439.90000000000003" stroke="#111" stroke-width="0.8"/>
<text x="35.7" y="448.8" font-size="8" text-anchor="middle" fill="#222" >-7</text>
<rect x="33.6" y="429.9" width="7" height="1.1" fill="#a8a8a8" stroke="#333" stroke-width="0.5"/>
<text x="37.1" y="428.6" font-size="4.6" text-anchor="middle" fill="#555" textLength="9.3" lengthAdjust="spacingAndGlyphs" >0.00</text>
<line x1="46.4" y1="437.3" x2="46.4" y2="439.90000000000003" stroke="#111" stroke-width="0.8"/>
<text x="45.0" y="448.8" font-size="8" text-anchor="middle" fill="#222" >-6</text>
<rect x="42.9" y="429.9" width="7" height="1.1" fill="#a8a8a8" stroke="#333" stroke-width="0.5"/>
<text x="46.4" y="428.6" font-size="4.6" text-anchor="middle" fill="#555" textLength="9.3" lengthAdjust="spacingAndGlyphs" >0.01</text>
<line x1="55.7" y1="437.3" x2="55.7" y2="439.90000000000003" stroke="#111" stroke-width="0.8"/>
<text x="54.3" y="448.8" font-size="8" text-anchor="middle" fill="#222" >-5</text>
<rect x="52.2" y="429.9" width="7" height="1.1" fill="#a8a8a8" stroke="#333" stroke-width="0.5"/>
<text x="55.7" y="428.6" font-size="4.6" text-anchor="middle" fill="#555" textLength="9.3" lengthAdjust="spacingAndGlyphs" >0.02</text>
<line x1="65.0" y1="437.3" x2="65.0" y2="439.90000000000003" stroke="#111" stroke-width="0.8"/>
<text x="63.6" y="448.8" font-size="8" text-anchor="middle" fill="#222" >-4</text>
<rect x="61.5" y="429.9" width="7" height="1.1" fill="#a8a8a8" stroke="#333" stroke-width="0.5"/>
<text x="65.0" y="428.6" font-size="4.6" text-anchor="middle" fill="#555" textLength="9.3" lengthAdjust="spacingAndGlyphs" >0.08</text>
<line x1="74.3" y1="437.3" x2="74.3" y2="439.90000000000003" stroke="#111" stroke-width="0.8"/>
<text x="72.9" y="448.8" font-size="8" text-anchor="middle" fill="#222" >-3</text>
<rect x="70.8" y="429.9" width="7" height="1.1" fill="#1e1e1e" stroke="#333" stroke-width="0.5"/>
<text x="74.3" y="428.6" font-size="4.6" text-anchor="middle" fill="#555" textLength="9.3" lengthAdjust="spacingAndGlyphs" >0.28</text>
<line x1="83.6" y1="437.3" x2="83.6" y2="439.90000000000003" stroke="#111" stroke-width="0.8"/>
<text x="82.2" y="448.8" font-size="8" text-anchor="middle" fill="#222" >-2</text>
<rect x="80.1" y="427.7" width="7" height="3.3" fill="#2b9a4a" stroke="#333" stroke-width="0.5"/>
<text x="83.6" y="426.2" font-size="6.2" text-anchor="middle" fill="#333" textLength="10" lengthAdjust="spacingAndGlyphs" >1.89</text>
<line x1="92.9" y1="437.3" x2="92.9" y2="439.90000000000003" stroke="#111" stroke-width="0.8"/>
<text x="91.5" y="448.8" font-size="8" text-anchor="middle" fill="#222" >-1</text>
<rect x="89.4" y="408.5" width="7" height="22.5" fill="#34b06c" stroke="#333" stroke-width="0.5"/>
<text x="92.9" y="407.0" font-size="6.2" text-anchor="middle" fill="#333" textLength="13" lengthAdjust="spacingAndGlyphs" >12.76</text>
<line x1="102.2" y1="437.3" x2="102.2" y2="439.90000000000003" stroke="#111" stroke-width="0.8"/>
<text x="102.2" y="448.8" font-size="8" text-anchor="middle" fill="#222" >0</text>
<rect x="98.7" y="307.3" width="7" height="123.7" fill="#27b4a4" stroke="#333" stroke-width="0.5"/>
<text x="102.2" y="305.8" font-size="6.2" text-anchor="middle" fill="#333" textLength="13" lengthAdjust="spacingAndGlyphs" >70.17</text>
<line x1="111.5" y1="437.3" x2="111.5" y2="439.90000000000003" stroke="#111" stroke-width="0.8"/>
<text x="111.5" y="448.8" font-size="8" text-anchor="middle" fill="#222" >1</text>
<rect x="108.0" y="408.9" width="7" height="22.1" fill="#25aee2" stroke="#333" stroke-width="0.5"/>
<text x="111.5" y="407.4" font-size="6.2" text-anchor="middle" fill="#333" textLength="13" lengthAdjust="spacingAndGlyphs" >12.51</text>
<line x1="120.8" y1="437.3" x2="120.8" y2="439.90000000000003" stroke="#111" stroke-width="0.8"/>
<text x="120.8" y="448.8" font-size="8" text-anchor="middle" fill="#222" >2</text>
<rect x="117.3" y="427.9" width="7" height="3.1" fill="#2c8fd0" stroke="#333" stroke-width="0.5"/>
<text x="120.8" y="426.4" font-size="6.2" text-anchor="middle" fill="#333" textLength="10" lengthAdjust="spacingAndGlyphs" >1.77</text>
<line x1="130.1" y1="437.3" x2="130.1" y2="439.90000000000003" stroke="#111" stroke-width="0.8"/>
<text x="130.1" y="448.8" font-size="8" text-anchor="middle" fill="#222" >3</text>
<rect x="126.6" y="429.9" width="7" height="1.1" fill="#1e1e1e" stroke="#333" stroke-width="0.5"/>
<text x="130.1" y="428.6" font-size="4.6" text-anchor="middle" fill="#555" textLength="9.3" lengthAdjust="spacingAndGlyphs" >0.39</text>
<line x1="139.4" y1="437.3" x2="139.4" y2="439.90000000000003" stroke="#111" stroke-width="0.8"/>
<text x="139.4" y="448.8" font-size="8" text-anchor="middle" fill="#222" >4</text>
<rect x="135.9" y="429.9" width="7" height="1.1" fill="#a8a8a8" stroke="#333" stroke-width="0.5"/>
<text x="139.4" y="428.6" font-size="4.6" text-anchor="middle" fill="#555" textLength="9.3" lengthAdjust="spacingAndGlyphs" >0.09</text>
<line x1="148.7" y1="437.3" x2="148.7" y2="439.90000000000003" stroke="#111" stroke-width="0.8"/>
<text x="148.7" y="448.8" font-size="8" text-anchor="middle" fill="#222" >5</text>
<rect x="145.2" y="429.9" width="7" height="1.1" fill="#a8a8a8" stroke="#333" stroke-width="0.5"/>
<text x="148.7" y="428.6" font-size="4.6" text-anchor="middle" fill="#555" textLength="9.3" lengthAdjust="spacingAndGlyphs" >0.03</text>
<line x1="158.0" y1="437.3" x2="158.0" y2="439.90000000000003" stroke="#111" stroke-width="0.8"/>
<text x="158.0" y="448.8" font-size="8" text-anchor="middle" fill="#222" >6</text>
<rect x="154.5" y="429.9" width="7" height="1.1" fill="#a8a8a8" stroke="#333" stroke-width="0.5"/>
<text x="158.0" y="428.6" font-size="4.6" text-anchor="middle" fill="#555" textLength="9.3" lengthAdjust="spacingAndGlyphs" >0.01</text>
<line x1="167.3" y1="437.3" x2="167.3" y2="439.90000000000003" stroke="#111" stroke-width="0.8"/>
<text x="167.3" y="448.8" font-size="8" text-anchor="middle" fill="#222" >7</text>
<rect x="163.8" y="429.9" width="7" height="1.1" fill="#a8a8a8" stroke="#333" stroke-width="0.5"/>
<text x="167.3" y="428.6" font-size="4.6" text-anchor="middle" fill="#555" textLength="9.3" lengthAdjust="spacingAndGlyphs" >0.00</text>
<text transform="translate(15,368.5) rotate(-90)" font-size="8.8" text-anchor="middle" fill="#222" textLength="131" lengthAdjust="spacingAndGlyphs">Genome switched sub-compartment [%]</text>
<line x1="286.5" y1="304.2" x2="286.5" y2="436.7" stroke="#111" stroke-width="1"/>
<line x1="286.5" y1="436.7" x2="426.3" y2="436.7" stroke="#111" stroke-width="1"/>
<line x1="284.1" y1="430.6" x2="286.5" y2="430.6" stroke="#111" stroke-width="0.8"/>
<text x="282.5" y="433.7" font-size="8.6" text-anchor="end" fill="#222" >0</text>
<line x1="284.1" y1="393.0" x2="286.5" y2="393.0" stroke="#111" stroke-width="0.8"/>
<text x="282.5" y="396.1" font-size="8.6" text-anchor="end" fill="#222" >20</text>
<line x1="284.1" y1="355.4" x2="286.5" y2="355.4" stroke="#111" stroke-width="0.8"/>
<text x="282.5" y="358.5" font-size="8.6" text-anchor="end" fill="#222" >40</text>
<line x1="284.1" y1="317.8" x2="286.5" y2="317.8" stroke="#111" stroke-width="0.8"/>
<text x="282.5" y="320.9" font-size="8.6" text-anchor="end" fill="#222" >60</text>
<line x1="291.9" y1="436.7" x2="291.9" y2="439.3" stroke="#111" stroke-width="0.8"/>
<text x="290.5" y="448.8" font-size="8" text-anchor="middle" fill="#222" >-7</text>
<rect x="288.4" y="429.5" width="7" height="1.1" fill="#a8a8a8" stroke="#333" stroke-width="0.5"/>
<text x="291.9" y="428.2" font-size="4.6" text-anchor="middle" fill="#555" textLength="9.3" lengthAdjust="spacingAndGlyphs" >0.00</text>
<line x1="301.2" y1="436.7" x2="301.2" y2="439.3" stroke="#111" stroke-width="0.8"/>
<text x="299.8" y="448.8" font-size="8" text-anchor="middle" fill="#222" >-6</text>
<rect x="297.7" y="429.5" width="7" height="1.1" fill="#a8a8a8" stroke="#333" stroke-width="0.5"/>
<text x="301.2" y="428.2" font-size="4.6" text-anchor="middle" fill="#555" textLength="9.3" lengthAdjust="spacingAndGlyphs" >0.01</text>
<line x1="310.5" y1="436.7" x2="310.5" y2="439.3" stroke="#111" stroke-width="0.8"/>
<text x="309.1" y="448.8" font-size="8" text-anchor="middle" fill="#222" >-5</text>
<rect x="307.0" y="429.5" width="7" height="1.1" fill="#a8a8a8" stroke="#333" stroke-width="0.5"/>
<text x="310.5" y="428.2" font-size="4.6" text-anchor="middle" fill="#555" textLength="9.3" lengthAdjust="spacingAndGlyphs" >0.04</text>
<line x1="319.8" y1="436.7" x2="319.8" y2="439.3" stroke="#111" stroke-width="0.8"/>
<text x="318.4" y="448.8" font-size="8" text-anchor="middle" fill="#222" >-4</text>
<rect x="316.3" y="429.5" width="7" height="1.1" fill="#a8a8a8" stroke="#333" stroke-width="0.5"/>
<text x="319.8" y="428.2" font-size="4.6" text-anchor="middle" fill="#555" textLength="9.3" lengthAdjust="spacingAndGlyphs" >0.09</text>
<line x1="329.1" y1="436.7" x2="329.1" y2="439.3" stroke="#111" stroke-width="0.8"/>
<text x="327.7" y="448.8" font-size="8" text-anchor="middle" fill="#222" >-3</text>
<rect x="325.6" y="429.5" width="7" height="1.1" fill="#1e1e1e" stroke="#333" stroke-width="0.5"/>
<text x="329.1" y="428.2" font-size="4.6" text-anchor="middle" fill="#555" textLength="9.3" lengthAdjust="spacingAndGlyphs" >0.38</text>
<line x1="338.4" y1="436.7" x2="338.4" y2="439.3" stroke="#111" stroke-width="0.8"/>
<text x="337.0" y="448.8" font-size="8" text-anchor="middle" fill="#222" >-2</text>
<rect x="334.9" y="427.5" width="7" height="3.1" fill="#2b9a4a" stroke="#333" stroke-width="0.5"/>
<text x="338.4" y="426.0" font-size="6.2" text-anchor="middle" fill="#333" textLength="10" lengthAdjust="spacingAndGlyphs" >1.67</text>
<line x1="347.7" y1="436.7" x2="347.7" y2="439.3" stroke="#111" stroke-width="0.8"/>
<text x="346.3" y="448.8" font-size="8" text-anchor="middle" fill="#222" >-1</text>
<rect x="344.2" y="405.9" width="7" height="24.7" fill="#34b06c" stroke="#333" stroke-width="0.5"/>
<text x="347.7" y="404.4" font-size="6.2" text-anchor="middle" fill="#333" textLength="13" lengthAdjust="spacingAndGlyphs" >13.15</text>
<line x1="357.0" y1="436.7" x2="357.0" y2="439.3" stroke="#111" stroke-width="0.8"/>
<text x="357.0" y="448.8" font-size="8" text-anchor="middle" fill="#222" >0</text>
<rect x="353.5" y="307.0" width="7" height="123.6" fill="#27b4a4" stroke="#333" stroke-width="0.5"/>
<text x="357.0" y="305.5" font-size="6.2" text-anchor="middle" fill="#333" textLength="13" lengthAdjust="spacingAndGlyphs" >65.77</text>
<line x1="366.3" y1="436.7" x2="366.3" y2="439.3" stroke="#111" stroke-width="0.8"/>
<text x="366.3" y="448.8" font-size="8" text-anchor="middle" fill="#222" >1</text>
<rect x="362.8" y="402.1" width="7" height="28.5" fill="#25aee2" stroke="#333" stroke-width="0.5"/>
<text x="366.3" y="400.6" font-size="6.2" text-anchor="middle" fill="#333" textLength="13" lengthAdjust="spacingAndGlyphs" >15.17</text>
<line x1="375.6" y1="436.7" x2="375.6" y2="439.3" stroke="#111" stroke-width="0.8"/>
<text x="375.6" y="448.8" font-size="8" text-anchor="middle" fill="#222" >2</text>
<rect x="372.1" y="424.9" width="7" height="5.7" fill="#2c8fd0" stroke="#333" stroke-width="0.5"/>
<text x="375.6" y="423.4" font-size="6.2" text-anchor="middle" fill="#333" textLength="10" lengthAdjust="spacingAndGlyphs" >3.01</text>
<line x1="384.9" y1="436.7" x2="384.9" y2="439.3" stroke="#111" stroke-width="0.8"/>
<text x="384.9" y="448.8" font-size="8" text-anchor="middle" fill="#222" >3</text>
<rect x="381.4" y="429.5" width="7" height="1.1" fill="#1e1e1e" stroke="#333" stroke-width="0.5"/>
<text x="384.9" y="428.2" font-size="4.6" text-anchor="middle" fill="#555" textLength="9.3" lengthAdjust="spacingAndGlyphs" >0.55</text>
<line x1="394.2" y1="436.7" x2="394.2" y2="439.3" stroke="#111" stroke-width="0.8"/>
<text x="394.2" y="448.8" font-size="8" text-anchor="middle" fill="#222" >4</text>
<rect x="390.7" y="429.5" width="7" height="1.1" fill="#a8a8a8" stroke="#333" stroke-width="0.5"/>
<text x="394.2" y="428.2" font-size="4.6" text-anchor="middle" fill="#555" textLength="9.3" lengthAdjust="spacingAndGlyphs" >0.14</text>
<line x1="403.5" y1="436.7" x2="403.5" y2="439.3" stroke="#111" stroke-width="0.8"/>
<text x="403.5" y="448.8" font-size="8" text-anchor="middle" fill="#222" >5</text>
<rect x="400.0" y="429.5" width="7" height="1.1" fill="#a8a8a8" stroke="#333" stroke-width="0.5"/>
<text x="403.5" y="428.2" font-size="4.6" text-anchor="middle" fill="#555" textLength="9.3" lengthAdjust="spacingAndGlyphs" >0.02</text>
<line x1="412.8" y1="436.7" x2="412.8" y2="439.3" stroke="#111" stroke-width="0.8"/>
<text x="412.8" y="448.8" font-size="8" text-anchor="middle" fill="#222" >6</text>
<rect x="409.3" y="429.5" width="7" height="1.1" fill="#a8a8a8" stroke="#333" stroke-width="0.5"/>
<text x="412.8" y="428.2" font-size="4.6" text-anchor="middle" fill="#555" textLength="9.3" lengthAdjust="spacingAndGlyphs" >0.00</text>
<line x1="422.1" y1="436.7" x2="422.1" y2="439.3" stroke="#111" stroke-width="0.8"/>
<text x="422.1" y="448.8" font-size="8" text-anchor="middle" fill="#222" >7</text>
<rect x="418.6" y="429.5" width="7" height="1.1" fill="#a8a8a8" stroke="#333" stroke-width="0.5"/>
<text x="422.1" y="428.2" font-size="4.6" text-anchor="middle" fill="#555" textLength="9.3" lengthAdjust="spacingAndGlyphs" >0.00</text>
<text transform="translate(270,368.5) rotate(-90)" font-size="8.8" text-anchor="middle" fill="#222" textLength="131" lengthAdjust="spacingAndGlyphs">Genome switched sub-compartment [%]</text>
<text x="4.5" y="291.3" font-size="12.5" text-anchor="start" fill="#000" font-weight="bold" >C</text>
<text x="260" y="291.3" font-size="12.5" text-anchor="start" fill="#000" font-weight="bold" >D</text>
<text x="53.7" y="296" font-size="10" text-anchor="start" fill="#111" textLength="100.4" lengthAdjust="spacingAndGlyphs" >Compartment switching</text>
<text x="158.5" y="296" font-size="10" text-anchor="start" fill="#c41e3a" font-style="italic" textLength="21.2" lengthAdjust="spacingAndGlyphs" >N1IC</text>
<text x="182.6" y="296" font-size="10" text-anchor="start" fill="#111" textLength="8.1" lengthAdjust="spacingAndGlyphs" >vs</text>
<text x="194.3" y="296" font-size="10" text-anchor="start" fill="#111" textLength="36.6" lengthAdjust="spacingAndGlyphs" >Controls</text>
<text x="308.2" y="296" font-size="10" text-anchor="start" fill="#111" textLength="97.5" lengthAdjust="spacingAndGlyphs" >Compartment switching</text>
<text x="408.7" y="296" font-size="10" text-anchor="start" fill="#2b5e8c" font-style="italic" textLength="20.7" lengthAdjust="spacingAndGlyphs" >N1IC</text>
<text x="432" y="296" font-size="10" text-anchor="start" fill="#2b5e8c" font-style="italic" textLength="16.1" lengthAdjust="spacingAndGlyphs" >Tcf7</text>
<text x="448.3" y="291.8" font-size="6" text-anchor="start" fill="#2b5e8c" font-style="italic" textLength="7.6" lengthAdjust="spacingAndGlyphs" >&#916;/&#916;</text>
<text x="457.5" y="296" font-size="10" text-anchor="start" fill="#111" textLength="7.5" lengthAdjust="spacingAndGlyphs" >vs</text>
<text x="468" y="296" font-size="10" text-anchor="start" fill="#c41e3a" font-style="italic" textLength="21.4" lengthAdjust="spacingAndGlyphs" >N1IC</text>
<line x1="189.7" y1="311.4" x2="189.7" y2="424" stroke="#111" stroke-width="1"/>
<line x1="189.7" y1="424" x2="256.6" y2="424" stroke="#111" stroke-width="1"/>
<line x1="187.29999999999998" y1="326.5" x2="189.7" y2="326.5" stroke="#111" stroke-width="0.8"/>
<text x="185.7" y="329.6" font-size="8.6" text-anchor="end" fill="#222" >10</text>
<line x1="187.29999999999998" y1="352" x2="189.7" y2="352" stroke="#111" stroke-width="0.8"/>
<text x="185.7" y="355.1" font-size="8.6" text-anchor="end" fill="#222" >5</text>
<line x1="187.29999999999998" y1="377.3" x2="189.7" y2="377.3" stroke="#111" stroke-width="0.8"/>
<text x="185.7" y="380.4" font-size="8.6" text-anchor="end" fill="#222" >0</text>
<line x1="187.29999999999998" y1="403.2" x2="189.7" y2="403.2" stroke="#111" stroke-width="0.8"/>
<text x="185.7" y="406.3" font-size="8.6" text-anchor="end" fill="#222" >&#8722;5</text>
<line x1="207.3" y1="424" x2="207.3" y2="426.6" stroke="#111" stroke-width="0.8"/>
<line x1="240.9" y1="424" x2="240.9" y2="426.6" stroke="#111" stroke-width="0.8"/>
<rect x="206.2" y="364.9" width="1.5" height="1.5" fill="#111"/>
<rect x="210.9" y="363.0" width="1.5" height="1.5" fill="#111"/>
<rect x="202.6" y="382.1" width="1.5" height="1.5" fill="#111"/>
<rect x="204.6" y="366.0" width="1.5" height="1.5" fill="#111"/>
<rect x="202.5" y="391.9" width="1.5" height="1.5" fill="#111"/>
<rect x="199.7" y="368.1" width="1.5" height="1.5" fill="#111"/>
<rect x="208.3" y="394.9" width="1.5" height="1.5" fill="#111"/>
<rect x="204.0" y="361.2" width="1.5" height="1.5" fill="#111"/>
<rect x="204.6" y="392.7" width="1.5" height="1.5" fill="#111"/>
<rect x="211.3" y="370.3" width="1.5" height="1.5" fill="#111"/>
<rect x="207.3" y="368.7" width="1.5" height="1.5" fill="#111"/>
<rect x="206.3" y="384.6" width="1.5" height="1.5" fill="#111"/>
<rect x="202.6" y="371.1" width="1.5" height="1.5" fill="#111"/>
<rect x="202.2" y="387.9" width="1.5" height="1.5" fill="#111"/>
<rect x="210.5" y="398.5" width="1.5" height="1.5" fill="#111"/>
<rect x="210.0" y="382.6" width="1.5" height="1.5" fill="#111"/>
<rect x="202.1" y="361.6" width="1.5" height="1.5" fill="#111"/>
<rect x="212.4" y="355.9" width="1.5" height="1.5" fill="#111"/>
<rect x="204.8" y="383.7" width="1.5" height="1.5" fill="#111"/>
<rect x="204.8" y="397.3" width="1.5" height="1.5" fill="#111"/>
<rect x="213.9" y="369.6" width="1.5" height="1.5" fill="#111"/>
<rect x="206.4" y="389.3" width="1.5" height="1.5" fill="#111"/>
<rect x="208.2" y="386.2" width="1.5" height="1.5" fill="#111"/>
<rect x="208.4" y="383.8" width="1.5" height="1.5" fill="#111"/>
<rect x="213.0" y="367.4" width="1.5" height="1.5" fill="#111"/>
<rect x="208.0" y="389.1" width="1.5" height="1.5" fill="#111"/>
<rect x="211.3" y="387.3" width="1.5" height="1.5" fill="#111"/>
<rect x="204.7" y="387.0" width="1.5" height="1.5" fill="#111"/>
<rect x="213.4" y="382.9" width="1.5" height="1.5" fill="#111"/>
<rect x="213.9" y="379.6" width="1.5" height="1.5" fill="#111"/>
<rect x="206.4" y="390.9" width="1.5" height="1.5" fill="#111"/>
<rect x="202.8" y="382.3" width="1.5" height="1.5" fill="#111"/>
<rect x="211.1" y="355.4" width="1.5" height="1.5" fill="#111"/>
<rect x="206.3" y="387.4" width="1.5" height="1.5" fill="#111"/>
<rect x="203.4" y="388.8" width="1.5" height="1.5" fill="#111"/>
<rect x="201.6" y="387.1" width="1.5" height="1.5" fill="#111"/>
<rect x="213.8" y="363.4" width="1.5" height="1.5" fill="#111"/>
<rect x="206.2" y="392.6" width="1.5" height="1.5" fill="#111"/>
<rect x="210.0" y="369.2" width="1.5" height="1.5" fill="#111"/>
<rect x="202.2" y="365.5" width="1.5" height="1.5" fill="#111"/>
<rect x="208.1" y="388.3" width="1.5" height="1.5" fill="#111"/>
<rect x="207.8" y="379.3" width="1.5" height="1.5" fill="#111"/>
<rect x="203.2" y="384.7" width="1.5" height="1.5" fill="#111"/>
<rect x="199.2" y="390.3" width="1.5" height="1.5" fill="#111"/>
<rect x="208.0" y="387.0" width="1.5" height="1.5" fill="#111"/>
<rect x="211.8" y="386.0" width="1.5" height="1.5" fill="#111"/>
<rect x="213.4" y="386.1" width="1.5" height="1.5" fill="#111"/>
<rect x="201.1" y="360.4" width="1.5" height="1.5" fill="#111"/>
<rect x="205.8" y="366.7" width="1.5" height="1.5" fill="#111"/>
<rect x="212.1" y="366.6" width="1.5" height="1.5" fill="#111"/>
<rect x="203.9" y="389.3" width="1.5" height="1.5" fill="#111"/>
<rect x="202.3" y="389.4" width="1.5" height="1.5" fill="#111"/>
<rect x="209.7" y="367.2" width="1.5" height="1.5" fill="#111"/>
<rect x="199.7" y="389.4" width="1.5" height="1.5" fill="#111"/>
<rect x="210.9" y="390.5" width="1.5" height="1.5" fill="#111"/>
<rect x="206.0" y="363.2" width="1.5" height="1.5" fill="#111"/>
<rect x="209.7" y="366.4" width="1.5" height="1.5" fill="#111"/>
<rect x="209.5" y="364.7" width="1.5" height="1.5" fill="#111"/>
<rect x="203.7" y="389.6" width="1.5" height="1.5" fill="#111"/>
<rect x="203.5" y="355.8" width="1.5" height="1.5" fill="#111"/>
<rect x="200.5" y="378.1" width="1.5" height="1.5" fill="#111"/>
<rect x="206.7" y="383.7" width="1.5" height="1.5" fill="#111"/>
<rect x="209.5" y="389.2" width="1.5" height="1.5" fill="#111"/>
<rect x="207.5" y="385.6" width="1.5" height="1.5" fill="#111"/>
<rect x="204.4" y="369.0" width="1.5" height="1.5" fill="#111"/>
<rect x="213.9" y="377.4" width="1.5" height="1.5" fill="#111"/>
<rect x="211.3" y="367.1" width="1.5" height="1.5" fill="#111"/>
<rect x="205.8" y="386.9" width="1.5" height="1.5" fill="#111"/>
<rect x="205.7" y="391.2" width="1.5" height="1.5" fill="#111"/>
<rect x="204.9" y="386.9" width="1.5" height="1.5" fill="#111"/>
<rect x="205.6" y="386.4" width="1.5" height="1.5" fill="#111"/>
<rect x="209.6" y="367.0" width="1.5" height="1.5" fill="#111"/>
<rect x="202.6" y="385.6" width="1.5" height="1.5" fill="#111"/>
<rect x="206.4" y="382.4" width="1.5" height="1.5" fill="#111"/>
<rect x="206.2" y="387.7" width="1.5" height="1.5" fill="#111"/>
<rect x="209.8" y="385.9" width="1.5" height="1.5" fill="#111"/>
<rect x="210.4" y="355.8" width="1.5" height="1.5" fill="#111"/>
<rect x="211.9" y="381.4" width="1.5" height="1.5" fill="#111"/>
<rect x="212.8" y="385.2" width="1.5" height="1.5" fill="#111"/>
<rect x="208.3" y="383.9" width="1.5" height="1.5" fill="#111"/>
<rect x="199.1" y="396.5" width="1.5" height="1.5" fill="#111"/>
<rect x="203.7" y="383.9" width="1.5" height="1.5" fill="#111"/>
<rect x="200.2" y="389.0" width="1.5" height="1.5" fill="#111"/>
<rect x="213.2" y="389.8" width="1.5" height="1.5" fill="#111"/>
<rect x="213.4" y="384.6" width="1.5" height="1.5" fill="#111"/>
<rect x="202.1" y="386.6" width="1.5" height="1.5" fill="#111"/>
<rect x="203.0" y="382.9" width="1.5" height="1.5" fill="#111"/>
<rect x="203.9" y="392.3" width="1.5" height="1.5" fill="#111"/>
<rect x="209.3" y="367.1" width="1.5" height="1.5" fill="#111"/>
<rect x="208.0" y="365.1" width="1.5" height="1.5" fill="#111"/>
<rect x="206.1" y="361.9" width="1.5" height="1.5" fill="#111"/>
<rect x="208.3" y="392.0" width="1.5" height="1.5" fill="#111"/>
<rect x="203.1" y="367.4" width="1.5" height="1.5" fill="#111"/>
<rect x="213.5" y="368.4" width="1.5" height="1.5" fill="#111"/>
<rect x="209.6" y="368.4" width="1.5" height="1.5" fill="#111"/>
<rect x="206.6" y="360.8" width="1.5" height="1.5" fill="#111"/>
<rect x="202.7" y="363.2" width="1.5" height="1.5" fill="#111"/>
<rect x="207.2" y="363.8" width="1.5" height="1.5" fill="#111"/>
<rect x="212.5" y="365.3" width="1.5" height="1.5" fill="#111"/>
<rect x="201.1" y="389.8" width="1.5" height="1.5" fill="#111"/>
<rect x="199.8" y="388.1" width="1.5" height="1.5" fill="#111"/>
<rect x="205.1" y="363.5" width="1.5" height="1.5" fill="#111"/>
<rect x="211.7" y="387.2" width="1.5" height="1.5" fill="#111"/>
<rect x="212.3" y="364.9" width="1.5" height="1.5" fill="#111"/>
<rect x="212.5" y="365.4" width="1.5" height="1.5" fill="#111"/>
<rect x="210.4" y="385.5" width="1.5" height="1.5" fill="#111"/>
<rect x="208.1" y="370.5" width="1.5" height="1.5" fill="#111"/>
<rect x="206.1" y="388.6" width="1.5" height="1.5" fill="#111"/>
<rect x="204.3" y="384.8" width="1.5" height="1.5" fill="#111"/>
<rect x="208.5" y="367.9" width="1.5" height="1.5" fill="#111"/>
<rect x="206.7" y="356.3" width="1.5" height="1.5" fill="#111"/>
<rect x="201.9" y="386.8" width="1.5" height="1.5" fill="#111"/>
<rect x="206.5" y="366.9" width="1.5" height="1.5" fill="#111"/>
<rect x="208.8" y="386.6" width="1.5" height="1.5" fill="#111"/>
<rect x="207.1" y="370.8" width="1.5" height="1.5" fill="#111"/>
<rect x="209.4" y="391.2" width="1.5" height="1.5" fill="#111"/>
<rect x="211.5" y="384.9" width="1.5" height="1.5" fill="#111"/>
<rect x="199.7" y="366.1" width="1.5" height="1.5" fill="#111"/>
<rect x="201.7" y="381.4" width="1.5" height="1.5" fill="#111"/>
<rect x="206.5" y="385.3" width="1.5" height="1.5" fill="#111"/>
<rect x="212.6" y="368.9" width="1.5" height="1.5" fill="#111"/>
<rect x="202.3" y="381.1" width="1.5" height="1.5" fill="#111"/>
<rect x="212.7" y="389.8" width="1.5" height="1.5" fill="#111"/>
<rect x="204.9" y="393.5" width="1.5" height="1.5" fill="#111"/>
<rect x="199.2" y="364.1" width="1.5" height="1.5" fill="#111"/>
<rect x="208.3" y="383.8" width="1.5" height="1.5" fill="#111"/>
<rect x="201.5" y="386.4" width="1.5" height="1.5" fill="#111"/>
<rect x="207.1" y="345.6" width="1.5" height="1.5" fill="#111"/>
<rect x="207.4" y="359.9" width="1.5" height="1.5" fill="#111"/>
<rect x="210.1" y="398.2" width="1.5" height="1.5" fill="#111"/>
<rect x="205.1" y="352.6" width="1.5" height="1.5" fill="#111"/>
<rect x="207.1" y="367.0" width="1.5" height="1.5" fill="#111"/>
<rect x="199.5" y="385.0" width="1.5" height="1.5" fill="#111"/>
<rect x="207.8" y="387.7" width="1.5" height="1.5" fill="#111"/>
<rect x="200.7" y="365.4" width="1.5" height="1.5" fill="#111"/>
<rect x="206.9" y="350.7" width="1.5" height="1.5" fill="#111"/>
<rect x="202.7" y="351.2" width="1.5" height="1.5" fill="#111"/>
<rect x="208.7" y="386.1" width="1.5" height="1.5" fill="#111"/>
<rect x="202.8" y="386.3" width="1.5" height="1.5" fill="#111"/>
<rect x="204.7" y="381.2" width="1.5" height="1.5" fill="#111"/>
<rect x="205.9" y="385.8" width="1.5" height="1.5" fill="#111"/>
<rect x="211.4" y="369.3" width="1.5" height="1.5" fill="#111"/>
<rect x="210.0" y="388.1" width="1.5" height="1.5" fill="#111"/>
<rect x="204.7" y="391.4" width="1.5" height="1.5" fill="#111"/>
<rect x="207.8" y="391.4" width="1.5" height="1.5" fill="#111"/>
<rect x="214.0" y="386.4" width="1.5" height="1.5" fill="#111"/>
<rect x="211.2" y="366.8" width="1.5" height="1.5" fill="#111"/>
<rect x="199.9" y="391.9" width="1.5" height="1.5" fill="#111"/>
<rect x="206.0" y="388.2" width="1.5" height="1.5" fill="#111"/>
<rect x="208.5" y="382.6" width="1.5" height="1.5" fill="#111"/>
<rect x="210.3" y="383.8" width="1.5" height="1.5" fill="#111"/>
<rect x="202.8" y="379.7" width="1.5" height="1.5" fill="#111"/>
<rect x="202.0" y="388.4" width="1.5" height="1.5" fill="#111"/>
<rect x="212.4" y="378.5" width="1.5" height="1.5" fill="#111"/>
<rect x="201.2" y="365.0" width="1.5" height="1.5" fill="#111"/>
<rect x="203.0" y="390.9" width="1.5" height="1.5" fill="#111"/>
<rect x="202.2" y="385.6" width="1.5" height="1.5" fill="#111"/>
<rect x="209.7" y="388.6" width="1.5" height="1.5" fill="#111"/>
<rect x="208.8" y="365.4" width="1.5" height="1.5" fill="#111"/>
<rect x="201.9" y="383.3" width="1.5" height="1.5" fill="#111"/>
<rect x="205.3" y="369.9" width="1.5" height="1.5" fill="#111"/>
<rect x="212.3" y="367.6" width="1.5" height="1.5" fill="#111"/>
<rect x="208.0" y="391.8" width="1.5" height="1.5" fill="#111"/>
<rect x="206.6" y="387.0" width="1.5" height="1.5" fill="#111"/>
<rect x="208.6" y="392.8" width="1.5" height="1.5" fill="#111"/>
<rect x="204.2" y="389.8" width="1.5" height="1.5" fill="#111"/>
<rect x="206.8" y="383.7" width="1.5" height="1.5" fill="#111"/>
<rect x="210.9" y="364.2" width="1.5" height="1.5" fill="#111"/>
<rect x="202.4" y="364.5" width="1.5" height="1.5" fill="#111"/>
<rect x="207.8" y="383.2" width="1.5" height="1.5" fill="#111"/>
<rect x="211.0" y="364.8" width="1.5" height="1.5" fill="#111"/>
<rect x="204.0" y="386.4" width="1.5" height="1.5" fill="#111"/>
<rect x="201.3" y="367.8" width="1.5" height="1.5" fill="#111"/>
<rect x="211.8" y="386.9" width="1.5" height="1.5" fill="#111"/>
<rect x="200.8" y="368.6" width="1.5" height="1.5" fill="#111"/>
<rect x="210.5" y="389.0" width="1.5" height="1.5" fill="#111"/>
<rect x="200.3" y="365.3" width="1.5" height="1.5" fill="#111"/>
<rect x="208.0" y="363.3" width="1.5" height="1.5" fill="#111"/>
<rect x="211.3" y="367.2" width="1.5" height="1.5" fill="#111"/>
<rect x="209.0" y="390.6" width="1.5" height="1.5" fill="#111"/>
<rect x="212.8" y="365.5" width="1.5" height="1.5" fill="#111"/>
<rect x="210.8" y="389.1" width="1.5" height="1.5" fill="#111"/>
<rect x="210.6" y="361.0" width="1.5" height="1.5" fill="#111"/>
<rect x="201.8" y="386.3" width="1.5" height="1.5" fill="#111"/>
<rect x="210.7" y="367.9" width="1.5" height="1.5" fill="#111"/>
<rect x="207.0" y="390.6" width="1.5" height="1.5" fill="#111"/>
<rect x="208.9" y="364.3" width="1.5" height="1.5" fill="#111"/>
<rect x="211.1" y="390.6" width="1.5" height="1.5" fill="#111"/>
<rect x="203.9" y="366.0" width="1.5" height="1.5" fill="#111"/>
<rect x="210.4" y="387.7" width="1.5" height="1.5" fill="#111"/>
<rect x="242.6" y="362.6" width="1.5" height="1.5" fill="#b8b8b8"/>
<rect x="236.1" y="385.8" width="1.5" height="1.5" fill="#b8b8b8"/>
<rect x="243.0" y="386.7" width="1.5" height="1.5" fill="#b8b8b8"/>
<rect x="239.8" y="381.5" width="1.5" height="1.5" fill="#b8b8b8"/>
<rect x="240.1" y="382.7" width="1.5" height="1.5" fill="#b8b8b8"/>
<rect x="237.6" y="365.3" width="1.5" height="1.5" fill="#b8b8b8"/>
<rect x="235.7" y="366.9" width="1.5" height="1.5" fill="#b8b8b8"/>
<rect x="235.9" y="361.1" width="1.5" height="1.5" fill="#b8b8b8"/>
<rect x="236.1" y="331.6" width="1.5" height="1.5" fill="#b8b8b8"/>
<rect x="239.4" y="388.7" width="1.5" height="1.5" fill="#b8b8b8"/>
<rect x="236.9" y="380.9" width="1.5" height="1.5" fill="#b8b8b8"/>
<rect x="245.1" y="383.6" width="1.5" height="1.5" fill="#b8b8b8"/>
<rect x="246.0" y="381.2" width="1.5" height="1.5" fill="#b8b8b8"/>
<rect x="234.8" y="340.4" width="1.5" height="1.5" fill="#b8b8b8"/>
<rect x="247.1" y="385.0" width="1.5" height="1.5" fill="#b8b8b8"/>
<rect x="236.3" y="324.4" width="1.5" height="1.5" fill="#b8b8b8"/>
<rect x="247.3" y="390.3" width="1.5" height="1.5" fill="#b8b8b8"/>
<rect x="238.6" y="366.7" width="1.5" height="1.5" fill="#b8b8b8"/>
<rect x="244.6" y="383.9" width="1.5" height="1.5" fill="#b8b8b8"/>
<rect x="243.8" y="387.0" width="1.5" height="1.5" fill="#b8b8b8"/>
<rect x="245.0" y="353.9" width="1.5" height="1.5" fill="#b8b8b8"/>
<rect x="240.1" y="388.2" width="1.5" height="1.5" fill="#b8b8b8"/>
<rect x="242.5" y="375.0" width="1.5" height="1.5" fill="#b8b8b8"/>
<rect x="242.6" y="383.4" width="1.5" height="1.5" fill="#b8b8b8"/>
<rect x="234.7" y="366.0" width="1.5" height="1.5" fill="#b8b8b8"/>
<rect x="234.0" y="366.1" width="1.5" height="1.5" fill="#b8b8b8"/>
<rect x="242.2" y="384.3" width="1.5" height="1.5" fill="#b8b8b8"/>
<rect x="240.3" y="362.0" width="1.5" height="1.5" fill="#b8b8b8"/>
<rect x="238.9" y="357.3" width="1.5" height="1.5" fill="#b8b8b8"/>
<rect x="243.6" y="386.1" width="1.5" height="1.5" fill="#b8b8b8"/>
<rect x="245.2" y="359.6" width="1.5" height="1.5" fill="#b8b8b8"/>
<rect x="236.5" y="393.8" width="1.5" height="1.5" fill="#b8b8b8"/>
<rect x="245.3" y="382.2" width="1.5" height="1.5" fill="#b8b8b8"/>
<rect x="237.8" y="369.0" width="1.5" height="1.5" fill="#b8b8b8"/>
<rect x="244.9" y="330.8" width="1.5" height="1.5" fill="#b8b8b8"/>
<rect x="244.4" y="367.8" width="1.5" height="1.5" fill="#b8b8b8"/>
<rect x="237.8" y="361.9" width="1.5" height="1.5" fill="#b8b8b8"/>
<rect x="233.0" y="365.3" width="1.5" height="1.5" fill="#b8b8b8"/>
<rect x="241.0" y="345.3" width="1.5" height="1.5" fill="#b8b8b8"/>
<rect x="245.4" y="350.8" width="1.5" height="1.5" fill="#b8b8b8"/>
<rect x="234.1" y="387.1" width="1.5" height="1.5" fill="#b8b8b8"/>
<rect x="237.3" y="354.0" width="1.5" height="1.5" fill="#b8b8b8"/>
<rect x="244.5" y="364.1" width="1.5" height="1.5" fill="#b8b8b8"/>
<rect x="243.8" y="349.1" width="1.5" height="1.5" fill="#b8b8b8"/>
<rect x="237.2" y="384.4" width="1.5" height="1.5" fill="#b8b8b8"/>
<rect x="245.8" y="387.3" width="1.5" height="1.5" fill="#b8b8b8"/>
<rect x="246.4" y="395.7" width="1.5" height="1.5" fill="#b8b8b8"/>
<rect x="243.0" y="388.8" width="1.5" height="1.5" fill="#b8b8b8"/>
<rect x="247.4" y="344.6" width="1.5" height="1.5" fill="#b8b8b8"/>
<rect x="246.3" y="352.0" width="1.5" height="1.5" fill="#b8b8b8"/>
<rect x="246.3" y="362.2" width="1.5" height="1.5" fill="#b8b8b8"/>
<rect x="240.9" y="358.7" width="1.5" height="1.5" fill="#b8b8b8"/>
<rect x="233.1" y="365.4" width="1.5" height="1.5" fill="#b8b8b8"/>
<rect x="234.8" y="357.2" width="1.5" height="1.5" fill="#b8b8b8"/>
<rect x="246.9" y="383.4" width="1.5" height="1.5" fill="#b8b8b8"/>
<rect x="239.3" y="390.7" width="1.5" height="1.5" fill="#b8b8b8"/>
<rect x="238.6" y="381.1" width="1.5" height="1.5" fill="#b8b8b8"/>
<rect x="243.9" y="387.9" width="1.5" height="1.5" fill="#b8b8b8"/>
<rect x="236.0" y="361.2" width="1.5" height="1.5" fill="#b8b8b8"/>
<rect x="246.3" y="369.7" width="1.5" height="1.5" fill="#b8b8b8"/>
<rect x="236.6" y="360.3" width="1.5" height="1.5" fill="#b8b8b8"/>
<rect x="240.7" y="385.9" width="1.5" height="1.5" fill="#b8b8b8"/>
<rect x="233.8" y="362.0" width="1.5" height="1.5" fill="#b8b8b8"/>
<rect x="236.3" y="363.0" width="1.5" height="1.5" fill="#b8b8b8"/>
<rect x="242.5" y="361.3" width="1.5" height="1.5" fill="#b8b8b8"/>
<rect x="244.2" y="390.7" width="1.5" height="1.5" fill="#b8b8b8"/>
<rect x="243.8" y="382.3" width="1.5" height="1.5" fill="#b8b8b8"/>
<rect x="243.9" y="388.7" width="1.5" height="1.5" fill="#b8b8b8"/>
<rect x="242.7" y="386.7" width="1.5" height="1.5" fill="#b8b8b8"/>
<rect x="240.6" y="390.6" width="1.5" height="1.5" fill="#b8b8b8"/>
<rect x="236.6" y="352.5" width="1.5" height="1.5" fill="#b8b8b8"/>
<rect x="239.0" y="348.2" width="1.5" height="1.5" fill="#b8b8b8"/>
<rect x="245.6" y="384.3" width="1.5" height="1.5" fill="#b8b8b8"/>
<rect x="242.1" y="386.9" width="1.5" height="1.5" fill="#b8b8b8"/>
<rect x="235.7" y="360.4" width="1.5" height="1.5" fill="#b8b8b8"/>
<rect x="243.1" y="393.1" width="1.5" height="1.5" fill="#b8b8b8"/>
<rect x="244.4" y="375.5" width="1.5" height="1.5" fill="#b8b8b8"/>
<rect x="239.1" y="359.7" width="1.5" height="1.5" fill="#b8b8b8"/>
<rect x="236.6" y="382.1" width="1.5" height="1.5" fill="#b8b8b8"/>
<rect x="239.1" y="379.5" width="1.5" height="1.5" fill="#b8b8b8"/>
<rect x="235.6" y="362.2" width="1.5" height="1.5" fill="#b8b8b8"/>
<rect x="247.5" y="387.5" width="1.5" height="1.5" fill="#b8b8b8"/>
<rect x="240.0" y="325.7" width="1.5" height="1.5" fill="#b8b8b8"/>
<rect x="246.1" y="379.2" width="1.5" height="1.5" fill="#b8b8b8"/>
<rect x="237.8" y="360.7" width="1.5" height="1.5" fill="#b8b8b8"/>
<rect x="233.5" y="386.8" width="1.5" height="1.5" fill="#b8b8b8"/>
<rect x="235.4" y="386.7" width="1.5" height="1.5" fill="#b8b8b8"/>
<rect x="244.6" y="362.5" width="1.5" height="1.5" fill="#b8b8b8"/>
<rect x="241.6" y="363.6" width="1.5" height="1.5" fill="#b8b8b8"/>
<rect x="242.8" y="382.1" width="1.5" height="1.5" fill="#b8b8b8"/>
<rect x="239.9" y="370.7" width="1.5" height="1.5" fill="#b8b8b8"/>
<rect x="241.7" y="334.0" width="1.5" height="1.5" fill="#b8b8b8"/>
<rect x="239.6" y="357.3" width="1.5" height="1.5" fill="#b8b8b8"/>
<rect x="235.1" y="367.7" width="1.5" height="1.5" fill="#b8b8b8"/>
<rect x="239.4" y="358.3" width="1.5" height="1.5" fill="#b8b8b8"/>
<rect x="247.1" y="381.7" width="1.5" height="1.5" fill="#b8b8b8"/>
<rect x="240.4" y="362.0" width="1.5" height="1.5" fill="#b8b8b8"/>
<rect x="234.3" y="360.9" width="1.5" height="1.5" fill="#b8b8b8"/>
<rect x="242.4" y="366.2" width="1.5" height="1.5" fill="#b8b8b8"/>
<rect x="244.6" y="386.5" width="1.5" height="1.5" fill="#b8b8b8"/>
<rect x="238.7" y="389.1" width="1.5" height="1.5" fill="#b8b8b8"/>
<rect x="247.3" y="347.4" width="1.5" height="1.5" fill="#b8b8b8"/>
<rect x="240.1" y="384.2" width="1.5" height="1.5" fill="#b8b8b8"/>
<rect x="234.2" y="367.0" width="1.5" height="1.5" fill="#b8b8b8"/>
<rect x="244.1" y="380.7" width="1.5" height="1.5" fill="#b8b8b8"/>
<rect x="244.7" y="324.0" width="1.5" height="1.5" fill="#b8b8b8"/>
<rect x="244.6" y="383.5" width="1.5" height="1.5" fill="#b8b8b8"/>
<rect x="236.6" y="383.3" width="1.5" height="1.5" fill="#b8b8b8"/>
<rect x="239.1" y="383.4" width="1.5" height="1.5" fill="#b8b8b8"/>
<rect x="246.5" y="356.9" width="1.5" height="1.5" fill="#b8b8b8"/>
<rect x="246.8" y="332.6" width="1.5" height="1.5" fill="#b8b8b8"/>
<rect x="235.5" y="345.5" width="1.5" height="1.5" fill="#b8b8b8"/>
<rect x="236.9" y="385.6" width="1.5" height="1.5" fill="#b8b8b8"/>
<rect x="247.1" y="378.5" width="1.5" height="1.5" fill="#b8b8b8"/>
<rect x="246.3" y="362.4" width="1.5" height="1.5" fill="#b8b8b8"/>
<rect x="239.7" y="353.9" width="1.5" height="1.5" fill="#b8b8b8"/>
<rect x="236.1" y="348.1" width="1.5" height="1.5" fill="#b8b8b8"/>
<rect x="244.4" y="362.6" width="1.5" height="1.5" fill="#b8b8b8"/>
<rect x="235.7" y="354.4" width="1.5" height="1.5" fill="#b8b8b8"/>
<rect x="240.6" y="381.9" width="1.5" height="1.5" fill="#b8b8b8"/>
<rect x="246.2" y="388.9" width="1.5" height="1.5" fill="#b8b8b8"/>
<rect x="234.8" y="338.3" width="1.5" height="1.5" fill="#b8b8b8"/>
<rect x="247.1" y="318.0" width="1.5" height="1.5" fill="#b8b8b8"/>
<rect x="238.9" y="389.7" width="1.5" height="1.5" fill="#b8b8b8"/>
<rect x="235.2" y="362.8" width="1.5" height="1.5" fill="#b8b8b8"/>
<rect x="233.4" y="386.6" width="1.5" height="1.5" fill="#b8b8b8"/>
<rect x="241.2" y="379.6" width="1.5" height="1.5" fill="#b8b8b8"/>
<rect x="236.9" y="329.8" width="1.5" height="1.5" fill="#b8b8b8"/>
<rect x="247.5" y="360.5" width="1.5" height="1.5" fill="#b8b8b8"/>
<rect x="243.0" y="335.3" width="1.5" height="1.5" fill="#b8b8b8"/>
<rect x="238.4" y="339.7" width="1.5" height="1.5" fill="#b8b8b8"/>
<rect x="238.3" y="367.9" width="1.5" height="1.5" fill="#b8b8b8"/>
<rect x="240.7" y="383.8" width="1.5" height="1.5" fill="#b8b8b8"/>
<rect x="247.2" y="362.5" width="1.5" height="1.5" fill="#b8b8b8"/>
<rect x="243.2" y="381.7" width="1.5" height="1.5" fill="#b8b8b8"/>
<rect x="246.3" y="382.6" width="1.5" height="1.5" fill="#b8b8b8"/>
<rect x="233.4" y="383.6" width="1.5" height="1.5" fill="#b8b8b8"/>
<rect x="237.2" y="389.1" width="1.5" height="1.5" fill="#b8b8b8"/>
<rect x="235.2" y="387.4" width="1.5" height="1.5" fill="#b8b8b8"/>
<rect x="236.6" y="367.2" width="1.5" height="1.5" fill="#b8b8b8"/>
<rect x="244.5" y="329.9" width="1.5" height="1.5" fill="#b8b8b8"/>
<rect x="236.5" y="392.8" width="1.5" height="1.5" fill="#b8b8b8"/>
<rect x="237.9" y="385.5" width="1.5" height="1.5" fill="#b8b8b8"/>
<rect x="244.4" y="378.2" width="1.5" height="1.5" fill="#b8b8b8"/>
<rect x="245.4" y="357.6" width="1.5" height="1.5" fill="#b8b8b8"/>
<rect x="242.6" y="363.8" width="1.5" height="1.5" fill="#b8b8b8"/>
<rect x="242.4" y="365.8" width="1.5" height="1.5" fill="#b8b8b8"/>
<rect x="246.9" y="387.6" width="1.5" height="1.5" fill="#b8b8b8"/>
<rect x="236.5" y="358.8" width="1.5" height="1.5" fill="#b8b8b8"/>
<rect x="234.8" y="337.1" width="1.5" height="1.5" fill="#b8b8b8"/>
<rect x="242.5" y="368.8" width="1.5" height="1.5" fill="#b8b8b8"/>
<rect x="246.5" y="364.7" width="1.5" height="1.5" fill="#b8b8b8"/>
<rect x="245.5" y="386.7" width="1.5" height="1.5" fill="#b8b8b8"/>
<rect x="245.6" y="372.3" width="1.5" height="1.5" fill="#b8b8b8"/>
<rect x="247.0" y="360.8" width="1.5" height="1.5" fill="#b8b8b8"/>
<rect x="238.4" y="366.7" width="1.5" height="1.5" fill="#b8b8b8"/>
<rect x="245.4" y="364.3" width="1.5" height="1.5" fill="#b8b8b8"/>
<rect x="240.9" y="360.9" width="1.5" height="1.5" fill="#b8b8b8"/>
<rect x="242.2" y="338.0" width="1.5" height="1.5" fill="#b8b8b8"/>
<rect x="238.8" y="388.5" width="1.5" height="1.5" fill="#b8b8b8"/>
<rect x="232.8" y="383.4" width="1.5" height="1.5" fill="#b8b8b8"/>
<rect x="241.3" y="386.1" width="1.5" height="1.5" fill="#b8b8b8"/>
<rect x="239.4" y="347.5" width="1.5" height="1.5" fill="#b8b8b8"/>
<rect x="245.1" y="388.6" width="1.5" height="1.5" fill="#b8b8b8"/>
<rect x="234.9" y="379.6" width="1.5" height="1.5" fill="#b8b8b8"/>
<rect x="240.4" y="344.9" width="1.5" height="1.5" fill="#b8b8b8"/>
<rect x="247.3" y="353.7" width="1.5" height="1.5" fill="#b8b8b8"/>
<rect x="236.6" y="385.2" width="1.5" height="1.5" fill="#b8b8b8"/>
<rect x="236.4" y="338.8" width="1.5" height="1.5" fill="#b8b8b8"/>
<rect x="242.8" y="384.9" width="1.5" height="1.5" fill="#b8b8b8"/>
<line x1="207.3" y1="345.5" x2="207.3" y2="369.1" stroke="#555" stroke-width="0.8"/>
<line x1="207.3" y1="386.2" x2="207.3" y2="394.7" stroke="#555" stroke-width="0.8"/>
<rect x="195.4" y="369.1" width="24.299999999999983" height="17.099999999999966" fill="none" stroke="#555" stroke-width="0.9"/>
<line x1="195.4" y1="383" x2="219.7" y2="383" stroke="#555" stroke-width="0.9"/>
<line x1="240.9" y1="329.4" x2="240.9" y2="361" stroke="#555" stroke-width="0.8"/>
<line x1="240.9" y1="383.3" x2="240.9" y2="392.8" stroke="#555" stroke-width="0.8"/>
<rect x="229" y="361" width="23.80000000000001" height="22.30000000000001" fill="none" stroke="#555" stroke-width="0.9"/>
<line x1="229" y1="367.8" x2="252.8" y2="367.8" stroke="#555" stroke-width="0.9"/>
<line x1="189.7" y1="377.3" x2="256.6" y2="377.3" stroke="#777" stroke-width="1" stroke-dasharray="3.2 2"/>
<line x1="207.3" y1="312.9" x2="240.9" y2="312.9" stroke="#222" stroke-width="1.3"/>
<text x="224.10000000000002" y="311.29999999999995" font-size="5" text-anchor="middle" fill="#222" >****</text>
<text x="207.3" y="436" font-size="8.6" text-anchor="middle" fill="#222" >Down</text>
<text x="240.9" y="436" font-size="8.6" text-anchor="middle" fill="#222" >Up</text>
<text x="224.10000000000002" y="446" font-size="9.6" text-anchor="middle" fill="#222" textLength="63" lengthAdjust="spacingAndGlyphs" >Compartment rank</text>
<text transform="translate(172.5,368) rotate(-90)" font-size="9.4" text-anchor="middle" fill="#222" textLength="52.5" lengthAdjust="spacingAndGlyphs">log<tspan font-size="5.6" dy="2">2</tspan><tspan dy="-2">FC RNA-seq</tspan></text>
<rect x="240" y="418.3" width="1.4" height="1.4" fill="#b8b8b8"/>
<line x1="446.3" y1="311.4" x2="446.3" y2="424.3" stroke="#111" stroke-width="1"/>
<line x1="446.3" y1="424.3" x2="513.1" y2="424.3" stroke="#111" stroke-width="1"/>
<line x1="443.90000000000003" y1="332.3" x2="446.3" y2="332.3" stroke="#111" stroke-width="0.8"/>
<text x="442.3" y="335.4" font-size="8.6" text-anchor="end" fill="#222" >5</text>
<line x1="443.90000000000003" y1="361.5" x2="446.3" y2="361.5" stroke="#111" stroke-width="0.8"/>
<text x="442.3" y="364.6" font-size="8.6" text-anchor="end" fill="#222" >0</text>
<line x1="443.90000000000003" y1="390.6" x2="446.3" y2="390.6" stroke="#111" stroke-width="0.8"/>
<text x="442.3" y="393.7" font-size="8.6" text-anchor="end" fill="#222" >&#8722;5</text>
<line x1="443.90000000000003" y1="419.8" x2="446.3" y2="419.8" stroke="#111" stroke-width="0.8"/>
<text x="442.3" y="422.9" font-size="8.6" text-anchor="end" fill="#222" >&#8722;10</text>
<line x1="464.5" y1="424.3" x2="464.5" y2="426.90000000000003" stroke="#111" stroke-width="0.8"/>
<line x1="497.3" y1="424.3" x2="497.3" y2="426.90000000000003" stroke="#111" stroke-width="0.8"/>
<rect x="461.4" y="350.8" width="1.5" height="1.5" fill="#111"/>
<rect x="466.9" y="357.4" width="1.5" height="1.5" fill="#111"/>
<rect x="468.4" y="368.1" width="1.5" height="1.5" fill="#111"/>
<rect x="470.9" y="366.0" width="1.5" height="1.5" fill="#111"/>
<rect x="465.4" y="389.0" width="1.5" height="1.5" fill="#111"/>
<rect x="457.4" y="349.8" width="1.5" height="1.5" fill="#111"/>
<rect x="469.1" y="397.9" width="1.5" height="1.5" fill="#111"/>
<rect x="471.2" y="364.5" width="1.5" height="1.5" fill="#111"/>
<rect x="461.9" y="370.5" width="1.5" height="1.5" fill="#111"/>
<rect x="468.5" y="369.1" width="1.5" height="1.5" fill="#111"/>
<rect x="466.4" y="370.0" width="1.5" height="1.5" fill="#111"/>
<rect x="465.3" y="380.9" width="1.5" height="1.5" fill="#111"/>
<rect x="460.8" y="353.2" width="1.5" height="1.5" fill="#111"/>
<rect x="467.7" y="353.2" width="1.5" height="1.5" fill="#111"/>
<rect x="459.4" y="353.0" width="1.5" height="1.5" fill="#111"/>
<rect x="470.1" y="368.1" width="1.5" height="1.5" fill="#111"/>
<rect x="465.6" y="351.0" width="1.5" height="1.5" fill="#111"/>
<rect x="456.5" y="351.3" width="1.5" height="1.5" fill="#111"/>
<rect x="465.4" y="355.9" width="1.5" height="1.5" fill="#111"/>
<rect x="466.5" y="351.0" width="1.5" height="1.5" fill="#111"/>
<rect x="469.0" y="397.4" width="1.5" height="1.5" fill="#111"/>
<rect x="464.7" y="409.4" width="1.5" height="1.5" fill="#111"/>
<rect x="460.9" y="366.3" width="1.5" height="1.5" fill="#111"/>
<rect x="465.7" y="373.6" width="1.5" height="1.5" fill="#111"/>
<rect x="458.9" y="392.4" width="1.5" height="1.5" fill="#111"/>
<rect x="462.2" y="351.9" width="1.5" height="1.5" fill="#111"/>
<rect x="463.0" y="369.0" width="1.5" height="1.5" fill="#111"/>
<rect x="465.9" y="357.1" width="1.5" height="1.5" fill="#111"/>
<rect x="469.7" y="370.8" width="1.5" height="1.5" fill="#111"/>
<rect x="463.1" y="369.0" width="1.5" height="1.5" fill="#111"/>
<rect x="461.5" y="350.0" width="1.5" height="1.5" fill="#111"/>
<rect x="464.2" y="364.9" width="1.5" height="1.5" fill="#111"/>
<rect x="463.5" y="354.9" width="1.5" height="1.5" fill="#111"/>
<rect x="469.4" y="367.2" width="1.5" height="1.5" fill="#111"/>
<rect x="458.5" y="376.9" width="1.5" height="1.5" fill="#111"/>
<rect x="462.7" y="373.5" width="1.5" height="1.5" fill="#111"/>
<rect x="468.4" y="388.5" width="1.5" height="1.5" fill="#111"/>
<rect x="462.9" y="348.9" width="1.5" height="1.5" fill="#111"/>
<rect x="467.2" y="352.1" width="1.5" height="1.5" fill="#111"/>
<rect x="470.0" y="354.9" width="1.5" height="1.5" fill="#111"/>
<rect x="462.9" y="367.8" width="1.5" height="1.5" fill="#111"/>
<rect x="458.4" y="369.8" width="1.5" height="1.5" fill="#111"/>
<rect x="460.5" y="383.7" width="1.5" height="1.5" fill="#111"/>
<rect x="460.4" y="355.7" width="1.5" height="1.5" fill="#111"/>
<rect x="465.2" y="400.7" width="1.5" height="1.5" fill="#111"/>
<rect x="461.1" y="370.5" width="1.5" height="1.5" fill="#111"/>
<rect x="462.8" y="371.6" width="1.5" height="1.5" fill="#111"/>
<rect x="462.7" y="370.2" width="1.5" height="1.5" fill="#111"/>
<rect x="464.5" y="367.9" width="1.5" height="1.5" fill="#111"/>
<rect x="465.5" y="351.3" width="1.5" height="1.5" fill="#111"/>
<rect x="468.2" y="365.8" width="1.5" height="1.5" fill="#111"/>
<rect x="459.7" y="372.8" width="1.5" height="1.5" fill="#111"/>
<rect x="463.1" y="381.4" width="1.5" height="1.5" fill="#111"/>
<rect x="470.6" y="394.8" width="1.5" height="1.5" fill="#111"/>
<rect x="459.3" y="389.5" width="1.5" height="1.5" fill="#111"/>
<rect x="466.8" y="370.7" width="1.5" height="1.5" fill="#111"/>
<rect x="461.3" y="363.0" width="1.5" height="1.5" fill="#111"/>
<rect x="463.2" y="353.5" width="1.5" height="1.5" fill="#111"/>
<rect x="465.4" y="354.7" width="1.5" height="1.5" fill="#111"/>
<rect x="458.1" y="378.9" width="1.5" height="1.5" fill="#111"/>
<rect x="462.8" y="354.2" width="1.5" height="1.5" fill="#111"/>
<rect x="465.5" y="349.3" width="1.5" height="1.5" fill="#111"/>
<rect x="470.9" y="414.5" width="1.5" height="1.5" fill="#111"/>
<rect x="456.7" y="351.1" width="1.5" height="1.5" fill="#111"/>
<rect x="463.3" y="391.5" width="1.5" height="1.5" fill="#111"/>
<rect x="462.9" y="404.6" width="1.5" height="1.5" fill="#111"/>
<rect x="468.5" y="355.1" width="1.5" height="1.5" fill="#111"/>
<rect x="470.7" y="359.5" width="1.5" height="1.5" fill="#111"/>
<rect x="469.1" y="352.7" width="1.5" height="1.5" fill="#111"/>
<rect x="456.7" y="365.4" width="1.5" height="1.5" fill="#111"/>
<rect x="468.6" y="371.1" width="1.5" height="1.5" fill="#111"/>
<rect x="461.6" y="366.8" width="1.5" height="1.5" fill="#111"/>
<rect x="470.6" y="353.7" width="1.5" height="1.5" fill="#111"/>
<rect x="467.8" y="372.8" width="1.5" height="1.5" fill="#111"/>
<rect x="462.0" y="350.6" width="1.5" height="1.5" fill="#111"/>
<rect x="469.3" y="356.1" width="1.5" height="1.5" fill="#111"/>
<rect x="460.6" y="348.7" width="1.5" height="1.5" fill="#111"/>
<rect x="461.2" y="346.2" width="1.5" height="1.5" fill="#111"/>
<rect x="459.9" y="370.9" width="1.5" height="1.5" fill="#111"/>
<rect x="460.4" y="390.5" width="1.5" height="1.5" fill="#111"/>
<rect x="456.7" y="369.2" width="1.5" height="1.5" fill="#111"/>
<rect x="470.0" y="369.2" width="1.5" height="1.5" fill="#111"/>
<rect x="464.2" y="367.9" width="1.5" height="1.5" fill="#111"/>
<rect x="461.1" y="353.5" width="1.5" height="1.5" fill="#111"/>
<rect x="460.5" y="349.9" width="1.5" height="1.5" fill="#111"/>
<rect x="457.2" y="352.9" width="1.5" height="1.5" fill="#111"/>
<rect x="456.7" y="359.2" width="1.5" height="1.5" fill="#111"/>
<rect x="463.1" y="375.4" width="1.5" height="1.5" fill="#111"/>
<rect x="468.4" y="366.4" width="1.5" height="1.5" fill="#111"/>
<rect x="462.7" y="377.2" width="1.5" height="1.5" fill="#111"/>
<rect x="465.5" y="403.7" width="1.5" height="1.5" fill="#111"/>
<rect x="464.2" y="374.3" width="1.5" height="1.5" fill="#111"/>
<rect x="461.6" y="371.2" width="1.5" height="1.5" fill="#111"/>
<rect x="457.5" y="354.5" width="1.5" height="1.5" fill="#111"/>
<rect x="462.1" y="364.9" width="1.5" height="1.5" fill="#111"/>
<rect x="459.9" y="399.8" width="1.5" height="1.5" fill="#111"/>
<rect x="458.2" y="364.6" width="1.5" height="1.5" fill="#111"/>
<rect x="463.1" y="371.7" width="1.5" height="1.5" fill="#111"/>
<rect x="471.0" y="369.7" width="1.5" height="1.5" fill="#111"/>
<rect x="470.8" y="357.0" width="1.5" height="1.5" fill="#111"/>
<rect x="463.7" y="387.0" width="1.5" height="1.5" fill="#111"/>
<rect x="456.3" y="392.7" width="1.5" height="1.5" fill="#111"/>
<rect x="465.3" y="369.5" width="1.5" height="1.5" fill="#111"/>
<rect x="457.7" y="351.8" width="1.5" height="1.5" fill="#111"/>
<rect x="464.2" y="367.9" width="1.5" height="1.5" fill="#111"/>
<rect x="470.0" y="357.5" width="1.5" height="1.5" fill="#111"/>
<rect x="469.7" y="354.0" width="1.5" height="1.5" fill="#111"/>
<rect x="463.1" y="366.9" width="1.5" height="1.5" fill="#111"/>
<rect x="470.7" y="356.9" width="1.5" height="1.5" fill="#111"/>
<rect x="470.1" y="364.6" width="1.5" height="1.5" fill="#111"/>
<rect x="465.3" y="386.2" width="1.5" height="1.5" fill="#111"/>
<rect x="468.5" y="350.9" width="1.5" height="1.5" fill="#111"/>
<rect x="467.6" y="373.5" width="1.5" height="1.5" fill="#111"/>
<rect x="461.3" y="348.6" width="1.5" height="1.5" fill="#111"/>
<rect x="460.7" y="352.4" width="1.5" height="1.5" fill="#111"/>
<rect x="458.0" y="396.8" width="1.5" height="1.5" fill="#111"/>
<rect x="459.8" y="407.9" width="1.5" height="1.5" fill="#111"/>
<rect x="463.1" y="350.8" width="1.5" height="1.5" fill="#111"/>
<rect x="457.5" y="369.8" width="1.5" height="1.5" fill="#111"/>
<rect x="456.6" y="390.2" width="1.5" height="1.5" fill="#111"/>
<rect x="463.3" y="403.0" width="1.5" height="1.5" fill="#111"/>
<rect x="468.6" y="376.8" width="1.5" height="1.5" fill="#111"/>
<rect x="468.1" y="380.7" width="1.5" height="1.5" fill="#111"/>
<rect x="460.8" y="355.0" width="1.5" height="1.5" fill="#111"/>
<rect x="461.4" y="406.5" width="1.5" height="1.5" fill="#111"/>
<rect x="457.8" y="349.5" width="1.5" height="1.5" fill="#111"/>
<rect x="456.6" y="397.9" width="1.5" height="1.5" fill="#111"/>
<rect x="471.2" y="369.8" width="1.5" height="1.5" fill="#111"/>
<rect x="466.8" y="353.2" width="1.5" height="1.5" fill="#111"/>
<rect x="458.9" y="355.6" width="1.5" height="1.5" fill="#111"/>
<rect x="457.2" y="370.7" width="1.5" height="1.5" fill="#111"/>
<rect x="470.3" y="368.2" width="1.5" height="1.5" fill="#111"/>
<rect x="467.7" y="356.0" width="1.5" height="1.5" fill="#111"/>
<rect x="456.9" y="372.5" width="1.5" height="1.5" fill="#111"/>
<rect x="457.1" y="370.2" width="1.5" height="1.5" fill="#111"/>
<rect x="457.8" y="393.8" width="1.5" height="1.5" fill="#111"/>
<rect x="462.1" y="370.1" width="1.5" height="1.5" fill="#111"/>
<rect x="464.7" y="384.6" width="1.5" height="1.5" fill="#111"/>
<rect x="468.5" y="343.8" width="1.5" height="1.5" fill="#111"/>
<rect x="456.6" y="383.1" width="1.5" height="1.5" fill="#111"/>
<rect x="470.7" y="352.8" width="1.5" height="1.5" fill="#111"/>
<rect x="464.5" y="353.2" width="1.5" height="1.5" fill="#111"/>
<rect x="458.6" y="374.5" width="1.5" height="1.5" fill="#111"/>
<rect x="467.1" y="371.6" width="1.5" height="1.5" fill="#111"/>
<rect x="461.6" y="371.6" width="1.5" height="1.5" fill="#111"/>
<rect x="461.0" y="411.2" width="1.5" height="1.5" fill="#111"/>
<rect x="470.5" y="403.0" width="1.5" height="1.5" fill="#111"/>
<rect x="462.5" y="372.4" width="1.5" height="1.5" fill="#111"/>
<rect x="459.6" y="411.2" width="1.5" height="1.5" fill="#111"/>
<rect x="465.4" y="352.1" width="1.5" height="1.5" fill="#111"/>
<rect x="503.2" y="356.0" width="1.5" height="1.5" fill="#b8b8b8"/>
<rect x="501.4" y="353.1" width="1.5" height="1.5" fill="#b8b8b8"/>
<rect x="491.1" y="394.3" width="1.5" height="1.5" fill="#b8b8b8"/>
<rect x="503.5" y="390.1" width="1.5" height="1.5" fill="#b8b8b8"/>
<rect x="490.5" y="353.9" width="1.5" height="1.5" fill="#b8b8b8"/>
<rect x="491.4" y="357.0" width="1.5" height="1.5" fill="#b8b8b8"/>
<rect x="491.3" y="365.3" width="1.5" height="1.5" fill="#b8b8b8"/>
<rect x="500.9" y="402.4" width="1.5" height="1.5" fill="#b8b8b8"/>
<rect x="490.9" y="365.9" width="1.5" height="1.5" fill="#b8b8b8"/>
<rect x="495.7" y="383.9" width="1.5" height="1.5" fill="#b8b8b8"/>
<rect x="493.1" y="371.8" width="1.5" height="1.5" fill="#b8b8b8"/>
<rect x="500.1" y="350.6" width="1.5" height="1.5" fill="#b8b8b8"/>
<rect x="504.0" y="350.0" width="1.5" height="1.5" fill="#b8b8b8"/>
<rect x="495.3" y="345.0" width="1.5" height="1.5" fill="#b8b8b8"/>
<rect x="499.2" y="386.6" width="1.5" height="1.5" fill="#b8b8b8"/>
<rect x="495.8" y="393.0" width="1.5" height="1.5" fill="#b8b8b8"/>
<rect x="501.7" y="374.3" width="1.5" height="1.5" fill="#b8b8b8"/>
<rect x="503.4" y="374.6" width="1.5" height="1.5" fill="#b8b8b8"/>
<rect x="502.7" y="363.5" width="1.5" height="1.5" fill="#b8b8b8"/>
<rect x="495.4" y="393.3" width="1.5" height="1.5" fill="#b8b8b8"/>
<rect x="501.3" y="375.1" width="1.5" height="1.5" fill="#b8b8b8"/>
<rect x="493.8" y="354.9" width="1.5" height="1.5" fill="#b8b8b8"/>
<rect x="503.9" y="346.9" width="1.5" height="1.5" fill="#b8b8b8"/>
<rect x="502.8" y="372.7" width="1.5" height="1.5" fill="#b8b8b8"/>
<rect x="490.2" y="345.5" width="1.5" height="1.5" fill="#b8b8b8"/>
<rect x="498.4" y="373.9" width="1.5" height="1.5" fill="#b8b8b8"/>
<rect x="491.5" y="353.3" width="1.5" height="1.5" fill="#b8b8b8"/>
<rect x="495.4" y="378.8" width="1.5" height="1.5" fill="#b8b8b8"/>
<rect x="502.2" y="374.5" width="1.5" height="1.5" fill="#b8b8b8"/>
<rect x="497.4" y="385.6" width="1.5" height="1.5" fill="#b8b8b8"/>
<rect x="493.0" y="346.3" width="1.5" height="1.5" fill="#b8b8b8"/>
<rect x="492.1" y="380.9" width="1.5" height="1.5" fill="#b8b8b8"/>
<rect x="498.0" y="367.6" width="1.5" height="1.5" fill="#b8b8b8"/>
<rect x="501.0" y="343.5" width="1.5" height="1.5" fill="#b8b8b8"/>
<rect x="493.9" y="376.4" width="1.5" height="1.5" fill="#b8b8b8"/>
<rect x="497.5" y="369.3" width="1.5" height="1.5" fill="#b8b8b8"/>
<rect x="497.1" y="365.2" width="1.5" height="1.5" fill="#b8b8b8"/>
<rect x="501.9" y="345.4" width="1.5" height="1.5" fill="#b8b8b8"/>
<rect x="501.8" y="374.0" width="1.5" height="1.5" fill="#b8b8b8"/>
<rect x="490.9" y="375.4" width="1.5" height="1.5" fill="#b8b8b8"/>
<rect x="499.5" y="390.6" width="1.5" height="1.5" fill="#b8b8b8"/>
<rect x="497.7" y="386.0" width="1.5" height="1.5" fill="#b8b8b8"/>
<rect x="498.9" y="390.0" width="1.5" height="1.5" fill="#b8b8b8"/>
<rect x="502.8" y="391.0" width="1.5" height="1.5" fill="#b8b8b8"/>
<rect x="496.2" y="404.7" width="1.5" height="1.5" fill="#b8b8b8"/>
<rect x="491.6" y="348.7" width="1.5" height="1.5" fill="#b8b8b8"/>
<rect x="502.6" y="357.7" width="1.5" height="1.5" fill="#b8b8b8"/>
<rect x="495.9" y="384.7" width="1.5" height="1.5" fill="#b8b8b8"/>
<rect x="495.1" y="373.9" width="1.5" height="1.5" fill="#b8b8b8"/>
<rect x="493.8" y="351.6" width="1.5" height="1.5" fill="#b8b8b8"/>
<rect x="490.3" y="372.7" width="1.5" height="1.5" fill="#b8b8b8"/>
<rect x="501.6" y="373.6" width="1.5" height="1.5" fill="#b8b8b8"/>
<rect x="501.1" y="369.2" width="1.5" height="1.5" fill="#b8b8b8"/>
<rect x="496.6" y="379.1" width="1.5" height="1.5" fill="#b8b8b8"/>
<rect x="494.1" y="352.8" width="1.5" height="1.5" fill="#b8b8b8"/>
<rect x="496.5" y="374.4" width="1.5" height="1.5" fill="#b8b8b8"/>
<rect x="504.0" y="354.5" width="1.5" height="1.5" fill="#b8b8b8"/>
<rect x="491.2" y="377.7" width="1.5" height="1.5" fill="#b8b8b8"/>
<rect x="498.6" y="373.0" width="1.5" height="1.5" fill="#b8b8b8"/>
<rect x="496.2" y="381.8" width="1.5" height="1.5" fill="#b8b8b8"/>
<rect x="497.6" y="375.4" width="1.5" height="1.5" fill="#b8b8b8"/>
<rect x="498.4" y="357.9" width="1.5" height="1.5" fill="#b8b8b8"/>
<rect x="499.7" y="384.7" width="1.5" height="1.5" fill="#b8b8b8"/>
<rect x="503.5" y="393.6" width="1.5" height="1.5" fill="#b8b8b8"/>
<rect x="491.2" y="366.9" width="1.5" height="1.5" fill="#b8b8b8"/>
<rect x="493.4" y="371.6" width="1.5" height="1.5" fill="#b8b8b8"/>
<rect x="503.9" y="374.0" width="1.5" height="1.5" fill="#b8b8b8"/>
<rect x="491.8" y="346.8" width="1.5" height="1.5" fill="#b8b8b8"/>
<rect x="492.3" y="350.4" width="1.5" height="1.5" fill="#b8b8b8"/>
<rect x="503.9" y="367.7" width="1.5" height="1.5" fill="#b8b8b8"/>
<rect x="497.0" y="409.1" width="1.5" height="1.5" fill="#b8b8b8"/>
<rect x="500.5" y="348.8" width="1.5" height="1.5" fill="#b8b8b8"/>
<rect x="500.1" y="354.8" width="1.5" height="1.5" fill="#b8b8b8"/>
<rect x="495.2" y="373.1" width="1.5" height="1.5" fill="#b8b8b8"/>
<rect x="496.5" y="353.8" width="1.5" height="1.5" fill="#b8b8b8"/>
<rect x="500.2" y="376.6" width="1.5" height="1.5" fill="#b8b8b8"/>
<rect x="496.8" y="378.1" width="1.5" height="1.5" fill="#b8b8b8"/>
<rect x="496.6" y="363.8" width="1.5" height="1.5" fill="#b8b8b8"/>
<rect x="495.7" y="354.1" width="1.5" height="1.5" fill="#b8b8b8"/>
<rect x="494.9" y="356.9" width="1.5" height="1.5" fill="#b8b8b8"/>
<rect x="498.3" y="372.1" width="1.5" height="1.5" fill="#b8b8b8"/>
<rect x="501.6" y="391.9" width="1.5" height="1.5" fill="#b8b8b8"/>
<rect x="493.1" y="372.2" width="1.5" height="1.5" fill="#b8b8b8"/>
<rect x="494.0" y="356.9" width="1.5" height="1.5" fill="#b8b8b8"/>
<rect x="490.3" y="360.2" width="1.5" height="1.5" fill="#b8b8b8"/>
<rect x="499.4" y="406.3" width="1.5" height="1.5" fill="#b8b8b8"/>
<rect x="492.1" y="376.5" width="1.5" height="1.5" fill="#b8b8b8"/>
<rect x="495.9" y="375.6" width="1.5" height="1.5" fill="#b8b8b8"/>
<rect x="497.8" y="392.0" width="1.5" height="1.5" fill="#b8b8b8"/>
<rect x="498.8" y="371.6" width="1.5" height="1.5" fill="#b8b8b8"/>
<rect x="497.9" y="346.9" width="1.5" height="1.5" fill="#b8b8b8"/>
<rect x="489.2" y="376.4" width="1.5" height="1.5" fill="#b8b8b8"/>
<rect x="490.1" y="353.7" width="1.5" height="1.5" fill="#b8b8b8"/>
<rect x="492.2" y="349.2" width="1.5" height="1.5" fill="#b8b8b8"/>
<rect x="498.8" y="376.6" width="1.5" height="1.5" fill="#b8b8b8"/>
<rect x="498.0" y="373.0" width="1.5" height="1.5" fill="#b8b8b8"/>
<rect x="493.3" y="346.1" width="1.5" height="1.5" fill="#b8b8b8"/>
<rect x="491.9" y="399.6" width="1.5" height="1.5" fill="#b8b8b8"/>
<rect x="493.2" y="376.6" width="1.5" height="1.5" fill="#b8b8b8"/>
<rect x="493.3" y="367.3" width="1.5" height="1.5" fill="#b8b8b8"/>
<rect x="499.5" y="381.2" width="1.5" height="1.5" fill="#b8b8b8"/>
<rect x="497.0" y="402.7" width="1.5" height="1.5" fill="#b8b8b8"/>
<rect x="489.8" y="349.6" width="1.5" height="1.5" fill="#b8b8b8"/>
<rect x="491.8" y="366.8" width="1.5" height="1.5" fill="#b8b8b8"/>
<rect x="499.1" y="350.3" width="1.5" height="1.5" fill="#b8b8b8"/>
<rect x="497.8" y="382.4" width="1.5" height="1.5" fill="#b8b8b8"/>
<rect x="501.9" y="368.0" width="1.5" height="1.5" fill="#b8b8b8"/>
<rect x="495.7" y="388.8" width="1.5" height="1.5" fill="#b8b8b8"/>
<rect x="501.6" y="365.9" width="1.5" height="1.5" fill="#b8b8b8"/>
<rect x="490.7" y="401.1" width="1.5" height="1.5" fill="#b8b8b8"/>
<rect x="495.3" y="392.0" width="1.5" height="1.5" fill="#b8b8b8"/>
<rect x="490.8" y="373.4" width="1.5" height="1.5" fill="#b8b8b8"/>
<rect x="501.5" y="378.9" width="1.5" height="1.5" fill="#b8b8b8"/>
<rect x="494.1" y="349.8" width="1.5" height="1.5" fill="#b8b8b8"/>
<rect x="504.0" y="345.6" width="1.5" height="1.5" fill="#b8b8b8"/>
<rect x="497.5" y="357.3" width="1.5" height="1.5" fill="#b8b8b8"/>
<rect x="490.8" y="376.1" width="1.5" height="1.5" fill="#b8b8b8"/>
<rect x="491.2" y="350.5" width="1.5" height="1.5" fill="#b8b8b8"/>
<rect x="492.0" y="377.0" width="1.5" height="1.5" fill="#b8b8b8"/>
<rect x="499.9" y="354.6" width="1.5" height="1.5" fill="#b8b8b8"/>
<rect x="494.8" y="371.5" width="1.5" height="1.5" fill="#b8b8b8"/>
<rect x="501.9" y="346.0" width="1.5" height="1.5" fill="#b8b8b8"/>
<rect x="498.5" y="371.1" width="1.5" height="1.5" fill="#b8b8b8"/>
<rect x="500.2" y="394.6" width="1.5" height="1.5" fill="#b8b8b8"/>
<rect x="491.8" y="395.4" width="1.5" height="1.5" fill="#b8b8b8"/>
<rect x="490.7" y="371.2" width="1.5" height="1.5" fill="#b8b8b8"/>
<rect x="501.3" y="372.7" width="1.5" height="1.5" fill="#b8b8b8"/>
<rect x="501.3" y="348.4" width="1.5" height="1.5" fill="#b8b8b8"/>
<rect x="497.7" y="352.2" width="1.5" height="1.5" fill="#b8b8b8"/>
<rect x="499.5" y="352.1" width="1.5" height="1.5" fill="#b8b8b8"/>
<rect x="501.6" y="374.9" width="1.5" height="1.5" fill="#b8b8b8"/>
<rect x="494.7" y="386.8" width="1.5" height="1.5" fill="#b8b8b8"/>
<rect x="495.4" y="382.6" width="1.5" height="1.5" fill="#b8b8b8"/>
<rect x="496.9" y="348.1" width="1.5" height="1.5" fill="#b8b8b8"/>
<rect x="491.6" y="359.6" width="1.5" height="1.5" fill="#b8b8b8"/>
<rect x="497.4" y="400.7" width="1.5" height="1.5" fill="#b8b8b8"/>
<rect x="496.5" y="348.9" width="1.5" height="1.5" fill="#b8b8b8"/>
<rect x="500.6" y="370.1" width="1.5" height="1.5" fill="#b8b8b8"/>
<rect x="503.1" y="406.0" width="1.5" height="1.5" fill="#b8b8b8"/>
<rect x="490.3" y="354.8" width="1.5" height="1.5" fill="#b8b8b8"/>
<rect x="496.7" y="373.5" width="1.5" height="1.5" fill="#b8b8b8"/>
<rect x="498.1" y="351.7" width="1.5" height="1.5" fill="#b8b8b8"/>
<rect x="490.2" y="348.4" width="1.5" height="1.5" fill="#b8b8b8"/>
<rect x="502.9" y="365.8" width="1.5" height="1.5" fill="#b8b8b8"/>
<rect x="493.8" y="403.0" width="1.5" height="1.5" fill="#b8b8b8"/>
<rect x="495.9" y="373.0" width="1.5" height="1.5" fill="#b8b8b8"/>
<rect x="501.9" y="349.8" width="1.5" height="1.5" fill="#b8b8b8"/>
<rect x="498.4" y="349.7" width="1.5" height="1.5" fill="#b8b8b8"/>
<rect x="496.5" y="373.4" width="1.5" height="1.5" fill="#b8b8b8"/>
<rect x="491.4" y="371.7" width="1.5" height="1.5" fill="#b8b8b8"/>
<rect x="491.1" y="352.1" width="1.5" height="1.5" fill="#b8b8b8"/>
<rect x="490.8" y="405.8" width="1.5" height="1.5" fill="#b8b8b8"/>
<rect x="494.9" y="393.4" width="1.5" height="1.5" fill="#b8b8b8"/>
<rect x="495.3" y="374.9" width="1.5" height="1.5" fill="#b8b8b8"/>
<rect x="489.7" y="372.5" width="1.5" height="1.5" fill="#b8b8b8"/>
<rect x="492.5" y="369.0" width="1.5" height="1.5" fill="#b8b8b8"/>
<rect x="493.1" y="348.8" width="1.5" height="1.5" fill="#b8b8b8"/>
<rect x="490.4" y="351.3" width="1.5" height="1.5" fill="#b8b8b8"/>
<rect x="495.6" y="398.5" width="1.5" height="1.5" fill="#b8b8b8"/>
<rect x="497.2" y="380.5" width="1.5" height="1.5" fill="#b8b8b8"/>
<rect x="492.3" y="375.4" width="1.5" height="1.5" fill="#b8b8b8"/>
<rect x="503.5" y="371.8" width="1.5" height="1.5" fill="#b8b8b8"/>
<rect x="490.2" y="367.7" width="1.5" height="1.5" fill="#b8b8b8"/>
<rect x="489.7" y="405.0" width="1.5" height="1.5" fill="#b8b8b8"/>
<rect x="496.3" y="391.9" width="1.5" height="1.5" fill="#b8b8b8"/>
<rect x="495.0" y="358.2" width="1.5" height="1.5" fill="#b8b8b8"/>
<rect x="501.1" y="382.7" width="1.5" height="1.5" fill="#b8b8b8"/>
<rect x="493.2" y="389.2" width="1.5" height="1.5" fill="#b8b8b8"/>
<rect x="494.6" y="354.9" width="1.5" height="1.5" fill="#b8b8b8"/>
<rect x="493.4" y="371.1" width="1.5" height="1.5" fill="#b8b8b8"/>
<line x1="464.5" y1="337.4" x2="464.5" y2="354.2" stroke="#555" stroke-width="0.8"/>
<line x1="464.5" y1="374.2" x2="464.5" y2="402.5" stroke="#555" stroke-width="0.8"/>
<rect x="452.5" y="354.2" width="23.80000000000001" height="20.0" fill="none" stroke="#555" stroke-width="0.9"/>
<line x1="452.5" y1="369.1" x2="476.3" y2="369.1" stroke="#555" stroke-width="0.9"/>
<line x1="497.3" y1="328.7" x2="497.3" y2="353.3" stroke="#555" stroke-width="0.8"/>
<line x1="497.3" y1="376" x2="497.3" y2="406" stroke="#555" stroke-width="0.8"/>
<rect x="485.8" y="353.3" width="23.69999999999999" height="22.69999999999999" fill="none" stroke="#555" stroke-width="0.9"/>
<line x1="485.8" y1="369.1" x2="509.5" y2="369.1" stroke="#555" stroke-width="0.9"/>
<line x1="446.3" y1="361.5" x2="513.1" y2="361.5" stroke="#777" stroke-width="1" stroke-dasharray="3.2 2"/>
<text x="464.5" y="436" font-size="8.6" text-anchor="middle" fill="#222" >Down</text>
<text x="497.3" y="436" font-size="8.6" text-anchor="middle" fill="#222" >Up</text>
<text x="480.9" y="446" font-size="9.6" text-anchor="middle" fill="#222" textLength="63" lengthAdjust="spacingAndGlyphs" >Compartment rank</text>
<text transform="translate(429.5,368) rotate(-90)" font-size="9.4" text-anchor="middle" fill="#222" textLength="52.5" lengthAdjust="spacingAndGlyphs">log<tspan font-size="5.6" dy="2">2</tspan><tspan dy="-2">FC RNA-seq</tspan></text>
<text x="5.8" y="482.6" font-size="12.5" text-anchor="start" fill="#000" font-weight="bold" >E</text>
<path d="M57.5 490.5L58 490.4L58 490.2L60 490.2L60 490.2L62 490.5L62 490.5L64 490.2L64 490.4L66 490.4L66 490.4L68 490.3L68 490.4L70 490.3L70 490.2L72 490.3L72 490.5L74 490.2L74 490.4L76 490.2L76 490.3L78 490.2L78 490.3L80 490.3L80 490.2L82 490.4L82 490.3L84 490.2L84 490.3L86 490.2L86 490.3L88 490.2L88 490.2L90 490.3L90 490.3L92 490.3L92 490.4L94 490.3L94 490.5L96 490.4L96 490.3L98 490.2L98 490.2L100 490.4L100 490.2L102 490.4L102 490.4L104 490.3L104 490.3L106 490.3L106 490.2L108 490.5L108 490.4L110 490.5L110 490.5L112 490.2L112 490.3L114 490.4L114 490.4L116 490.4L116 490.4L118 490.2L118 490.2L120 490.4L120 490.4L122 490.4L122 490.4L124 490.2L124 490.3L126 490.5L126 490.4L128 490.3L128 490.2L130 490.3L130 490.2L132 489.4L132 490.4L134 490.4L134 490.5L136 490.3L136 490.4L138 490.3L138 490.4L140 490.3L140 490.3L142 490.5L142 490.3L144 490.4L144 490.3L146 490.4L146 490.3L148 490.5L148 490.2L150 490.5L150 490.3L152 490.3L152 490.5L154 490.3L154 490.2L156 490.4L156 490.5L158 490.2L158 490.2L160 490.2L160 490.2L162 490.4L162 490.5L164 490.3L164 490.3L166 490.3L166 490.4L168 490.2L168 489.7L170 490.2L170 490.3L172 490.3L172 489.9L174 490.2L174 490.4L176 490.2L176 490.2L178 490.5L178 490.2L180 490.2L180 490.5L182 490.4L182 490.3L184 489.1L184 490.4L186 490.2L186 490.3L188 490.5L188 490.4L190 490.4L190 490.4L192 490.4L192 490.2L194 490.5L194 490.2L196 490.3L196 490.4L198 490.3L198 490.2L200 489.4L200 490.5L202 490.2L202 490.4L204 490.4L204 490.3L206 490.4L206 490.4L208 490.2L208 490.2L210 490.4L210 490.5L212 490.5L212 490.3L214 490.2L214 490.2L216 490.3L216 490.3L218 490.2L218 490.3L220 490.2L220 490.2L222 490.5L222 490.2L224 490.2L224 490.5L226 490.3L226 490.3L228 490.2L228 490.2L230 490.3L230 490.4L232 490.3L232 490.3L234 490.4L234 490.2L236 490.4L236 490.4L238 490.2L238 490.2L240 490.3L240 490.5L242 490.3L242 490.4L244 490.3L244 490.3L246 490.3L246 490.3L248 490.5L248 490.5L250 490.2L250 490.2L252 490.2L252 490.4L254 490.4L254 490.3L256 490.4L256 490.3L258 490.3L258 490.5L260 490.5L260 490.3L262 490.3L262 490.3L264 490.3L264 490.2L266 490.2L266 490.4L268 490.2L268 490.4L270 490.3L270 490.3L272 490.4L272 490.2L274 490.2L274 490.5L276 490.3L276 490.4L278 490.5L278 490.3L280 490.2L280 490.2L282 490.2L282 490.2L284 490.2L284 490.2L286 490.2L286 490.3L288 490.4L288 490.2L290 490.4L290 490.3L292 490.4L292 490.4L294 490.5L294 490.4L296 490.3L296 490.2L298 490.2L298 490.3L300 490.3L300 490.2L302 490.3L302 490.4L304 490.2L304 490.2L306 490.2L306 490.4L308 490.4L308 490.2L310 490.5L310 490.4L312 490.3L312 490.3L314 490.4L314 490.4L316 490.3L316 490.3L318 490.5L318 490.2L320 490.2L320 490.2L322 490.3L322 490.5L324 490.5L324 490.2L326 490.2L326 489.4L328 490.4L328 490.2L330 490.3L330 490.3L332 490.2L332 490.3L334 490.2L334 490.3L336 490.4L336 490.5L338 490.3L338 490.4L340 490.5L340 490.4L342 490.3L342 490.5L344 490.5L344 490.2L346 490.3L346 490.3L348 490.2L348 490.2L350 490.3L350 490.5L352 490.5L352 490.3L354 490.2L354 490.2L356 490.3L356 490.2L358 490.3L358 490.5L360 490.3L360 490.3L362 490.2L362 490.3L364 490.3L364 490.2L366 490.4L366 490.4L368 490.4L368 490.4L370 490.4L370 490.2L372 490.5L372 490.5L374 490.4L374 490.3L376 490.3L376 490.3L378 490.4L378 490.2L380 490.2L380 490.3L382 490.4L382 490.3L384 490.3L384 490.2L386 490.4L386 490.5L388 490.3L388 490.2L390 490.4L390 490.3L392 490.4L392 490.2L394 490.4L394 490.2L396 490.3L396 490.2L398 490.2L398 490.5L400 490.5L400 490.2L402 490.3L402 490.4L404 490.2L404 490.4L406 490.4L406 490.2L408 490.4L408 490.4L410 490.2L410 490.4L412 490.3L412 490.2L414 490.4L414 490.4L416 490.4L416 490.2L418 490.3L418 490.2L420 490.2L420 490.4L422 490.3L422 490.4L424 490.4L424 490.4L426 490.3L426 490.2L428 490.4L428 490.3L430 490.4L430 490.4L432 490.2L432 490.2L434 490.2L434 490.5L436 490.3L436 490.3L438 490.3L438 490.3L440 490.3L440 490.2L442 490.3L442 490.2L444 490.3L444 490.4L446 490.4L446 490.3L448 490.2L448 490.4L450 490.3L450 490.5L452 490.2L452 490.4L454 490.2L454 490.3L456 490.2L456 490.3L458 490.3L458 490.2L460 490.4L460 490.3L462 490.3L462 489.6L464 490.0L464 490.4L466 490.2L466 490.3L468 490.2L468 490.4L470 490.3L470 490.4L472 490.5L472 490.2L474 490.2L474 490.5L476 490.2L476 490.4L478 490.2L478 490.2L480 490.3L480 490.3L482 490.3L482 490.4L484 490.3L484 490.2L486 490.2L486 490.4L488 490.2L488 490.4L490 490.2L490 490.4L492 490.2L492 490.4L494 490.5L494 490.2L496 490.2L496 490.4L498 490.4L498 490.5L500 490.4L500 490.3L502 490.0L502 490.4L504 490.5L504 490.5L506 490.3L506 490.5L508 490.4L508 490.3L510 490.5L510 490.3L512 490.3L512 490.5Z" fill="#a6a6a6" stroke="#a6a6a6" stroke-width="0.2"/>
<path d="M90.5 490.5L91.3 487.3L91.3 482.4L92.1 482.4L92.1 487.3L92.9 490.5Z" fill="#a6a6a6"/>
<path d="M218.8 490.5L219.6 488.4L219.6 485.3L220.4 485.3L220.4 488.4L221.2 490.5Z" fill="#a6a6a6"/>
<path d="M228.6 490.5L229.4 485.9L229.4 479.0L230.2 479.0L230.2 485.9L231.0 490.5Z" fill="#a6a6a6"/>
<path d="M232.8 490.5L233.6 489.4L233.6 487.6L234.4 487.6L234.4 489.4L235.2 490.5Z" fill="#a6a6a6"/>
<path d="M237.4 490.5L238.2 488.9L238.2 486.5L239.0 486.5L239.0 488.9L239.8 490.5Z" fill="#a6a6a6"/>
<path d="M298.2 490.5L299.0 487.7L299.0 483.6L299.8 483.6L299.8 487.7L300.6 490.5Z" fill="#a6a6a6"/>
<path d="M360.1 490.5L360.9 487.3L360.9 482.4L361.7 482.4L361.7 487.3L362.5 490.5Z" fill="#a6a6a6"/>
<path d="M379.1 490.5L379.9 489.9L379.9 489.1L380.7 489.1L380.7 489.9L381.5 490.5Z" fill="#a6a6a6"/>
<path d="M476.3 490.5L477.1 489.7L477.1 488.4L477.9 488.4L477.9 489.7L478.7 490.5Z" fill="#a6a6a6"/>
<path d="M480.8 490.5L481.6 488.0L481.6 484.2L482.4 484.2L482.4 488.0L483.2 490.5Z" fill="#a6a6a6"/>
<line x1="57.5" y1="490.5" x2="512" y2="490.5" stroke="#a6a6a6" stroke-width="0.9"/>
<text x="59" y="479" font-size="6.8" text-anchor="start" fill="#333" textLength="40" lengthAdjust="spacingAndGlyphs" >[0&#8211;2.95] CTCF</text>
<path d="M57.5 506.3L58 506.1L58 505.9L60 506.1L60 506.2L62 506.2L62 506.2L64 506.3L64 506.3L66 506.2L66 506.2L68 506.1L68 506.1L70 506.3L70 506.0L72 505.9L72 506.1L74 506.1L74 506.3L76 506.1L76 506.3L78 506.3L78 506.2L80 506.2L80 506.2L82 506.0L82 506.0L84 506.1L84 506.2L86 506.0L86 506.3L88 506.3L88 505.9L90 506.0L90 506.0L92 506.0L92 506.2L94 506.0L94 505.9L96 505.9L96 505.9L98 506.2L98 506.1L100 506.2L100 506.2L102 506.3L102 506.2L104 506.3L104 505.9L106 506.3L106 505.2L108 506.0L108 506.1L110 506.2L110 506.0L112 506.1L112 505.9L114 506.0L114 506.1L116 506.2L116 506.2L118 506.2L118 506.1L120 506.0L120 506.2L122 506.1L122 506.1L124 506.0L124 506.2L126 506.1L126 506.3L128 505.9L128 506.1L130 506.2L130 505.9L132 506.1L132 505.9L134 506.1L134 506.2L136 506.2L136 505.9L138 505.8L138 505.4L140 505.2L140 506.0L142 506.2L142 506.1L144 506.2L144 505.6L146 505.4L146 505.7L148 505.9L148 505.9L150 506.3L150 506.1L152 505.9L152 506.2L154 505.9L154 505.9L156 506.1L156 506.2L158 506.3L158 506.0L160 505.6L160 504.8L162 504.9L162 505.7L164 506.1L164 506.0L166 506.1L166 506.0L168 506.0L168 506.2L170 506.2L170 506.1L172 506.1L172 505.3L174 504.4L174 505.0L176 505.8L176 506.1L178 505.9L178 506.1L180 506.0L180 506.2L182 505.9L182 505.9L184 506.3L184 506.3L186 506.2L186 506.3L188 506.3L188 506.3L190 505.9L190 505.9L192 506.0L192 506.0L194 505.9L194 506.0L196 506.1L196 506.1L198 505.9L198 506.0L200 506.1L200 506.3L202 506.2L202 506.1L204 505.9L204 506.2L206 506.3L206 506.0L208 506.1L208 506.1L210 506.0L210 506.3L212 505.9L212 505.9L214 505.4L214 505.0L216 505.7L216 505.7L218 506.0L218 506.1L220 506.1L220 505.9L222 506.0L222 506.2L224 506.0L224 506.2L226 506.2L226 506.2L228 506.0L228 506.0L230 506.1L230 505.6L232 503.9L232 503.5L234 504.3L234 503.0L236 503.0L236 504.4L238 503.5L238 503.8L240 505.5L240 505.9L242 506.2L242 505.9L244 506.1L244 506.0L246 506.1L246 506.2L248 506.1L248 505.4L250 504.8L250 504.3L252 504.1L252 505.0L254 505.9L254 505.9L256 506.0L256 506.2L258 506.2L258 506.2L260 506.0L260 506.1L262 506.0L262 506.1L264 506.0L264 505.9L266 506.1L266 506.0L268 506.0L268 506.0L270 506.1L270 506.3L272 506.1L272 506.2L274 506.0L274 505.9L276 506.2L276 506.1L278 506.2L278 506.3L280 506.1L280 506.2L282 506.0L282 506.1L284 506.2L284 506.3L286 506.0L286 506.2L288 505.9L288 506.3L290 506.0L290 506.0L292 506.2L292 506.3L294 506.3L294 506.1L296 506.2L296 506.1L298 506.1L298 506.3L300 506.3L300 506.3L302 506.2L302 506.1L304 505.4L304 504.5L306 504.5L306 505.5L308 506.2L308 506.0L310 506.0L310 506.0L312 506.2L312 506.0L314 506.3L314 506.0L316 505.9L316 506.2L318 506.3L318 506.1L320 506.0L320 506.0L322 506.0L322 506.1L324 506.1L324 506.0L326 506.2L326 506.1L328 506.3L328 505.9L330 506.3L330 506.0L332 506.3L332 506.2L334 506.3L334 506.1L336 506.1L336 506.3L338 506.0L338 506.0L340 506.2L340 506.0L342 505.9L342 506.0L344 506.3L344 505.9L346 506.0L346 506.1L348 506.2L348 506.0L350 506.0L350 506.3L352 506.2L352 506.0L354 506.2L354 506.1L356 505.9L356 506.2L358 506.1L358 506.0L360 505.9L360 505.5L362 505.4L362 505.8L364 506.1L364 506.2L366 506.1L366 506.0L368 505.9L368 506.2L370 506.1L370 506.1L372 505.9L372 506.0L374 506.0L374 505.9L376 505.9L376 506.0L378 505.9L378 506.3L380 506.0L380 506.0L382 506.0L382 506.3L384 506.2L384 506.1L386 506.2L386 505.9L388 506.2L388 505.9L390 506.1L390 506.0L392 505.9L392 506.1L394 506.1L394 506.0L396 505.7L396 504.7L398 504.0L398 504.7L400 505.8L400 506.2L402 505.9L402 505.9L404 506.0L404 506.2L406 506.1L406 506.2L408 506.1L408 506.0L410 506.1L410 505.9L412 506.1L412 506.3L414 506.2L414 506.0L416 505.9L416 506.0L418 506.2L418 505.9L420 506.3L420 506.1L422 506.2L422 506.2L424 506.1L424 506.1L426 506.1L426 506.1L428 506.3L428 506.3L430 506.2L430 506.3L432 506.3L432 505.9L434 506.1L434 506.1L436 506.3L436 506.0L438 506.0L438 506.0L440 506.0L440 506.1L442 506.2L442 506.3L444 505.9L444 505.9L446 506.0L446 506.2L448 506.2L448 506.1L450 506.1L450 505.9L452 506.0L452 505.9L454 506.2L454 506.2L456 505.9L456 506.2L458 506.0L458 506.3L460 506.0L460 506.2L462 505.6L462 506.1L464 506.2L464 505.9L466 505.9L466 506.0L468 506.0L468 506.1L470 506.0L470 506.0L472 506.2L472 506.3L474 506.1L474 505.5L476 501.1L476 496.1L478 500.1L478 505.1L480 506.2L480 506.2L482 506.1L482 506.1L484 506.0L484 506.0L486 506.0L486 506.2L488 506.0L488 506.3L490 506.3L490 506.0L492 506.0L492 506.0L494 505.9L494 506.0L496 506.0L496 505.9L498 506.3L498 506.3L500 506.1L500 506.3L502 506.0L502 506.2L504 506.0L504 505.2L506 506.0L506 505.9L508 506.0L508 506.2L510 505.9L510 506.1L512 506.1L512 506.3Z" fill="#a6a6a6" stroke="#a6a6a6" stroke-width="0.2"/>
<line x1="57.5" y1="506.3" x2="512" y2="506.3" stroke="#a6a6a6" stroke-width="0.9"/>
<text x="59" y="496.8" font-size="6.8" text-anchor="start" fill="#333" textLength="39.5" lengthAdjust="spacingAndGlyphs" >[0&#8211;3.42] ATAC</text>
<path d="M57.5 520.8L58 520.3L58 520.3L60 519.5L60 519.5L62 520.5L62 519.5L64 519.0L64 519.9L66 520.4L66 519.4L68 519.8L68 520.2L70 520.3L70 519.5L72 519.2L72 519.4L74 519.3L74 519.9L76 520.3L76 519.5L78 519.8L78 519.8L80 519.0L80 519.4L82 518.9L82 519.5L84 519.4L84 519.3L86 519.0L86 519.6L88 519.7L88 518.9L90 517.9L90 519.0L92 520.1L92 518.9L94 519.8L94 520.2L96 520.3L96 519.1L98 519.9L98 519.8L100 519.3L100 520.2L102 520.1L102 520.2L104 519.1L104 519.8L106 519.4L106 518.2L108 519.9L108 518.9L110 519.0L110 520.2L112 519.3L112 519.3L114 519.5L114 519.1L116 519.2L116 518.5L118 517.6L118 519.5L120 519.0L120 517.4L122 519.8L122 518.7L124 520.1L124 518.9L126 516.8L126 519.2L128 520.5L128 519.6L130 519.8L130 519.0L132 519.3L132 517.7L134 520.4L134 519.4L136 519.8L136 518.8L138 518.1L138 519.7L140 518.9L140 519.7L142 520.4L142 520.0L144 519.2L144 519.4L146 520.6L146 518.8L148 518.8L148 517.5L150 519.1L150 519.8L152 519.9L152 518.8L154 520.0L154 519.3L156 519.4L156 519.1L158 517.7L158 519.1L160 520.1L160 518.9L162 519.9L162 519.4L164 519.1L164 518.8L166 519.8L166 519.3L168 518.4L168 517.6L170 519.8L170 520.5L172 518.9L172 517.2L174 520.5L174 519.9L176 519.0L176 520.1L178 519.1L178 519.5L180 520.3L180 518.9L182 519.0L182 519.7L184 519.5L184 520.5L186 519.9L186 519.1L188 519.3L188 519.5L190 519.9L190 519.4L192 520.2L192 520.3L194 518.1L194 520.0L196 520.2L196 517.8L198 518.9L198 517.7L200 520.0L200 516.8L202 519.0L202 519.5L204 518.9L204 520.2L206 519.8L206 519.1L208 520.3L208 519.5L210 519.2L210 519.0L212 520.3L212 520.3L214 518.9L214 520.2L216 518.9L216 517.4L218 516.4L218 518.7L220 519.8L220 518.3L222 519.4L222 519.2L224 519.1L224 518.7L226 518.0L226 518.1L228 516.8L228 519.1L230 515.8L230 518.2L232 518.0L232 518.7L234 518.2L234 519.6L236 518.9L236 519.9L238 516.9L238 518.6L240 519.0L240 518.8L242 518.6L242 519.9L244 520.0L244 520.4L246 518.5L246 518.6L248 517.4L248 518.5L250 518.8L250 517.8L252 520.2L252 519.7L254 518.9L254 520.3L256 520.3L256 519.3L258 519.5L258 518.8L260 519.3L260 520.6L262 519.9L262 520.2L264 520.4L264 518.5L266 519.6L266 518.9L268 519.8L268 518.9L270 519.9L270 520.2L272 518.8L272 519.9L274 519.8L274 519.7L276 519.8L276 519.1L278 519.9L278 519.3L280 519.5L280 519.6L282 519.8L282 519.8L284 520.2L284 520.5L286 519.7L286 520.1L288 520.3L288 518.3L290 518.8L290 520.2L292 520.0L292 519.6L294 519.9L294 519.3L296 519.0L296 519.5L298 519.5L298 519.2L300 518.8L300 519.7L302 519.2L302 519.9L304 519.6L304 519.5L306 520.0L306 518.8L308 519.1L308 520.2L310 520.0L310 520.4L312 518.9L312 519.8L314 519.2L314 519.2L316 520.6L316 519.4L318 519.1L318 520.4L320 520.6L320 519.6L322 516.6L322 520.3L324 520.1L324 519.7L326 519.8L326 518.6L328 520.3L328 519.2L330 519.6L330 520.6L332 519.0L332 519.9L334 517.8L334 520.3L336 519.7L336 519.7L338 520.5L338 519.8L340 519.2L340 518.9L342 519.6L342 519.5L344 519.2L344 519.5L346 520.3L346 520.4L348 519.5L348 519.9L350 520.3L350 519.7L352 520.1L352 519.6L354 519.1L354 520.1L356 518.3L356 520.0L358 519.6L358 520.5L360 519.2L360 519.8L362 520.5L362 519.3L364 519.0L364 519.8L366 518.9L366 519.0L368 518.9L368 519.5L370 519.4L370 520.4L372 518.8L372 518.6L374 519.6L374 519.0L376 519.5L376 518.9L378 519.0L378 520.4L380 519.4L380 520.1L382 519.8L382 520.1L384 518.9L384 519.2L386 519.2L386 517.5L388 520.5L388 519.1L390 517.5L390 520.0L392 517.1L392 518.9L394 519.9L394 518.3L396 519.4L396 518.5L398 518.9L398 519.5L400 520.3L400 518.9L402 520.6L402 518.2L404 519.3L404 518.8L406 519.9L406 519.7L408 519.2L408 519.9L410 520.3L410 518.1L412 520.4L412 519.5L414 519.4L414 520.6L416 519.3L416 518.6L418 518.9L418 520.4L420 519.0L420 519.5L422 519.3L422 520.1L424 519.4L424 519.0L426 516.8L426 518.1L428 520.4L428 519.3L430 518.3L430 519.4L432 519.4L432 518.0L434 519.2L434 518.9L436 519.2L436 519.0L438 517.4L438 518.6L440 518.5L440 518.9L442 518.7L442 518.9L444 516.0L444 519.7L446 518.7L446 519.8L448 518.5L448 519.7L450 518.1L450 518.6L452 519.5L452 520.4L454 518.7L454 519.9L456 518.9L456 518.4L458 519.0L458 519.5L460 519.7L460 517.7L462 518.8L462 519.5L464 518.5L464 519.6L466 518.5L466 516.3L468 516.0L468 519.0L470 518.6L470 519.1L472 519.7L472 519.2L474 519.1L474 518.4L476 515.4L476 510.2L478 515.3L478 517.1L480 520.1L480 518.9L482 520.2L482 517.8L484 519.3L484 520.0L486 520.1L486 520.4L488 519.0L488 518.8L490 519.3L490 519.2L492 519.7L492 519.7L494 518.8L494 518.6L496 520.0L496 518.9L498 520.5L498 520.2L500 516.4L500 519.1L502 519.6L502 519.1L504 519.8L504 517.8L506 520.3L506 516.9L508 519.6L508 519.3L510 519.0L510 519.2L512 519.8L512 520.8Z" fill="#a6a6a6" stroke="#a6a6a6" stroke-width="0.2"/>
<line x1="57.5" y1="520.8" x2="512" y2="520.8" stroke="#a6a6a6" stroke-width="0.9"/>
<text x="59" y="512" font-size="6.8" text-anchor="start" fill="#333" textLength="50.4" lengthAdjust="spacingAndGlyphs" >[0&#8211;0.54] H3K27ac</text>
<path d="M57.5 537.1L58 536.8L58 536.8L60 536.9L60 536.9L62 537.0L62 537.1L64 536.8L64 536.9L66 537.0L66 536.9L68 537.0L68 536.8L70 536.8L70 536.8L72 536.8L72 537.0L74 536.9L74 536.9L76 537.0L76 536.8L78 536.5L78 537.1L80 537.0L80 536.9L82 536.9L82 537.1L84 537.0L84 537.0L86 536.8L86 537.0L88 536.8L88 536.8L90 537.1L90 536.8L92 536.9L92 537.0L94 537.1L94 536.9L96 537.1L96 537.1L98 537.1L98 537.0L100 536.8L100 537.0L102 536.9L102 536.8L104 537.0L104 536.8L106 536.8L106 536.8L108 536.8L108 537.0L110 537.0L110 537.1L112 537.1L112 536.8L114 536.9L114 537.0L116 536.9L116 536.9L118 537.1L118 537.1L120 536.8L120 536.8L122 537.0L122 537.0L124 536.8L124 536.9L126 536.8L126 536.8L128 537.0L128 536.8L130 536.9L130 537.1L132 536.8L132 536.9L134 536.9L134 536.8L136 537.1L136 536.9L138 536.9L138 537.0L140 536.9L140 536.9L142 536.8L142 536.2L144 537.1L144 537.0L146 536.9L146 536.8L148 536.8L148 536.9L150 536.9L150 536.9L152 536.8L152 537.1L154 537.0L154 536.9L156 537.0L156 536.9L158 536.9L158 537.1L160 537.0L160 537.1L162 536.8L162 536.9L164 536.8L164 537.0L166 537.0L166 536.9L168 536.8L168 537.0L170 537.1L170 537.1L172 537.1L172 536.8L174 536.8L174 537.1L176 537.1L176 536.8L178 537.0L178 536.9L180 537.0L180 537.0L182 537.1L182 537.1L184 537.0L184 537.1L186 536.9L186 537.1L188 536.8L188 537.0L190 536.9L190 536.9L192 536.1L192 536.9L194 536.8L194 537.1L196 536.8L196 536.9L198 536.9L198 537.1L200 537.0L200 536.9L202 536.9L202 536.8L204 536.9L204 537.0L206 536.8L206 537.1L208 536.8L208 537.0L210 536.8L210 536.8L212 537.1L212 536.9L214 536.9L214 537.0L216 537.1L216 536.8L218 537.1L218 536.9L220 536.8L220 536.9L222 536.9L222 536.9L224 536.9L224 537.0L226 536.9L226 537.0L228 536.8L228 537.0L230 537.0L230 537.1L232 537.1L232 537.0L234 537.0L234 537.0L236 536.8L236 536.9L238 536.9L238 536.8L240 536.9L240 536.8L242 537.0L242 537.1L244 536.9L244 536.8L246 536.9L246 536.9L248 537.1L248 536.9L250 536.9L250 536.9L252 536.8L252 536.8L254 536.8L254 536.9L256 537.0L256 536.1L258 536.8L258 536.9L260 535.8L260 536.8L262 537.0L262 536.8L264 537.0L264 536.9L266 537.0L266 536.9L268 536.8L268 536.8L270 536.9L270 537.0L272 537.0L272 536.9L274 537.0L274 537.0L276 536.8L276 536.9L278 536.9L278 536.8L280 536.8L280 536.9L282 536.8L282 536.9L284 537.0L284 537.1L286 537.0L286 536.9L288 537.0L288 537.0L290 536.9L290 537.0L292 536.9L292 536.8L294 536.8L294 536.8L296 536.9L296 536.4L298 536.8L298 536.8L300 537.0L300 536.9L302 537.0L302 536.9L304 536.8L304 537.0L306 537.0L306 536.8L308 537.0L308 537.0L310 537.0L310 536.9L312 536.8L312 536.8L314 536.4L314 537.0L316 536.8L316 536.9L318 536.9L318 536.8L320 537.0L320 537.0L322 537.0L322 536.6L324 537.0L324 536.8L326 537.0L326 536.8L328 536.9L328 536.8L330 536.8L330 536.8L332 536.8L332 536.8L334 536.8L334 537.1L336 536.8L336 537.0L338 537.0L338 537.0L340 536.9L340 536.0L342 536.9L342 537.0L344 536.8L344 537.0L346 537.0L346 536.9L348 536.8L348 537.0L350 536.9L350 537.1L352 537.0L352 537.0L354 537.0L354 537.1L356 537.1L356 536.9L358 537.1L358 536.8L360 536.8L360 537.0L362 536.9L362 536.8L364 537.0L364 536.9L366 537.0L366 536.8L368 536.9L368 536.9L370 536.8L370 536.9L372 537.1L372 537.0L374 536.9L374 536.8L376 536.9L376 536.9L378 537.1L378 536.8L380 537.0L380 537.0L382 536.9L382 536.9L384 536.9L384 537.1L386 536.8L386 536.8L388 536.8L388 536.8L390 537.0L390 536.9L392 536.9L392 537.1L394 536.9L394 536.9L396 536.8L396 537.0L398 536.8L398 536.8L400 535.9L400 536.8L402 536.8L402 537.1L404 536.9L404 537.0L406 536.9L406 537.0L408 536.9L408 537.1L410 536.8L410 537.0L412 536.8L412 536.8L414 536.8L414 536.8L416 536.8L416 537.0L418 537.0L418 536.9L420 537.1L420 535.7L422 536.9L422 536.8L424 536.9L424 536.9L426 537.0L426 536.8L428 536.8L428 536.8L430 537.0L430 536.8L432 536.8L432 536.9L434 536.9L434 536.8L436 536.9L436 536.9L438 536.8L438 537.1L440 536.9L440 536.8L442 536.8L442 537.0L444 536.9L444 536.9L446 537.1L446 536.9L448 537.1L448 536.3L450 536.8L450 536.9L452 537.0L452 536.9L454 537.0L454 536.9L456 536.9L456 536.8L458 536.8L458 536.9L460 537.0L460 536.7L462 536.8L462 537.0L464 536.8L464 537.1L466 537.0L466 537.1L468 536.9L468 536.8L470 536.9L470 536.8L472 536.8L472 536.8L474 537.0L474 537.0L476 536.8L476 537.0L478 537.0L478 536.9L480 536.8L480 536.9L482 536.9L482 536.8L484 536.9L484 537.0L486 536.9L486 536.8L488 536.9L488 537.0L490 537.0L490 536.8L492 536.9L492 537.0L494 536.8L494 536.9L496 535.9L496 536.9L498 537.0L498 536.9L500 536.8L500 536.9L502 537.0L502 536.8L504 536.8L504 537.0L506 536.9L506 536.8L508 537.0L508 536.9L510 536.8L510 536.8L512 536.9L512 537.1Z" fill="#c8102e" stroke="#c8102e" stroke-width="0.2"/>
<path d="M90.5 537.1L91.3 532.5L91.3 525.6L92.1 525.6L92.1 532.5L92.9 537.1Z" fill="#c8102e"/>
<path d="M218.8 537.1L219.6 534.3L219.6 530.2L220.4 530.2L220.4 534.3L221.2 537.1Z" fill="#c8102e"/>
<path d="M228.6 537.1L229.4 532.5L229.4 525.6L230.2 525.6L230.2 532.5L231.0 537.1Z" fill="#c8102e"/>
<path d="M232.8 537.1L233.6 536.0L233.6 534.2L234.4 534.2L234.4 536.0L235.2 537.1Z" fill="#c8102e"/>
<path d="M237.4 537.1L238.2 535.5L238.2 533.1L239.0 533.1L239.0 535.5L239.8 537.1Z" fill="#c8102e"/>
<path d="M298.2 537.1L299.0 534.3L299.0 530.2L299.8 530.2L299.8 534.3L300.6 537.1Z" fill="#c8102e"/>
<path d="M360.1 537.1L360.9 533.9L360.9 529.1L361.7 529.1L361.7 533.9L362.5 537.1Z" fill="#c8102e"/>
<path d="M379.1 537.1L379.9 536.5L379.9 535.7L380.7 535.7L380.7 536.5L381.5 537.1Z" fill="#c8102e"/>
<path d="M476.3 537.1L477.1 536.3L477.1 535.0L477.9 535.0L477.9 536.3L478.7 537.1Z" fill="#c8102e"/>
<path d="M480.8 537.1L481.6 535.5L481.6 533.1L482.4 533.1L482.4 535.5L483.2 537.1Z" fill="#c8102e"/>
<line x1="57.5" y1="537.1" x2="512" y2="537.1" stroke="#c8102e" stroke-width="0.9"/>
<text x="59" y="527.7" font-size="6.8" text-anchor="start" fill="#333" textLength="40" lengthAdjust="spacingAndGlyphs" >[0&#8211;2.95] CTCF</text>
<path d="M57.5 553.3L58 553.0L58 552.9L60 553.1L60 553.2L62 553.1L62 553.0L64 553.1L64 553.2L66 552.9L66 553.0L68 553.0L68 553.1L70 553.0L70 553.3L72 553.1L72 553.2L74 552.9L74 553.0L76 552.9L76 553.0L78 553.1L78 553.3L80 553.0L80 553.0L82 552.9L82 553.1L84 552.9L84 553.2L86 552.9L86 553.0L88 553.0L88 552.9L90 552.9L90 553.2L92 553.0L92 553.1L94 553.3L94 553.2L96 553.3L96 553.0L98 553.0L98 553.0L100 552.9L100 553.2L102 553.2L102 552.9L104 553.0L104 553.1L106 553.2L106 553.1L108 553.3L108 553.2L110 553.2L110 553.1L112 553.2L112 553.2L114 553.1L114 552.9L116 553.1L116 553.0L118 553.1L118 553.3L120 553.3L120 553.1L122 553.0L122 553.2L124 553.1L124 553.3L126 553.1L126 553.0L128 553.0L128 553.1L130 553.2L130 553.2L132 553.3L132 553.0L134 553.1L134 553.0L136 553.1L136 553.0L138 552.8L138 551.5L140 551.5L140 552.6L142 552.9L142 552.9L144 552.9L144 552.1L146 551.0L146 551.8L148 552.8L148 553.2L150 553.2L150 553.0L152 553.2L152 553.1L154 553.1L154 553.1L156 552.9L156 553.2L158 553.1L158 553.1L160 552.0L160 549.5L162 549.7L162 552.0L164 552.9L164 553.3L166 553.3L166 553.0L168 553.1L168 553.1L170 553.1L170 553.2L172 552.9L172 551.3L174 549.2L174 550.7L176 552.7L176 552.9L178 553.2L178 553.1L180 553.3L180 553.0L182 552.9L182 553.1L184 553.1L184 553.2L186 553.1L186 553.0L188 553.1L188 553.2L190 553.1L190 553.3L192 553.0L192 553.2L194 553.0L194 553.2L196 553.0L196 553.1L198 553.1L198 553.1L200 553.2L200 553.2L202 552.9L202 553.3L204 553.2L204 553.2L206 553.2L206 553.0L208 553.1L208 553.3L210 553.2L210 552.9L212 553.0L212 553.0L214 551.7L214 550.6L216 551.7L216 552.8L218 553.0L218 553.2L220 553.1L220 552.9L222 553.3L222 553.1L224 553.0L224 553.2L226 553.2L226 553.0L228 553.0L228 553.0L230 553.0L230 552.4L232 550.4L232 550.6L234 551.1L234 549.6L236 549.5L236 551.3L238 550.4L238 550.3L240 552.4L240 553.1L242 553.1L242 553.1L244 553.0L244 553.0L246 553.2L246 553.1L248 553.2L248 552.3L250 551.6L250 550.9L252 551.0L252 552.2L254 553.1L254 553.2L256 553.0L256 553.0L258 553.3L258 553.3L260 553.1L260 553.3L262 553.3L262 553.2L264 553.2L264 552.9L266 553.3L266 553.3L268 553.2L268 552.9L270 553.0L270 553.0L272 553.2L272 553.0L274 553.2L274 553.1L276 553.2L276 553.1L278 553.1L278 553.3L280 552.9L280 553.0L282 553.3L282 553.2L284 553.1L284 553.0L286 553.0L286 552.9L288 553.2L288 552.9L290 553.1L290 553.2L292 553.2L292 552.9L294 553.2L294 553.2L296 553.1L296 551.9L298 553.2L298 553.3L300 553.0L300 553.0L302 553.1L302 553.0L304 552.3L304 551.2L306 551.6L306 552.7L308 552.9L308 553.0L310 553.0L310 553.1L312 552.9L312 553.3L314 553.0L314 552.1L316 553.2L316 553.2L318 553.1L318 553.0L320 553.0L320 553.1L322 552.3L322 553.1L324 553.0L324 553.2L326 553.2L326 553.2L328 553.1L328 553.1L330 553.2L330 553.2L332 553.0L332 553.0L334 552.9L334 553.3L336 552.9L336 553.1L338 553.1L338 553.0L340 552.9L340 553.3L342 553.1L342 553.2L344 553.2L344 553.1L346 553.0L346 553.1L348 553.1L348 553.2L350 553.0L350 552.9L352 553.2L352 553.0L354 553.1L354 552.9L356 553.1L356 553.0L358 553.3L358 552.9L360 552.7L360 552.5L362 552.5L362 552.9L364 553.0L364 553.0L366 553.0L366 553.1L368 553.0L368 553.0L370 552.9L370 552.9L372 553.0L372 553.2L374 553.3L374 553.2L376 553.0L376 553.1L378 552.9L378 553.2L380 553.1L380 553.2L382 552.9L382 553.2L384 553.2L384 553.0L386 553.0L386 553.2L388 553.0L388 552.9L390 553.2L390 553.2L392 553.0L392 553.2L394 553.3L394 552.9L396 552.9L396 551.8L398 550.8L398 551.7L400 552.7L400 553.0L402 552.9L402 553.2L404 553.0L404 553.2L406 553.1L406 553.3L408 553.1L408 553.0L410 553.0L410 553.3L412 552.9L412 553.0L414 553.3L414 553.0L416 553.2L416 553.0L418 553.0L418 552.9L420 553.2L420 553.2L422 552.9L422 553.1L424 553.1L424 553.0L426 553.1L426 553.2L428 553.2L428 553.1L430 553.0L430 553.1L432 552.9L432 553.1L434 553.2L434 552.1L436 553.0L436 553.1L438 553.1L438 553.3L440 553.3L440 553.2L442 553.1L442 553.3L444 553.2L444 553.0L446 552.9L446 553.2L448 553.2L448 553.2L450 552.9L450 552.9L452 553.3L452 552.9L454 553.1L454 552.0L456 553.1L456 553.2L458 553.0L458 553.3L460 553.1L460 553.2L462 551.9L462 553.3L464 553.3L464 553.0L466 553.2L466 553.2L468 553.1L468 553.1L470 552.9L470 553.2L472 553.2L472 553.1L474 553.3L474 552.6L476 550.2L476 546.9L478 549.3L478 552.3L480 553.2L480 553.1L482 553.2L482 553.1L484 553.3L484 553.3L486 553.1L486 553.1L488 553.1L488 553.2L490 553.1L490 553.2L492 553.0L492 552.1L494 553.0L494 553.2L496 552.9L496 553.2L498 552.9L498 553.1L500 553.0L500 553.2L502 552.9L502 553.0L504 552.9L504 553.2L506 553.2L506 553.3L508 553.1L508 553.0L510 553.0L510 553.2L512 553.0L512 553.3Z" fill="#c8102e" stroke="#c8102e" stroke-width="0.2"/>
<line x1="57.5" y1="553.3" x2="512" y2="553.3" stroke="#c8102e" stroke-width="0.9"/>
<text x="59" y="544.6" font-size="6.8" text-anchor="start" fill="#333" textLength="39.5" lengthAdjust="spacingAndGlyphs" >[0&#8211;3.42] ATAC</text>
<path d="M57.5 568.8L58 567.3L58 567.0L60 566.3L60 568.2L62 567.4L62 566.1L64 567.4L64 568.0L66 564.4L66 567.7L68 565.3L68 567.8L70 566.2L70 566.2L72 568.4L72 566.9L74 568.6L74 566.9L76 565.1L76 568.2L78 566.2L78 567.9L80 564.8L80 566.8L82 566.7L82 567.1L84 568.3L84 567.3L86 566.2L86 566.8L88 566.2L88 567.6L90 567.3L90 564.1L92 566.6L92 566.2L94 567.0L94 568.0L96 563.8L96 567.7L98 566.1L98 567.9L100 566.5L100 567.5L102 566.2L102 567.8L104 566.9L104 566.5L106 566.3L106 567.0L108 564.2L108 567.2L110 567.2L110 566.4L112 568.0L112 567.3L114 568.4L114 567.5L116 566.9L116 566.3L118 566.2L118 565.4L120 566.7L120 567.5L122 568.4L122 568.1L124 566.9L124 566.8L126 565.2L126 564.4L128 567.3L128 564.4L130 567.7L130 565.4L132 564.4L132 565.6L134 566.2L134 563.7L136 566.9L136 564.9L138 566.5L138 564.0L140 567.2L140 566.3L142 565.4L142 567.1L144 566.1L144 565.7L146 565.2L146 565.8L148 566.8L148 563.5L150 565.7L150 566.4L152 565.5L152 564.8L154 566.2L154 564.4L156 565.9L156 564.9L158 566.6L158 564.5L160 566.0L160 568.3L162 566.3L162 566.7L164 563.4L164 564.8L166 566.1L166 566.9L168 566.1L168 566.7L170 567.6L170 567.5L172 568.0L172 564.6L174 568.1L174 566.3L176 566.2L176 567.8L178 566.6L178 566.2L180 564.0L180 566.5L182 566.9L182 567.3L184 567.6L184 566.3L186 566.2L186 567.7L188 568.6L188 568.5L190 568.4L190 568.4L192 567.4L192 567.5L194 566.2L194 567.7L196 568.0L196 566.2L198 568.1L198 567.8L200 566.8L200 566.4L202 564.1L202 564.4L204 564.6L204 566.8L206 567.7L206 565.9L208 567.4L208 565.5L210 565.4L210 566.6L212 564.5L212 565.7L214 565.2L214 566.0L216 565.2L216 567.0L218 564.6L218 565.6L220 562.0L220 566.8L222 561.6L222 564.4L224 567.0L224 566.2L226 564.8L226 567.2L228 568.5L228 567.5L230 566.6L230 565.0L232 566.7L232 567.1L234 566.7L234 567.4L236 568.4L236 568.0L238 567.1L238 567.7L240 567.2L240 566.2L242 566.6L242 567.2L244 566.9L244 568.3L246 566.3L246 566.9L248 565.0L248 566.8L250 567.5L250 567.1L252 567.0L252 566.6L254 568.6L254 568.6L256 567.4L256 564.0L258 562.6L258 565.4L260 566.2L260 567.7L262 565.9L262 568.1L264 566.0L264 568.5L266 566.1L266 568.4L268 566.8L268 568.4L270 567.2L270 567.7L272 564.0L272 568.4L274 567.5L274 568.3L276 566.9L276 566.5L278 568.3L278 567.4L280 566.1L280 567.7L282 568.6L282 567.4L284 567.5L284 566.6L286 567.0L286 566.1L288 567.6L288 566.3L290 566.7L290 566.7L292 565.3L292 563.1L294 567.0L294 566.2L296 565.6L296 566.3L298 568.0L298 568.0L300 566.9L300 566.2L302 567.1L302 568.0L304 565.1L304 566.3L306 563.7L306 566.5L308 568.4L308 566.0L310 566.4L310 567.6L312 565.2L312 567.4L314 566.9L314 564.8L316 568.0L316 567.9L318 563.4L318 565.4L320 563.5L320 567.5L322 566.1L322 568.0L324 568.2L324 566.5L326 567.1L326 566.6L328 568.4L328 568.4L330 566.4L330 566.6L332 566.9L332 567.8L334 563.9L334 567.4L336 567.5L336 566.9L338 567.0L338 566.0L340 566.8L340 567.9L342 568.6L342 566.7L344 566.9L344 562.8L346 568.1L346 567.7L348 567.5L348 567.1L350 566.4L350 567.2L352 566.6L352 568.0L354 567.4L354 568.3L356 567.6L356 566.2L358 568.0L358 566.1L360 567.5L360 568.6L362 566.7L362 566.0L364 566.5L364 566.1L366 567.6L366 567.1L368 566.9L368 566.7L370 566.3L370 567.7L372 564.0L372 566.8L374 566.4L374 567.0L376 566.7L376 566.1L378 567.5L378 567.8L380 565.3L380 566.6L382 568.3L382 568.4L384 566.2L384 566.8L386 568.0L386 566.0L388 568.4L388 567.3L390 567.3L390 567.4L392 566.9L392 566.1L394 564.7L394 566.8L396 567.0L396 566.4L398 568.2L398 568.5L400 567.5L400 566.7L402 566.0L402 568.1L404 566.4L404 567.0L406 566.2L406 563.9L408 566.8L408 566.8L410 567.2L410 566.6L412 567.0L412 566.7L414 568.1L414 568.4L416 568.4L416 567.6L418 565.1L418 567.0L420 567.1L420 568.5L422 566.5L422 564.1L424 565.6L424 565.6L426 566.4L426 564.3L428 567.8L428 567.0L430 567.1L430 566.5L432 566.5L432 567.1L434 566.3L434 568.4L436 566.6L436 567.9L438 567.3L438 565.3L440 567.8L440 567.8L442 568.4L442 567.8L444 566.8L444 564.7L446 566.6L446 566.6L448 566.2L448 566.4L450 568.4L450 566.2L452 566.2L452 567.5L454 567.6L454 567.4L456 567.5L456 566.8L458 567.2L458 564.2L460 567.4L460 567.1L462 567.3L462 566.9L464 566.1L464 566.5L466 565.7L466 565.9L468 566.7L468 568.6L470 568.6L470 566.3L472 568.6L472 567.6L474 568.1L474 567.1L476 563.0L476 562.0L478 560.2L478 562.3L480 565.6L480 567.5L482 566.2L482 566.9L484 567.9L484 566.7L486 566.9L486 563.4L488 568.2L488 566.6L490 566.1L490 566.8L492 568.5L492 568.0L494 567.3L494 568.1L496 567.7L496 568.5L498 566.9L498 566.3L500 567.6L500 568.3L502 567.1L502 566.7L504 567.9L504 567.0L506 567.8L506 565.6L508 567.3L508 567.8L510 566.6L510 568.0L512 566.2L512 568.8Z" fill="#c8102e" stroke="#c8102e" stroke-width="0.2"/>
<line x1="57.5" y1="568.8" x2="512" y2="568.8" stroke="#c8102e" stroke-width="0.9"/>
<text x="59" y="560.8" font-size="6.8" text-anchor="start" fill="#333" textLength="50.4" lengthAdjust="spacingAndGlyphs" >[0&#8211;0.54] H3K27ac</text>
<path d="M57.5 585.2L58 585.0L58 584.9L60 585.0L60 585.2L62 585.1L62 585.1L64 584.9L64 585.1L66 585.1L66 585.0L68 585.2L68 584.9L70 585.2L70 585.0L72 584.9L72 585.0L74 585.0L74 585.0L76 585.2L76 585.1L78 585.0L78 585.1L80 585.0L80 585.0L82 584.9L82 585.0L84 585.1L84 585.0L86 585.1L86 585.0L88 585.1L88 584.9L90 585.0L90 585.2L92 585.1L92 585.0L94 584.9L94 585.0L96 584.9L96 585.1L98 584.9L98 584.9L100 585.0L100 585.1L102 584.9L102 585.1L104 585.1L104 585.0L106 585.2L106 585.1L108 585.0L108 585.2L110 585.0L110 584.9L112 585.1L112 585.2L114 584.9L114 585.1L116 584.9L116 584.9L118 585.1L118 585.1L120 585.2L120 585.1L122 585.0L122 585.0L124 584.9L124 585.1L126 585.0L126 585.1L128 585.0L128 585.1L130 584.9L130 585.1L132 584.4L132 584.9L134 584.9L134 585.2L136 585.2L136 585.0L138 584.9L138 585.0L140 584.9L140 584.9L142 584.9L142 584.9L144 585.2L144 584.9L146 585.1L146 585.1L148 585.2L148 585.2L150 585.1L150 585.0L152 585.2L152 584.9L154 585.0L154 585.1L156 585.1L156 584.9L158 584.9L158 584.9L160 584.9L160 585.0L162 584.9L162 585.1L164 585.0L164 585.0L166 585.0L166 585.2L168 584.9L168 585.2L170 585.1L170 585.0L172 585.0L172 585.1L174 585.0L174 584.9L176 585.1L176 585.0L178 585.1L178 585.1L180 585.2L180 585.1L182 585.2L182 585.1L184 585.1L184 585.0L186 584.9L186 585.0L188 585.2L188 585.0L190 584.9L190 585.1L192 585.0L192 584.6L194 585.0L194 585.0L196 584.9L196 585.0L198 585.1L198 585.2L200 585.0L200 585.1L202 585.1L202 585.2L204 585.1L204 585.2L206 584.9L206 585.0L208 585.0L208 585.1L210 585.2L210 585.1L212 584.9L212 585.1L214 584.9L214 584.9L216 584.2L216 585.1L218 584.9L218 585.0L220 584.9L220 585.1L222 585.0L222 585.2L224 585.0L224 585.1L226 585.1L226 584.9L228 585.0L228 584.9L230 585.1L230 585.0L232 584.9L232 585.0L234 585.1L234 584.9L236 585.1L236 584.9L238 584.3L238 584.1L240 585.2L240 585.1L242 585.0L242 584.1L244 585.1L244 585.0L246 585.1L246 585.1L248 585.2L248 585.1L250 584.9L250 584.9L252 584.9L252 584.9L254 585.2L254 584.9L256 584.9L256 584.9L258 585.0L258 585.2L260 585.0L260 585.2L262 585.0L262 584.9L264 585.0L264 585.1L266 585.1L266 585.1L268 585.1L268 584.9L270 585.1L270 585.0L272 585.1L272 585.2L274 585.0L274 585.0L276 585.0L276 585.1L278 584.9L278 585.1L280 585.1L280 585.0L282 584.9L282 585.1L284 584.1L284 583.9L286 585.2L286 585.0L288 585.2L288 585.1L290 585.0L290 585.2L292 584.9L292 585.1L294 585.0L294 585.2L296 585.0L296 585.1L298 585.0L298 584.9L300 585.1L300 585.2L302 584.9L302 585.1L304 584.9L304 585.1L306 585.2L306 585.0L308 585.0L308 585.1L310 585.1L310 585.2L312 585.0L312 585.0L314 584.9L314 585.2L316 585.0L316 584.9L318 584.7L318 585.0L320 585.2L320 585.0L322 584.9L322 585.1L324 585.0L324 585.0L326 585.0L326 585.0L328 585.1L328 584.9L330 584.9L330 585.0L332 585.1L332 584.9L334 585.2L334 585.1L336 585.1L336 584.9L338 585.1L338 584.9L340 585.1L340 584.5L342 585.0L342 585.1L344 585.0L344 585.1L346 585.0L346 583.9L348 584.9L348 585.1L350 585.1L350 585.2L352 584.9L352 585.1L354 585.0L354 584.9L356 585.0L356 584.9L358 585.1L358 585.1L360 585.1L360 585.2L362 585.0L362 585.0L364 584.9L364 585.0L366 585.1L366 585.0L368 584.9L368 585.0L370 585.2L370 585.2L372 585.1L372 584.9L374 585.0L374 585.1L376 585.0L376 584.9L378 585.0L378 585.1L380 583.9L380 584.9L382 585.2L382 585.2L384 585.0L384 584.9L386 585.0L386 584.9L388 584.9L388 585.1L390 585.0L390 585.0L392 585.1L392 585.1L394 585.1L394 585.0L396 584.9L396 584.9L398 585.0L398 585.2L400 585.2L400 585.1L402 584.9L402 585.0L404 585.0L404 585.0L406 585.0L406 584.9L408 584.9L408 585.0L410 584.9L410 585.0L412 585.0L412 585.0L414 584.9L414 585.2L416 585.0L416 585.0L418 585.2L418 585.0L420 585.1L420 585.0L422 585.2L422 584.9L424 584.9L424 584.9L426 585.1L426 585.0L428 584.9L428 585.1L430 584.9L430 585.1L432 585.1L432 585.2L434 585.1L434 585.0L436 585.2L436 585.0L438 585.0L438 585.1L440 585.0L440 584.9L442 585.1L442 585.1L444 585.0L444 585.2L446 585.0L446 584.9L448 585.0L448 585.2L450 585.0L450 584.9L452 584.9L452 585.0L454 585.1L454 585.0L456 585.0L456 585.1L458 585.1L458 585.1L460 585.1L460 584.9L462 584.8L462 585.1L464 585.2L464 585.2L466 584.9L466 585.1L468 584.9L468 585.2L470 584.9L470 585.0L472 585.1L472 585.0L474 584.8L474 585.1L476 585.1L476 584.9L478 585.0L478 584.9L480 585.0L480 585.0L482 584.9L482 585.0L484 585.2L484 585.0L486 585.0L486 585.1L488 584.9L488 584.9L490 584.9L490 585.0L492 584.9L492 585.0L494 585.0L494 585.1L496 585.1L496 585.2L498 584.9L498 585.1L500 585.0L500 584.9L502 585.0L502 584.9L504 585.0L504 585.2L506 585.0L506 584.9L508 585.2L508 585.0L510 585.0L510 585.0L512 585.1L512 585.2Z" fill="#1c5a8e" stroke="#1c5a8e" stroke-width="0.2"/>
<path d="M90.5 585.2L91.3 580.8L91.3 574.3L92.1 574.3L92.1 580.8L92.9 585.2Z" fill="#1c5a8e"/>
<path d="M218.8 585.2L219.6 582.4L219.6 578.3L220.4 578.3L220.4 582.4L221.2 585.2Z" fill="#1c5a8e"/>
<path d="M228.6 585.2L229.4 580.6L229.4 573.7L230.2 573.7L230.2 580.6L231.0 585.2Z" fill="#1c5a8e"/>
<path d="M232.8 585.2L233.6 584.1L233.6 582.3L234.4 582.3L234.4 584.1L235.2 585.2Z" fill="#1c5a8e"/>
<path d="M237.4 585.2L238.2 583.6L238.2 581.2L239.0 581.2L239.0 583.6L239.8 585.2Z" fill="#1c5a8e"/>
<path d="M298.2 585.2L299.0 582.4L299.0 578.3L299.8 578.3L299.8 582.4L300.6 585.2Z" fill="#1c5a8e"/>
<path d="M360.1 585.2L360.9 582.0L360.9 577.2L361.7 577.2L361.7 582.0L362.5 585.2Z" fill="#1c5a8e"/>
<path d="M379.1 585.2L379.9 584.6L379.9 583.8L380.7 583.8L380.7 584.6L381.5 585.2Z" fill="#1c5a8e"/>
<path d="M476.3 585.2L477.1 584.4L477.1 583.1L477.9 583.1L477.9 584.4L478.7 585.2Z" fill="#1c5a8e"/>
<path d="M480.8 585.2L481.6 583.6L481.6 581.2L482.4 581.2L482.4 583.6L483.2 585.2Z" fill="#1c5a8e"/>
<line x1="57.5" y1="585.2" x2="512" y2="585.2" stroke="#1c5a8e" stroke-width="0.9"/>
<text x="59" y="575.5" font-size="6.8" text-anchor="start" fill="#333" textLength="40" lengthAdjust="spacingAndGlyphs" >[0&#8211;2.95] CTCF</text>
<path d="M57.5 600.9L58 600.9L58 600.7L60 600.7L60 600.5L62 600.6L62 600.6L64 600.6L64 600.1L66 600.6L66 600.7L68 600.8L68 600.9L70 600.6L70 600.8L72 600.7L72 600.8L74 600.6L74 600.9L76 600.2L76 600.7L78 600.8L78 599.8L80 600.7L80 600.7L82 600.6L82 600.8L84 600.8L84 600.6L86 600.6L86 600.6L88 600.7L88 600.8L90 600.8L90 600.7L92 600.9L92 600.7L94 600.6L94 600.7L96 600.9L96 600.9L98 600.7L98 600.8L100 600.8L100 600.8L102 600.8L102 600.6L104 600.5L104 600.6L106 600.5L106 600.9L108 600.5L108 600.7L110 600.9L110 600.6L112 600.7L112 600.7L114 600.6L114 600.9L116 600.7L116 600.8L118 600.9L118 600.8L120 600.7L120 600.8L122 600.8L122 600.8L124 600.7L124 600.8L126 600.8L126 600.8L128 600.8L128 599.7L130 600.9L130 600.4L132 600.9L132 600.7L134 600.5L134 600.5L136 600.7L136 600.9L138 600.4L138 599.2L140 599.2L140 600.4L142 600.9L142 600.8L144 600.7L144 600.2L146 599.3L146 599.5L148 600.3L148 600.9L150 600.8L150 600.7L152 600.8L152 600.6L154 600.8L154 600.7L156 600.6L156 600.9L158 600.6L158 600.8L160 599.9L160 598.3L162 598.1L162 600.0L164 600.5L164 600.8L166 600.6L166 600.9L168 600.5L168 600.7L170 600.9L170 600.8L172 600.5L172 599.4L174 597.6L174 598.8L176 600.2L176 600.8L178 600.9L178 600.9L180 600.6L180 600.7L182 600.7L182 600.5L184 600.6L184 600.5L186 600.9L186 600.7L188 600.9L188 599.8L190 600.7L190 600.8L192 600.5L192 600.8L194 600.7L194 600.6L196 600.5L196 600.8L198 600.6L198 600.6L200 600.6L200 600.6L202 600.5L202 600.6L204 600.9L204 600.5L206 600.8L206 600.9L208 600.8L208 600.6L210 600.9L210 600.8L212 600.6L212 600.3L214 599.7L214 598.8L216 599.6L216 600.4L218 600.6L218 600.8L220 600.7L220 600.6L222 600.5L222 600.7L224 599.9L224 600.9L226 600.8L226 600.8L228 600.6L228 600.7L230 600.7L230 600.1L232 598.7L232 597.5L234 599.5L234 598.0L236 598.0L236 599.5L238 598.6L238 598.6L240 599.9L240 600.7L242 600.6L242 600.8L244 600.8L244 600.9L246 600.8L246 600.8L248 600.5L248 600.1L250 599.3L250 599.2L252 599.0L252 600.0L254 600.7L254 600.5L256 600.6L256 600.7L258 600.6L258 600.6L260 600.6L260 600.8L262 600.6L262 600.5L264 600.9L264 600.7L266 600.6L266 600.5L268 600.7L268 600.6L270 600.8L270 600.5L272 600.5L272 600.9L274 600.7L274 600.7L276 600.6L276 600.7L278 600.6L278 600.7L280 600.8L280 600.7L282 600.8L282 600.6L284 600.7L284 600.7L286 600.7L286 600.8L288 600.5L288 600.6L290 600.7L290 600.6L292 600.7L292 600.7L294 600.7L294 600.6L296 600.8L296 600.7L298 600.5L298 600.6L300 600.7L300 600.7L302 600.8L302 600.7L304 600.4L304 599.5L306 599.4L306 600.4L308 600.7L308 600.6L310 600.7L310 600.8L312 600.8L312 600.8L314 600.7L314 600.6L316 600.6L316 600.7L318 600.7L318 600.7L320 600.8L320 600.6L322 600.8L322 600.7L324 600.8L324 600.1L326 600.6L326 600.6L328 600.8L328 600.6L330 600.8L330 600.9L332 600.7L332 600.6L334 600.8L334 600.7L336 600.7L336 600.7L338 600.6L338 600.9L340 600.7L340 600.6L342 600.7L342 600.8L344 600.8L344 600.6L346 600.8L346 600.7L348 600.9L348 600.8L350 600.9L350 600.7L352 600.7L352 600.8L354 600.7L354 600.9L356 600.8L356 600.6L358 600.5L358 600.9L360 600.4L360 600.4L362 600.3L362 600.3L364 600.6L364 600.5L366 600.5L366 600.8L368 600.6L368 600.7L370 600.7L370 600.6L372 600.8L372 600.6L374 600.7L374 600.9L376 600.8L376 600.7L378 600.6L378 600.8L380 600.7L380 600.5L382 600.8L382 600.7L384 600.5L384 600.9L386 600.8L386 600.7L388 600.5L388 600.9L390 600.8L390 600.8L392 600.5L392 600.8L394 600.7L394 600.6L396 600.2L396 599.8L398 599.0L398 599.8L400 600.7L400 600.7L402 600.6L402 600.6L404 600.5L404 600.6L406 600.7L406 600.6L408 600.8L408 600.9L410 600.7L410 600.8L412 600.8L412 600.7L414 600.7L414 600.8L416 600.7L416 600.8L418 600.8L418 600.9L420 600.6L420 600.9L422 600.5L422 600.8L424 600.8L424 600.7L426 600.8L426 600.7L428 600.5L428 600.7L430 600.6L430 600.7L432 600.9L432 600.7L434 600.9L434 600.8L436 600.7L436 600.9L438 600.9L438 600.7L440 600.8L440 600.7L442 600.8L442 600.9L444 600.6L444 600.6L446 600.8L446 600.6L448 600.5L448 600.5L450 600.8L450 600.9L452 600.6L452 600.8L454 600.8L454 600.9L456 600.7L456 600.6L458 600.5L458 600.8L460 600.6L460 600.6L462 600.6L462 600.7L464 600.8L464 600.8L466 600.8L466 600.6L468 600.9L468 600.7L470 599.7L470 600.8L472 600.9L472 600.3L474 600.5L474 600.1L476 596.9L476 593.3L478 596.0L478 599.8L480 600.6L480 600.8L482 600.9L482 600.8L484 600.7L484 600.8L486 600.8L486 600.8L488 600.7L488 600.9L490 600.5L490 600.8L492 600.7L492 600.7L494 600.8L494 600.7L496 600.8L496 600.7L498 600.5L498 600.9L500 600.5L500 600.8L502 600.8L502 600.7L504 600.3L504 600.9L506 600.6L506 600.6L508 600.7L508 600.6L510 600.7L510 599.9L512 600.7L512 600.9Z" fill="#1c5a8e" stroke="#1c5a8e" stroke-width="0.2"/>
<line x1="57.5" y1="600.9" x2="512" y2="600.9" stroke="#1c5a8e" stroke-width="0.9"/>
<text x="59" y="592.2" font-size="6.8" text-anchor="start" fill="#333" textLength="39.5" lengthAdjust="spacingAndGlyphs" >[0&#8211;3.42] ATAC</text>
<path d="M57.5 617.1L58 615.7L58 616.2L60 615.1L60 615.8L62 615.1L62 616.6L64 614.6L64 616.0L66 616.6L66 615.0L68 616.0L68 615.6L70 616.7L70 615.7L72 614.7L72 615.6L74 615.9L74 615.3L76 615.8L76 612.3L78 615.9L78 615.7L80 615.3L80 615.8L82 616.1L82 612.6L84 615.0L84 615.0L86 615.4L86 615.1L88 615.2L88 615.6L90 614.6L90 615.0L92 616.5L92 616.0L94 615.1L94 613.1L96 614.8L96 615.3L98 615.2L98 614.5L100 613.8L100 613.6L102 615.3L102 614.9L104 613.0L104 615.3L106 615.6L106 616.2L108 612.2L108 613.9L110 616.2L110 614.9L112 615.4L112 615.7L114 615.1L114 614.7L116 614.6L116 614.4L118 614.6L118 616.1L120 616.4L120 615.9L122 616.1L122 615.2L124 614.7L124 615.4L126 616.1L126 616.6L128 615.8L128 616.0L130 615.5L130 613.9L132 615.0L132 613.9L134 616.5L134 612.7L136 610.0L136 613.9L138 615.4L138 614.3L140 611.9L140 613.7L142 613.6L142 615.4L144 614.4L144 613.2L146 612.9L146 616.3L148 615.1L148 614.5L150 614.8L150 612.8L152 616.6L152 616.7L154 615.5L154 614.6L156 615.3L156 614.6L158 615.4L158 616.2L160 614.7L160 616.3L162 615.6L162 616.2L164 615.9L164 616.6L166 615.1L166 616.0L168 614.8L168 616.0L170 616.6L170 616.7L172 615.5L172 616.2L174 615.5L174 615.3L176 615.4L176 616.7L178 616.2L178 613.0L180 615.4L180 613.6L182 615.5L182 615.9L184 614.1L184 616.4L186 615.2L186 616.4L188 616.8L188 615.1L190 614.7L190 614.2L192 615.8L192 612.7L194 614.8L194 614.8L196 616.2L196 613.9L198 613.6L198 615.0L200 615.4L200 615.0L202 615.6L202 614.1L204 610.5L204 612.7L206 611.1L206 614.9L208 614.7L208 614.3L210 614.7L210 616.2L212 614.1L212 614.4L214 614.6L214 615.0L216 614.6L216 615.3L218 614.7L218 616.0L220 615.6L220 615.2L222 614.3L222 614.6L224 615.5L224 615.9L226 616.0L226 615.2L228 614.8L228 616.6L230 616.2L230 616.7L232 616.4L232 614.8L234 616.8L234 615.5L236 615.6L236 612.8L238 613.6L238 615.1L240 612.0L240 616.5L242 616.4L242 615.6L244 615.2L244 616.2L246 614.7L246 614.6L248 615.8L248 616.5L250 616.6L250 615.4L252 614.7L252 614.7L254 616.5L254 616.0L256 616.3L256 613.2L258 612.4L258 611.8L260 615.6L260 615.6L262 615.8L262 614.5L264 615.4L264 616.5L266 614.3L266 615.1L268 616.5L268 614.6L270 616.8L270 611.7L272 613.3L272 615.5L274 616.1L274 616.2L276 614.9L276 615.3L278 615.5L278 614.9L280 616.7L280 616.3L282 615.0L282 616.8L284 615.2L284 614.6L286 616.8L286 616.7L288 615.1L288 615.6L290 615.1L290 615.4L292 616.2L292 615.3L294 614.4L294 615.9L296 615.2L296 615.0L298 615.1L298 616.8L300 615.3L300 615.4L302 616.4L302 615.8L304 616.5L304 613.0L306 614.9L306 616.5L308 615.6L308 614.7L310 615.4L310 616.1L312 616.6L312 616.0L314 615.7L314 615.5L316 615.5L316 614.8L318 616.5L318 615.0L320 615.8L320 614.8L322 615.9L322 615.3L324 615.9L324 613.7L326 615.0L326 611.8L328 616.0L328 616.7L330 615.2L330 615.2L332 615.8L332 616.0L334 616.2L334 615.9L336 615.5L336 616.0L338 615.7L338 616.1L340 615.5L340 614.7L342 615.0L342 616.6L344 615.1L344 616.8L346 614.7L346 615.1L348 615.3L348 611.6L350 616.0L350 614.7L352 616.5L352 616.0L354 615.3L354 614.4L356 616.4L356 612.5L358 616.6L358 615.9L360 616.7L360 614.6L362 615.6L362 615.5L364 615.9L364 616.2L366 616.1L366 615.7L368 616.8L368 616.5L370 616.0L370 614.8L372 614.8L372 613.5L374 615.3L374 615.4L376 613.6L376 615.4L378 615.5L378 616.8L380 616.1L380 612.0L382 613.3L382 612.2L384 615.7L384 614.6L386 616.6L386 614.6L388 615.9L388 614.6L390 615.9L390 616.3L392 616.6L392 614.7L394 616.2L394 614.3L396 616.1L396 616.6L398 615.7L398 616.1L400 615.5L400 615.5L402 615.8L402 616.7L404 615.8L404 615.8L406 615.1L406 616.2L408 615.0L408 616.5L410 616.2L410 615.1L412 613.5L412 615.0L414 616.0L414 616.7L416 614.9L416 615.6L418 616.6L418 615.3L420 616.4L420 613.8L422 615.5L422 614.9L424 614.7L424 615.5L426 615.8L426 615.2L428 615.1L428 614.6L430 615.3L430 614.6L432 615.9L432 614.9L434 614.9L434 613.3L436 616.1L436 616.3L438 614.8L438 615.8L440 613.9L440 616.7L442 615.7L442 614.2L444 615.8L444 615.7L446 615.4L446 615.5L448 616.6L448 615.1L450 615.3L450 615.4L452 616.1L452 615.1L454 616.7L454 615.1L456 615.3L456 615.6L458 615.8L458 611.8L460 615.6L460 615.9L462 616.4L462 615.6L464 615.4L464 616.3L466 615.7L466 615.4L468 616.3L468 614.4L470 613.0L470 615.8L472 612.5L472 616.6L474 615.9L474 612.9L476 610.9L476 608.4L478 609.1L478 612.2L480 615.1L480 614.9L482 614.5L482 615.1L484 616.0L484 615.6L486 616.4L486 616.0L488 615.3L488 615.7L490 615.2L490 616.3L492 615.5L492 616.6L494 615.7L494 615.3L496 616.2L496 614.7L498 616.7L498 615.7L500 615.4L500 615.3L502 615.0L502 615.0L504 615.2L504 614.6L506 615.9L506 616.2L508 615.0L508 613.0L510 615.8L510 615.1L512 616.1L512 617.1Z" fill="#1c5a8e" stroke="#1c5a8e" stroke-width="0.2"/>
<line x1="57.5" y1="617.1" x2="512" y2="617.1" stroke="#1c5a8e" stroke-width="0.9"/>
<text x="59" y="608" font-size="6.8" text-anchor="start" fill="#333" textLength="50.4" lengthAdjust="spacingAndGlyphs" >[0&#8211;0.54] H3K27ac</text>
<line x1="72" y1="622.6" x2="477.7" y2="622.6" stroke="#111" stroke-width="0.8"/>
<rect x="72" y="621.0" width="11.8" height="3.2" fill="#111"/>
<rect x="76" y="620.2" width="1.2" height="4.8" fill="#111"/><rect x="80" y="620.2" width="1.2" height="4.8" fill="#111"/>
<rect x="233.8" y="621.1" width="13.7" height="3" fill="#111"/>
<path d="M341 620.6 L346 622.6 L341 624.6Z" fill="#111"/>
<path d="M88 621.3000000000001 L89.3 622.6 L88 623.9" fill="none" stroke="#111" stroke-width="0.6"/>
<path d="M95.6 621.3000000000001 L96.89999999999999 622.6 L95.6 623.9" fill="none" stroke="#111" stroke-width="0.6"/>
<path d="M103.19999999999999 621.3000000000001 L104.49999999999999 622.6 L103.19999999999999 623.9" fill="none" stroke="#111" stroke-width="0.6"/>
<path d="M110.79999999999998 621.3000000000001 L112.09999999999998 622.6 L110.79999999999998 623.9" fill="none" stroke="#111" stroke-width="0.6"/>
<path d="M118.39999999999998 621.3000000000001 L119.69999999999997 622.6 L118.39999999999998 623.9" fill="none" stroke="#111" stroke-width="0.6"/>
<path d="M125.99999999999997 621.3000000000001 L127.29999999999997 622.6 L125.99999999999997 623.9" fill="none" stroke="#111" stroke-width="0.6"/>
<path d="M133.59999999999997 621.3000000000001 L134.89999999999998 622.6 L133.59999999999997 623.9" fill="none" stroke="#111" stroke-width="0.6"/>
<path d="M141.19999999999996 621.3000000000001 L142.49999999999997 622.6 L141.19999999999996 623.9" fill="none" stroke="#111" stroke-width="0.6"/>
<path d="M148.79999999999995 621.3000000000001 L150.09999999999997 622.6 L148.79999999999995 623.9" fill="none" stroke="#111" stroke-width="0.6"/>
<path d="M156.39999999999995 621.3000000000001 L157.69999999999996 622.6 L156.39999999999995 623.9" fill="none" stroke="#111" stroke-width="0.6"/>
<path d="M163.99999999999994 621.3000000000001 L165.29999999999995 622.6 L163.99999999999994 623.9" fill="none" stroke="#111" stroke-width="0.6"/>
<path d="M171.59999999999994 621.3000000000001 L172.89999999999995 622.6 L171.59999999999994 623.9" fill="none" stroke="#111" stroke-width="0.6"/>
<path d="M179.19999999999993 621.3000000000001 L180.49999999999994 622.6 L179.19999999999993 623.9" fill="none" stroke="#111" stroke-width="0.6"/>
<path d="M186.79999999999993 621.3000000000001 L188.09999999999994 622.6 L186.79999999999993 623.9" fill="none" stroke="#111" stroke-width="0.6"/>
<path d="M194.39999999999992 621.3000000000001 L195.69999999999993 622.6 L194.39999999999992 623.9" fill="none" stroke="#111" stroke-width="0.6"/>
<path d="M201.99999999999991 621.3000000000001 L203.29999999999993 622.6 L201.99999999999991 623.9" fill="none" stroke="#111" stroke-width="0.6"/>
<path d="M209.5999999999999 621.3000000000001 L210.89999999999992 622.6 L209.5999999999999 623.9" fill="none" stroke="#111" stroke-width="0.6"/>
<path d="M217.1999999999999 621.3000000000001 L218.49999999999991 622.6 L217.1999999999999 623.9" fill="none" stroke="#111" stroke-width="0.6"/>
<path d="M224.7999999999999 621.3000000000001 L226.0999999999999 622.6 L224.7999999999999 623.9" fill="none" stroke="#111" stroke-width="0.6"/>
<path d="M232.3999999999999 621.3000000000001 L233.6999999999999 622.6 L232.3999999999999 623.9" fill="none" stroke="#111" stroke-width="0.6"/>
<path d="M239.9999999999999 621.3000000000001 L241.2999999999999 622.6 L239.9999999999999 623.9" fill="none" stroke="#111" stroke-width="0.6"/>
<path d="M247.59999999999988 621.3000000000001 L248.8999999999999 622.6 L247.59999999999988 623.9" fill="none" stroke="#111" stroke-width="0.6"/>
<path d="M255.19999999999987 621.3000000000001 L256.4999999999999 622.6 L255.19999999999987 623.9" fill="none" stroke="#111" stroke-width="0.6"/>
<path d="M262.7999999999999 621.3000000000001 L264.0999999999999 622.6 L262.7999999999999 623.9" fill="none" stroke="#111" stroke-width="0.6"/>
<path d="M270.3999999999999 621.3000000000001 L271.69999999999993 622.6 L270.3999999999999 623.9" fill="none" stroke="#111" stroke-width="0.6"/>
<path d="M277.99999999999994 621.3000000000001 L279.29999999999995 622.6 L277.99999999999994 623.9" fill="none" stroke="#111" stroke-width="0.6"/>
<path d="M285.59999999999997 621.3000000000001 L286.9 622.6 L285.59999999999997 623.9" fill="none" stroke="#111" stroke-width="0.6"/>
<path d="M293.2 621.3000000000001 L294.5 622.6 L293.2 623.9" fill="none" stroke="#111" stroke-width="0.6"/>
<path d="M300.8 621.3000000000001 L302.1 622.6 L300.8 623.9" fill="none" stroke="#111" stroke-width="0.6"/>
<path d="M308.40000000000003 621.3000000000001 L309.70000000000005 622.6 L308.40000000000003 623.9" fill="none" stroke="#111" stroke-width="0.6"/>
<path d="M316.00000000000006 621.3000000000001 L317.30000000000007 622.6 L316.00000000000006 623.9" fill="none" stroke="#111" stroke-width="0.6"/>
<path d="M323.6000000000001 621.3000000000001 L324.9000000000001 622.6 L323.6000000000001 623.9" fill="none" stroke="#111" stroke-width="0.6"/>
<path d="M331.2000000000001 621.3000000000001 L332.5000000000001 622.6 L331.2000000000001 623.9" fill="none" stroke="#111" stroke-width="0.6"/>
<path d="M338.8000000000001 621.3000000000001 L340.10000000000014 622.6 L338.8000000000001 623.9" fill="none" stroke="#111" stroke-width="0.6"/>
<path d="M346.40000000000015 621.3000000000001 L347.70000000000016 622.6 L346.40000000000015 623.9" fill="none" stroke="#111" stroke-width="0.6"/>
<path d="M354.00000000000017 621.3000000000001 L355.3000000000002 622.6 L354.00000000000017 623.9" fill="none" stroke="#111" stroke-width="0.6"/>
<path d="M361.6000000000002 621.3000000000001 L362.9000000000002 622.6 L361.6000000000002 623.9" fill="none" stroke="#111" stroke-width="0.6"/>
<path d="M369.2000000000002 621.3000000000001 L370.5000000000002 622.6 L369.2000000000002 623.9" fill="none" stroke="#111" stroke-width="0.6"/>
<path d="M376.80000000000024 621.3000000000001 L378.10000000000025 622.6 L376.80000000000024 623.9" fill="none" stroke="#111" stroke-width="0.6"/>
<path d="M384.40000000000026 621.3000000000001 L385.7000000000003 622.6 L384.40000000000026 623.9" fill="none" stroke="#111" stroke-width="0.6"/>
<path d="M392.0000000000003 621.3000000000001 L393.3000000000003 622.6 L392.0000000000003 623.9" fill="none" stroke="#111" stroke-width="0.6"/>
<path d="M399.6000000000003 621.3000000000001 L400.9000000000003 622.6 L399.6000000000003 623.9" fill="none" stroke="#111" stroke-width="0.6"/>
<path d="M407.20000000000033 621.3000000000001 L408.50000000000034 622.6 L407.20000000000033 623.9" fill="none" stroke="#111" stroke-width="0.6"/>
<path d="M414.80000000000035 621.3000000000001 L416.10000000000036 622.6 L414.80000000000035 623.9" fill="none" stroke="#111" stroke-width="0.6"/>
<path d="M422.4000000000004 621.3000000000001 L423.7000000000004 622.6 L422.4000000000004 623.9" fill="none" stroke="#111" stroke-width="0.6"/>
<path d="M430.0000000000004 621.3000000000001 L431.3000000000004 622.6 L430.0000000000004 623.9" fill="none" stroke="#111" stroke-width="0.6"/>
<path d="M437.6000000000004 621.3000000000001 L438.90000000000043 622.6 L437.6000000000004 623.9" fill="none" stroke="#111" stroke-width="0.6"/>
<path d="M445.20000000000044 621.3000000000001 L446.50000000000045 622.6 L445.20000000000044 623.9" fill="none" stroke="#111" stroke-width="0.6"/>
<path d="M452.80000000000047 621.3000000000001 L454.1000000000005 622.6 L452.80000000000047 623.9" fill="none" stroke="#111" stroke-width="0.6"/>
<path d="M460.4000000000005 621.3000000000001 L461.7000000000005 622.6 L460.4000000000005 623.9" fill="none" stroke="#111" stroke-width="0.6"/>
<path d="M468.0000000000005 621.3000000000001 L469.3000000000005 622.6 L468.0000000000005 623.9" fill="none" stroke="#111" stroke-width="0.6"/>
<path d="M475.60000000000053 621.3000000000001 L476.90000000000055 622.6 L475.60000000000053 623.9" fill="none" stroke="#111" stroke-width="0.6"/>
<rect x="150" y="621.2" width="1.2" height="2.8" fill="#111"/>
<rect x="163" y="621.2" width="1.2" height="2.8" fill="#111"/>
<rect x="186" y="621.2" width="1.2" height="2.8" fill="#111"/>
<rect x="205" y="621.2" width="1.2" height="2.8" fill="#111"/>
<rect x="260" y="621.2" width="1.2" height="2.8" fill="#111"/>
<rect x="300" y="621.2" width="1.2" height="2.8" fill="#111"/>
<rect x="318" y="621.2" width="1.2" height="2.8" fill="#111"/>
<rect x="365" y="621.2" width="1.2" height="2.8" fill="#111"/>
<rect x="420" y="621.2" width="1.2" height="2.8" fill="#111"/>
<rect x="440" y="621.2" width="1.2" height="2.8" fill="#111"/>
<rect x="470" y="621.2" width="1.2" height="2.8" fill="#111"/>
<text x="268.8" y="637" font-size="9" text-anchor="start" fill="#111" textLength="28.7" lengthAdjust="spacingAndGlyphs" >Tspan9</text>
<text x="52.8" y="506.1" font-size="8.8" text-anchor="end" fill="#222" textLength="31.5" lengthAdjust="spacingAndGlyphs" >Controls</text>
<text x="52.8" y="553.8" font-size="8.8" text-anchor="end" fill="#c41e3a" font-style="italic" textLength="19" lengthAdjust="spacingAndGlyphs" >N1IC</text>
<text x="7.2" y="596.3" font-size="8.8" fill="#1c5a8e" font-style="italic" textLength="36.2" lengthAdjust="spacingAndGlyphs">N1IC Tcf7</text>
<text x="44" y="592.6999999999999" font-size="5" fill="#1c5a8e" font-style="italic" textLength="9" lengthAdjust="spacingAndGlyphs">&#916;/&#916;</text>
<text x="52.8" y="643.6" font-size="8.8" text-anchor="end" fill="#222" textLength="31.5" lengthAdjust="spacingAndGlyphs" >Controls</text>
<text x="52.8" y="657.3" font-size="8.8" text-anchor="end" fill="#c41e3a" font-style="italic" textLength="19" lengthAdjust="spacingAndGlyphs" >N1IC</text>
<text x="7.2" y="670.6" font-size="8.8" fill="#1c5a8e" font-style="italic" textLength="36.2" lengthAdjust="spacingAndGlyphs">N1IC Tcf7</text>
<text x="44" y="667.0" font-size="5" fill="#1c5a8e" font-style="italic" textLength="9" lengthAdjust="spacingAndGlyphs">&#916;/&#916;</text>
<rect x="57.5" y="640" width="78.30000000000001" height="3" fill="#1d4f80"/>
<rect x="135.8" y="640" width="376.99999999999994" height="3" fill="#d96a80"/>
<rect x="57.5" y="654" width="78.30000000000001" height="3" fill="#33a3d9"/>
<rect x="135.8" y="654" width="376.99999999999994" height="3" fill="#d96a80"/>
<rect x="57.5" y="667.8" width="455.29999999999995" height="3" fill="#33a3d9"/>
<text x="82.5" y="650.5" font-size="7.4" text-anchor="start" fill="#222" textLength="53.5" lengthAdjust="spacingAndGlyphs" >B.1.2.1.2.2.2.1.1</text>
<text x="309.3" y="650.2" font-size="7.4" text-anchor="start" fill="#222" textLength="60.5" lengthAdjust="spacingAndGlyphs" >A.2.1.1.2.1.2.2.2.1</text>
<text x="81" y="663.8" font-size="7.4" text-anchor="start" fill="#222" textLength="60" lengthAdjust="spacingAndGlyphs" >B.1.1.2.1.1.1.2.1.2</text>
<text x="310.6" y="663.6" font-size="7.4" text-anchor="start" fill="#222" textLength="55" lengthAdjust="spacingAndGlyphs" >A.2.1.1.2.2.2.2.2</text>
<text x="256.3" y="678.2" font-size="7.4" text-anchor="start" fill="#222" textLength="59.3" lengthAdjust="spacingAndGlyphs" >B.1.1.1.2.2.2.1.2.2</text>
<rect x="0.5" y="0.5" width="519" height="685" fill="none" stroke="#111" stroke-width="1.2"/>
</svg></body></html>
